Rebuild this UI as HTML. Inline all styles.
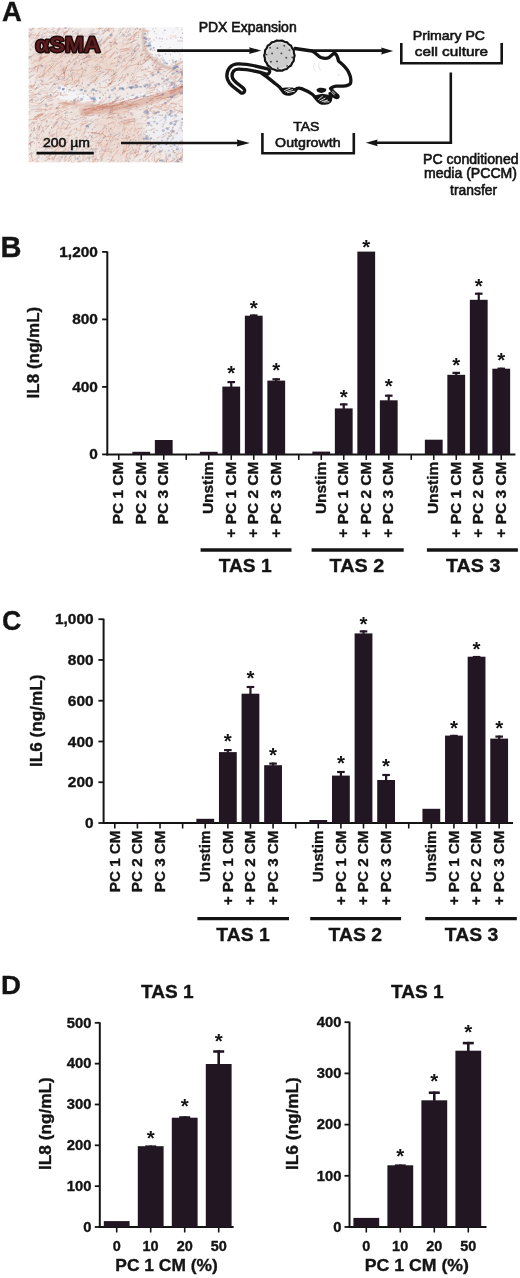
<!DOCTYPE html>
<html><head><meta charset="utf-8"><style>
html,body{margin:0;padding:0;background:#fff;}
svg{display:block;will-change:transform;}
text{-webkit-font-smoothing:antialiased;}
text{font-family:"Liberation Sans",sans-serif;}
</style></head><body>
<svg width="520" height="1278" viewBox="0 0 520 1278">
<rect width="520" height="1278" fill="#ffffff"/>
<defs><clipPath id="hc"><rect x="28.5" y="27.5" width="154.5" height="135.0"/></clipPath>
<filter id="b1" x="-10%" y="-10%" width="120%" height="120%"><feGaussianBlur stdDeviation="0.4"/></filter>
<filter id="b2" x="-30%" y="-30%" width="160%" height="160%"><feGaussianBlur stdDeviation="3"/></filter>
<filter id="b3" x="-30%" y="-30%" width="160%" height="160%"><feGaussianBlur stdDeviation="1.0"/></filter>
</defs>
<g clip-path="url(#hc)">
<rect x="28.5" y="27.5" width="154.5" height="135.0" fill="#efe8e5"/>
<g filter="url(#b2)">
<ellipse cx="70" cy="62" rx="40" ry="22" fill="#ebd2c6" opacity="0.6"/>
<ellipse cx="120" cy="60" rx="22" ry="20" fill="#ecd5ca" opacity="0.5"/>
<ellipse cx="60" cy="125" rx="30" ry="25" fill="#eedcd3" opacity="0.4"/>
<ellipse cx="118" cy="135" rx="25" ry="25" fill="#ebd0c4" opacity="0.55"/>
<ellipse cx="170" cy="40" rx="18" ry="16" fill="#f2f2f4" opacity="0.95"/>
<ellipse cx="172" cy="132" rx="13" ry="18" fill="#eceef3" opacity="0.85"/>
<ellipse cx="172" cy="88" rx="10" ry="9" fill="#eeeef2" opacity="0.8"/>
</g>
<g filter="url(#b3)">
<path d="M146,26 C144,36 145,46 151,54 C158,61 168,67 186,71 L186,26 Z" fill="#f6f6f8"/>
<path d="M54,92 C55,86 64,84 72,88 C82,94 95,99 110,99 C126,98 145,93 160,88 C170,85 178,82 186,79 L186,84 C176,88 165,93 152,97 C135,102 118,104 100,104 C85,103 70,101 60,99 C56,98 54,95 54,92 Z" fill="#f4f4f7"/>
<path d="M146,118 C152,113 170,112 186,114 L186,150 C175,152 160,150 152,146 C147,138 144,126 146,118 Z" fill="#eff0f4" opacity="0.8"/>
</g>
<g filter="url(#b1)">
<line x1="75.1" y1="48.2" x2="79.9" y2="43.4" stroke="#bd6a50" stroke-width="1.05" opacity="0.37"/>
<line x1="57.9" y1="38.8" x2="62.0" y2="34.5" stroke="#e0a892" stroke-width="0.78" opacity="0.18"/>
<line x1="125.5" y1="163.0" x2="126.9" y2="153.3" stroke="#d08068" stroke-width="0.62" opacity="0.36"/>
<line x1="89.6" y1="102.1" x2="96.0" y2="99.3" stroke="#b8a0a8" stroke-width="0.65" opacity="0.45"/>
<line x1="117.4" y1="115.5" x2="120.3" y2="113.7" stroke="#d08068" stroke-width="0.82" opacity="0.38"/>
<line x1="108.1" y1="135.6" x2="113.6" y2="132.6" stroke="#a8909a" stroke-width="0.69" opacity="0.28"/>
<line x1="51.6" y1="136.2" x2="57.1" y2="132.7" stroke="#bd6a50" stroke-width="0.71" opacity="0.42"/>
<line x1="143.9" y1="46.7" x2="150.1" y2="45.2" stroke="#d08068" stroke-width="0.59" opacity="0.51"/>
<line x1="113.1" y1="137.6" x2="117.0" y2="133.9" stroke="#a8909a" stroke-width="0.80" opacity="0.36"/>
<line x1="159.8" y1="160.8" x2="160.9" y2="154.6" stroke="#d8957e" stroke-width="0.94" opacity="0.17"/>
<line x1="127.3" y1="166.5" x2="131.4" y2="162.5" stroke="#bd6a50" stroke-width="0.80" opacity="0.16"/>
<line x1="51.5" y1="42.4" x2="53.4" y2="39.6" stroke="#cc8a70" stroke-width="0.69" opacity="0.20"/>
<line x1="85.2" y1="148.9" x2="91.3" y2="145.9" stroke="#c7745a" stroke-width="1.03" opacity="0.45"/>
<line x1="67.8" y1="84.4" x2="72.6" y2="81.7" stroke="#dba08a" stroke-width="0.63" opacity="0.50"/>
<line x1="51.0" y1="59.4" x2="56.6" y2="55.0" stroke="#cc8a70" stroke-width="0.63" opacity="0.25"/>
<line x1="108.7" y1="110.2" x2="113.9" y2="110.7" stroke="#c7745a" stroke-width="0.83" opacity="0.41"/>
<line x1="120.7" y1="118.3" x2="128.6" y2="121.4" stroke="#b8a0a8" stroke-width="0.77" opacity="0.30"/>
<line x1="40.4" y1="114.0" x2="43.8" y2="113.9" stroke="#d8957e" stroke-width="0.79" opacity="0.51"/>
<line x1="39.8" y1="109.0" x2="46.5" y2="109.4" stroke="#bd6a50" stroke-width="0.59" opacity="0.38"/>
<line x1="55.4" y1="79.0" x2="62.3" y2="76.1" stroke="#bd6a50" stroke-width="0.81" opacity="0.37"/>
<line x1="41.4" y1="93.0" x2="46.6" y2="93.6" stroke="#c7745a" stroke-width="0.74" opacity="0.19"/>
<line x1="67.0" y1="143.2" x2="69.0" y2="139.6" stroke="#d08068" stroke-width="1.07" opacity="0.23"/>
<line x1="81.1" y1="121.3" x2="86.1" y2="122.3" stroke="#d8957e" stroke-width="0.69" opacity="0.41"/>
<line x1="82.2" y1="51.7" x2="86.5" y2="44.4" stroke="#b8a0a8" stroke-width="0.83" opacity="0.35"/>
<line x1="125.5" y1="111.3" x2="129.8" y2="110.7" stroke="#e0a892" stroke-width="0.96" opacity="0.45"/>
<line x1="29.6" y1="30.8" x2="30.8" y2="26.0" stroke="#cc8a70" stroke-width="0.88" opacity="0.22"/>
<line x1="78.3" y1="142.7" x2="83.2" y2="134.3" stroke="#d8957e" stroke-width="0.67" opacity="0.23"/>
<line x1="55.2" y1="56.5" x2="58.9" y2="50.1" stroke="#9a8896" stroke-width="0.81" opacity="0.46"/>
<line x1="125.8" y1="138.6" x2="134.8" y2="135.9" stroke="#e0a892" stroke-width="0.65" opacity="0.33"/>
<line x1="147.9" y1="71.7" x2="156.4" y2="71.1" stroke="#dba08a" stroke-width="0.96" opacity="0.32"/>
<line x1="36.2" y1="48.9" x2="42.1" y2="44.9" stroke="#a8909a" stroke-width="0.63" opacity="0.45"/>
<line x1="156.0" y1="165.8" x2="160.3" y2="159.6" stroke="#bd6a50" stroke-width="0.85" opacity="0.21"/>
<line x1="26.7" y1="140.7" x2="31.2" y2="133.7" stroke="#c7745a" stroke-width="1.03" opacity="0.31"/>
<line x1="156.2" y1="55.7" x2="160.0" y2="52.8" stroke="#cc8a70" stroke-width="0.97" opacity="0.34"/>
<line x1="73.8" y1="102.1" x2="81.8" y2="100.4" stroke="#a8909a" stroke-width="1.00" opacity="0.40"/>
<line x1="106.4" y1="145.2" x2="110.4" y2="137.0" stroke="#c7745a" stroke-width="0.84" opacity="0.35"/>
<line x1="24.6" y1="88.3" x2="32.4" y2="84.8" stroke="#c7745a" stroke-width="0.89" opacity="0.20"/>
<line x1="41.8" y1="35.6" x2="47.9" y2="30.8" stroke="#b8a0a8" stroke-width="0.98" opacity="0.36"/>
<line x1="38.5" y1="104.6" x2="46.6" y2="102.4" stroke="#b8a0a8" stroke-width="0.57" opacity="0.32"/>
<line x1="179.5" y1="110.0" x2="183.9" y2="109.9" stroke="#cc8a70" stroke-width="0.84" opacity="0.32"/>
<line x1="100.9" y1="161.9" x2="103.5" y2="152.6" stroke="#cc8a70" stroke-width="1.04" opacity="0.49"/>
<line x1="57.5" y1="90.5" x2="58.6" y2="84.7" stroke="#dba08a" stroke-width="0.59" opacity="0.31"/>
<line x1="61.7" y1="38.8" x2="66.5" y2="30.8" stroke="#c7745a" stroke-width="0.90" opacity="0.50"/>
<line x1="83.7" y1="62.1" x2="84.8" y2="58.3" stroke="#a8909a" stroke-width="1.07" opacity="0.23"/>
<line x1="86.5" y1="94.1" x2="92.3" y2="92.3" stroke="#b8a0a8" stroke-width="0.78" opacity="0.30"/>
<line x1="81.0" y1="39.7" x2="84.5" y2="35.3" stroke="#bd6a50" stroke-width="0.79" opacity="0.35"/>
<line x1="27.5" y1="72.7" x2="29.3" y2="69.8" stroke="#e0a892" stroke-width="0.61" opacity="0.51"/>
<line x1="65.9" y1="33.7" x2="70.3" y2="26.5" stroke="#cc8a70" stroke-width="1.00" opacity="0.43"/>
<line x1="159.1" y1="121.6" x2="164.6" y2="118.0" stroke="#a8909a" stroke-width="0.60" opacity="0.41"/>
<line x1="31.7" y1="121.7" x2="37.7" y2="121.4" stroke="#d8957e" stroke-width="0.56" opacity="0.25"/>
<line x1="38.2" y1="63.2" x2="41.2" y2="59.3" stroke="#d8957e" stroke-width="0.74" opacity="0.32"/>
<line x1="113.4" y1="157.4" x2="115.2" y2="152.9" stroke="#c7745a" stroke-width="0.94" opacity="0.17"/>
<line x1="173.4" y1="165.1" x2="178.7" y2="157.2" stroke="#cc8a70" stroke-width="0.66" opacity="0.35"/>
<line x1="94.6" y1="119.4" x2="99.5" y2="119.1" stroke="#d08068" stroke-width="0.57" opacity="0.52"/>
<line x1="26.1" y1="95.5" x2="30.8" y2="96.1" stroke="#a8909a" stroke-width="1.00" opacity="0.19"/>
<line x1="92.4" y1="95.7" x2="97.4" y2="92.9" stroke="#b8a0a8" stroke-width="0.67" opacity="0.26"/>
<line x1="60.4" y1="53.0" x2="64.3" y2="52.0" stroke="#bd6a50" stroke-width="1.01" opacity="0.51"/>
<line x1="24.0" y1="115.3" x2="31.6" y2="110.1" stroke="#dba08a" stroke-width="0.60" opacity="0.21"/>
<line x1="159.2" y1="149.4" x2="161.8" y2="145.1" stroke="#a8909a" stroke-width="0.70" opacity="0.22"/>
<line x1="23.7" y1="76.9" x2="28.5" y2="74.8" stroke="#b8a0a8" stroke-width="0.57" opacity="0.27"/>
<line x1="77.7" y1="38.0" x2="81.0" y2="34.6" stroke="#d08068" stroke-width="1.00" opacity="0.18"/>
<line x1="45.8" y1="106.7" x2="51.4" y2="107.8" stroke="#cc8a70" stroke-width="0.68" opacity="0.26"/>
<line x1="115.9" y1="100.8" x2="123.1" y2="97.4" stroke="#9a8896" stroke-width="0.73" opacity="0.29"/>
<line x1="127.4" y1="34.9" x2="130.1" y2="26.5" stroke="#b8a0a8" stroke-width="0.95" opacity="0.38"/>
<line x1="103.6" y1="144.3" x2="109.3" y2="140.1" stroke="#e0a892" stroke-width="0.57" opacity="0.18"/>
<line x1="128.6" y1="162.5" x2="126.9" y2="157.1" stroke="#a8909a" stroke-width="0.90" opacity="0.36"/>
<line x1="121.9" y1="121.7" x2="130.1" y2="119.3" stroke="#b8a0a8" stroke-width="0.60" opacity="0.48"/>
<line x1="108.1" y1="132.2" x2="111.7" y2="127.1" stroke="#d8957e" stroke-width="0.68" opacity="0.46"/>
<line x1="143.7" y1="60.1" x2="150.2" y2="54.0" stroke="#d8957e" stroke-width="0.93" opacity="0.33"/>
<line x1="145.4" y1="113.4" x2="151.8" y2="109.6" stroke="#d8957e" stroke-width="0.73" opacity="0.37"/>
<line x1="127.1" y1="123.4" x2="133.0" y2="121.0" stroke="#a8909a" stroke-width="0.92" opacity="0.25"/>
<line x1="134.3" y1="120.7" x2="138.9" y2="118.8" stroke="#b8a0a8" stroke-width="0.81" opacity="0.26"/>
<line x1="148.3" y1="166.3" x2="149.0" y2="162.8" stroke="#a8909a" stroke-width="0.80" opacity="0.16"/>
<line x1="155.7" y1="163.7" x2="158.5" y2="158.3" stroke="#cc8a70" stroke-width="1.05" opacity="0.29"/>
<line x1="143.0" y1="64.2" x2="147.9" y2="58.6" stroke="#cc8a70" stroke-width="0.94" opacity="0.48"/>
<line x1="59.7" y1="152.4" x2="65.6" y2="149.8" stroke="#d08068" stroke-width="1.07" opacity="0.21"/>
<line x1="132.8" y1="83.6" x2="136.9" y2="79.7" stroke="#d8957e" stroke-width="0.55" opacity="0.46"/>
<line x1="145.9" y1="144.7" x2="146.1" y2="140.9" stroke="#e0a892" stroke-width="1.05" opacity="0.41"/>
<line x1="72.8" y1="80.5" x2="71.2" y2="73.5" stroke="#bd6a50" stroke-width="0.97" opacity="0.49"/>
<line x1="161.3" y1="63.0" x2="163.9" y2="65.1" stroke="#cc8a70" stroke-width="0.63" opacity="0.38"/>
<line x1="178.3" y1="89.0" x2="184.4" y2="83.0" stroke="#dba08a" stroke-width="1.00" opacity="0.48"/>
<line x1="122.0" y1="153.9" x2="131.5" y2="152.7" stroke="#b8a0a8" stroke-width="0.59" opacity="0.23"/>
<line x1="171.7" y1="85.1" x2="179.0" y2="79.7" stroke="#a8909a" stroke-width="1.06" opacity="0.17"/>
<line x1="43.7" y1="92.6" x2="48.1" y2="89.5" stroke="#cc8a70" stroke-width="0.96" opacity="0.24"/>
<line x1="127.3" y1="84.2" x2="133.3" y2="79.4" stroke="#d8957e" stroke-width="0.64" opacity="0.21"/>
<line x1="55.8" y1="153.4" x2="61.9" y2="151.1" stroke="#e0a892" stroke-width="0.73" opacity="0.32"/>
<line x1="145.9" y1="86.3" x2="148.9" y2="83.3" stroke="#b8a0a8" stroke-width="0.68" opacity="0.18"/>
<line x1="62.6" y1="106.3" x2="71.3" y2="103.3" stroke="#dba08a" stroke-width="0.96" opacity="0.29"/>
<line x1="56.5" y1="64.8" x2="61.9" y2="60.4" stroke="#bd6a50" stroke-width="0.83" opacity="0.20"/>
<line x1="126.6" y1="148.4" x2="126.5" y2="143.9" stroke="#cc8a70" stroke-width="0.76" opacity="0.48"/>
<line x1="125.7" y1="88.8" x2="132.6" y2="82.0" stroke="#c7745a" stroke-width="0.94" opacity="0.16"/>
<line x1="166.0" y1="89.9" x2="172.5" y2="92.6" stroke="#d08068" stroke-width="1.06" opacity="0.18"/>
<line x1="172.0" y1="102.4" x2="176.9" y2="95.5" stroke="#e0a892" stroke-width="0.84" opacity="0.21"/>
<line x1="132.3" y1="160.3" x2="137.6" y2="154.2" stroke="#a8909a" stroke-width="0.98" opacity="0.18"/>
<line x1="22.9" y1="45.1" x2="28.5" y2="39.4" stroke="#c7745a" stroke-width="0.84" opacity="0.38"/>
<line x1="94.7" y1="133.8" x2="96.7" y2="130.6" stroke="#cc8a70" stroke-width="0.87" opacity="0.34"/>
<line x1="85.9" y1="57.8" x2="89.7" y2="54.3" stroke="#a8909a" stroke-width="0.72" opacity="0.25"/>
<line x1="157.3" y1="60.2" x2="163.2" y2="57.1" stroke="#b8a0a8" stroke-width="1.08" opacity="0.24"/>
<line x1="134.9" y1="68.8" x2="142.3" y2="66.9" stroke="#dba08a" stroke-width="0.68" opacity="0.18"/>
<line x1="91.0" y1="78.6" x2="96.2" y2="74.8" stroke="#bd6a50" stroke-width="0.75" opacity="0.42"/>
<line x1="88.0" y1="26.8" x2="90.2" y2="24.1" stroke="#a8909a" stroke-width="0.72" opacity="0.51"/>
<line x1="155.1" y1="56.0" x2="159.1" y2="58.1" stroke="#cc8a70" stroke-width="0.89" opacity="0.19"/>
<line x1="124.3" y1="152.4" x2="122.6" y2="149.4" stroke="#9a8896" stroke-width="0.77" opacity="0.20"/>
<line x1="58.4" y1="163.4" x2="61.0" y2="160.3" stroke="#d08068" stroke-width="0.65" opacity="0.41"/>
<line x1="96.0" y1="125.5" x2="99.4" y2="124.3" stroke="#c7745a" stroke-width="0.65" opacity="0.27"/>
<line x1="129.7" y1="79.3" x2="134.6" y2="76.5" stroke="#bd6a50" stroke-width="0.61" opacity="0.31"/>
<line x1="37.5" y1="39.3" x2="38.7" y2="32.5" stroke="#e0a892" stroke-width="0.97" opacity="0.29"/>
<line x1="73.4" y1="138.6" x2="76.7" y2="137.1" stroke="#a8909a" stroke-width="0.85" opacity="0.22"/>
<line x1="94.4" y1="72.6" x2="99.9" y2="67.6" stroke="#e0a892" stroke-width="0.97" opacity="0.45"/>
<line x1="31.3" y1="31.0" x2="32.8" y2="27.9" stroke="#d08068" stroke-width="0.96" opacity="0.25"/>
<line x1="166.7" y1="74.4" x2="172.7" y2="70.2" stroke="#cc8a70" stroke-width="0.93" opacity="0.43"/>
<line x1="171.0" y1="63.6" x2="176.7" y2="69.3" stroke="#9a8896" stroke-width="0.90" opacity="0.49"/>
<line x1="99.6" y1="160.5" x2="103.9" y2="158.3" stroke="#dba08a" stroke-width="0.62" opacity="0.45"/>
<line x1="101.9" y1="29.2" x2="108.5" y2="22.3" stroke="#cc8a70" stroke-width="0.98" opacity="0.45"/>
<line x1="120.2" y1="73.9" x2="125.8" y2="67.5" stroke="#d8957e" stroke-width="0.77" opacity="0.34"/>
<line x1="47.6" y1="83.4" x2="54.7" y2="80.6" stroke="#a8909a" stroke-width="0.73" opacity="0.35"/>
<line x1="181.8" y1="150.6" x2="183.9" y2="147.5" stroke="#a8909a" stroke-width="1.08" opacity="0.52"/>
<line x1="50.6" y1="44.8" x2="56.0" y2="41.6" stroke="#e0a892" stroke-width="1.02" opacity="0.43"/>
<line x1="129.1" y1="43.3" x2="135.2" y2="39.8" stroke="#bd6a50" stroke-width="0.69" opacity="0.24"/>
<line x1="94.7" y1="52.6" x2="97.3" y2="48.8" stroke="#cc8a70" stroke-width="0.87" opacity="0.48"/>
<line x1="75.6" y1="80.9" x2="80.1" y2="79.8" stroke="#d8957e" stroke-width="1.10" opacity="0.39"/>
<line x1="38.0" y1="93.4" x2="45.8" y2="89.5" stroke="#a8909a" stroke-width="0.57" opacity="0.49"/>
<line x1="69.3" y1="42.4" x2="76.0" y2="40.2" stroke="#d8957e" stroke-width="1.03" opacity="0.29"/>
<line x1="93.5" y1="60.1" x2="101.7" y2="62.2" stroke="#d08068" stroke-width="0.88" opacity="0.19"/>
<line x1="123.5" y1="56.8" x2="126.5" y2="53.5" stroke="#cc8a70" stroke-width="0.95" opacity="0.16"/>
<line x1="170.0" y1="141.4" x2="174.3" y2="137.4" stroke="#bd6a50" stroke-width="0.72" opacity="0.22"/>
<line x1="57.4" y1="138.3" x2="58.9" y2="134.9" stroke="#dba08a" stroke-width="0.64" opacity="0.40"/>
<line x1="108.4" y1="117.4" x2="114.0" y2="115.7" stroke="#cc8a70" stroke-width="0.71" opacity="0.30"/>
<line x1="73.9" y1="161.5" x2="75.8" y2="156.3" stroke="#dba08a" stroke-width="0.97" opacity="0.16"/>
<line x1="87.6" y1="158.3" x2="93.4" y2="156.3" stroke="#c7745a" stroke-width="1.00" opacity="0.31"/>
<line x1="90.2" y1="150.5" x2="91.2" y2="147.5" stroke="#b8a0a8" stroke-width="0.99" opacity="0.20"/>
<line x1="84.5" y1="106.3" x2="93.8" y2="104.3" stroke="#b8a0a8" stroke-width="0.74" opacity="0.21"/>
<line x1="47.6" y1="50.2" x2="55.4" y2="47.3" stroke="#e0a892" stroke-width="1.01" opacity="0.26"/>
<line x1="30.6" y1="155.0" x2="34.4" y2="151.4" stroke="#9a8896" stroke-width="0.76" opacity="0.49"/>
<line x1="166.4" y1="112.7" x2="174.8" y2="111.2" stroke="#e0a892" stroke-width="0.89" opacity="0.38"/>
<line x1="54.3" y1="93.4" x2="59.7" y2="89.0" stroke="#d08068" stroke-width="0.83" opacity="0.30"/>
<line x1="83.5" y1="44.8" x2="90.7" y2="38.9" stroke="#d08068" stroke-width="1.01" opacity="0.48"/>
<line x1="130.8" y1="118.0" x2="136.0" y2="119.3" stroke="#dba08a" stroke-width="0.85" opacity="0.37"/>
<line x1="124.9" y1="70.4" x2="127.4" y2="65.0" stroke="#bd6a50" stroke-width="0.79" opacity="0.32"/>
<line x1="26.0" y1="112.0" x2="32.5" y2="111.6" stroke="#e0a892" stroke-width="0.89" opacity="0.32"/>
<line x1="155.7" y1="144.9" x2="158.1" y2="140.0" stroke="#bd6a50" stroke-width="0.79" opacity="0.18"/>
<line x1="104.3" y1="32.4" x2="110.4" y2="28.1" stroke="#d8957e" stroke-width="0.72" opacity="0.49"/>
<line x1="138.2" y1="38.2" x2="144.0" y2="33.4" stroke="#c7745a" stroke-width="0.59" opacity="0.16"/>
<line x1="122.9" y1="123.7" x2="125.2" y2="120.6" stroke="#c7745a" stroke-width="0.82" opacity="0.51"/>
<line x1="174.8" y1="155.9" x2="183.2" y2="151.4" stroke="#d8957e" stroke-width="0.89" opacity="0.46"/>
<line x1="62.4" y1="70.6" x2="69.6" y2="69.7" stroke="#a8909a" stroke-width="0.83" opacity="0.20"/>
<line x1="104.9" y1="70.4" x2="108.6" y2="68.6" stroke="#cc8a70" stroke-width="1.04" opacity="0.40"/>
<line x1="51.4" y1="136.6" x2="53.8" y2="133.7" stroke="#b8a0a8" stroke-width="1.02" opacity="0.17"/>
<line x1="178.8" y1="92.7" x2="182.4" y2="84.1" stroke="#cc8a70" stroke-width="0.90" opacity="0.52"/>
<line x1="87.6" y1="139.1" x2="89.9" y2="134.8" stroke="#bd6a50" stroke-width="0.75" opacity="0.36"/>
<line x1="146.6" y1="87.0" x2="149.9" y2="86.7" stroke="#b8a0a8" stroke-width="0.90" opacity="0.24"/>
<line x1="179.7" y1="106.3" x2="187.2" y2="107.9" stroke="#bd6a50" stroke-width="0.96" opacity="0.42"/>
<line x1="59.5" y1="67.8" x2="62.6" y2="63.2" stroke="#d08068" stroke-width="0.67" opacity="0.20"/>
<line x1="129.5" y1="28.9" x2="131.2" y2="26.4" stroke="#bd6a50" stroke-width="0.84" opacity="0.26"/>
<line x1="109.2" y1="84.7" x2="113.2" y2="80.8" stroke="#a8909a" stroke-width="0.56" opacity="0.21"/>
<line x1="32.4" y1="46.7" x2="39.1" y2="43.1" stroke="#cc8a70" stroke-width="0.70" opacity="0.30"/>
<line x1="24.1" y1="117.3" x2="30.6" y2="113.5" stroke="#a8909a" stroke-width="0.83" opacity="0.37"/>
<line x1="103.6" y1="48.9" x2="105.6" y2="46.7" stroke="#d08068" stroke-width="0.77" opacity="0.35"/>
<line x1="61.0" y1="34.9" x2="66.3" y2="30.6" stroke="#e0a892" stroke-width="0.66" opacity="0.20"/>
<line x1="70.3" y1="34.5" x2="77.0" y2="28.2" stroke="#a8909a" stroke-width="0.55" opacity="0.41"/>
<line x1="38.5" y1="58.7" x2="46.3" y2="55.8" stroke="#cc8a70" stroke-width="0.70" opacity="0.41"/>
<line x1="110.4" y1="87.4" x2="118.4" y2="84.6" stroke="#b8a0a8" stroke-width="0.71" opacity="0.51"/>
<line x1="172.6" y1="151.4" x2="176.4" y2="149.7" stroke="#e0a892" stroke-width="0.66" opacity="0.46"/>
<line x1="49.3" y1="154.8" x2="52.8" y2="152.2" stroke="#dba08a" stroke-width="0.68" opacity="0.27"/>
<line x1="166.7" y1="115.5" x2="175.7" y2="111.4" stroke="#a8909a" stroke-width="0.84" opacity="0.32"/>
<line x1="24.9" y1="32.8" x2="28.1" y2="23.7" stroke="#e0a892" stroke-width="0.72" opacity="0.36"/>
<line x1="57.6" y1="111.6" x2="61.4" y2="113.0" stroke="#d08068" stroke-width="0.89" opacity="0.19"/>
<line x1="47.9" y1="163.9" x2="55.1" y2="160.7" stroke="#d08068" stroke-width="0.93" opacity="0.17"/>
<line x1="123.8" y1="123.7" x2="130.7" y2="121.8" stroke="#bd6a50" stroke-width="1.08" opacity="0.22"/>
<line x1="106.9" y1="119.8" x2="115.4" y2="116.5" stroke="#dba08a" stroke-width="0.66" opacity="0.19"/>
<line x1="39.9" y1="30.4" x2="47.0" y2="28.3" stroke="#cc8a70" stroke-width="0.62" opacity="0.33"/>
<line x1="78.7" y1="63.9" x2="80.3" y2="58.7" stroke="#cc8a70" stroke-width="0.97" opacity="0.17"/>
<line x1="170.9" y1="137.0" x2="172.4" y2="128.9" stroke="#dba08a" stroke-width="0.84" opacity="0.16"/>
<line x1="39.7" y1="91.2" x2="42.8" y2="90.0" stroke="#9a8896" stroke-width="1.02" opacity="0.23"/>
<line x1="38.8" y1="141.9" x2="41.4" y2="138.3" stroke="#d08068" stroke-width="0.82" opacity="0.15"/>
<line x1="103.1" y1="138.6" x2="105.7" y2="135.1" stroke="#a8909a" stroke-width="1.08" opacity="0.37"/>
<line x1="103.4" y1="105.8" x2="113.0" y2="106.2" stroke="#e0a892" stroke-width="0.61" opacity="0.33"/>
<line x1="123.4" y1="36.4" x2="131.9" y2="35.5" stroke="#b8a0a8" stroke-width="0.90" opacity="0.44"/>
<line x1="82.2" y1="82.8" x2="83.0" y2="79.3" stroke="#d08068" stroke-width="0.72" opacity="0.29"/>
<line x1="92.1" y1="101.0" x2="96.3" y2="101.6" stroke="#e0a892" stroke-width="0.62" opacity="0.50"/>
<line x1="117.5" y1="122.8" x2="124.2" y2="120.5" stroke="#b8a0a8" stroke-width="1.01" opacity="0.21"/>
<line x1="130.7" y1="130.9" x2="132.8" y2="127.3" stroke="#a8909a" stroke-width="0.69" opacity="0.40"/>
<line x1="61.0" y1="74.5" x2="64.2" y2="68.7" stroke="#cc8a70" stroke-width="0.94" opacity="0.26"/>
<line x1="63.9" y1="73.6" x2="66.6" y2="67.5" stroke="#c7745a" stroke-width="1.08" opacity="0.24"/>
<line x1="64.0" y1="161.4" x2="70.1" y2="156.9" stroke="#e0a892" stroke-width="1.09" opacity="0.29"/>
<line x1="55.2" y1="115.0" x2="58.8" y2="114.0" stroke="#e0a892" stroke-width="0.81" opacity="0.48"/>
<line x1="26.2" y1="149.7" x2="28.8" y2="140.2" stroke="#cc8a70" stroke-width="0.63" opacity="0.32"/>
<line x1="119.0" y1="83.8" x2="125.8" y2="79.3" stroke="#dba08a" stroke-width="0.87" opacity="0.41"/>
<line x1="128.3" y1="148.2" x2="130.4" y2="139.3" stroke="#9a8896" stroke-width="0.92" opacity="0.47"/>
<line x1="125.2" y1="41.0" x2="127.5" y2="35.6" stroke="#dba08a" stroke-width="0.90" opacity="0.41"/>
<line x1="64.6" y1="87.0" x2="66.7" y2="81.5" stroke="#c7745a" stroke-width="0.73" opacity="0.48"/>
<line x1="23.8" y1="145.0" x2="30.6" y2="138.6" stroke="#d8957e" stroke-width="0.85" opacity="0.16"/>
<line x1="49.6" y1="135.4" x2="53.0" y2="134.1" stroke="#9a8896" stroke-width="0.66" opacity="0.32"/>
<line x1="99.1" y1="30.0" x2="104.6" y2="23.5" stroke="#bd6a50" stroke-width="0.78" opacity="0.34"/>
<line x1="85.8" y1="131.7" x2="91.2" y2="132.4" stroke="#d08068" stroke-width="0.76" opacity="0.24"/>
<line x1="30.7" y1="34.8" x2="40.1" y2="35.4" stroke="#bd6a50" stroke-width="0.61" opacity="0.36"/>
<line x1="69.4" y1="79.6" x2="79.0" y2="82.4" stroke="#dba08a" stroke-width="0.64" opacity="0.32"/>
<line x1="53.0" y1="117.0" x2="60.0" y2="113.1" stroke="#c7745a" stroke-width="0.90" opacity="0.28"/>
<line x1="70.0" y1="101.4" x2="75.4" y2="102.2" stroke="#e0a892" stroke-width="0.76" opacity="0.25"/>
<line x1="64.1" y1="85.0" x2="68.3" y2="84.2" stroke="#d08068" stroke-width="0.99" opacity="0.45"/>
<line x1="79.6" y1="118.3" x2="86.3" y2="115.3" stroke="#d8957e" stroke-width="0.75" opacity="0.39"/>
<line x1="154.5" y1="153.9" x2="162.3" y2="150.5" stroke="#c7745a" stroke-width="0.74" opacity="0.35"/>
<line x1="116.5" y1="117.8" x2="121.4" y2="116.6" stroke="#9a8896" stroke-width="0.63" opacity="0.19"/>
<line x1="61.0" y1="135.8" x2="65.0" y2="132.1" stroke="#c7745a" stroke-width="0.77" opacity="0.23"/>
<line x1="109.8" y1="111.5" x2="112.8" y2="109.4" stroke="#b8a0a8" stroke-width="1.01" opacity="0.44"/>
<line x1="55.5" y1="125.1" x2="58.8" y2="119.3" stroke="#a8909a" stroke-width="0.61" opacity="0.40"/>
<line x1="41.5" y1="85.2" x2="47.5" y2="81.9" stroke="#a8909a" stroke-width="0.63" opacity="0.32"/>
<line x1="97.4" y1="105.9" x2="103.8" y2="101.7" stroke="#a8909a" stroke-width="0.78" opacity="0.29"/>
<line x1="125.6" y1="32.9" x2="129.6" y2="24.2" stroke="#bd6a50" stroke-width="0.60" opacity="0.45"/>
<line x1="103.0" y1="133.3" x2="103.4" y2="129.3" stroke="#e0a892" stroke-width="0.89" opacity="0.42"/>
<line x1="79.1" y1="149.3" x2="80.6" y2="142.7" stroke="#e0a892" stroke-width="0.74" opacity="0.26"/>
<line x1="63.5" y1="32.9" x2="68.2" y2="31.0" stroke="#bd6a50" stroke-width="0.77" opacity="0.46"/>
<line x1="107.0" y1="66.5" x2="105.7" y2="59.1" stroke="#d8957e" stroke-width="0.72" opacity="0.27"/>
<line x1="70.0" y1="108.3" x2="77.1" y2="106.1" stroke="#d08068" stroke-width="0.85" opacity="0.30"/>
<line x1="89.1" y1="106.1" x2="92.2" y2="104.8" stroke="#a8909a" stroke-width="0.91" opacity="0.38"/>
<line x1="149.6" y1="155.4" x2="154.6" y2="150.1" stroke="#9a8896" stroke-width="0.92" opacity="0.20"/>
<line x1="133.6" y1="150.8" x2="138.6" y2="145.3" stroke="#c7745a" stroke-width="0.65" opacity="0.19"/>
<line x1="28.5" y1="137.3" x2="34.4" y2="130.1" stroke="#d08068" stroke-width="1.00" opacity="0.29"/>
<line x1="148.9" y1="104.6" x2="154.6" y2="102.9" stroke="#bd6a50" stroke-width="0.86" opacity="0.16"/>
<line x1="115.5" y1="155.0" x2="121.1" y2="151.7" stroke="#b8a0a8" stroke-width="0.62" opacity="0.16"/>
<line x1="154.0" y1="105.6" x2="157.1" y2="105.7" stroke="#dba08a" stroke-width="1.10" opacity="0.37"/>
<line x1="128.7" y1="49.7" x2="133.9" y2="43.1" stroke="#b8a0a8" stroke-width="0.90" opacity="0.19"/>
<line x1="56.5" y1="48.3" x2="62.6" y2="43.5" stroke="#d8957e" stroke-width="1.02" opacity="0.52"/>
<line x1="58.1" y1="43.6" x2="63.0" y2="39.6" stroke="#cc8a70" stroke-width="0.68" opacity="0.42"/>
<line x1="139.2" y1="51.2" x2="147.2" y2="50.7" stroke="#c7745a" stroke-width="0.60" opacity="0.42"/>
<line x1="123.3" y1="124.8" x2="129.5" y2="124.2" stroke="#cc8a70" stroke-width="0.58" opacity="0.49"/>
<line x1="27.1" y1="34.0" x2="34.2" y2="32.1" stroke="#dba08a" stroke-width="0.95" opacity="0.27"/>
<line x1="51.9" y1="149.1" x2="52.4" y2="142.7" stroke="#d08068" stroke-width="1.07" opacity="0.27"/>
<line x1="177.4" y1="40.9" x2="183.8" y2="41.0" stroke="#a8909a" stroke-width="0.98" opacity="0.50"/>
<line x1="114.8" y1="65.9" x2="118.2" y2="65.5" stroke="#9a8896" stroke-width="0.88" opacity="0.27"/>
<line x1="180.5" y1="145.9" x2="184.2" y2="137.5" stroke="#dba08a" stroke-width="0.76" opacity="0.29"/>
<line x1="146.2" y1="57.4" x2="152.4" y2="57.7" stroke="#d08068" stroke-width="0.70" opacity="0.27"/>
<line x1="49.2" y1="156.2" x2="52.3" y2="152.4" stroke="#c7745a" stroke-width="1.03" opacity="0.45"/>
<line x1="116.4" y1="67.5" x2="118.2" y2="58.7" stroke="#b8a0a8" stroke-width="1.05" opacity="0.40"/>
<line x1="80.7" y1="38.6" x2="81.7" y2="34.3" stroke="#e0a892" stroke-width="0.58" opacity="0.26"/>
<line x1="84.7" y1="126.4" x2="93.3" y2="122.3" stroke="#9a8896" stroke-width="0.99" opacity="0.43"/>
<line x1="97.2" y1="37.9" x2="101.4" y2="35.8" stroke="#9a8896" stroke-width="0.69" opacity="0.34"/>
<line x1="158.1" y1="72.8" x2="160.4" y2="66.7" stroke="#e0a892" stroke-width="0.66" opacity="0.22"/>
<line x1="52.0" y1="124.8" x2="57.0" y2="121.9" stroke="#b8a0a8" stroke-width="0.69" opacity="0.47"/>
<line x1="169.1" y1="93.9" x2="178.1" y2="94.2" stroke="#bd6a50" stroke-width="0.98" opacity="0.38"/>
<line x1="49.2" y1="109.4" x2="52.0" y2="108.0" stroke="#d08068" stroke-width="1.03" opacity="0.23"/>
<line x1="114.0" y1="107.1" x2="118.5" y2="107.3" stroke="#cc8a70" stroke-width="1.07" opacity="0.31"/>
<line x1="147.4" y1="141.8" x2="149.9" y2="138.1" stroke="#c7745a" stroke-width="0.57" opacity="0.29"/>
<line x1="27.8" y1="78.8" x2="34.4" y2="74.4" stroke="#a8909a" stroke-width="1.05" opacity="0.50"/>
<line x1="31.3" y1="110.7" x2="40.3" y2="107.0" stroke="#cc8a70" stroke-width="0.68" opacity="0.27"/>
<line x1="37.6" y1="156.7" x2="42.2" y2="152.0" stroke="#c7745a" stroke-width="0.64" opacity="0.32"/>
<line x1="179.1" y1="166.3" x2="181.9" y2="162.4" stroke="#bd6a50" stroke-width="0.85" opacity="0.17"/>
<line x1="28.3" y1="155.8" x2="31.6" y2="152.3" stroke="#b8a0a8" stroke-width="0.91" opacity="0.41"/>
<line x1="145.2" y1="160.2" x2="148.1" y2="153.7" stroke="#d8957e" stroke-width="0.75" opacity="0.32"/>
<line x1="86.5" y1="79.7" x2="89.7" y2="75.0" stroke="#a8909a" stroke-width="0.63" opacity="0.24"/>
<line x1="133.1" y1="27.4" x2="135.5" y2="25.2" stroke="#e0a892" stroke-width="0.89" opacity="0.18"/>
<line x1="84.2" y1="134.2" x2="86.5" y2="126.1" stroke="#d8957e" stroke-width="0.76" opacity="0.49"/>
<line x1="26.8" y1="35.9" x2="31.2" y2="34.3" stroke="#d8957e" stroke-width="0.63" opacity="0.38"/>
<line x1="58.2" y1="35.2" x2="64.0" y2="29.8" stroke="#b8a0a8" stroke-width="0.79" opacity="0.48"/>
<line x1="46.8" y1="85.7" x2="52.2" y2="81.2" stroke="#cc8a70" stroke-width="0.64" opacity="0.27"/>
<line x1="100.5" y1="72.0" x2="108.1" y2="66.7" stroke="#d8957e" stroke-width="0.83" opacity="0.21"/>
<line x1="122.6" y1="137.1" x2="130.9" y2="134.0" stroke="#d8957e" stroke-width="0.66" opacity="0.25"/>
<line x1="82.5" y1="169.0" x2="85.5" y2="159.5" stroke="#e0a892" stroke-width="0.71" opacity="0.19"/>
<line x1="69.9" y1="162.5" x2="75.3" y2="162.4" stroke="#c7745a" stroke-width="0.98" opacity="0.31"/>
<line x1="174.4" y1="65.8" x2="179.6" y2="63.9" stroke="#d08068" stroke-width="0.67" opacity="0.49"/>
<line x1="113.6" y1="45.6" x2="120.8" y2="42.3" stroke="#e0a892" stroke-width="1.01" opacity="0.37"/>
<line x1="166.1" y1="127.9" x2="170.3" y2="127.2" stroke="#c7745a" stroke-width="0.94" opacity="0.38"/>
<line x1="151.8" y1="107.6" x2="159.7" y2="105.8" stroke="#dba08a" stroke-width="1.05" opacity="0.46"/>
<line x1="106.6" y1="74.8" x2="110.8" y2="72.2" stroke="#a8909a" stroke-width="0.78" opacity="0.18"/>
<line x1="145.1" y1="45.3" x2="150.8" y2="41.3" stroke="#bd6a50" stroke-width="0.94" opacity="0.16"/>
<line x1="117.0" y1="148.1" x2="118.5" y2="142.8" stroke="#a8909a" stroke-width="0.59" opacity="0.51"/>
<line x1="78.7" y1="60.2" x2="86.8" y2="57.8" stroke="#dba08a" stroke-width="1.04" opacity="0.36"/>
<line x1="71.8" y1="43.7" x2="72.8" y2="35.7" stroke="#a8909a" stroke-width="0.84" opacity="0.34"/>
<line x1="109.8" y1="28.3" x2="113.7" y2="26.5" stroke="#d8957e" stroke-width="0.86" opacity="0.27"/>
<line x1="175.3" y1="29.2" x2="182.4" y2="25.3" stroke="#cc8a70" stroke-width="0.88" opacity="0.16"/>
<line x1="41.0" y1="148.7" x2="43.1" y2="145.5" stroke="#a8909a" stroke-width="0.97" opacity="0.37"/>
<line x1="40.0" y1="45.0" x2="46.3" y2="38.3" stroke="#b8a0a8" stroke-width="1.02" opacity="0.37"/>
<line x1="44.9" y1="106.4" x2="53.4" y2="104.1" stroke="#dba08a" stroke-width="0.88" opacity="0.41"/>
<line x1="119.3" y1="33.5" x2="125.2" y2="25.7" stroke="#d08068" stroke-width="0.74" opacity="0.44"/>
<line x1="64.6" y1="76.0" x2="63.6" y2="67.5" stroke="#bd6a50" stroke-width="1.02" opacity="0.45"/>
<line x1="29.3" y1="96.9" x2="38.9" y2="98.0" stroke="#bd6a50" stroke-width="0.78" opacity="0.24"/>
<line x1="125.0" y1="78.1" x2="129.1" y2="73.6" stroke="#b8a0a8" stroke-width="0.67" opacity="0.40"/>
<line x1="89.3" y1="83.8" x2="96.8" y2="77.2" stroke="#a8909a" stroke-width="1.00" opacity="0.38"/>
<line x1="126.2" y1="64.5" x2="130.8" y2="59.5" stroke="#d08068" stroke-width="0.69" opacity="0.38"/>
<line x1="105.6" y1="89.1" x2="112.4" y2="82.2" stroke="#cc8a70" stroke-width="0.74" opacity="0.19"/>
<line x1="47.7" y1="32.4" x2="56.9" y2="33.7" stroke="#d8957e" stroke-width="0.84" opacity="0.32"/>
<line x1="48.1" y1="43.5" x2="50.5" y2="40.4" stroke="#cc8a70" stroke-width="0.87" opacity="0.49"/>
<line x1="67.8" y1="130.8" x2="71.2" y2="125.7" stroke="#9a8896" stroke-width="0.76" opacity="0.23"/>
<line x1="111.1" y1="80.1" x2="116.0" y2="72.3" stroke="#cc8a70" stroke-width="0.81" opacity="0.38"/>
<line x1="73.0" y1="60.3" x2="77.7" y2="57.0" stroke="#9a8896" stroke-width="1.06" opacity="0.30"/>
<line x1="49.1" y1="159.6" x2="54.0" y2="157.9" stroke="#bd6a50" stroke-width="0.71" opacity="0.33"/>
<line x1="182.4" y1="66.8" x2="185.6" y2="65.5" stroke="#bd6a50" stroke-width="0.58" opacity="0.31"/>
<line x1="84.7" y1="89.2" x2="90.8" y2="83.8" stroke="#d8957e" stroke-width="1.09" opacity="0.34"/>
<line x1="134.4" y1="158.2" x2="134.1" y2="154.2" stroke="#e0a892" stroke-width="1.02" opacity="0.38"/>
<line x1="142.1" y1="133.3" x2="147.5" y2="129.9" stroke="#c7745a" stroke-width="0.61" opacity="0.30"/>
<line x1="86.4" y1="102.2" x2="96.3" y2="101.9" stroke="#c7745a" stroke-width="0.98" opacity="0.30"/>
<line x1="162.8" y1="110.3" x2="168.4" y2="110.0" stroke="#a8909a" stroke-width="0.71" opacity="0.41"/>
<line x1="80.8" y1="77.8" x2="83.4" y2="70.7" stroke="#d08068" stroke-width="1.02" opacity="0.44"/>
<line x1="103.8" y1="88.2" x2="107.5" y2="86.0" stroke="#cc8a70" stroke-width="0.79" opacity="0.45"/>
<line x1="81.8" y1="59.8" x2="90.2" y2="54.7" stroke="#9a8896" stroke-width="1.08" opacity="0.46"/>
<line x1="55.8" y1="88.6" x2="60.8" y2="80.7" stroke="#d08068" stroke-width="0.69" opacity="0.16"/>
<line x1="166.9" y1="69.5" x2="171.7" y2="64.0" stroke="#dba08a" stroke-width="0.83" opacity="0.34"/>
<line x1="133.5" y1="81.3" x2="137.4" y2="77.5" stroke="#9a8896" stroke-width="0.80" opacity="0.40"/>
<line x1="24.6" y1="36.1" x2="29.8" y2="32.2" stroke="#b8a0a8" stroke-width="0.63" opacity="0.49"/>
<line x1="52.9" y1="84.8" x2="58.5" y2="83.0" stroke="#9a8896" stroke-width="0.87" opacity="0.48"/>
<line x1="134.1" y1="131.2" x2="138.9" y2="128.3" stroke="#d8957e" stroke-width="0.83" opacity="0.46"/>
<line x1="40.2" y1="153.1" x2="46.3" y2="148.1" stroke="#b8a0a8" stroke-width="0.78" opacity="0.48"/>
<line x1="49.7" y1="67.4" x2="51.5" y2="63.4" stroke="#c7745a" stroke-width="0.86" opacity="0.17"/>
<line x1="39.1" y1="105.9" x2="46.2" y2="103.8" stroke="#d08068" stroke-width="0.56" opacity="0.41"/>
<line x1="24.2" y1="127.0" x2="27.7" y2="122.4" stroke="#d8957e" stroke-width="0.92" opacity="0.37"/>
<line x1="54.6" y1="97.1" x2="59.5" y2="92.3" stroke="#cc8a70" stroke-width="1.04" opacity="0.47"/>
<line x1="106.3" y1="45.8" x2="109.8" y2="43.7" stroke="#b8a0a8" stroke-width="0.61" opacity="0.43"/>
<line x1="38.3" y1="49.2" x2="44.8" y2="47.9" stroke="#a8909a" stroke-width="0.99" opacity="0.38"/>
<line x1="32.3" y1="28.7" x2="38.6" y2="23.8" stroke="#bd6a50" stroke-width="0.57" opacity="0.25"/>
<line x1="125.7" y1="150.4" x2="127.1" y2="140.9" stroke="#d8957e" stroke-width="0.80" opacity="0.28"/>
<line x1="82.8" y1="33.7" x2="92.0" y2="30.7" stroke="#a8909a" stroke-width="0.68" opacity="0.17"/>
<line x1="59.4" y1="50.0" x2="63.1" y2="43.9" stroke="#c7745a" stroke-width="1.04" opacity="0.27"/>
<line x1="156.0" y1="70.5" x2="156.9" y2="64.1" stroke="#d8957e" stroke-width="0.76" opacity="0.24"/>
<line x1="140.1" y1="58.2" x2="141.5" y2="53.2" stroke="#a8909a" stroke-width="1.03" opacity="0.16"/>
<line x1="36.1" y1="51.5" x2="42.9" y2="45.4" stroke="#dba08a" stroke-width="0.61" opacity="0.36"/>
<line x1="108.9" y1="80.7" x2="113.5" y2="77.1" stroke="#d8957e" stroke-width="0.78" opacity="0.51"/>
<line x1="169.7" y1="104.0" x2="174.4" y2="101.2" stroke="#dba08a" stroke-width="0.92" opacity="0.16"/>
<line x1="76.7" y1="48.1" x2="83.9" y2="44.9" stroke="#d8957e" stroke-width="0.85" opacity="0.22"/>
<line x1="150.3" y1="104.4" x2="153.5" y2="101.1" stroke="#bd6a50" stroke-width="0.95" opacity="0.28"/>
<line x1="84.4" y1="161.2" x2="87.6" y2="158.1" stroke="#a8909a" stroke-width="0.68" opacity="0.34"/>
<line x1="94.8" y1="46.2" x2="101.5" y2="39.7" stroke="#9a8896" stroke-width="0.84" opacity="0.52"/>
<line x1="144.4" y1="120.9" x2="147.6" y2="119.2" stroke="#cc8a70" stroke-width="0.97" opacity="0.42"/>
<line x1="27.6" y1="128.9" x2="32.6" y2="122.6" stroke="#c7745a" stroke-width="0.68" opacity="0.44"/>
<line x1="54.6" y1="151.5" x2="56.8" y2="148.8" stroke="#bd6a50" stroke-width="0.97" opacity="0.45"/>
<line x1="52.8" y1="128.3" x2="60.1" y2="123.4" stroke="#dba08a" stroke-width="0.77" opacity="0.25"/>
<line x1="168.0" y1="136.8" x2="174.7" y2="130.8" stroke="#c7745a" stroke-width="0.65" opacity="0.50"/>
<line x1="84.0" y1="138.8" x2="84.7" y2="135.7" stroke="#a8909a" stroke-width="1.02" opacity="0.24"/>
<line x1="80.7" y1="114.8" x2="83.4" y2="111.5" stroke="#d8957e" stroke-width="0.88" opacity="0.25"/>
<line x1="58.2" y1="121.8" x2="63.1" y2="118.3" stroke="#cc8a70" stroke-width="0.96" opacity="0.21"/>
<line x1="109.4" y1="113.3" x2="118.9" y2="113.2" stroke="#9a8896" stroke-width="0.86" opacity="0.46"/>
<line x1="139.6" y1="63.0" x2="141.4" y2="57.8" stroke="#d08068" stroke-width="0.97" opacity="0.19"/>
<line x1="127.0" y1="154.3" x2="134.3" y2="148.8" stroke="#9a8896" stroke-width="0.58" opacity="0.37"/>
<line x1="60.9" y1="42.9" x2="68.5" y2="37.4" stroke="#d8957e" stroke-width="0.96" opacity="0.30"/>
<line x1="183.7" y1="112.3" x2="187.7" y2="110.2" stroke="#b8a0a8" stroke-width="1.07" opacity="0.18"/>
<line x1="92.2" y1="159.9" x2="94.9" y2="151.5" stroke="#a8909a" stroke-width="0.92" opacity="0.34"/>
<line x1="55.3" y1="122.4" x2="61.8" y2="116.4" stroke="#c7745a" stroke-width="0.65" opacity="0.33"/>
<line x1="51.6" y1="49.0" x2="55.4" y2="46.1" stroke="#d08068" stroke-width="0.74" opacity="0.21"/>
<line x1="38.6" y1="115.2" x2="42.1" y2="113.3" stroke="#a8909a" stroke-width="0.68" opacity="0.40"/>
<line x1="174.2" y1="75.4" x2="177.2" y2="72.7" stroke="#9a8896" stroke-width="0.90" opacity="0.24"/>
<line x1="39.6" y1="84.1" x2="49.2" y2="84.7" stroke="#c7745a" stroke-width="0.80" opacity="0.37"/>
<line x1="70.0" y1="76.9" x2="73.9" y2="73.8" stroke="#e0a892" stroke-width="0.72" opacity="0.19"/>
<line x1="113.9" y1="67.2" x2="119.8" y2="63.5" stroke="#d08068" stroke-width="1.10" opacity="0.15"/>
<line x1="143.3" y1="38.6" x2="148.6" y2="34.1" stroke="#d8957e" stroke-width="1.08" opacity="0.39"/>
<line x1="105.8" y1="136.8" x2="102.0" y2="133.2" stroke="#bd6a50" stroke-width="0.90" opacity="0.49"/>
<line x1="125.4" y1="158.6" x2="127.1" y2="154.2" stroke="#c7745a" stroke-width="0.56" opacity="0.43"/>
<line x1="87.3" y1="47.2" x2="90.6" y2="42.7" stroke="#b8a0a8" stroke-width="1.06" opacity="0.46"/>
<line x1="50.3" y1="136.5" x2="54.8" y2="133.8" stroke="#c7745a" stroke-width="0.75" opacity="0.39"/>
<line x1="61.0" y1="48.2" x2="63.9" y2="39.2" stroke="#cc8a70" stroke-width="0.57" opacity="0.24"/>
<line x1="111.8" y1="113.3" x2="121.1" y2="112.8" stroke="#e0a892" stroke-width="0.82" opacity="0.33"/>
<line x1="49.6" y1="70.1" x2="51.9" y2="63.4" stroke="#d8957e" stroke-width="0.68" opacity="0.20"/>
<line x1="45.2" y1="118.0" x2="50.2" y2="110.6" stroke="#a8909a" stroke-width="0.95" opacity="0.22"/>
<line x1="21.5" y1="143.6" x2="30.4" y2="142.5" stroke="#b8a0a8" stroke-width="0.71" opacity="0.31"/>
<line x1="76.9" y1="90.0" x2="82.8" y2="82.7" stroke="#c7745a" stroke-width="0.55" opacity="0.29"/>
<line x1="98.4" y1="103.3" x2="103.1" y2="98.7" stroke="#dba08a" stroke-width="1.05" opacity="0.51"/>
<line x1="160.2" y1="163.0" x2="168.6" y2="160.8" stroke="#d08068" stroke-width="0.73" opacity="0.42"/>
<line x1="128.4" y1="105.2" x2="134.0" y2="103.1" stroke="#bd6a50" stroke-width="0.91" opacity="0.33"/>
<line x1="71.8" y1="74.2" x2="75.3" y2="71.6" stroke="#a8909a" stroke-width="0.63" opacity="0.41"/>
<line x1="113.9" y1="104.2" x2="123.0" y2="101.3" stroke="#bd6a50" stroke-width="0.86" opacity="0.35"/>
<line x1="85.9" y1="41.8" x2="92.3" y2="39.4" stroke="#d8957e" stroke-width="1.01" opacity="0.23"/>
<line x1="125.9" y1="50.8" x2="133.6" y2="51.1" stroke="#a8909a" stroke-width="0.80" opacity="0.23"/>
<line x1="109.1" y1="123.8" x2="115.7" y2="121.6" stroke="#dba08a" stroke-width="0.99" opacity="0.40"/>
<line x1="46.8" y1="98.7" x2="47.3" y2="92.2" stroke="#d8957e" stroke-width="1.08" opacity="0.38"/>
<line x1="111.5" y1="162.2" x2="114.2" y2="159.7" stroke="#bd6a50" stroke-width="0.58" opacity="0.44"/>
<line x1="62.0" y1="77.4" x2="65.0" y2="76.6" stroke="#9a8896" stroke-width="0.80" opacity="0.50"/>
<line x1="40.6" y1="46.3" x2="49.0" y2="41.0" stroke="#e0a892" stroke-width="1.05" opacity="0.36"/>
<line x1="78.5" y1="135.6" x2="82.1" y2="128.7" stroke="#cc8a70" stroke-width="0.76" opacity="0.20"/>
<line x1="141.8" y1="161.2" x2="145.8" y2="155.2" stroke="#d8957e" stroke-width="0.73" opacity="0.28"/>
<line x1="119.1" y1="32.7" x2="125.5" y2="25.9" stroke="#e0a892" stroke-width="0.66" opacity="0.24"/>
<line x1="96.6" y1="144.1" x2="97.8" y2="141.2" stroke="#d8957e" stroke-width="0.69" opacity="0.18"/>
<line x1="47.5" y1="159.8" x2="51.7" y2="151.8" stroke="#dba08a" stroke-width="0.87" opacity="0.46"/>
<line x1="63.8" y1="167.6" x2="67.5" y2="162.7" stroke="#d08068" stroke-width="0.63" opacity="0.28"/>
<line x1="105.2" y1="151.8" x2="106.9" y2="143.4" stroke="#d08068" stroke-width="0.89" opacity="0.18"/>
<line x1="125.1" y1="108.3" x2="132.8" y2="109.8" stroke="#a8909a" stroke-width="1.03" opacity="0.30"/>
<line x1="123.5" y1="37.9" x2="123.6" y2="32.5" stroke="#e0a892" stroke-width="0.62" opacity="0.27"/>
<line x1="123.3" y1="55.4" x2="128.2" y2="53.2" stroke="#a8909a" stroke-width="0.74" opacity="0.29"/>
<line x1="24.5" y1="107.9" x2="28.5" y2="104.4" stroke="#d08068" stroke-width="1.03" opacity="0.24"/>
<line x1="120.5" y1="114.3" x2="125.9" y2="112.6" stroke="#d8957e" stroke-width="0.69" opacity="0.34"/>
<line x1="113.0" y1="102.2" x2="120.6" y2="95.7" stroke="#d08068" stroke-width="1.05" opacity="0.49"/>
<line x1="40.0" y1="54.3" x2="41.5" y2="50.9" stroke="#cc8a70" stroke-width="0.68" opacity="0.44"/>
<line x1="177.3" y1="73.1" x2="182.8" y2="72.2" stroke="#e0a892" stroke-width="0.85" opacity="0.28"/>
<line x1="87.5" y1="36.8" x2="93.8" y2="29.2" stroke="#a8909a" stroke-width="1.04" opacity="0.34"/>
<line x1="153.7" y1="166.1" x2="157.1" y2="163.9" stroke="#e0a892" stroke-width="1.03" opacity="0.15"/>
<line x1="96.8" y1="88.8" x2="99.7" y2="85.8" stroke="#d8957e" stroke-width="0.95" opacity="0.20"/>
<line x1="62.4" y1="106.5" x2="69.5" y2="103.7" stroke="#bd6a50" stroke-width="0.65" opacity="0.18"/>
<line x1="171.0" y1="108.1" x2="176.9" y2="105.9" stroke="#dba08a" stroke-width="1.06" opacity="0.42"/>
<line x1="158.0" y1="69.5" x2="162.2" y2="69.5" stroke="#cc8a70" stroke-width="0.97" opacity="0.35"/>
<line x1="123.5" y1="59.6" x2="128.6" y2="56.2" stroke="#9a8896" stroke-width="0.83" opacity="0.25"/>
<line x1="40.2" y1="59.7" x2="42.8" y2="57.5" stroke="#c7745a" stroke-width="0.59" opacity="0.37"/>
<line x1="47.0" y1="54.7" x2="47.8" y2="47.3" stroke="#d08068" stroke-width="0.73" opacity="0.23"/>
<line x1="143.1" y1="117.2" x2="148.4" y2="114.8" stroke="#bd6a50" stroke-width="1.02" opacity="0.21"/>
<line x1="151.8" y1="168.0" x2="148.3" y2="159.6" stroke="#d08068" stroke-width="0.86" opacity="0.49"/>
<line x1="139.9" y1="71.2" x2="143.5" y2="70.6" stroke="#c7745a" stroke-width="0.84" opacity="0.23"/>
<line x1="157.5" y1="77.5" x2="163.3" y2="72.4" stroke="#b8a0a8" stroke-width="1.09" opacity="0.21"/>
<line x1="114.4" y1="58.5" x2="121.1" y2="55.4" stroke="#a8909a" stroke-width="0.98" opacity="0.43"/>
<line x1="72.8" y1="134.4" x2="77.4" y2="132.5" stroke="#b8a0a8" stroke-width="0.70" opacity="0.35"/>
<line x1="64.3" y1="103.8" x2="67.9" y2="102.6" stroke="#bd6a50" stroke-width="0.90" opacity="0.21"/>
<line x1="88.0" y1="163.1" x2="91.7" y2="162.0" stroke="#b8a0a8" stroke-width="0.86" opacity="0.34"/>
<line x1="53.8" y1="159.6" x2="55.6" y2="154.4" stroke="#c7745a" stroke-width="1.03" opacity="0.48"/>
<line x1="80.3" y1="126.2" x2="83.3" y2="122.9" stroke="#bd6a50" stroke-width="0.76" opacity="0.48"/>
<line x1="58.2" y1="136.7" x2="60.9" y2="135.0" stroke="#d08068" stroke-width="0.91" opacity="0.17"/>
<line x1="87.2" y1="147.3" x2="92.8" y2="145.4" stroke="#dba08a" stroke-width="0.89" opacity="0.50"/>
<line x1="59.4" y1="61.2" x2="63.6" y2="58.8" stroke="#dba08a" stroke-width="0.74" opacity="0.24"/>
<line x1="75.7" y1="86.9" x2="80.0" y2="82.1" stroke="#9a8896" stroke-width="0.81" opacity="0.44"/>
<line x1="173.4" y1="132.8" x2="177.4" y2="133.2" stroke="#cc8a70" stroke-width="0.73" opacity="0.25"/>
<line x1="100.4" y1="152.0" x2="106.5" y2="148.3" stroke="#a8909a" stroke-width="0.58" opacity="0.23"/>
<line x1="149.4" y1="145.0" x2="152.6" y2="144.1" stroke="#a8909a" stroke-width="1.03" opacity="0.22"/>
<line x1="180.4" y1="67.4" x2="190.0" y2="65.5" stroke="#d08068" stroke-width="0.72" opacity="0.20"/>
<line x1="102.9" y1="76.6" x2="109.4" y2="71.5" stroke="#a8909a" stroke-width="0.60" opacity="0.40"/>
<line x1="78.2" y1="158.6" x2="81.8" y2="149.4" stroke="#d08068" stroke-width="0.66" opacity="0.37"/>
<line x1="126.0" y1="28.6" x2="126.4" y2="24.7" stroke="#9a8896" stroke-width="0.79" opacity="0.24"/>
<line x1="38.1" y1="28.9" x2="46.6" y2="25.7" stroke="#d8957e" stroke-width="1.08" opacity="0.50"/>
<line x1="108.1" y1="26.4" x2="111.5" y2="23.4" stroke="#b8a0a8" stroke-width="0.96" opacity="0.20"/>
<line x1="103.2" y1="44.2" x2="108.5" y2="36.5" stroke="#bd6a50" stroke-width="1.02" opacity="0.51"/>
<line x1="136.1" y1="27.5" x2="140.7" y2="25.8" stroke="#d08068" stroke-width="0.58" opacity="0.22"/>
<line x1="151.3" y1="160.1" x2="153.1" y2="157.3" stroke="#a8909a" stroke-width="0.85" opacity="0.35"/>
<line x1="132.3" y1="165.2" x2="140.3" y2="160.8" stroke="#cc8a70" stroke-width="0.73" opacity="0.30"/>
<line x1="92.1" y1="164.5" x2="93.4" y2="158.8" stroke="#c7745a" stroke-width="0.90" opacity="0.48"/>
<line x1="60.0" y1="95.6" x2="67.8" y2="94.7" stroke="#dba08a" stroke-width="1.00" opacity="0.52"/>
<line x1="129.1" y1="39.5" x2="134.9" y2="33.9" stroke="#dba08a" stroke-width="0.73" opacity="0.41"/>
<line x1="126.7" y1="102.7" x2="131.7" y2="101.1" stroke="#9a8896" stroke-width="0.96" opacity="0.15"/>
<line x1="142.4" y1="80.3" x2="147.2" y2="75.5" stroke="#9a8896" stroke-width="1.00" opacity="0.39"/>
<line x1="36.7" y1="140.7" x2="37.4" y2="133.1" stroke="#9a8896" stroke-width="0.69" opacity="0.43"/>
<line x1="116.0" y1="105.6" x2="124.2" y2="104.4" stroke="#bd6a50" stroke-width="0.84" opacity="0.34"/>
<line x1="154.1" y1="59.0" x2="157.9" y2="57.3" stroke="#a8909a" stroke-width="1.07" opacity="0.22"/>
<line x1="158.7" y1="118.2" x2="167.0" y2="114.7" stroke="#dba08a" stroke-width="0.63" opacity="0.20"/>
<line x1="63.3" y1="40.0" x2="68.4" y2="38.0" stroke="#b8a0a8" stroke-width="0.80" opacity="0.34"/>
<line x1="36.6" y1="80.6" x2="42.7" y2="79.9" stroke="#a8909a" stroke-width="0.65" opacity="0.42"/>
<line x1="107.0" y1="26.6" x2="110.0" y2="24.1" stroke="#a8909a" stroke-width="0.68" opacity="0.34"/>
<line x1="83.4" y1="74.0" x2="86.6" y2="70.9" stroke="#9a8896" stroke-width="0.87" opacity="0.25"/>
<line x1="70.1" y1="102.3" x2="79.3" y2="100.3" stroke="#cc8a70" stroke-width="1.01" opacity="0.24"/>
<line x1="37.2" y1="114.6" x2="43.1" y2="113.8" stroke="#cc8a70" stroke-width="0.75" opacity="0.38"/>
<line x1="30.4" y1="88.7" x2="34.7" y2="85.1" stroke="#cc8a70" stroke-width="0.79" opacity="0.51"/>
<line x1="121.4" y1="61.9" x2="124.6" y2="59.5" stroke="#9a8896" stroke-width="1.08" opacity="0.22"/>
<line x1="135.9" y1="76.8" x2="143.6" y2="77.2" stroke="#bd6a50" stroke-width="0.59" opacity="0.47"/>
<line x1="96.6" y1="83.7" x2="97.4" y2="76.2" stroke="#d08068" stroke-width="0.86" opacity="0.19"/>
<line x1="85.3" y1="44.6" x2="93.3" y2="42.6" stroke="#d08068" stroke-width="0.96" opacity="0.40"/>
<line x1="87.4" y1="33.5" x2="92.6" y2="26.9" stroke="#a8909a" stroke-width="0.67" opacity="0.19"/>
<line x1="37.9" y1="141.6" x2="37.9" y2="137.9" stroke="#d8957e" stroke-width="0.67" opacity="0.46"/>
<line x1="95.3" y1="144.0" x2="101.5" y2="137.4" stroke="#b8a0a8" stroke-width="0.78" opacity="0.41"/>
<line x1="115.4" y1="167.4" x2="123.0" y2="163.1" stroke="#c7745a" stroke-width="0.65" opacity="0.27"/>
<line x1="107.9" y1="39.0" x2="110.1" y2="34.4" stroke="#dba08a" stroke-width="0.78" opacity="0.34"/>
<line x1="29.4" y1="68.9" x2="38.0" y2="66.0" stroke="#dba08a" stroke-width="0.69" opacity="0.47"/>
<line x1="56.4" y1="34.6" x2="59.5" y2="29.1" stroke="#a8909a" stroke-width="0.63" opacity="0.41"/>
<line x1="172.2" y1="74.3" x2="177.5" y2="71.1" stroke="#b8a0a8" stroke-width="0.95" opacity="0.40"/>
<line x1="25.2" y1="34.1" x2="28.5" y2="34.0" stroke="#e0a892" stroke-width="0.71" opacity="0.44"/>
<line x1="138.4" y1="141.0" x2="140.7" y2="134.3" stroke="#a8909a" stroke-width="0.95" opacity="0.30"/>
<line x1="56.4" y1="53.9" x2="60.0" y2="52.4" stroke="#c7745a" stroke-width="0.59" opacity="0.47"/>
<line x1="116.5" y1="50.0" x2="125.9" y2="49.9" stroke="#b8a0a8" stroke-width="0.64" opacity="0.42"/>
<line x1="59.0" y1="128.9" x2="62.9" y2="123.3" stroke="#c7745a" stroke-width="1.05" opacity="0.20"/>
<line x1="58.4" y1="40.5" x2="59.0" y2="36.9" stroke="#d8957e" stroke-width="0.78" opacity="0.50"/>
<line x1="129.3" y1="61.3" x2="133.2" y2="60.4" stroke="#d08068" stroke-width="0.62" opacity="0.49"/>
<line x1="48.5" y1="90.6" x2="53.9" y2="84.3" stroke="#9a8896" stroke-width="0.94" opacity="0.44"/>
<line x1="139.3" y1="69.6" x2="142.6" y2="66.7" stroke="#e0a892" stroke-width="0.57" opacity="0.29"/>
<line x1="84.2" y1="114.5" x2="88.7" y2="115.2" stroke="#b8a0a8" stroke-width="0.66" opacity="0.41"/>
<line x1="48.4" y1="51.7" x2="50.4" y2="49.2" stroke="#bd6a50" stroke-width="1.06" opacity="0.20"/>
<line x1="182.4" y1="158.6" x2="188.3" y2="155.4" stroke="#cc8a70" stroke-width="0.56" opacity="0.33"/>
<line x1="149.2" y1="151.8" x2="152.7" y2="148.0" stroke="#9a8896" stroke-width="0.60" opacity="0.35"/>
<line x1="43.7" y1="64.5" x2="52.2" y2="60.9" stroke="#e0a892" stroke-width="0.71" opacity="0.36"/>
<line x1="116.8" y1="39.6" x2="120.4" y2="37.8" stroke="#cc8a70" stroke-width="0.73" opacity="0.17"/>
<line x1="94.5" y1="62.0" x2="100.8" y2="56.8" stroke="#c7745a" stroke-width="1.01" opacity="0.19"/>
<line x1="143.8" y1="40.7" x2="147.0" y2="40.1" stroke="#d08068" stroke-width="0.60" opacity="0.34"/>
<line x1="126.0" y1="44.4" x2="132.6" y2="41.8" stroke="#bd6a50" stroke-width="0.95" opacity="0.18"/>
<line x1="142.3" y1="76.3" x2="144.4" y2="74.1" stroke="#a8909a" stroke-width="0.69" opacity="0.26"/>
<line x1="41.2" y1="59.7" x2="44.0" y2="56.6" stroke="#cc8a70" stroke-width="0.61" opacity="0.35"/>
<line x1="99.4" y1="50.2" x2="101.7" y2="45.1" stroke="#e0a892" stroke-width="0.86" opacity="0.25"/>
<line x1="182.2" y1="156.2" x2="185.9" y2="149.0" stroke="#b8a0a8" stroke-width="1.04" opacity="0.34"/>
<line x1="29.0" y1="160.8" x2="26.8" y2="154.2" stroke="#e0a892" stroke-width="0.64" opacity="0.18"/>
<line x1="158.6" y1="167.6" x2="162.4" y2="162.9" stroke="#9a8896" stroke-width="0.71" opacity="0.34"/>
<line x1="61.3" y1="108.7" x2="64.7" y2="108.2" stroke="#e0a892" stroke-width="0.74" opacity="0.18"/>
<line x1="40.1" y1="58.8" x2="42.4" y2="50.8" stroke="#c7745a" stroke-width="0.74" opacity="0.45"/>
<line x1="153.4" y1="87.7" x2="157.8" y2="91.6" stroke="#dba08a" stroke-width="0.98" opacity="0.16"/>
<line x1="47.3" y1="97.3" x2="51.2" y2="95.9" stroke="#bd6a50" stroke-width="0.66" opacity="0.43"/>
<line x1="169.5" y1="122.3" x2="178.4" y2="120.1" stroke="#d08068" stroke-width="0.98" opacity="0.33"/>
<line x1="170.0" y1="132.2" x2="172.5" y2="128.7" stroke="#d08068" stroke-width="0.98" opacity="0.46"/>
<line x1="38.3" y1="130.1" x2="42.4" y2="121.2" stroke="#a8909a" stroke-width="1.01" opacity="0.20"/>
<line x1="172.8" y1="154.7" x2="179.0" y2="149.4" stroke="#9a8896" stroke-width="0.76" opacity="0.21"/>
<line x1="129.1" y1="160.2" x2="127.3" y2="153.2" stroke="#d8957e" stroke-width="0.98" opacity="0.18"/>
<line x1="153.1" y1="132.4" x2="155.5" y2="128.3" stroke="#9a8896" stroke-width="0.68" opacity="0.32"/>
<line x1="103.8" y1="155.3" x2="105.4" y2="149.8" stroke="#dba08a" stroke-width="0.93" opacity="0.44"/>
<line x1="36.1" y1="119.4" x2="42.8" y2="113.6" stroke="#bd6a50" stroke-width="1.05" opacity="0.40"/>
<line x1="90.8" y1="71.1" x2="97.1" y2="63.8" stroke="#a8909a" stroke-width="0.88" opacity="0.30"/>
<line x1="96.7" y1="72.2" x2="101.1" y2="71.3" stroke="#bd6a50" stroke-width="0.81" opacity="0.30"/>
<line x1="26.6" y1="73.9" x2="34.9" y2="69.8" stroke="#dba08a" stroke-width="0.99" opacity="0.39"/>
<line x1="43.3" y1="121.2" x2="46.5" y2="120.4" stroke="#c7745a" stroke-width="0.73" opacity="0.29"/>
<line x1="47.7" y1="52.2" x2="51.7" y2="44.0" stroke="#dba08a" stroke-width="0.73" opacity="0.26"/>
<line x1="161.7" y1="136.8" x2="170.6" y2="135.2" stroke="#c7745a" stroke-width="0.55" opacity="0.29"/>
<line x1="111.5" y1="118.6" x2="120.9" y2="115.7" stroke="#b8a0a8" stroke-width="0.62" opacity="0.40"/>
<line x1="145.2" y1="62.9" x2="147.6" y2="57.5" stroke="#b8a0a8" stroke-width="0.79" opacity="0.38"/>
<line x1="177.3" y1="77.5" x2="181.2" y2="73.5" stroke="#b8a0a8" stroke-width="0.58" opacity="0.45"/>
<line x1="28.5" y1="152.5" x2="28.3" y2="143.3" stroke="#d8957e" stroke-width="0.80" opacity="0.36"/>
<line x1="145.3" y1="151.6" x2="146.8" y2="148.7" stroke="#bd6a50" stroke-width="0.55" opacity="0.33"/>
<line x1="175.1" y1="64.8" x2="176.5" y2="60.7" stroke="#9a8896" stroke-width="1.10" opacity="0.34"/>
<line x1="51.1" y1="107.2" x2="55.7" y2="108.0" stroke="#b8a0a8" stroke-width="0.85" opacity="0.16"/>
<line x1="87.4" y1="39.7" x2="94.4" y2="33.1" stroke="#dba08a" stroke-width="1.09" opacity="0.33"/>
<line x1="82.8" y1="155.0" x2="83.9" y2="148.6" stroke="#d08068" stroke-width="0.74" opacity="0.44"/>
<line x1="43.7" y1="95.5" x2="52.2" y2="99.0" stroke="#c7745a" stroke-width="0.84" opacity="0.26"/>
<line x1="137.2" y1="156.0" x2="132.6" y2="148.9" stroke="#bd6a50" stroke-width="0.65" opacity="0.51"/>
<line x1="75.4" y1="159.7" x2="74.9" y2="155.4" stroke="#bd6a50" stroke-width="0.77" opacity="0.49"/>
<line x1="133.2" y1="78.1" x2="136.6" y2="72.9" stroke="#d8957e" stroke-width="1.05" opacity="0.23"/>
<line x1="94.1" y1="143.0" x2="101.5" y2="142.1" stroke="#bd6a50" stroke-width="0.70" opacity="0.17"/>
<line x1="109.7" y1="117.9" x2="113.2" y2="117.6" stroke="#dba08a" stroke-width="1.05" opacity="0.28"/>
<line x1="108.5" y1="68.3" x2="112.4" y2="62.0" stroke="#cc8a70" stroke-width="0.56" opacity="0.32"/>
<line x1="108.4" y1="124.0" x2="113.5" y2="121.8" stroke="#e0a892" stroke-width="1.03" opacity="0.48"/>
<line x1="36.6" y1="108.9" x2="45.3" y2="110.1" stroke="#d8957e" stroke-width="0.64" opacity="0.49"/>
<line x1="52.2" y1="128.8" x2="55.5" y2="124.0" stroke="#bd6a50" stroke-width="0.82" opacity="0.30"/>
<line x1="78.2" y1="150.2" x2="80.9" y2="142.7" stroke="#c7745a" stroke-width="0.84" opacity="0.35"/>
<line x1="131.6" y1="152.6" x2="134.3" y2="150.6" stroke="#dba08a" stroke-width="0.55" opacity="0.17"/>
<line x1="114.9" y1="59.0" x2="120.3" y2="56.4" stroke="#e0a892" stroke-width="0.70" opacity="0.36"/>
<line x1="157.5" y1="137.7" x2="164.7" y2="133.7" stroke="#b8a0a8" stroke-width="0.71" opacity="0.20"/>
<line x1="26.4" y1="162.8" x2="35.4" y2="159.7" stroke="#dba08a" stroke-width="0.62" opacity="0.48"/>
<line x1="136.9" y1="124.5" x2="140.1" y2="123.0" stroke="#9a8896" stroke-width="0.83" opacity="0.37"/>
<line x1="122.2" y1="154.4" x2="123.9" y2="149.5" stroke="#bd6a50" stroke-width="1.09" opacity="0.40"/>
<line x1="150.3" y1="77.3" x2="158.1" y2="73.1" stroke="#bd6a50" stroke-width="0.80" opacity="0.23"/>
<line x1="145.5" y1="89.4" x2="150.8" y2="85.6" stroke="#a8909a" stroke-width="0.88" opacity="0.37"/>
<line x1="28.6" y1="101.8" x2="32.7" y2="98.9" stroke="#bd6a50" stroke-width="0.84" opacity="0.51"/>
<line x1="58.2" y1="103.8" x2="66.8" y2="102.2" stroke="#cc8a70" stroke-width="0.99" opacity="0.46"/>
<line x1="109.2" y1="30.9" x2="114.2" y2="26.7" stroke="#dba08a" stroke-width="1.07" opacity="0.29"/>
<line x1="68.1" y1="38.5" x2="70.8" y2="35.8" stroke="#dba08a" stroke-width="0.87" opacity="0.34"/>
<line x1="57.0" y1="146.9" x2="66.7" y2="146.8" stroke="#bd6a50" stroke-width="0.69" opacity="0.39"/>
<line x1="125.6" y1="106.5" x2="131.4" y2="104.8" stroke="#9a8896" stroke-width="0.74" opacity="0.32"/>
<line x1="53.0" y1="84.1" x2="59.0" y2="78.5" stroke="#b8a0a8" stroke-width="0.98" opacity="0.16"/>
<line x1="150.5" y1="130.6" x2="154.1" y2="128.0" stroke="#cc8a70" stroke-width="1.07" opacity="0.43"/>
<line x1="171.9" y1="127.3" x2="174.4" y2="125.5" stroke="#b8a0a8" stroke-width="0.75" opacity="0.25"/>
<line x1="46.9" y1="114.5" x2="56.7" y2="112.8" stroke="#cc8a70" stroke-width="0.96" opacity="0.19"/>
<line x1="132.3" y1="84.3" x2="140.6" y2="83.4" stroke="#bd6a50" stroke-width="0.63" opacity="0.19"/>
<line x1="145.8" y1="92.3" x2="154.8" y2="89.6" stroke="#bd6a50" stroke-width="1.00" opacity="0.33"/>
<line x1="45.1" y1="41.9" x2="47.1" y2="37.8" stroke="#cc8a70" stroke-width="1.07" opacity="0.39"/>
<line x1="53.7" y1="67.1" x2="59.3" y2="60.4" stroke="#b8a0a8" stroke-width="0.95" opacity="0.31"/>
<line x1="86.1" y1="140.1" x2="88.2" y2="137.9" stroke="#e0a892" stroke-width="0.84" opacity="0.42"/>
<line x1="28.1" y1="143.7" x2="31.7" y2="134.6" stroke="#d8957e" stroke-width="0.57" opacity="0.32"/>
<line x1="164.5" y1="100.0" x2="171.9" y2="99.6" stroke="#a8909a" stroke-width="0.90" opacity="0.33"/>
<line x1="54.5" y1="61.3" x2="62.5" y2="56.4" stroke="#dba08a" stroke-width="0.60" opacity="0.48"/>
<line x1="166.5" y1="162.4" x2="166.2" y2="153.0" stroke="#a8909a" stroke-width="0.86" opacity="0.43"/>
<line x1="139.3" y1="147.4" x2="142.5" y2="144.6" stroke="#e0a892" stroke-width="0.81" opacity="0.42"/>
<line x1="164.0" y1="109.9" x2="169.7" y2="110.0" stroke="#e0a892" stroke-width="1.04" opacity="0.45"/>
<line x1="22.2" y1="104.4" x2="30.4" y2="104.3" stroke="#e0a892" stroke-width="0.96" opacity="0.38"/>
<line x1="30.0" y1="37.7" x2="33.3" y2="37.7" stroke="#d08068" stroke-width="1.07" opacity="0.30"/>
<line x1="112.0" y1="107.0" x2="117.5" y2="105.0" stroke="#d08068" stroke-width="0.56" opacity="0.21"/>
<line x1="145.0" y1="38.5" x2="149.1" y2="39.8" stroke="#b8a0a8" stroke-width="0.83" opacity="0.21"/>
<line x1="40.4" y1="139.6" x2="44.6" y2="131.4" stroke="#d08068" stroke-width="0.57" opacity="0.18"/>
<line x1="127.9" y1="40.5" x2="131.1" y2="32.6" stroke="#b8a0a8" stroke-width="0.58" opacity="0.18"/>
<line x1="111.2" y1="67.8" x2="114.8" y2="63.3" stroke="#d08068" stroke-width="0.66" opacity="0.36"/>
<line x1="51.7" y1="97.0" x2="59.4" y2="95.0" stroke="#e0a892" stroke-width="1.09" opacity="0.40"/>
<line x1="121.8" y1="39.3" x2="125.8" y2="34.0" stroke="#d8957e" stroke-width="0.68" opacity="0.18"/>
<line x1="164.8" y1="164.7" x2="169.1" y2="161.7" stroke="#cc8a70" stroke-width="0.88" opacity="0.20"/>
<line x1="34.2" y1="42.5" x2="40.9" y2="38.5" stroke="#9a8896" stroke-width="0.76" opacity="0.23"/>
<line x1="182.2" y1="158.7" x2="184.6" y2="150.8" stroke="#d8957e" stroke-width="1.01" opacity="0.49"/>
<line x1="137.9" y1="31.6" x2="143.2" y2="26.0" stroke="#dba08a" stroke-width="0.58" opacity="0.45"/>
<line x1="121.6" y1="68.6" x2="128.0" y2="63.1" stroke="#bd6a50" stroke-width="0.76" opacity="0.16"/>
<line x1="47.3" y1="49.7" x2="55.8" y2="45.2" stroke="#a8909a" stroke-width="1.01" opacity="0.43"/>
<line x1="61.4" y1="84.5" x2="69.8" y2="80.8" stroke="#bd6a50" stroke-width="0.97" opacity="0.15"/>
<line x1="62.4" y1="73.9" x2="65.2" y2="71.7" stroke="#c7745a" stroke-width="1.00" opacity="0.19"/>
<line x1="71.6" y1="115.3" x2="80.1" y2="110.5" stroke="#c7745a" stroke-width="0.58" opacity="0.23"/>
<line x1="127.6" y1="60.6" x2="136.4" y2="57.4" stroke="#b8a0a8" stroke-width="1.08" opacity="0.41"/>
<line x1="38.9" y1="55.6" x2="40.9" y2="53.2" stroke="#cc8a70" stroke-width="0.62" opacity="0.31"/>
<line x1="174.2" y1="109.2" x2="181.0" y2="112.0" stroke="#c7745a" stroke-width="0.96" opacity="0.41"/>
<line x1="142.8" y1="61.2" x2="149.9" y2="57.9" stroke="#e0a892" stroke-width="0.89" opacity="0.39"/>
<line x1="129.4" y1="130.4" x2="132.1" y2="127.4" stroke="#d8957e" stroke-width="0.93" opacity="0.37"/>
<line x1="72.1" y1="35.2" x2="76.5" y2="31.9" stroke="#c7745a" stroke-width="0.95" opacity="0.36"/>
<line x1="125.2" y1="98.3" x2="133.9" y2="94.6" stroke="#a8909a" stroke-width="0.61" opacity="0.22"/>
<line x1="71.5" y1="85.2" x2="76.8" y2="79.1" stroke="#d8957e" stroke-width="0.80" opacity="0.47"/>
<line x1="76.0" y1="56.1" x2="78.6" y2="51.0" stroke="#e0a892" stroke-width="0.66" opacity="0.19"/>
<line x1="81.2" y1="73.5" x2="82.4" y2="70.2" stroke="#d8957e" stroke-width="0.91" opacity="0.21"/>
<line x1="118.1" y1="119.1" x2="121.4" y2="116.4" stroke="#c7745a" stroke-width="1.01" opacity="0.33"/>
<line x1="33.0" y1="60.8" x2="36.3" y2="59.9" stroke="#cc8a70" stroke-width="1.02" opacity="0.16"/>
<line x1="44.1" y1="161.8" x2="48.7" y2="158.7" stroke="#c7745a" stroke-width="0.98" opacity="0.20"/>
<line x1="64.4" y1="78.0" x2="67.4" y2="74.3" stroke="#c7745a" stroke-width="0.76" opacity="0.26"/>
<line x1="146.3" y1="57.1" x2="150.2" y2="55.1" stroke="#e0a892" stroke-width="1.02" opacity="0.43"/>
<line x1="63.1" y1="151.9" x2="65.2" y2="148.9" stroke="#dba08a" stroke-width="0.68" opacity="0.46"/>
<line x1="28.4" y1="87.0" x2="32.0" y2="85.6" stroke="#a8909a" stroke-width="0.82" opacity="0.36"/>
<line x1="88.7" y1="92.9" x2="92.2" y2="92.9" stroke="#e0a892" stroke-width="0.75" opacity="0.18"/>
<line x1="99.7" y1="159.8" x2="101.9" y2="153.3" stroke="#d8957e" stroke-width="0.82" opacity="0.34"/>
<line x1="57.6" y1="109.4" x2="62.7" y2="111.9" stroke="#d08068" stroke-width="0.84" opacity="0.50"/>
<line x1="60.5" y1="51.5" x2="67.4" y2="45.7" stroke="#e0a892" stroke-width="0.81" opacity="0.19"/>
<line x1="98.0" y1="161.3" x2="103.4" y2="154.5" stroke="#bd6a50" stroke-width="0.70" opacity="0.19"/>
<line x1="99.7" y1="63.3" x2="103.8" y2="58.2" stroke="#b8a0a8" stroke-width="0.90" opacity="0.48"/>
<line x1="134.0" y1="32.4" x2="137.5" y2="25.6" stroke="#c7745a" stroke-width="0.63" opacity="0.39"/>
<line x1="154.9" y1="161.9" x2="154.0" y2="153.8" stroke="#bd6a50" stroke-width="0.91" opacity="0.39"/>
<line x1="137.0" y1="29.7" x2="138.7" y2="23.8" stroke="#d08068" stroke-width="1.09" opacity="0.26"/>
<line x1="157.7" y1="68.0" x2="162.7" y2="66.8" stroke="#e0a892" stroke-width="0.77" opacity="0.50"/>
<line x1="131.6" y1="27.6" x2="137.4" y2="24.9" stroke="#b8a0a8" stroke-width="0.96" opacity="0.47"/>
<line x1="130.2" y1="57.7" x2="136.7" y2="51.1" stroke="#e0a892" stroke-width="0.66" opacity="0.46"/>
<line x1="183.4" y1="89.5" x2="188.5" y2="88.2" stroke="#dba08a" stroke-width="0.78" opacity="0.22"/>
<line x1="135.7" y1="102.5" x2="142.9" y2="106.8" stroke="#e0a892" stroke-width="0.55" opacity="0.46"/>
<line x1="121.5" y1="64.5" x2="124.6" y2="57.2" stroke="#c7745a" stroke-width="0.86" opacity="0.25"/>
<line x1="65.5" y1="85.6" x2="73.4" y2="80.7" stroke="#b8a0a8" stroke-width="0.73" opacity="0.20"/>
<line x1="142.8" y1="50.7" x2="150.0" y2="45.6" stroke="#dba08a" stroke-width="0.86" opacity="0.24"/>
<line x1="58.0" y1="48.2" x2="64.6" y2="43.4" stroke="#dba08a" stroke-width="0.79" opacity="0.19"/>
<line x1="154.1" y1="163.9" x2="159.9" y2="158.0" stroke="#c7745a" stroke-width="0.78" opacity="0.47"/>
<line x1="108.4" y1="148.0" x2="112.5" y2="140.4" stroke="#b8a0a8" stroke-width="0.80" opacity="0.37"/>
<line x1="103.0" y1="101.3" x2="108.4" y2="97.3" stroke="#b8a0a8" stroke-width="0.59" opacity="0.22"/>
<line x1="167.7" y1="106.0" x2="171.4" y2="103.8" stroke="#cc8a70" stroke-width="0.78" opacity="0.39"/>
<line x1="177.3" y1="61.0" x2="180.7" y2="60.6" stroke="#a8909a" stroke-width="0.73" opacity="0.23"/>
<line x1="172.0" y1="89.7" x2="174.4" y2="84.8" stroke="#c7745a" stroke-width="0.73" opacity="0.32"/>
<line x1="178.1" y1="161.7" x2="184.7" y2="163.2" stroke="#dba08a" stroke-width="1.05" opacity="0.51"/>
<line x1="60.1" y1="128.8" x2="65.5" y2="127.6" stroke="#a8909a" stroke-width="0.62" opacity="0.43"/>
<line x1="59.7" y1="56.1" x2="62.7" y2="53.5" stroke="#dba08a" stroke-width="0.91" opacity="0.38"/>
<line x1="109.2" y1="75.5" x2="116.1" y2="70.8" stroke="#bd6a50" stroke-width="0.81" opacity="0.21"/>
<line x1="23.5" y1="120.3" x2="33.2" y2="119.3" stroke="#cc8a70" stroke-width="0.90" opacity="0.46"/>
<line x1="122.5" y1="123.9" x2="132.2" y2="123.9" stroke="#e0a892" stroke-width="1.02" opacity="0.29"/>
<line x1="126.0" y1="48.7" x2="133.3" y2="46.4" stroke="#9a8896" stroke-width="1.04" opacity="0.17"/>
<line x1="118.1" y1="84.4" x2="124.1" y2="80.9" stroke="#d08068" stroke-width="0.55" opacity="0.18"/>
<line x1="50.9" y1="122.7" x2="55.7" y2="122.5" stroke="#e0a892" stroke-width="0.61" opacity="0.16"/>
<line x1="174.3" y1="162.9" x2="176.7" y2="159.6" stroke="#bd6a50" stroke-width="0.74" opacity="0.18"/>
<line x1="68.5" y1="132.7" x2="76.2" y2="127.1" stroke="#cc8a70" stroke-width="0.60" opacity="0.21"/>
<line x1="123.5" y1="123.8" x2="127.8" y2="121.6" stroke="#bd6a50" stroke-width="0.82" opacity="0.28"/>
<line x1="54.8" y1="157.3" x2="56.6" y2="153.7" stroke="#dba08a" stroke-width="0.94" opacity="0.29"/>
<line x1="60.1" y1="140.6" x2="64.6" y2="133.2" stroke="#d8957e" stroke-width="0.63" opacity="0.17"/>
<line x1="153.2" y1="112.6" x2="159.3" y2="112.0" stroke="#d08068" stroke-width="0.87" opacity="0.22"/>
<line x1="40.9" y1="115.2" x2="44.8" y2="112.6" stroke="#cc8a70" stroke-width="0.84" opacity="0.34"/>
<line x1="76.2" y1="34.6" x2="81.3" y2="30.5" stroke="#e0a892" stroke-width="0.93" opacity="0.39"/>
<line x1="122.7" y1="153.3" x2="125.6" y2="150.0" stroke="#cc8a70" stroke-width="1.04" opacity="0.52"/>
<line x1="44.5" y1="36.7" x2="48.6" y2="29.8" stroke="#cc8a70" stroke-width="0.84" opacity="0.30"/>
<line x1="73.0" y1="135.7" x2="76.4" y2="131.8" stroke="#cc8a70" stroke-width="0.83" opacity="0.17"/>
<line x1="47.9" y1="157.0" x2="51.7" y2="154.7" stroke="#d8957e" stroke-width="0.95" opacity="0.44"/>
<line x1="73.3" y1="38.3" x2="77.4" y2="31.9" stroke="#9a8896" stroke-width="0.82" opacity="0.29"/>
<line x1="62.9" y1="119.4" x2="69.1" y2="118.1" stroke="#dba08a" stroke-width="0.75" opacity="0.44"/>
<line x1="93.1" y1="157.6" x2="101.4" y2="153.0" stroke="#9a8896" stroke-width="0.97" opacity="0.17"/>
<line x1="35.0" y1="155.8" x2="44.2" y2="153.3" stroke="#b8a0a8" stroke-width="0.81" opacity="0.20"/>
<line x1="123.2" y1="67.0" x2="126.6" y2="66.6" stroke="#bd6a50" stroke-width="0.60" opacity="0.31"/>
<line x1="86.6" y1="39.1" x2="90.8" y2="36.4" stroke="#c7745a" stroke-width="0.94" opacity="0.35"/>
<line x1="74.3" y1="143.0" x2="78.2" y2="136.9" stroke="#dba08a" stroke-width="0.65" opacity="0.21"/>
<line x1="146.3" y1="85.8" x2="150.3" y2="83.3" stroke="#b8a0a8" stroke-width="0.69" opacity="0.19"/>
<line x1="140.9" y1="153.4" x2="147.8" y2="147.1" stroke="#a8909a" stroke-width="0.65" opacity="0.23"/>
<line x1="56.1" y1="138.2" x2="59.7" y2="132.9" stroke="#b8a0a8" stroke-width="0.69" opacity="0.28"/>
<line x1="66.4" y1="92.7" x2="66.5" y2="88.6" stroke="#9a8896" stroke-width="0.65" opacity="0.27"/>
<line x1="140.8" y1="73.7" x2="149.3" y2="71.6" stroke="#e0a892" stroke-width="0.56" opacity="0.36"/>
<line x1="143.4" y1="109.8" x2="152.7" y2="110.2" stroke="#bd6a50" stroke-width="0.72" opacity="0.23"/>
<line x1="165.9" y1="161.1" x2="168.0" y2="155.7" stroke="#cc8a70" stroke-width="0.67" opacity="0.19"/>
<line x1="167.8" y1="81.6" x2="175.1" y2="83.2" stroke="#9a8896" stroke-width="0.68" opacity="0.43"/>
<line x1="171.0" y1="141.7" x2="175.1" y2="134.1" stroke="#cc8a70" stroke-width="0.73" opacity="0.34"/>
<line x1="95.1" y1="70.1" x2="96.2" y2="65.5" stroke="#bd6a50" stroke-width="0.58" opacity="0.40"/>
<line x1="145.7" y1="147.6" x2="153.9" y2="143.1" stroke="#b8a0a8" stroke-width="1.07" opacity="0.51"/>
<line x1="33.5" y1="45.2" x2="38.1" y2="37.2" stroke="#d08068" stroke-width="0.59" opacity="0.23"/>
<line x1="34.3" y1="131.0" x2="38.4" y2="127.0" stroke="#a8909a" stroke-width="0.72" opacity="0.50"/>
<line x1="124.1" y1="151.9" x2="129.9" y2="149.4" stroke="#bd6a50" stroke-width="0.72" opacity="0.42"/>
<line x1="161.4" y1="105.0" x2="170.2" y2="105.6" stroke="#b8a0a8" stroke-width="0.80" opacity="0.18"/>
<line x1="25.4" y1="160.4" x2="29.4" y2="158.1" stroke="#e0a892" stroke-width="0.75" opacity="0.28"/>
<line x1="93.6" y1="128.7" x2="96.2" y2="122.6" stroke="#b8a0a8" stroke-width="0.75" opacity="0.44"/>
<line x1="58.4" y1="132.8" x2="64.0" y2="126.3" stroke="#e0a892" stroke-width="1.07" opacity="0.29"/>
<line x1="141.8" y1="48.9" x2="145.9" y2="44.6" stroke="#bd6a50" stroke-width="0.73" opacity="0.26"/>
<line x1="140.7" y1="53.3" x2="145.4" y2="48.4" stroke="#b8a0a8" stroke-width="1.03" opacity="0.15"/>
<line x1="120.6" y1="78.4" x2="124.6" y2="77.2" stroke="#d08068" stroke-width="0.85" opacity="0.49"/>
<line x1="148.4" y1="149.5" x2="146.4" y2="144.4" stroke="#d08068" stroke-width="0.56" opacity="0.23"/>
<line x1="102.9" y1="150.9" x2="109.4" y2="151.5" stroke="#c7745a" stroke-width="0.63" opacity="0.36"/>
<line x1="127.2" y1="140.7" x2="126.3" y2="134.8" stroke="#9a8896" stroke-width="0.88" opacity="0.40"/>
<line x1="60.1" y1="58.0" x2="66.0" y2="52.0" stroke="#bd6a50" stroke-width="0.64" opacity="0.48"/>
<line x1="149.0" y1="101.2" x2="153.3" y2="99.7" stroke="#c7745a" stroke-width="0.65" opacity="0.24"/>
<line x1="163.8" y1="164.8" x2="167.2" y2="159.5" stroke="#9a8896" stroke-width="0.70" opacity="0.41"/>
<line x1="159.5" y1="156.5" x2="160.7" y2="153.4" stroke="#d08068" stroke-width="0.60" opacity="0.31"/>
<line x1="35.2" y1="139.6" x2="38.1" y2="134.1" stroke="#e0a892" stroke-width="0.73" opacity="0.52"/>
<line x1="146.8" y1="60.4" x2="150.2" y2="57.7" stroke="#c7745a" stroke-width="0.75" opacity="0.47"/>
<line x1="94.4" y1="69.9" x2="96.6" y2="66.6" stroke="#9a8896" stroke-width="0.83" opacity="0.27"/>
<line x1="52.9" y1="94.4" x2="57.0" y2="89.9" stroke="#9a8896" stroke-width="1.07" opacity="0.33"/>
<line x1="99.8" y1="54.0" x2="102.5" y2="50.8" stroke="#d8957e" stroke-width="0.76" opacity="0.28"/>
<line x1="33.9" y1="41.6" x2="39.5" y2="35.7" stroke="#bd6a50" stroke-width="0.93" opacity="0.28"/>
<line x1="87.0" y1="46.5" x2="89.8" y2="45.4" stroke="#a8909a" stroke-width="0.90" opacity="0.28"/>
<line x1="171.4" y1="83.5" x2="175.0" y2="78.7" stroke="#cc8a70" stroke-width="0.91" opacity="0.21"/>
<line x1="142.4" y1="27.6" x2="148.3" y2="22.5" stroke="#dba08a" stroke-width="0.87" opacity="0.44"/>
<line x1="132.4" y1="76.9" x2="136.0" y2="68.0" stroke="#b8a0a8" stroke-width="0.91" opacity="0.35"/>
<line x1="67.7" y1="43.1" x2="75.0" y2="44.3" stroke="#a8909a" stroke-width="0.70" opacity="0.31"/>
<line x1="108.2" y1="30.6" x2="110.1" y2="24.0" stroke="#bd6a50" stroke-width="0.81" opacity="0.39"/>
<line x1="78.1" y1="81.3" x2="79.7" y2="76.8" stroke="#bd6a50" stroke-width="0.59" opacity="0.45"/>
<line x1="154.3" y1="114.0" x2="156.8" y2="112.2" stroke="#bd6a50" stroke-width="0.82" opacity="0.26"/>
<line x1="172.2" y1="78.3" x2="180.3" y2="77.1" stroke="#c7745a" stroke-width="0.68" opacity="0.20"/>
<line x1="31.3" y1="63.9" x2="38.2" y2="59.5" stroke="#d8957e" stroke-width="0.85" opacity="0.50"/>
<line x1="170.4" y1="39.9" x2="176.5" y2="34.4" stroke="#dba08a" stroke-width="0.90" opacity="0.31"/>
<line x1="137.7" y1="50.9" x2="140.9" y2="48.7" stroke="#cc8a70" stroke-width="0.58" opacity="0.16"/>
<line x1="44.2" y1="29.0" x2="46.7" y2="26.2" stroke="#c7745a" stroke-width="0.66" opacity="0.19"/>
<line x1="83.2" y1="159.4" x2="82.7" y2="155.0" stroke="#d8957e" stroke-width="0.79" opacity="0.51"/>
<line x1="84.1" y1="63.0" x2="92.4" y2="57.5" stroke="#c7745a" stroke-width="1.04" opacity="0.21"/>
<line x1="149.7" y1="110.7" x2="156.1" y2="114.9" stroke="#a8909a" stroke-width="0.92" opacity="0.35"/>
<line x1="27.9" y1="87.3" x2="33.9" y2="85.6" stroke="#d08068" stroke-width="0.74" opacity="0.37"/>
<line x1="89.3" y1="162.0" x2="88.8" y2="153.0" stroke="#b8a0a8" stroke-width="0.82" opacity="0.34"/>
<line x1="133.3" y1="50.5" x2="138.6" y2="42.7" stroke="#b8a0a8" stroke-width="1.01" opacity="0.50"/>
<line x1="81.8" y1="125.1" x2="85.4" y2="122.8" stroke="#dba08a" stroke-width="0.77" opacity="0.42"/>
<line x1="177.1" y1="160.0" x2="182.1" y2="158.4" stroke="#dba08a" stroke-width="1.10" opacity="0.22"/>
<line x1="56.1" y1="119.7" x2="62.6" y2="116.6" stroke="#d08068" stroke-width="0.93" opacity="0.52"/>
<line x1="75.5" y1="133.1" x2="77.7" y2="129.6" stroke="#b8a0a8" stroke-width="0.70" opacity="0.33"/>
<line x1="169.6" y1="35.2" x2="177.7" y2="37.2" stroke="#c7745a" stroke-width="0.60" opacity="0.31"/>
<line x1="91.6" y1="67.4" x2="92.4" y2="64.5" stroke="#9a8896" stroke-width="0.61" opacity="0.44"/>
<line x1="66.5" y1="43.6" x2="73.3" y2="37.5" stroke="#a8909a" stroke-width="1.00" opacity="0.48"/>
<line x1="34.7" y1="90.0" x2="42.4" y2="85.6" stroke="#cc8a70" stroke-width="0.91" opacity="0.23"/>
<line x1="66.3" y1="79.5" x2="73.9" y2="74.0" stroke="#b8a0a8" stroke-width="0.78" opacity="0.52"/>
<line x1="114.6" y1="142.1" x2="120.0" y2="134.9" stroke="#dba08a" stroke-width="0.93" opacity="0.40"/>
<line x1="153.7" y1="69.1" x2="157.7" y2="63.1" stroke="#b8a0a8" stroke-width="1.07" opacity="0.42"/>
<line x1="79.4" y1="146.7" x2="84.4" y2="142.4" stroke="#a8909a" stroke-width="0.60" opacity="0.33"/>
<line x1="161.7" y1="152.0" x2="162.6" y2="148.9" stroke="#a8909a" stroke-width="1.03" opacity="0.37"/>
<line x1="34.0" y1="67.5" x2="42.9" y2="63.6" stroke="#d8957e" stroke-width="1.01" opacity="0.39"/>
<line x1="65.3" y1="51.9" x2="69.2" y2="43.4" stroke="#e0a892" stroke-width="0.98" opacity="0.33"/>
<line x1="63.0" y1="155.7" x2="68.3" y2="150.7" stroke="#d8957e" stroke-width="0.84" opacity="0.38"/>
<line x1="161.2" y1="86.0" x2="164.2" y2="88.1" stroke="#a8909a" stroke-width="0.93" opacity="0.45"/>
<line x1="143.8" y1="61.9" x2="146.2" y2="52.5" stroke="#cc8a70" stroke-width="0.93" opacity="0.21"/>
<line x1="112.6" y1="82.7" x2="116.2" y2="80.6" stroke="#c7745a" stroke-width="0.81" opacity="0.48"/>
<line x1="170.4" y1="103.7" x2="180.2" y2="104.1" stroke="#bd6a50" stroke-width="1.04" opacity="0.21"/>
<line x1="80.4" y1="162.6" x2="88.6" y2="157.0" stroke="#c7745a" stroke-width="0.71" opacity="0.33"/>
<line x1="75.9" y1="106.0" x2="81.1" y2="105.9" stroke="#a8909a" stroke-width="0.71" opacity="0.20"/>
<line x1="121.8" y1="102.8" x2="131.2" y2="105.0" stroke="#bd6a50" stroke-width="1.06" opacity="0.33"/>
<line x1="56.3" y1="161.5" x2="58.2" y2="157.6" stroke="#e0a892" stroke-width="1.08" opacity="0.26"/>
<line x1="64.1" y1="163.3" x2="65.3" y2="160.0" stroke="#d08068" stroke-width="0.59" opacity="0.23"/>
<line x1="106.3" y1="118.4" x2="110.0" y2="117.4" stroke="#cc8a70" stroke-width="1.10" opacity="0.49"/>
<line x1="134.0" y1="126.5" x2="134.7" y2="123.6" stroke="#d08068" stroke-width="0.60" opacity="0.51"/>
<line x1="69.5" y1="153.2" x2="71.6" y2="148.2" stroke="#9a8896" stroke-width="0.65" opacity="0.35"/>
<line x1="117.4" y1="168.5" x2="117.6" y2="159.2" stroke="#e0a892" stroke-width="1.06" opacity="0.19"/>
<line x1="67.7" y1="153.5" x2="69.2" y2="143.8" stroke="#dba08a" stroke-width="0.56" opacity="0.52"/>
<line x1="118.4" y1="123.7" x2="124.1" y2="122.0" stroke="#cc8a70" stroke-width="0.79" opacity="0.34"/>
<line x1="32.9" y1="87.2" x2="35.6" y2="82.3" stroke="#bd6a50" stroke-width="0.75" opacity="0.35"/>
<line x1="168.2" y1="61.5" x2="171.7" y2="59.5" stroke="#c7745a" stroke-width="0.61" opacity="0.21"/>
<line x1="114.7" y1="41.8" x2="118.3" y2="34.3" stroke="#d08068" stroke-width="0.63" opacity="0.24"/>
<line x1="80.3" y1="137.2" x2="85.4" y2="130.0" stroke="#9a8896" stroke-width="0.73" opacity="0.29"/>
<line x1="146.3" y1="58.2" x2="150.3" y2="53.5" stroke="#b8a0a8" stroke-width="0.57" opacity="0.24"/>
<line x1="38.6" y1="132.6" x2="37.7" y2="129.2" stroke="#a8909a" stroke-width="0.64" opacity="0.24"/>
<line x1="71.6" y1="70.8" x2="77.5" y2="69.7" stroke="#c7745a" stroke-width="0.82" opacity="0.37"/>
<line x1="183.6" y1="132.4" x2="185.1" y2="123.8" stroke="#d08068" stroke-width="0.57" opacity="0.26"/>
<line x1="30.5" y1="99.2" x2="35.8" y2="96.7" stroke="#e0a892" stroke-width="0.79" opacity="0.40"/>
<line x1="128.9" y1="41.2" x2="134.3" y2="33.6" stroke="#d08068" stroke-width="0.91" opacity="0.41"/>
<line x1="40.2" y1="84.4" x2="43.2" y2="79.7" stroke="#e0a892" stroke-width="0.92" opacity="0.25"/>
<line x1="58.4" y1="83.7" x2="64.0" y2="78.3" stroke="#dba08a" stroke-width="0.60" opacity="0.18"/>
<line x1="32.5" y1="53.5" x2="36.7" y2="49.6" stroke="#a8909a" stroke-width="0.60" opacity="0.24"/>
<line x1="170.9" y1="103.3" x2="177.0" y2="104.4" stroke="#d8957e" stroke-width="1.00" opacity="0.50"/>
<line x1="99.1" y1="47.5" x2="103.9" y2="41.4" stroke="#c7745a" stroke-width="1.09" opacity="0.36"/>
<line x1="30.2" y1="128.8" x2="35.3" y2="121.9" stroke="#d8957e" stroke-width="0.68" opacity="0.45"/>
<line x1="58.6" y1="161.9" x2="63.4" y2="154.5" stroke="#dba08a" stroke-width="0.70" opacity="0.41"/>
<line x1="181.0" y1="86.5" x2="184.0" y2="86.0" stroke="#d8957e" stroke-width="0.79" opacity="0.35"/>
<line x1="62.5" y1="154.2" x2="64.0" y2="150.7" stroke="#dba08a" stroke-width="0.67" opacity="0.18"/>
<line x1="49.6" y1="149.5" x2="50.5" y2="146.0" stroke="#cc8a70" stroke-width="0.73" opacity="0.52"/>
<line x1="173.4" y1="138.5" x2="169.4" y2="132.2" stroke="#9a8896" stroke-width="0.72" opacity="0.35"/>
<line x1="58.5" y1="129.0" x2="58.0" y2="125.1" stroke="#bd6a50" stroke-width="0.87" opacity="0.34"/>
<line x1="60.0" y1="66.3" x2="62.4" y2="60.9" stroke="#9a8896" stroke-width="0.84" opacity="0.22"/>
<line x1="67.5" y1="136.3" x2="72.0" y2="129.8" stroke="#bd6a50" stroke-width="0.69" opacity="0.34"/>
<line x1="171.9" y1="98.5" x2="176.2" y2="94.6" stroke="#d08068" stroke-width="0.82" opacity="0.45"/>
<line x1="140.1" y1="55.9" x2="145.6" y2="53.1" stroke="#bd6a50" stroke-width="0.80" opacity="0.41"/>
<line x1="37.1" y1="79.7" x2="41.6" y2="70.9" stroke="#dba08a" stroke-width="0.92" opacity="0.39"/>
<line x1="125.7" y1="123.9" x2="129.3" y2="120.6" stroke="#d08068" stroke-width="0.78" opacity="0.28"/>
<line x1="93.2" y1="109.7" x2="98.2" y2="110.9" stroke="#e0a892" stroke-width="0.81" opacity="0.28"/>
<line x1="141.1" y1="130.6" x2="140.9" y2="126.3" stroke="#d8957e" stroke-width="0.70" opacity="0.29"/>
<line x1="99.3" y1="123.9" x2="108.1" y2="125.9" stroke="#a8909a" stroke-width="0.64" opacity="0.26"/>
<line x1="47.0" y1="117.3" x2="53.4" y2="112.6" stroke="#bd6a50" stroke-width="1.06" opacity="0.25"/>
<line x1="159.4" y1="70.7" x2="165.3" y2="71.8" stroke="#e0a892" stroke-width="0.98" opacity="0.21"/>
<line x1="106.7" y1="42.6" x2="107.8" y2="37.8" stroke="#b8a0a8" stroke-width="0.88" opacity="0.30"/>
<line x1="65.6" y1="28.6" x2="67.3" y2="26.1" stroke="#bd6a50" stroke-width="0.73" opacity="0.19"/>
<line x1="42.2" y1="31.2" x2="49.4" y2="27.7" stroke="#e0a892" stroke-width="0.92" opacity="0.16"/>
<line x1="119.4" y1="68.0" x2="127.7" y2="63.8" stroke="#e0a892" stroke-width="0.97" opacity="0.32"/>
<line x1="106.5" y1="144.4" x2="110.1" y2="144.4" stroke="#a8909a" stroke-width="0.67" opacity="0.20"/>
<line x1="74.8" y1="85.0" x2="76.1" y2="81.4" stroke="#dba08a" stroke-width="1.02" opacity="0.24"/>
<line x1="61.9" y1="106.6" x2="67.3" y2="108.0" stroke="#d08068" stroke-width="0.85" opacity="0.34"/>
<line x1="98.4" y1="29.3" x2="102.8" y2="23.6" stroke="#c7745a" stroke-width="1.01" opacity="0.44"/>
<line x1="111.4" y1="82.9" x2="115.6" y2="75.3" stroke="#d8957e" stroke-width="0.97" opacity="0.51"/>
<line x1="141.9" y1="159.6" x2="149.2" y2="154.2" stroke="#d08068" stroke-width="1.05" opacity="0.17"/>
<line x1="53.2" y1="27.5" x2="56.8" y2="22.8" stroke="#a8909a" stroke-width="0.94" opacity="0.26"/>
<line x1="105.8" y1="164.9" x2="110.9" y2="161.0" stroke="#bd6a50" stroke-width="0.85" opacity="0.26"/>
<line x1="56.6" y1="80.4" x2="65.2" y2="77.8" stroke="#9a8896" stroke-width="0.86" opacity="0.38"/>
<line x1="69.3" y1="37.0" x2="72.9" y2="35.8" stroke="#b8a0a8" stroke-width="0.63" opacity="0.39"/>
<line x1="132.2" y1="42.0" x2="135.1" y2="39.1" stroke="#d08068" stroke-width="0.75" opacity="0.50"/>
<line x1="88.4" y1="49.9" x2="91.7" y2="44.8" stroke="#dba08a" stroke-width="0.64" opacity="0.25"/>
<line x1="136.8" y1="52.1" x2="140.4" y2="43.4" stroke="#d08068" stroke-width="0.67" opacity="0.16"/>
<line x1="177.9" y1="122.0" x2="181.5" y2="119.4" stroke="#c7745a" stroke-width="0.65" opacity="0.17"/>
<line x1="53.5" y1="141.5" x2="57.3" y2="136.2" stroke="#9a8896" stroke-width="0.91" opacity="0.44"/>
<line x1="163.6" y1="69.2" x2="166.6" y2="61.7" stroke="#d8957e" stroke-width="0.72" opacity="0.20"/>
<line x1="131.0" y1="102.8" x2="137.8" y2="100.2" stroke="#9a8896" stroke-width="0.92" opacity="0.46"/>
<line x1="141.6" y1="70.1" x2="147.9" y2="69.0" stroke="#b8a0a8" stroke-width="1.00" opacity="0.51"/>
<line x1="126.7" y1="40.1" x2="133.9" y2="38.9" stroke="#d08068" stroke-width="0.93" opacity="0.37"/>
<line x1="104.0" y1="48.1" x2="111.4" y2="42.5" stroke="#b8a0a8" stroke-width="0.89" opacity="0.16"/>
<line x1="59.4" y1="40.0" x2="65.3" y2="33.5" stroke="#a8909a" stroke-width="1.02" opacity="0.35"/>
<line x1="56.7" y1="153.5" x2="59.5" y2="148.9" stroke="#d8957e" stroke-width="0.56" opacity="0.49"/>
<line x1="137.8" y1="33.9" x2="144.2" y2="29.3" stroke="#cc8a70" stroke-width="0.95" opacity="0.26"/>
<line x1="34.7" y1="54.3" x2="44.3" y2="52.5" stroke="#b8a0a8" stroke-width="1.00" opacity="0.49"/>
<line x1="141.8" y1="57.9" x2="144.3" y2="55.3" stroke="#b8a0a8" stroke-width="0.88" opacity="0.33"/>
<line x1="164.6" y1="81.7" x2="170.0" y2="75.0" stroke="#e0a892" stroke-width="0.67" opacity="0.50"/>
<line x1="67.5" y1="161.9" x2="70.5" y2="156.0" stroke="#c7745a" stroke-width="0.77" opacity="0.41"/>
<line x1="58.4" y1="56.2" x2="64.6" y2="54.0" stroke="#b8a0a8" stroke-width="0.89" opacity="0.33"/>
<line x1="147.1" y1="139.5" x2="149.8" y2="134.3" stroke="#c7745a" stroke-width="0.95" opacity="0.28"/>
<line x1="128.2" y1="85.5" x2="134.0" y2="78.0" stroke="#a8909a" stroke-width="0.67" opacity="0.51"/>
<line x1="115.9" y1="153.6" x2="118.5" y2="149.5" stroke="#bd6a50" stroke-width="0.82" opacity="0.39"/>
<line x1="84.5" y1="106.4" x2="87.5" y2="105.8" stroke="#cc8a70" stroke-width="1.01" opacity="0.24"/>
<line x1="110.4" y1="109.1" x2="117.8" y2="109.6" stroke="#c7745a" stroke-width="0.64" opacity="0.41"/>
<line x1="130.4" y1="38.9" x2="136.4" y2="37.1" stroke="#dba08a" stroke-width="0.61" opacity="0.22"/>
<line x1="59.6" y1="149.2" x2="62.4" y2="144.2" stroke="#c7745a" stroke-width="0.95" opacity="0.19"/>
<line x1="52.0" y1="117.5" x2="61.0" y2="113.6" stroke="#e0a892" stroke-width="1.04" opacity="0.31"/>
<line x1="126.8" y1="40.8" x2="131.5" y2="37.0" stroke="#cc8a70" stroke-width="0.88" opacity="0.38"/>
<line x1="40.2" y1="139.8" x2="44.3" y2="136.7" stroke="#cc8a70" stroke-width="0.95" opacity="0.35"/>
<line x1="39.3" y1="146.6" x2="44.2" y2="139.0" stroke="#d08068" stroke-width="0.66" opacity="0.22"/>
<line x1="65.7" y1="143.3" x2="67.4" y2="140.8" stroke="#a8909a" stroke-width="0.68" opacity="0.23"/>
<line x1="162.4" y1="83.3" x2="170.6" y2="82.3" stroke="#d08068" stroke-width="0.96" opacity="0.19"/>
<line x1="59.2" y1="76.8" x2="64.2" y2="71.1" stroke="#b8a0a8" stroke-width="0.72" opacity="0.30"/>
<line x1="34.2" y1="159.7" x2="40.1" y2="156.6" stroke="#a8909a" stroke-width="0.87" opacity="0.40"/>
<line x1="108.6" y1="135.5" x2="112.8" y2="127.1" stroke="#dba08a" stroke-width="0.58" opacity="0.23"/>
<line x1="55.5" y1="158.8" x2="64.8" y2="158.9" stroke="#b8a0a8" stroke-width="0.62" opacity="0.34"/>
<line x1="134.2" y1="153.3" x2="136.7" y2="149.2" stroke="#a8909a" stroke-width="1.01" opacity="0.38"/>
<line x1="98.9" y1="44.6" x2="102.9" y2="41.4" stroke="#e0a892" stroke-width="0.77" opacity="0.20"/>
<line x1="24.6" y1="69.3" x2="27.3" y2="63.2" stroke="#e0a892" stroke-width="0.62" opacity="0.27"/>
<line x1="129.0" y1="66.2" x2="137.2" y2="63.8" stroke="#cc8a70" stroke-width="0.93" opacity="0.44"/>
<line x1="51.4" y1="40.0" x2="51.8" y2="34.9" stroke="#bd6a50" stroke-width="0.89" opacity="0.41"/>
<line x1="130.8" y1="132.3" x2="124.6" y2="125.4" stroke="#d8957e" stroke-width="0.72" opacity="0.34"/>
<line x1="177.2" y1="81.9" x2="184.3" y2="75.1" stroke="#bd6a50" stroke-width="0.94" opacity="0.33"/>
<line x1="155.6" y1="107.8" x2="163.1" y2="106.5" stroke="#cc8a70" stroke-width="0.66" opacity="0.47"/>
<line x1="94.4" y1="134.9" x2="98.0" y2="129.2" stroke="#dba08a" stroke-width="0.70" opacity="0.21"/>
<line x1="34.8" y1="111.4" x2="42.4" y2="110.7" stroke="#cc8a70" stroke-width="0.79" opacity="0.49"/>
<line x1="144.8" y1="39.8" x2="151.1" y2="38.0" stroke="#d08068" stroke-width="0.75" opacity="0.45"/>
<line x1="102.7" y1="116.8" x2="110.0" y2="112.2" stroke="#b8a0a8" stroke-width="0.83" opacity="0.22"/>
<line x1="46.9" y1="142.5" x2="48.1" y2="138.0" stroke="#d08068" stroke-width="1.09" opacity="0.36"/>
<line x1="110.1" y1="117.4" x2="115.2" y2="116.7" stroke="#d08068" stroke-width="0.61" opacity="0.47"/>
<line x1="33.9" y1="123.9" x2="37.7" y2="120.7" stroke="#a8909a" stroke-width="0.87" opacity="0.26"/>
<line x1="27.2" y1="90.8" x2="30.7" y2="86.9" stroke="#b8a0a8" stroke-width="0.90" opacity="0.25"/>
<line x1="38.8" y1="139.3" x2="39.7" y2="135.6" stroke="#b8a0a8" stroke-width="0.71" opacity="0.46"/>
<line x1="71.3" y1="62.4" x2="78.6" y2="56.4" stroke="#b8a0a8" stroke-width="1.09" opacity="0.25"/>
<line x1="165.1" y1="166.5" x2="172.4" y2="161.7" stroke="#9a8896" stroke-width="0.62" opacity="0.45"/>
<line x1="110.4" y1="45.7" x2="116.4" y2="39.4" stroke="#d08068" stroke-width="1.02" opacity="0.18"/>
<line x1="51.7" y1="63.5" x2="55.6" y2="58.6" stroke="#d8957e" stroke-width="0.99" opacity="0.26"/>
<line x1="52.0" y1="116.3" x2="58.2" y2="113.7" stroke="#dba08a" stroke-width="0.66" opacity="0.17"/>
<line x1="177.0" y1="82.6" x2="182.2" y2="76.7" stroke="#cc8a70" stroke-width="0.86" opacity="0.30"/>
<line x1="104.1" y1="53.4" x2="112.4" y2="48.6" stroke="#b8a0a8" stroke-width="1.10" opacity="0.44"/>
<line x1="97.8" y1="146.0" x2="102.7" y2="139.7" stroke="#c7745a" stroke-width="1.03" opacity="0.46"/>
<line x1="65.3" y1="135.8" x2="71.6" y2="135.2" stroke="#cc8a70" stroke-width="1.09" opacity="0.37"/>
<line x1="50.9" y1="38.0" x2="56.9" y2="36.0" stroke="#d8957e" stroke-width="0.63" opacity="0.34"/>
<line x1="113.0" y1="166.8" x2="114.8" y2="158.3" stroke="#cc8a70" stroke-width="0.70" opacity="0.26"/>
<line x1="88.1" y1="27.5" x2="89.6" y2="24.9" stroke="#dba08a" stroke-width="0.60" opacity="0.44"/>
<line x1="175.0" y1="81.9" x2="179.5" y2="80.8" stroke="#9a8896" stroke-width="0.94" opacity="0.19"/>
<line x1="73.7" y1="165.4" x2="69.4" y2="157.2" stroke="#d8957e" stroke-width="0.87" opacity="0.43"/>
<line x1="122.2" y1="105.3" x2="130.6" y2="109.1" stroke="#a8909a" stroke-width="1.00" opacity="0.35"/>
<line x1="48.2" y1="101.2" x2="52.4" y2="100.0" stroke="#9a8896" stroke-width="0.92" opacity="0.44"/>
<line x1="77.2" y1="85.5" x2="81.6" y2="85.8" stroke="#cc8a70" stroke-width="0.73" opacity="0.36"/>
<line x1="170.5" y1="77.2" x2="178.4" y2="76.5" stroke="#cc8a70" stroke-width="1.07" opacity="0.40"/>
<line x1="147.3" y1="87.8" x2="153.4" y2="86.8" stroke="#9a8896" stroke-width="0.61" opacity="0.27"/>
<line x1="122.3" y1="142.3" x2="127.6" y2="134.8" stroke="#c7745a" stroke-width="0.66" opacity="0.23"/>
<line x1="130.0" y1="51.3" x2="135.3" y2="50.7" stroke="#a8909a" stroke-width="0.58" opacity="0.33"/>
<line x1="93.0" y1="33.6" x2="101.2" y2="34.3" stroke="#b8a0a8" stroke-width="0.78" opacity="0.50"/>
<line x1="60.9" y1="69.2" x2="66.4" y2="65.8" stroke="#dba08a" stroke-width="1.04" opacity="0.17"/>
<line x1="25.1" y1="31.0" x2="28.9" y2="28.5" stroke="#d08068" stroke-width="1.01" opacity="0.16"/>
<line x1="103.8" y1="78.8" x2="105.5" y2="75.5" stroke="#dba08a" stroke-width="0.56" opacity="0.36"/>
<line x1="84.7" y1="63.8" x2="89.4" y2="59.0" stroke="#dba08a" stroke-width="0.60" opacity="0.19"/>
<line x1="103.7" y1="30.9" x2="109.3" y2="25.1" stroke="#a8909a" stroke-width="1.09" opacity="0.47"/>
<line x1="144.8" y1="30.7" x2="149.7" y2="31.2" stroke="#d08068" stroke-width="1.04" opacity="0.46"/>
<line x1="62.9" y1="107.4" x2="67.6" y2="104.3" stroke="#cc8a70" stroke-width="0.88" opacity="0.38"/>
<line x1="31.6" y1="69.5" x2="36.3" y2="66.1" stroke="#9a8896" stroke-width="0.91" opacity="0.45"/>
<line x1="90.9" y1="148.9" x2="98.3" y2="149.0" stroke="#9a8896" stroke-width="0.89" opacity="0.51"/>
<line x1="98.7" y1="117.2" x2="105.8" y2="110.7" stroke="#d08068" stroke-width="0.94" opacity="0.20"/>
<line x1="137.0" y1="134.5" x2="139.0" y2="130.3" stroke="#c7745a" stroke-width="0.68" opacity="0.45"/>
<line x1="84.2" y1="59.1" x2="89.1" y2="53.8" stroke="#bd6a50" stroke-width="0.63" opacity="0.38"/>
<line x1="96.0" y1="154.3" x2="96.0" y2="144.6" stroke="#c7745a" stroke-width="0.65" opacity="0.45"/>
<line x1="113.6" y1="135.5" x2="116.7" y2="131.8" stroke="#a8909a" stroke-width="0.62" opacity="0.17"/>
<line x1="133.5" y1="132.1" x2="136.3" y2="127.6" stroke="#d8957e" stroke-width="0.62" opacity="0.21"/>
<line x1="70.3" y1="125.0" x2="78.2" y2="121.6" stroke="#b8a0a8" stroke-width="0.82" opacity="0.43"/>
<line x1="46.9" y1="71.1" x2="53.5" y2="64.5" stroke="#d08068" stroke-width="1.00" opacity="0.47"/>
<line x1="38.3" y1="135.9" x2="44.1" y2="129.2" stroke="#bd6a50" stroke-width="0.62" opacity="0.51"/>
<line x1="53.0" y1="125.9" x2="57.4" y2="122.2" stroke="#c7745a" stroke-width="0.86" opacity="0.46"/>
<line x1="66.9" y1="63.5" x2="72.5" y2="56.5" stroke="#c7745a" stroke-width="0.93" opacity="0.24"/>
<line x1="130.5" y1="44.6" x2="136.6" y2="38.8" stroke="#d08068" stroke-width="0.60" opacity="0.26"/>
<line x1="71.4" y1="135.2" x2="70.1" y2="131.4" stroke="#d8957e" stroke-width="0.77" opacity="0.18"/>
<line x1="50.3" y1="56.2" x2="58.4" y2="51.2" stroke="#d08068" stroke-width="0.92" opacity="0.18"/>
<line x1="37.6" y1="61.9" x2="40.2" y2="56.7" stroke="#a8909a" stroke-width="0.77" opacity="0.19"/>
<line x1="55.7" y1="109.6" x2="59.9" y2="105.2" stroke="#bd6a50" stroke-width="0.84" opacity="0.44"/>
<line x1="136.3" y1="44.4" x2="139.2" y2="40.4" stroke="#d8957e" stroke-width="0.73" opacity="0.23"/>
<line x1="67.9" y1="148.7" x2="73.8" y2="144.0" stroke="#a8909a" stroke-width="0.89" opacity="0.26"/>
<line x1="37.0" y1="42.2" x2="42.7" y2="40.3" stroke="#a8909a" stroke-width="0.61" opacity="0.25"/>
<line x1="104.6" y1="134.2" x2="107.6" y2="131.5" stroke="#dba08a" stroke-width="0.55" opacity="0.22"/>
<line x1="166.1" y1="145.7" x2="167.5" y2="139.0" stroke="#d8957e" stroke-width="0.91" opacity="0.49"/>
<line x1="92.5" y1="89.8" x2="101.7" y2="91.2" stroke="#9a8896" stroke-width="1.08" opacity="0.33"/>
<line x1="48.0" y1="157.3" x2="47.6" y2="151.4" stroke="#d08068" stroke-width="0.84" opacity="0.25"/>
<line x1="106.2" y1="152.5" x2="104.3" y2="143.6" stroke="#dba08a" stroke-width="0.81" opacity="0.43"/>
<line x1="89.9" y1="53.1" x2="93.1" y2="51.3" stroke="#e0a892" stroke-width="0.66" opacity="0.26"/>
<line x1="82.3" y1="120.5" x2="88.0" y2="115.2" stroke="#a8909a" stroke-width="0.75" opacity="0.38"/>
<line x1="41.6" y1="37.1" x2="43.8" y2="31.3" stroke="#dba08a" stroke-width="0.86" opacity="0.39"/>
<line x1="124.4" y1="60.9" x2="129.7" y2="55.8" stroke="#b8a0a8" stroke-width="0.78" opacity="0.35"/>
<line x1="63.5" y1="73.4" x2="67.8" y2="64.5" stroke="#9a8896" stroke-width="0.91" opacity="0.34"/>
<line x1="35.6" y1="56.9" x2="40.6" y2="52.8" stroke="#cc8a70" stroke-width="0.85" opacity="0.31"/>
<line x1="107.2" y1="31.2" x2="114.9" y2="29.8" stroke="#dba08a" stroke-width="0.84" opacity="0.21"/>
<line x1="143.5" y1="75.8" x2="147.4" y2="75.2" stroke="#bd6a50" stroke-width="0.67" opacity="0.39"/>
<line x1="29.1" y1="91.9" x2="36.0" y2="94.4" stroke="#cc8a70" stroke-width="1.09" opacity="0.29"/>
<line x1="144.6" y1="161.1" x2="151.2" y2="154.6" stroke="#c7745a" stroke-width="0.91" opacity="0.37"/>
<line x1="84.7" y1="103.5" x2="92.4" y2="103.9" stroke="#b8a0a8" stroke-width="0.99" opacity="0.24"/>
<line x1="111.0" y1="77.7" x2="118.1" y2="79.6" stroke="#bd6a50" stroke-width="0.79" opacity="0.15"/>
<line x1="163.0" y1="138.3" x2="166.8" y2="131.3" stroke="#cc8a70" stroke-width="0.90" opacity="0.23"/>
<line x1="135.8" y1="155.3" x2="138.8" y2="153.3" stroke="#d08068" stroke-width="0.96" opacity="0.36"/>
<line x1="117.3" y1="123.9" x2="122.8" y2="120.4" stroke="#dba08a" stroke-width="0.85" opacity="0.44"/>
<line x1="147.4" y1="57.8" x2="151.1" y2="52.7" stroke="#d08068" stroke-width="0.71" opacity="0.41"/>
<line x1="133.1" y1="46.1" x2="138.9" y2="41.5" stroke="#e0a892" stroke-width="0.82" opacity="0.26"/>
<line x1="56.6" y1="157.2" x2="53.4" y2="147.8" stroke="#dba08a" stroke-width="0.60" opacity="0.28"/>
<line x1="80.1" y1="131.2" x2="82.7" y2="123.5" stroke="#d8957e" stroke-width="0.87" opacity="0.29"/>
<line x1="176.6" y1="69.5" x2="183.6" y2="65.0" stroke="#dba08a" stroke-width="1.04" opacity="0.25"/>
<line x1="173.0" y1="65.9" x2="179.2" y2="63.0" stroke="#cc8a70" stroke-width="1.08" opacity="0.39"/>
<line x1="141.8" y1="58.1" x2="143.1" y2="53.6" stroke="#e0a892" stroke-width="0.69" opacity="0.45"/>
<line x1="79.3" y1="130.5" x2="81.6" y2="124.3" stroke="#cc8a70" stroke-width="0.75" opacity="0.20"/>
<line x1="126.0" y1="75.4" x2="129.8" y2="70.1" stroke="#dba08a" stroke-width="0.87" opacity="0.24"/>
<line x1="96.2" y1="71.4" x2="98.0" y2="63.6" stroke="#bd6a50" stroke-width="0.89" opacity="0.31"/>
<line x1="65.3" y1="52.4" x2="69.8" y2="47.8" stroke="#c7745a" stroke-width="0.69" opacity="0.24"/>
<line x1="134.5" y1="59.1" x2="137.9" y2="56.3" stroke="#b8a0a8" stroke-width="0.84" opacity="0.24"/>
<line x1="156.2" y1="74.1" x2="162.6" y2="73.7" stroke="#d08068" stroke-width="0.89" opacity="0.22"/>
<line x1="92.4" y1="164.0" x2="95.1" y2="162.0" stroke="#cc8a70" stroke-width="0.82" opacity="0.28"/>
<line x1="103.1" y1="150.6" x2="112.6" y2="148.8" stroke="#d8957e" stroke-width="0.63" opacity="0.34"/>
<line x1="84.9" y1="68.8" x2="86.8" y2="65.8" stroke="#a8909a" stroke-width="0.77" opacity="0.28"/>
<line x1="175.3" y1="76.0" x2="183.1" y2="70.0" stroke="#a8909a" stroke-width="0.85" opacity="0.22"/>
<line x1="147.9" y1="130.0" x2="151.6" y2="130.4" stroke="#b8a0a8" stroke-width="0.72" opacity="0.42"/>
<line x1="131.3" y1="82.9" x2="139.5" y2="81.9" stroke="#d08068" stroke-width="0.89" opacity="0.26"/>
<line x1="79.0" y1="140.9" x2="82.0" y2="137.9" stroke="#e0a892" stroke-width="0.92" opacity="0.47"/>
<line x1="92.2" y1="166.5" x2="95.2" y2="157.3" stroke="#d8957e" stroke-width="1.02" opacity="0.35"/>
<line x1="30.5" y1="46.7" x2="34.6" y2="38.0" stroke="#cc8a70" stroke-width="0.57" opacity="0.25"/>
<line x1="172.3" y1="63.5" x2="175.1" y2="61.8" stroke="#c7745a" stroke-width="0.66" opacity="0.32"/>
<line x1="124.9" y1="120.5" x2="130.2" y2="118.8" stroke="#d08068" stroke-width="0.93" opacity="0.31"/>
<line x1="103.7" y1="164.7" x2="109.8" y2="162.4" stroke="#9a8896" stroke-width="0.95" opacity="0.46"/>
<line x1="30.7" y1="123.7" x2="33.9" y2="121.4" stroke="#b8a0a8" stroke-width="1.03" opacity="0.30"/>
<line x1="104.9" y1="157.8" x2="107.8" y2="153.8" stroke="#d8957e" stroke-width="0.80" opacity="0.24"/>
<line x1="126.1" y1="104.8" x2="132.7" y2="104.9" stroke="#b8a0a8" stroke-width="0.56" opacity="0.23"/>
<line x1="77.2" y1="70.3" x2="79.3" y2="67.0" stroke="#dba08a" stroke-width="0.60" opacity="0.22"/>
<line x1="102.1" y1="149.3" x2="102.2" y2="144.9" stroke="#dba08a" stroke-width="0.95" opacity="0.26"/>
<line x1="56.1" y1="105.3" x2="61.1" y2="100.2" stroke="#a8909a" stroke-width="0.74" opacity="0.21"/>
<line x1="156.4" y1="139.1" x2="159.2" y2="136.7" stroke="#bd6a50" stroke-width="0.98" opacity="0.39"/>
<line x1="103.6" y1="104.3" x2="113.0" y2="103.2" stroke="#d08068" stroke-width="0.87" opacity="0.39"/>
<line x1="103.7" y1="134.0" x2="105.8" y2="128.4" stroke="#dba08a" stroke-width="0.68" opacity="0.17"/>
<line x1="64.9" y1="69.0" x2="70.0" y2="63.9" stroke="#a8909a" stroke-width="0.95" opacity="0.16"/>
<line x1="87.4" y1="89.5" x2="90.5" y2="86.1" stroke="#d08068" stroke-width="0.58" opacity="0.21"/>
<line x1="138.1" y1="150.8" x2="140.7" y2="143.6" stroke="#d08068" stroke-width="0.68" opacity="0.49"/>
<line x1="128.3" y1="87.6" x2="137.6" y2="87.8" stroke="#a8909a" stroke-width="0.68" opacity="0.29"/>
<line x1="154.3" y1="148.1" x2="153.0" y2="144.5" stroke="#9a8896" stroke-width="0.94" opacity="0.45"/>
<line x1="149.5" y1="154.4" x2="153.6" y2="152.6" stroke="#a8909a" stroke-width="0.81" opacity="0.40"/>
<line x1="166.8" y1="159.2" x2="170.4" y2="152.8" stroke="#d8957e" stroke-width="0.55" opacity="0.41"/>
<line x1="181.8" y1="109.4" x2="190.1" y2="105.3" stroke="#d8957e" stroke-width="1.00" opacity="0.31"/>
<line x1="52.9" y1="128.0" x2="56.5" y2="124.1" stroke="#d8957e" stroke-width="0.88" opacity="0.27"/>
<line x1="42.0" y1="84.8" x2="44.5" y2="80.0" stroke="#d08068" stroke-width="0.73" opacity="0.32"/>
<line x1="58.1" y1="149.6" x2="58.7" y2="142.9" stroke="#c7745a" stroke-width="0.83" opacity="0.48"/>
<line x1="64.5" y1="107.8" x2="68.3" y2="106.4" stroke="#cc8a70" stroke-width="0.67" opacity="0.41"/>
<line x1="120.2" y1="106.5" x2="126.0" y2="108.2" stroke="#e0a892" stroke-width="0.65" opacity="0.42"/>
<line x1="155.0" y1="66.7" x2="158.8" y2="68.3" stroke="#bd6a50" stroke-width="0.78" opacity="0.48"/>
<line x1="173.2" y1="63.2" x2="173.5" y2="56.5" stroke="#e0a892" stroke-width="0.70" opacity="0.29"/>
<line x1="46.9" y1="152.4" x2="47.5" y2="146.2" stroke="#b8a0a8" stroke-width="0.63" opacity="0.37"/>
<line x1="124.9" y1="164.7" x2="132.8" y2="162.0" stroke="#cc8a70" stroke-width="0.94" opacity="0.15"/>
<line x1="91.7" y1="37.1" x2="98.3" y2="31.4" stroke="#b8a0a8" stroke-width="0.88" opacity="0.33"/>
<line x1="180.5" y1="143.0" x2="186.9" y2="138.6" stroke="#d08068" stroke-width="1.04" opacity="0.41"/>
<line x1="128.3" y1="41.6" x2="132.6" y2="39.4" stroke="#b8a0a8" stroke-width="0.90" opacity="0.18"/>
<line x1="110.9" y1="140.6" x2="114.8" y2="135.9" stroke="#cc8a70" stroke-width="1.02" opacity="0.24"/>
<line x1="42.3" y1="118.2" x2="46.3" y2="115.0" stroke="#d8957e" stroke-width="1.07" opacity="0.43"/>
<line x1="158.4" y1="108.8" x2="166.1" y2="110.9" stroke="#bd6a50" stroke-width="0.70" opacity="0.25"/>
<line x1="36.8" y1="164.1" x2="42.1" y2="162.6" stroke="#c7745a" stroke-width="0.74" opacity="0.39"/>
<line x1="64.2" y1="113.3" x2="73.2" y2="112.0" stroke="#b8a0a8" stroke-width="0.65" opacity="0.34"/>
<line x1="112.9" y1="127.8" x2="115.8" y2="126.2" stroke="#d8957e" stroke-width="0.72" opacity="0.16"/>
<line x1="44.7" y1="111.4" x2="52.2" y2="107.5" stroke="#c7745a" stroke-width="1.00" opacity="0.26"/>
<line x1="163.3" y1="165.0" x2="166.1" y2="156.2" stroke="#c7745a" stroke-width="0.71" opacity="0.35"/>
<line x1="50.9" y1="89.1" x2="56.5" y2="86.5" stroke="#c7745a" stroke-width="0.76" opacity="0.20"/>
<line x1="112.7" y1="103.5" x2="115.4" y2="101.1" stroke="#bd6a50" stroke-width="0.80" opacity="0.37"/>
<line x1="141.2" y1="37.6" x2="149.5" y2="38.1" stroke="#b8a0a8" stroke-width="0.86" opacity="0.44"/>
<line x1="41.7" y1="60.7" x2="47.0" y2="60.4" stroke="#dba08a" stroke-width="0.60" opacity="0.16"/>
<line x1="51.6" y1="157.6" x2="57.2" y2="155.6" stroke="#cc8a70" stroke-width="0.63" opacity="0.27"/>
<line x1="145.9" y1="123.1" x2="149.6" y2="121.3" stroke="#a8909a" stroke-width="1.00" opacity="0.32"/>
<line x1="77.0" y1="71.2" x2="83.0" y2="68.4" stroke="#bd6a50" stroke-width="0.74" opacity="0.48"/>
<line x1="133.5" y1="82.4" x2="140.1" y2="80.5" stroke="#bd6a50" stroke-width="0.63" opacity="0.32"/>
<line x1="37.0" y1="150.6" x2="36.5" y2="143.2" stroke="#e0a892" stroke-width="0.79" opacity="0.39"/>
<line x1="31.2" y1="157.2" x2="32.7" y2="153.2" stroke="#b8a0a8" stroke-width="0.62" opacity="0.35"/>
<line x1="61.1" y1="118.4" x2="69.9" y2="122.4" stroke="#a8909a" stroke-width="0.99" opacity="0.39"/>
<line x1="135.2" y1="157.5" x2="138.1" y2="153.9" stroke="#c7745a" stroke-width="1.03" opacity="0.29"/>
<line x1="46.8" y1="148.2" x2="52.1" y2="141.0" stroke="#9a8896" stroke-width="0.81" opacity="0.30"/>
<line x1="68.3" y1="161.8" x2="71.9" y2="158.1" stroke="#a8909a" stroke-width="0.57" opacity="0.49"/>
<line x1="94.4" y1="45.8" x2="96.6" y2="38.8" stroke="#c7745a" stroke-width="0.99" opacity="0.36"/>
<line x1="106.5" y1="159.3" x2="114.4" y2="160.5" stroke="#a8909a" stroke-width="0.85" opacity="0.35"/>
<line x1="22.9" y1="93.6" x2="31.0" y2="90.2" stroke="#dba08a" stroke-width="1.10" opacity="0.29"/>
<line x1="126.7" y1="32.8" x2="132.5" y2="28.9" stroke="#bd6a50" stroke-width="0.91" opacity="0.24"/>
<line x1="126.2" y1="88.2" x2="132.7" y2="86.2" stroke="#b8a0a8" stroke-width="0.87" opacity="0.49"/>
<line x1="107.4" y1="104.3" x2="113.8" y2="96.8" stroke="#e0a892" stroke-width="0.59" opacity="0.46"/>
<line x1="43.8" y1="74.4" x2="46.9" y2="72.1" stroke="#dba08a" stroke-width="0.92" opacity="0.49"/>
<line x1="56.7" y1="60.0" x2="61.2" y2="56.3" stroke="#cc8a70" stroke-width="0.84" opacity="0.17"/>
<line x1="70.3" y1="119.4" x2="77.2" y2="119.6" stroke="#9a8896" stroke-width="0.97" opacity="0.42"/>
<line x1="113.1" y1="113.9" x2="122.1" y2="113.1" stroke="#dba08a" stroke-width="0.81" opacity="0.16"/>
<line x1="120.1" y1="52.2" x2="128.7" y2="49.3" stroke="#d08068" stroke-width="1.00" opacity="0.47"/>
<line x1="100.4" y1="52.8" x2="107.4" y2="45.8" stroke="#d8957e" stroke-width="0.87" opacity="0.27"/>
<line x1="168.5" y1="77.7" x2="176.2" y2="80.6" stroke="#bd6a50" stroke-width="0.94" opacity="0.27"/>
<line x1="25.1" y1="146.8" x2="33.3" y2="141.3" stroke="#bd6a50" stroke-width="1.07" opacity="0.51"/>
<line x1="39.6" y1="81.4" x2="44.8" y2="72.8" stroke="#b8a0a8" stroke-width="0.73" opacity="0.25"/>
<line x1="110.3" y1="38.7" x2="112.4" y2="31.5" stroke="#d8957e" stroke-width="1.06" opacity="0.36"/>
<line x1="174.7" y1="62.0" x2="179.3" y2="58.8" stroke="#9a8896" stroke-width="0.85" opacity="0.17"/>
<line x1="75.4" y1="101.6" x2="84.2" y2="97.5" stroke="#a8909a" stroke-width="0.68" opacity="0.32"/>
<line x1="50.9" y1="128.2" x2="57.4" y2="122.5" stroke="#b8a0a8" stroke-width="1.00" opacity="0.28"/>
<line x1="99.6" y1="137.4" x2="103.6" y2="131.6" stroke="#e0a892" stroke-width="1.09" opacity="0.18"/>
<line x1="110.9" y1="145.7" x2="114.2" y2="145.0" stroke="#a8909a" stroke-width="0.77" opacity="0.28"/>
<line x1="157.1" y1="67.0" x2="165.7" y2="65.5" stroke="#b8a0a8" stroke-width="0.69" opacity="0.20"/>
<line x1="153.0" y1="146.4" x2="157.2" y2="145.5" stroke="#d08068" stroke-width="0.57" opacity="0.51"/>
<line x1="159.0" y1="69.8" x2="163.7" y2="69.4" stroke="#d8957e" stroke-width="0.67" opacity="0.51"/>
<line x1="35.7" y1="122.7" x2="39.4" y2="122.1" stroke="#e0a892" stroke-width="0.87" opacity="0.19"/>
<line x1="40.4" y1="83.0" x2="46.9" y2="88.6" stroke="#a8909a" stroke-width="0.73" opacity="0.41"/>
<line x1="151.7" y1="51.3" x2="155.0" y2="49.7" stroke="#d8957e" stroke-width="1.05" opacity="0.32"/>
<line x1="41.7" y1="131.5" x2="43.1" y2="127.9" stroke="#9a8896" stroke-width="0.78" opacity="0.40"/>
<line x1="180.9" y1="79.2" x2="183.6" y2="76.2" stroke="#dba08a" stroke-width="1.06" opacity="0.33"/>
<line x1="71.3" y1="39.9" x2="72.1" y2="35.9" stroke="#bd6a50" stroke-width="0.90" opacity="0.23"/>
<line x1="142.5" y1="63.1" x2="145.5" y2="55.8" stroke="#dba08a" stroke-width="0.82" opacity="0.34"/>
<line x1="108.7" y1="138.5" x2="115.3" y2="132.7" stroke="#bd6a50" stroke-width="0.72" opacity="0.17"/>
<line x1="99.1" y1="131.8" x2="104.9" y2="127.2" stroke="#a8909a" stroke-width="0.59" opacity="0.15"/>
<line x1="27.7" y1="84.8" x2="35.0" y2="85.9" stroke="#e0a892" stroke-width="0.74" opacity="0.43"/>
<line x1="74.6" y1="56.2" x2="80.8" y2="51.8" stroke="#e0a892" stroke-width="0.69" opacity="0.35"/>
<line x1="75.8" y1="151.2" x2="78.1" y2="146.6" stroke="#9a8896" stroke-width="1.07" opacity="0.41"/>
<line x1="26.6" y1="164.1" x2="32.3" y2="156.0" stroke="#dba08a" stroke-width="0.75" opacity="0.43"/>
<line x1="49.2" y1="145.2" x2="52.4" y2="139.0" stroke="#b8a0a8" stroke-width="0.71" opacity="0.32"/>
<line x1="34.7" y1="90.3" x2="39.6" y2="83.3" stroke="#b8a0a8" stroke-width="0.61" opacity="0.30"/>
<line x1="140.6" y1="139.9" x2="143.4" y2="137.3" stroke="#d08068" stroke-width="1.03" opacity="0.29"/>
<line x1="107.4" y1="116.7" x2="114.2" y2="109.7" stroke="#dba08a" stroke-width="0.62" opacity="0.47"/>
<line x1="73.6" y1="26.0" x2="81.7" y2="23.5" stroke="#9a8896" stroke-width="1.09" opacity="0.36"/>
<line x1="147.3" y1="159.4" x2="152.4" y2="151.1" stroke="#d8957e" stroke-width="0.68" opacity="0.22"/>
<line x1="54.0" y1="167.9" x2="52.9" y2="162.5" stroke="#c7745a" stroke-width="1.00" opacity="0.34"/>
<line x1="56.0" y1="67.7" x2="59.0" y2="67.0" stroke="#e0a892" stroke-width="0.78" opacity="0.27"/>
<line x1="140.5" y1="123.8" x2="149.4" y2="123.3" stroke="#dba08a" stroke-width="0.77" opacity="0.36"/>
<line x1="115.4" y1="36.8" x2="117.6" y2="33.9" stroke="#cc8a70" stroke-width="0.82" opacity="0.35"/>
<line x1="27.3" y1="30.1" x2="34.0" y2="29.2" stroke="#9a8896" stroke-width="0.77" opacity="0.36"/>
<line x1="64.2" y1="46.0" x2="73.2" y2="44.9" stroke="#a8909a" stroke-width="0.64" opacity="0.50"/>
<line x1="72.0" y1="103.5" x2="76.1" y2="97.8" stroke="#9a8896" stroke-width="0.98" opacity="0.37"/>
<line x1="80.2" y1="27.4" x2="88.4" y2="21.8" stroke="#c7745a" stroke-width="1.10" opacity="0.18"/>
<line x1="141.4" y1="115.1" x2="145.4" y2="114.4" stroke="#b8a0a8" stroke-width="0.76" opacity="0.25"/>
<line x1="56.9" y1="26.7" x2="60.0" y2="23.0" stroke="#e0a892" stroke-width="0.62" opacity="0.47"/>
<line x1="65.4" y1="71.6" x2="70.1" y2="69.5" stroke="#9a8896" stroke-width="0.55" opacity="0.33"/>
<line x1="60.2" y1="152.9" x2="65.7" y2="150.1" stroke="#e0a892" stroke-width="0.82" opacity="0.46"/>
<line x1="48.5" y1="158.4" x2="46.1" y2="156.5" stroke="#c7745a" stroke-width="0.92" opacity="0.38"/>
<line x1="123.5" y1="111.9" x2="129.2" y2="112.0" stroke="#d8957e" stroke-width="0.66" opacity="0.39"/>
<line x1="117.1" y1="145.5" x2="118.2" y2="141.9" stroke="#a8909a" stroke-width="0.66" opacity="0.28"/>
<line x1="160.7" y1="139.7" x2="166.4" y2="140.2" stroke="#e0a892" stroke-width="0.87" opacity="0.25"/>
<line x1="130.7" y1="60.6" x2="136.5" y2="54.3" stroke="#c7745a" stroke-width="1.03" opacity="0.21"/>
<line x1="47.6" y1="118.2" x2="51.6" y2="117.5" stroke="#e0a892" stroke-width="1.07" opacity="0.33"/>
<line x1="56.7" y1="53.9" x2="60.7" y2="47.2" stroke="#bd6a50" stroke-width="0.60" opacity="0.39"/>
<line x1="57.3" y1="108.0" x2="64.0" y2="107.8" stroke="#d08068" stroke-width="0.87" opacity="0.40"/>
<line x1="86.4" y1="158.7" x2="83.3" y2="154.0" stroke="#dba08a" stroke-width="0.86" opacity="0.36"/>
<line x1="130.8" y1="154.1" x2="139.0" y2="151.4" stroke="#d08068" stroke-width="0.97" opacity="0.51"/>
<line x1="56.5" y1="106.6" x2="64.0" y2="102.7" stroke="#e0a892" stroke-width="0.59" opacity="0.42"/>
<line x1="149.4" y1="83.5" x2="154.0" y2="82.0" stroke="#cc8a70" stroke-width="1.10" opacity="0.52"/>
<line x1="150.3" y1="64.8" x2="157.5" y2="58.6" stroke="#a8909a" stroke-width="0.83" opacity="0.33"/>
<line x1="128.3" y1="51.5" x2="132.4" y2="43.7" stroke="#cc8a70" stroke-width="0.82" opacity="0.19"/>
<line x1="35.2" y1="51.5" x2="38.5" y2="45.9" stroke="#b8a0a8" stroke-width="0.89" opacity="0.28"/>
<line x1="97.3" y1="113.1" x2="100.9" y2="112.5" stroke="#bd6a50" stroke-width="0.74" opacity="0.25"/>
<line x1="77.2" y1="130.6" x2="76.3" y2="127.8" stroke="#c7745a" stroke-width="1.05" opacity="0.51"/>
<line x1="60.1" y1="72.4" x2="63.1" y2="69.9" stroke="#9a8896" stroke-width="0.87" opacity="0.31"/>
<line x1="156.0" y1="69.3" x2="160.9" y2="74.0" stroke="#9a8896" stroke-width="1.05" opacity="0.36"/>
<line x1="72.1" y1="84.7" x2="77.8" y2="81.7" stroke="#dba08a" stroke-width="0.75" opacity="0.49"/>
<line x1="67.7" y1="153.0" x2="71.8" y2="148.1" stroke="#b8a0a8" stroke-width="0.67" opacity="0.19"/>
<line x1="149.3" y1="125.0" x2="153.1" y2="125.0" stroke="#d8957e" stroke-width="1.00" opacity="0.28"/>
<line x1="100.8" y1="152.2" x2="101.6" y2="148.2" stroke="#a8909a" stroke-width="1.01" opacity="0.20"/>
<line x1="135.0" y1="54.9" x2="140.1" y2="50.9" stroke="#9a8896" stroke-width="0.81" opacity="0.21"/>
<line x1="97.8" y1="42.5" x2="103.6" y2="36.9" stroke="#b8a0a8" stroke-width="0.71" opacity="0.46"/>
<line x1="38.1" y1="64.8" x2="47.0" y2="66.3" stroke="#cc8a70" stroke-width="0.64" opacity="0.47"/>
<line x1="62.9" y1="46.7" x2="65.2" y2="40.9" stroke="#a8909a" stroke-width="0.67" opacity="0.15"/>
<line x1="149.6" y1="74.3" x2="154.0" y2="71.9" stroke="#d08068" stroke-width="1.09" opacity="0.49"/>
<line x1="34.3" y1="82.7" x2="38.9" y2="75.9" stroke="#d8957e" stroke-width="0.83" opacity="0.20"/>
<line x1="39.2" y1="89.9" x2="45.4" y2="87.8" stroke="#c7745a" stroke-width="0.70" opacity="0.22"/>
<line x1="41.7" y1="132.4" x2="39.8" y2="128.3" stroke="#d8957e" stroke-width="0.58" opacity="0.23"/>
<line x1="36.6" y1="36.1" x2="42.1" y2="34.4" stroke="#b8a0a8" stroke-width="0.94" opacity="0.28"/>
<line x1="28.2" y1="99.4" x2="33.8" y2="95.1" stroke="#a8909a" stroke-width="0.60" opacity="0.46"/>
<line x1="75.9" y1="38.6" x2="80.2" y2="34.7" stroke="#bd6a50" stroke-width="0.69" opacity="0.17"/>
<line x1="125.7" y1="160.9" x2="129.6" y2="161.2" stroke="#a8909a" stroke-width="0.68" opacity="0.50"/>
<line x1="101.4" y1="57.7" x2="106.6" y2="51.8" stroke="#d08068" stroke-width="0.89" opacity="0.38"/>
<line x1="180.0" y1="62.4" x2="183.3" y2="60.5" stroke="#bd6a50" stroke-width="0.86" opacity="0.48"/>
<line x1="119.5" y1="25.1" x2="126.8" y2="25.6" stroke="#9a8896" stroke-width="0.83" opacity="0.31"/>
<line x1="28.1" y1="41.2" x2="34.7" y2="36.3" stroke="#cc8a70" stroke-width="0.99" opacity="0.24"/>
<line x1="109.2" y1="77.5" x2="117.3" y2="72.1" stroke="#9a8896" stroke-width="0.59" opacity="0.49"/>
<line x1="96.1" y1="34.8" x2="99.7" y2="30.5" stroke="#9a8896" stroke-width="0.65" opacity="0.39"/>
<line x1="117.4" y1="72.6" x2="120.4" y2="67.0" stroke="#c7745a" stroke-width="0.83" opacity="0.16"/>
<line x1="72.2" y1="109.4" x2="79.6" y2="108.6" stroke="#cc8a70" stroke-width="0.62" opacity="0.19"/>
<line x1="29.9" y1="149.6" x2="30.4" y2="143.9" stroke="#a8909a" stroke-width="0.73" opacity="0.24"/>
<line x1="45.7" y1="68.9" x2="49.1" y2="65.0" stroke="#9a8896" stroke-width="0.56" opacity="0.38"/>
<line x1="94.6" y1="121.8" x2="98.1" y2="119.7" stroke="#bd6a50" stroke-width="0.60" opacity="0.23"/>
<line x1="95.4" y1="137.5" x2="103.3" y2="133.2" stroke="#cc8a70" stroke-width="0.87" opacity="0.39"/>
<line x1="169.1" y1="102.7" x2="178.6" y2="102.6" stroke="#a8909a" stroke-width="0.74" opacity="0.16"/>
<line x1="28.1" y1="32.9" x2="33.1" y2="31.2" stroke="#e0a892" stroke-width="0.56" opacity="0.18"/>
<line x1="111.7" y1="76.7" x2="115.0" y2="73.2" stroke="#c7745a" stroke-width="0.57" opacity="0.18"/>
<line x1="136.5" y1="109.4" x2="139.4" y2="107.9" stroke="#a8909a" stroke-width="0.56" opacity="0.34"/>
<line x1="47.2" y1="76.5" x2="50.9" y2="69.7" stroke="#d8957e" stroke-width="0.64" opacity="0.35"/>
<line x1="135.0" y1="156.8" x2="142.8" y2="153.0" stroke="#d8957e" stroke-width="1.08" opacity="0.25"/>
<line x1="89.9" y1="120.8" x2="93.4" y2="118.4" stroke="#9a8896" stroke-width="0.55" opacity="0.41"/>
<line x1="31.2" y1="102.4" x2="40.2" y2="103.8" stroke="#d8957e" stroke-width="0.73" opacity="0.38"/>
<line x1="144.6" y1="157.6" x2="148.2" y2="149.0" stroke="#d08068" stroke-width="1.02" opacity="0.48"/>
<line x1="56.7" y1="45.2" x2="63.7" y2="44.0" stroke="#dba08a" stroke-width="0.82" opacity="0.50"/>
<line x1="36.4" y1="123.6" x2="40.6" y2="123.9" stroke="#b8a0a8" stroke-width="0.63" opacity="0.42"/>
<line x1="109.8" y1="63.0" x2="114.7" y2="58.1" stroke="#dba08a" stroke-width="0.85" opacity="0.26"/>
<line x1="48.7" y1="67.5" x2="53.7" y2="65.1" stroke="#dba08a" stroke-width="0.70" opacity="0.17"/>
<line x1="179.8" y1="62.8" x2="183.1" y2="61.5" stroke="#a8909a" stroke-width="1.10" opacity="0.21"/>
<line x1="76.2" y1="170.2" x2="77.8" y2="160.7" stroke="#dba08a" stroke-width="0.92" opacity="0.33"/>
<line x1="107.4" y1="52.1" x2="111.1" y2="48.5" stroke="#d8957e" stroke-width="0.83" opacity="0.36"/>
<line x1="112.4" y1="29.8" x2="115.9" y2="25.5" stroke="#d08068" stroke-width="0.83" opacity="0.24"/>
<line x1="35.4" y1="79.1" x2="38.7" y2="74.1" stroke="#d8957e" stroke-width="0.88" opacity="0.39"/>
<line x1="141.1" y1="65.0" x2="147.9" y2="59.4" stroke="#b8a0a8" stroke-width="1.01" opacity="0.46"/>
<line x1="59.2" y1="29.7" x2="63.4" y2="22.5" stroke="#9a8896" stroke-width="0.82" opacity="0.40"/>
<line x1="111.5" y1="149.3" x2="114.6" y2="147.8" stroke="#bd6a50" stroke-width="0.63" opacity="0.18"/>
<line x1="33.7" y1="119.0" x2="37.1" y2="119.2" stroke="#d08068" stroke-width="1.05" opacity="0.50"/>
<line x1="180.0" y1="66.5" x2="182.5" y2="60.4" stroke="#d8957e" stroke-width="0.71" opacity="0.19"/>
<line x1="109.5" y1="45.7" x2="114.9" y2="37.7" stroke="#d08068" stroke-width="0.88" opacity="0.42"/>
<line x1="60.9" y1="121.4" x2="68.6" y2="119.8" stroke="#e0a892" stroke-width="0.78" opacity="0.29"/>
<line x1="121.6" y1="98.9" x2="124.7" y2="98.7" stroke="#b8a0a8" stroke-width="0.91" opacity="0.39"/>
<line x1="34.6" y1="38.9" x2="40.3" y2="31.5" stroke="#bd6a50" stroke-width="1.10" opacity="0.34"/>
<line x1="24.5" y1="106.4" x2="31.0" y2="105.2" stroke="#b8a0a8" stroke-width="0.97" opacity="0.21"/>
<line x1="176.8" y1="143.4" x2="185.1" y2="138.6" stroke="#e0a892" stroke-width="1.00" opacity="0.35"/>
<line x1="152.4" y1="114.1" x2="157.4" y2="112.3" stroke="#bd6a50" stroke-width="0.96" opacity="0.33"/>
<line x1="55.0" y1="94.6" x2="60.2" y2="90.2" stroke="#d08068" stroke-width="0.73" opacity="0.17"/>
<line x1="36.6" y1="162.8" x2="39.2" y2="154.1" stroke="#b8a0a8" stroke-width="1.04" opacity="0.23"/>
<line x1="110.4" y1="141.8" x2="116.2" y2="138.2" stroke="#b8a0a8" stroke-width="1.10" opacity="0.41"/>
<line x1="56.9" y1="99.2" x2="60.2" y2="99.2" stroke="#dba08a" stroke-width="0.63" opacity="0.50"/>
<line x1="46.3" y1="62.6" x2="51.6" y2="59.8" stroke="#a8909a" stroke-width="0.78" opacity="0.31"/>
<line x1="110.6" y1="76.6" x2="116.5" y2="71.5" stroke="#bd6a50" stroke-width="1.07" opacity="0.22"/>
<line x1="43.4" y1="153.7" x2="46.3" y2="147.9" stroke="#bd6a50" stroke-width="0.80" opacity="0.26"/>
<line x1="114.4" y1="127.5" x2="115.4" y2="124.1" stroke="#d8957e" stroke-width="0.74" opacity="0.33"/>
<line x1="123.2" y1="153.6" x2="124.5" y2="145.4" stroke="#e0a892" stroke-width="0.68" opacity="0.49"/>
<line x1="61.6" y1="51.5" x2="68.3" y2="49.1" stroke="#cc8a70" stroke-width="0.59" opacity="0.18"/>
<line x1="100.7" y1="148.1" x2="108.6" y2="145.3" stroke="#b8a0a8" stroke-width="0.60" opacity="0.31"/>
<line x1="83.8" y1="159.7" x2="84.2" y2="156.1" stroke="#d8957e" stroke-width="0.76" opacity="0.47"/>
<line x1="55.5" y1="43.8" x2="62.9" y2="41.5" stroke="#b8a0a8" stroke-width="0.76" opacity="0.24"/>
<line x1="176.4" y1="89.6" x2="185.3" y2="88.0" stroke="#e0a892" stroke-width="1.03" opacity="0.51"/>
<line x1="121.3" y1="111.8" x2="127.4" y2="111.9" stroke="#dba08a" stroke-width="0.92" opacity="0.37"/>
<line x1="102.1" y1="55.5" x2="107.2" y2="50.6" stroke="#cc8a70" stroke-width="0.91" opacity="0.46"/>
<line x1="28.0" y1="36.3" x2="36.4" y2="33.7" stroke="#c7745a" stroke-width="0.73" opacity="0.36"/>
<line x1="37.8" y1="95.3" x2="38.9" y2="91.0" stroke="#c7745a" stroke-width="0.66" opacity="0.34"/>
<line x1="31.9" y1="56.5" x2="34.7" y2="53.7" stroke="#b8a0a8" stroke-width="0.94" opacity="0.18"/>
<line x1="105.3" y1="43.3" x2="105.2" y2="37.5" stroke="#b8a0a8" stroke-width="0.93" opacity="0.16"/>
<line x1="110.6" y1="81.0" x2="117.4" y2="76.9" stroke="#bd6a50" stroke-width="1.07" opacity="0.17"/>
<line x1="145.7" y1="117.9" x2="153.3" y2="116.6" stroke="#b8a0a8" stroke-width="0.95" opacity="0.16"/>
<line x1="50.1" y1="104.6" x2="53.1" y2="103.7" stroke="#d08068" stroke-width="0.67" opacity="0.46"/>
<line x1="94.1" y1="53.7" x2="96.8" y2="45.1" stroke="#d08068" stroke-width="1.07" opacity="0.23"/>
<line x1="34.8" y1="43.1" x2="42.8" y2="40.3" stroke="#9a8896" stroke-width="0.67" opacity="0.36"/>
<line x1="135.6" y1="52.1" x2="140.6" y2="45.9" stroke="#9a8896" stroke-width="0.93" opacity="0.26"/>
<line x1="89.5" y1="154.9" x2="89.0" y2="146.2" stroke="#b8a0a8" stroke-width="0.69" opacity="0.37"/>
<line x1="167.4" y1="163.2" x2="175.0" y2="159.0" stroke="#a8909a" stroke-width="0.99" opacity="0.46"/>
<line x1="95.5" y1="83.3" x2="101.4" y2="77.1" stroke="#b8a0a8" stroke-width="0.67" opacity="0.38"/>
<line x1="108.8" y1="42.8" x2="112.4" y2="42.1" stroke="#bd6a50" stroke-width="0.92" opacity="0.43"/>
<line x1="88.0" y1="109.1" x2="94.8" y2="108.0" stroke="#b8a0a8" stroke-width="0.78" opacity="0.19"/>
<line x1="53.5" y1="52.7" x2="57.5" y2="48.1" stroke="#d8957e" stroke-width="0.74" opacity="0.35"/>
<line x1="40.4" y1="40.8" x2="41.9" y2="34.2" stroke="#9a8896" stroke-width="0.96" opacity="0.22"/>
<line x1="151.9" y1="93.0" x2="158.2" y2="91.3" stroke="#e0a892" stroke-width="0.72" opacity="0.32"/>
<line x1="161.7" y1="79.8" x2="167.6" y2="79.7" stroke="#e0a892" stroke-width="0.79" opacity="0.47"/>
<line x1="99.7" y1="147.3" x2="102.3" y2="143.6" stroke="#bd6a50" stroke-width="0.85" opacity="0.26"/>
<line x1="57.5" y1="50.4" x2="59.4" y2="41.7" stroke="#b8a0a8" stroke-width="0.92" opacity="0.20"/>
<line x1="168.7" y1="73.0" x2="176.9" y2="67.4" stroke="#b8a0a8" stroke-width="0.88" opacity="0.24"/>
<line x1="40.7" y1="100.3" x2="46.5" y2="95.4" stroke="#d8957e" stroke-width="0.79" opacity="0.45"/>
<line x1="111.0" y1="152.0" x2="116.6" y2="148.4" stroke="#dba08a" stroke-width="0.94" opacity="0.22"/>
<line x1="67.6" y1="89.3" x2="74.2" y2="91.5" stroke="#d08068" stroke-width="0.70" opacity="0.43"/>
<line x1="123.3" y1="80.9" x2="126.3" y2="73.9" stroke="#c7745a" stroke-width="0.99" opacity="0.33"/>
<line x1="24.7" y1="130.4" x2="29.9" y2="124.3" stroke="#bd6a50" stroke-width="0.86" opacity="0.49"/>
<line x1="134.1" y1="34.7" x2="140.6" y2="30.3" stroke="#e0a892" stroke-width="0.60" opacity="0.28"/>
<line x1="97.4" y1="74.9" x2="104.9" y2="71.6" stroke="#a8909a" stroke-width="0.83" opacity="0.44"/>
<line x1="33.3" y1="94.6" x2="40.9" y2="93.8" stroke="#c7745a" stroke-width="0.73" opacity="0.21"/>
<line x1="57.8" y1="54.2" x2="63.9" y2="50.1" stroke="#bd6a50" stroke-width="0.75" opacity="0.18"/>
<line x1="173.7" y1="77.3" x2="177.9" y2="73.8" stroke="#e0a892" stroke-width="1.07" opacity="0.49"/>
<line x1="118.6" y1="160.7" x2="122.6" y2="157.8" stroke="#e0a892" stroke-width="0.96" opacity="0.26"/>
<line x1="26.1" y1="115.4" x2="30.0" y2="111.8" stroke="#a8909a" stroke-width="0.86" opacity="0.34"/>
<line x1="148.9" y1="166.7" x2="150.4" y2="162.9" stroke="#9a8896" stroke-width="0.82" opacity="0.41"/>
<line x1="50.6" y1="91.5" x2="52.2" y2="88.9" stroke="#cc8a70" stroke-width="0.96" opacity="0.25"/>
<line x1="181.2" y1="131.4" x2="181.4" y2="123.5" stroke="#a8909a" stroke-width="0.97" opacity="0.32"/>
<line x1="104.1" y1="104.3" x2="110.0" y2="101.5" stroke="#c7745a" stroke-width="0.94" opacity="0.26"/>
<line x1="155.8" y1="60.9" x2="163.9" y2="58.1" stroke="#e0a892" stroke-width="1.05" opacity="0.32"/>
<line x1="150.5" y1="165.9" x2="158.3" y2="163.5" stroke="#dba08a" stroke-width="0.83" opacity="0.38"/>
<line x1="110.6" y1="161.7" x2="113.3" y2="155.9" stroke="#c7745a" stroke-width="0.93" opacity="0.46"/>
<line x1="132.6" y1="27.7" x2="132.3" y2="23.3" stroke="#a8909a" stroke-width="0.71" opacity="0.17"/>
<line x1="96.1" y1="46.5" x2="100.9" y2="44.8" stroke="#9a8896" stroke-width="1.03" opacity="0.45"/>
<line x1="65.7" y1="160.6" x2="67.8" y2="151.1" stroke="#b8a0a8" stroke-width="0.56" opacity="0.28"/>
<line x1="37.0" y1="128.2" x2="42.0" y2="125.2" stroke="#d8957e" stroke-width="0.69" opacity="0.45"/>
<line x1="136.7" y1="72.7" x2="142.5" y2="66.0" stroke="#d8957e" stroke-width="0.93" opacity="0.36"/>
<line x1="78.1" y1="44.3" x2="82.0" y2="40.8" stroke="#a8909a" stroke-width="0.62" opacity="0.36"/>
<line x1="30.8" y1="87.5" x2="34.6" y2="88.4" stroke="#bd6a50" stroke-width="0.87" opacity="0.43"/>
<line x1="30.7" y1="99.3" x2="37.1" y2="100.8" stroke="#9a8896" stroke-width="1.08" opacity="0.25"/>
<line x1="72.5" y1="87.6" x2="78.0" y2="80.3" stroke="#d8957e" stroke-width="1.09" opacity="0.22"/>
<line x1="139.7" y1="95.5" x2="143.3" y2="96.3" stroke="#9a8896" stroke-width="0.95" opacity="0.29"/>
<line x1="79.2" y1="133.5" x2="86.2" y2="132.7" stroke="#dba08a" stroke-width="0.62" opacity="0.27"/>
<line x1="67.3" y1="152.4" x2="74.4" y2="150.2" stroke="#b8a0a8" stroke-width="1.06" opacity="0.46"/>
<line x1="40.8" y1="75.6" x2="50.6" y2="75.0" stroke="#cc8a70" stroke-width="0.59" opacity="0.26"/>
<line x1="49.2" y1="44.3" x2="51.4" y2="39.5" stroke="#d8957e" stroke-width="0.93" opacity="0.20"/>
<line x1="122.7" y1="41.7" x2="124.6" y2="38.4" stroke="#bd6a50" stroke-width="1.05" opacity="0.23"/>
<line x1="144.7" y1="31.3" x2="148.4" y2="30.9" stroke="#c7745a" stroke-width="0.71" opacity="0.43"/>
<line x1="98.6" y1="82.5" x2="108.0" y2="79.3" stroke="#9a8896" stroke-width="0.73" opacity="0.21"/>
<line x1="123.9" y1="163.7" x2="126.1" y2="159.8" stroke="#9a8896" stroke-width="0.97" opacity="0.33"/>
<line x1="110.2" y1="64.9" x2="111.9" y2="62.4" stroke="#b8a0a8" stroke-width="1.00" opacity="0.40"/>
<line x1="46.1" y1="100.8" x2="53.2" y2="97.2" stroke="#9a8896" stroke-width="1.05" opacity="0.17"/>
<line x1="177.5" y1="89.6" x2="180.6" y2="88.4" stroke="#dba08a" stroke-width="0.69" opacity="0.19"/>
<line x1="73.4" y1="76.5" x2="78.3" y2="72.4" stroke="#cc8a70" stroke-width="0.68" opacity="0.32"/>
<line x1="72.7" y1="103.1" x2="78.1" y2="96.8" stroke="#cc8a70" stroke-width="0.76" opacity="0.50"/>
<line x1="47.0" y1="140.6" x2="50.4" y2="135.8" stroke="#bd6a50" stroke-width="0.97" opacity="0.28"/>
<line x1="89.7" y1="83.7" x2="94.3" y2="75.6" stroke="#c7745a" stroke-width="0.66" opacity="0.15"/>
<line x1="77.7" y1="51.5" x2="82.5" y2="47.4" stroke="#c7745a" stroke-width="0.91" opacity="0.41"/>
<line x1="57.6" y1="71.0" x2="65.8" y2="67.7" stroke="#e0a892" stroke-width="1.03" opacity="0.43"/>
<line x1="69.6" y1="64.2" x2="75.7" y2="59.2" stroke="#c7745a" stroke-width="1.04" opacity="0.15"/>
<line x1="25.0" y1="57.0" x2="32.5" y2="56.8" stroke="#c7745a" stroke-width="0.90" opacity="0.38"/>
<line x1="144.9" y1="56.5" x2="153.4" y2="56.8" stroke="#c7745a" stroke-width="0.68" opacity="0.22"/>
<line x1="29.7" y1="102.4" x2="33.9" y2="102.1" stroke="#d8957e" stroke-width="1.08" opacity="0.26"/>
<line x1="48.7" y1="45.9" x2="53.5" y2="42.8" stroke="#cc8a70" stroke-width="0.98" opacity="0.19"/>
<line x1="111.9" y1="138.7" x2="113.8" y2="135.5" stroke="#c7745a" stroke-width="0.97" opacity="0.34"/>
<line x1="55.6" y1="65.1" x2="59.3" y2="62.6" stroke="#d8957e" stroke-width="0.95" opacity="0.21"/>
<line x1="28.1" y1="92.1" x2="35.3" y2="88.4" stroke="#d08068" stroke-width="0.57" opacity="0.22"/>
<line x1="126.8" y1="122.0" x2="129.7" y2="122.8" stroke="#9a8896" stroke-width="0.84" opacity="0.28"/>
<line x1="129.0" y1="159.1" x2="131.0" y2="151.0" stroke="#a8909a" stroke-width="0.65" opacity="0.51"/>
<line x1="103.1" y1="57.6" x2="107.2" y2="50.0" stroke="#d08068" stroke-width="0.72" opacity="0.23"/>
<line x1="146.1" y1="151.2" x2="144.7" y2="147.5" stroke="#b8a0a8" stroke-width="0.60" opacity="0.23"/>
<line x1="165.3" y1="89.1" x2="174.6" y2="87.5" stroke="#9a8896" stroke-width="0.60" opacity="0.33"/>
<line x1="157.7" y1="67.6" x2="164.8" y2="67.2" stroke="#9a8896" stroke-width="1.10" opacity="0.20"/>
<line x1="116.5" y1="108.6" x2="120.9" y2="108.9" stroke="#d8957e" stroke-width="0.98" opacity="0.25"/>
<line x1="147.4" y1="107.0" x2="150.8" y2="110.9" stroke="#dba08a" stroke-width="0.60" opacity="0.49"/>
<line x1="110.5" y1="37.8" x2="112.0" y2="32.1" stroke="#d8957e" stroke-width="0.59" opacity="0.47"/>
<line x1="102.6" y1="137.3" x2="112.0" y2="136.0" stroke="#bd6a50" stroke-width="0.99" opacity="0.34"/>
<line x1="52.0" y1="148.1" x2="55.9" y2="147.2" stroke="#bd6a50" stroke-width="0.86" opacity="0.50"/>
<line x1="175.8" y1="86.0" x2="181.2" y2="83.4" stroke="#d08068" stroke-width="1.06" opacity="0.19"/>
<line x1="53.5" y1="167.2" x2="57.5" y2="161.4" stroke="#bd6a50" stroke-width="0.57" opacity="0.34"/>
<line x1="40.3" y1="121.1" x2="46.2" y2="118.7" stroke="#bd6a50" stroke-width="0.99" opacity="0.44"/>
<line x1="119.3" y1="37.6" x2="125.2" y2="33.5" stroke="#b8a0a8" stroke-width="0.98" opacity="0.51"/>
<line x1="40.7" y1="103.4" x2="46.2" y2="97.7" stroke="#9a8896" stroke-width="0.94" opacity="0.32"/>
<line x1="72.0" y1="101.7" x2="75.1" y2="103.1" stroke="#dba08a" stroke-width="0.78" opacity="0.18"/>
<line x1="182.5" y1="84.9" x2="185.2" y2="76.7" stroke="#d08068" stroke-width="0.94" opacity="0.29"/>
<line x1="56.0" y1="111.9" x2="59.0" y2="111.1" stroke="#e0a892" stroke-width="0.72" opacity="0.51"/>
<line x1="174.2" y1="162.8" x2="182.6" y2="160.1" stroke="#d08068" stroke-width="0.98" opacity="0.16"/>
<line x1="127.9" y1="135.2" x2="131.1" y2="132.7" stroke="#d8957e" stroke-width="0.77" opacity="0.15"/>
<line x1="107.5" y1="84.2" x2="111.8" y2="82.7" stroke="#c7745a" stroke-width="1.08" opacity="0.45"/>
<line x1="130.9" y1="88.0" x2="136.1" y2="85.2" stroke="#a8909a" stroke-width="0.68" opacity="0.38"/>
<line x1="113.9" y1="136.1" x2="120.1" y2="133.3" stroke="#a8909a" stroke-width="1.04" opacity="0.36"/>
<line x1="62.3" y1="105.1" x2="67.0" y2="103.0" stroke="#d08068" stroke-width="1.07" opacity="0.30"/>
<line x1="64.4" y1="129.3" x2="70.7" y2="127.1" stroke="#dba08a" stroke-width="1.08" opacity="0.50"/>
<line x1="107.8" y1="103.4" x2="112.1" y2="104.5" stroke="#a8909a" stroke-width="0.97" opacity="0.27"/>
<line x1="88.6" y1="73.9" x2="95.1" y2="70.9" stroke="#d08068" stroke-width="1.06" opacity="0.18"/>
<line x1="173.0" y1="127.4" x2="176.5" y2="123.1" stroke="#9a8896" stroke-width="0.88" opacity="0.25"/>
<line x1="59.5" y1="72.6" x2="66.8" y2="68.0" stroke="#d8957e" stroke-width="0.78" opacity="0.33"/>
<line x1="26.0" y1="77.2" x2="28.6" y2="71.0" stroke="#bd6a50" stroke-width="1.03" opacity="0.22"/>
<line x1="134.3" y1="51.7" x2="138.7" y2="48.4" stroke="#d8957e" stroke-width="1.00" opacity="0.30"/>
<line x1="131.1" y1="42.2" x2="138.1" y2="39.6" stroke="#9a8896" stroke-width="0.77" opacity="0.49"/>
<line x1="103.5" y1="40.6" x2="106.7" y2="38.0" stroke="#d08068" stroke-width="0.70" opacity="0.31"/>
<line x1="82.7" y1="53.3" x2="86.1" y2="45.5" stroke="#bd6a50" stroke-width="1.06" opacity="0.27"/>
<line x1="27.5" y1="59.6" x2="29.6" y2="56.5" stroke="#9a8896" stroke-width="1.09" opacity="0.48"/>
<line x1="58.2" y1="41.7" x2="62.9" y2="41.7" stroke="#9a8896" stroke-width="0.60" opacity="0.37"/>
<line x1="45.4" y1="126.4" x2="48.6" y2="126.2" stroke="#c7745a" stroke-width="0.66" opacity="0.51"/>
<line x1="64.0" y1="54.4" x2="68.6" y2="48.6" stroke="#9a8896" stroke-width="1.02" opacity="0.50"/>
<line x1="55.8" y1="31.4" x2="58.8" y2="31.9" stroke="#a8909a" stroke-width="0.89" opacity="0.19"/>
<line x1="53.1" y1="29.4" x2="54.8" y2="26.4" stroke="#cc8a70" stroke-width="0.87" opacity="0.50"/>
<line x1="119.8" y1="163.2" x2="122.4" y2="160.5" stroke="#bd6a50" stroke-width="1.06" opacity="0.17"/>
<line x1="172.2" y1="119.6" x2="178.4" y2="115.9" stroke="#d08068" stroke-width="0.67" opacity="0.37"/>
<line x1="37.0" y1="132.5" x2="39.3" y2="126.0" stroke="#cc8a70" stroke-width="0.74" opacity="0.32"/>
<line x1="78.9" y1="120.3" x2="87.0" y2="118.5" stroke="#b8a0a8" stroke-width="0.80" opacity="0.31"/>
<line x1="92.7" y1="76.2" x2="97.0" y2="73.6" stroke="#e0a892" stroke-width="0.65" opacity="0.22"/>
<line x1="69.4" y1="49.4" x2="70.0" y2="43.2" stroke="#d8957e" stroke-width="0.73" opacity="0.42"/>
<line x1="144.6" y1="144.1" x2="150.5" y2="142.8" stroke="#cc8a70" stroke-width="0.91" opacity="0.39"/>
<line x1="48.0" y1="97.1" x2="51.5" y2="98.5" stroke="#b8a0a8" stroke-width="0.93" opacity="0.42"/>
<line x1="87.9" y1="146.4" x2="90.4" y2="144.4" stroke="#b8a0a8" stroke-width="0.64" opacity="0.25"/>
<line x1="178.0" y1="92.6" x2="183.9" y2="90.1" stroke="#a8909a" stroke-width="1.04" opacity="0.51"/>
<line x1="33.1" y1="119.7" x2="40.2" y2="114.3" stroke="#c7745a" stroke-width="1.05" opacity="0.40"/>
<line x1="42.8" y1="142.6" x2="45.6" y2="138.3" stroke="#dba08a" stroke-width="1.08" opacity="0.44"/>
<line x1="146.2" y1="81.2" x2="147.2" y2="78.0" stroke="#b8a0a8" stroke-width="0.57" opacity="0.42"/>
<line x1="159.8" y1="106.5" x2="167.3" y2="103.8" stroke="#bd6a50" stroke-width="0.92" opacity="0.29"/>
<line x1="168.1" y1="80.3" x2="172.9" y2="72.9" stroke="#cc8a70" stroke-width="0.77" opacity="0.43"/>
<line x1="61.0" y1="39.2" x2="63.9" y2="36.4" stroke="#d08068" stroke-width="0.90" opacity="0.25"/>
<line x1="154.2" y1="65.9" x2="159.3" y2="65.1" stroke="#d8957e" stroke-width="0.74" opacity="0.24"/>
<line x1="126.6" y1="48.9" x2="132.9" y2="49.2" stroke="#cc8a70" stroke-width="0.73" opacity="0.49"/>
<line x1="74.7" y1="46.5" x2="78.8" y2="42.3" stroke="#a8909a" stroke-width="0.72" opacity="0.35"/>
<line x1="85.8" y1="114.8" x2="88.9" y2="115.4" stroke="#a8909a" stroke-width="0.55" opacity="0.39"/>
<line x1="156.4" y1="89.7" x2="159.4" y2="85.1" stroke="#e0a892" stroke-width="0.67" opacity="0.32"/>
<line x1="76.3" y1="67.4" x2="81.1" y2="64.3" stroke="#9a8896" stroke-width="0.71" opacity="0.25"/>
<line x1="116.4" y1="76.4" x2="120.1" y2="77.7" stroke="#e0a892" stroke-width="0.83" opacity="0.29"/>
<line x1="157.5" y1="108.7" x2="163.2" y2="105.2" stroke="#d8957e" stroke-width="0.56" opacity="0.40"/>
<line x1="133.3" y1="37.1" x2="136.8" y2="31.9" stroke="#c7745a" stroke-width="1.04" opacity="0.48"/>
<line x1="47.9" y1="52.6" x2="48.1" y2="43.3" stroke="#d08068" stroke-width="0.59" opacity="0.43"/>
<line x1="122.9" y1="29.5" x2="126.7" y2="25.9" stroke="#d08068" stroke-width="0.60" opacity="0.26"/>
<line x1="137.3" y1="69.6" x2="138.7" y2="62.7" stroke="#e0a892" stroke-width="1.08" opacity="0.45"/>
<line x1="81.2" y1="56.5" x2="87.0" y2="54.8" stroke="#cc8a70" stroke-width="0.63" opacity="0.45"/>
<line x1="65.2" y1="129.7" x2="70.2" y2="122.3" stroke="#bd6a50" stroke-width="0.94" opacity="0.43"/>
<line x1="155.6" y1="155.1" x2="161.0" y2="153.1" stroke="#d08068" stroke-width="0.72" opacity="0.28"/>
<line x1="148.9" y1="47.4" x2="151.5" y2="45.5" stroke="#a8909a" stroke-width="0.56" opacity="0.49"/>
<line x1="82.5" y1="138.1" x2="84.0" y2="131.9" stroke="#d8957e" stroke-width="0.86" opacity="0.21"/>
<line x1="136.2" y1="132.9" x2="135.8" y2="128.8" stroke="#dba08a" stroke-width="0.81" opacity="0.33"/>
<line x1="101.0" y1="131.8" x2="105.5" y2="124.7" stroke="#dba08a" stroke-width="1.00" opacity="0.40"/>
<line x1="22.9" y1="124.7" x2="29.9" y2="120.4" stroke="#d8957e" stroke-width="0.74" opacity="0.29"/>
<line x1="90.3" y1="109.2" x2="99.8" y2="110.3" stroke="#d8957e" stroke-width="0.99" opacity="0.49"/>
<line x1="57.5" y1="77.1" x2="62.3" y2="73.8" stroke="#d08068" stroke-width="0.78" opacity="0.43"/>
<line x1="42.3" y1="145.8" x2="46.5" y2="144.2" stroke="#a8909a" stroke-width="1.09" opacity="0.32"/>
<line x1="101.9" y1="61.6" x2="105.3" y2="54.4" stroke="#c7745a" stroke-width="0.57" opacity="0.24"/>
<line x1="123.1" y1="135.6" x2="125.5" y2="128.8" stroke="#e0a892" stroke-width="0.98" opacity="0.29"/>
<line x1="100.3" y1="117.5" x2="109.1" y2="112.9" stroke="#cc8a70" stroke-width="0.72" opacity="0.24"/>
<line x1="25.7" y1="37.3" x2="32.1" y2="33.1" stroke="#a8909a" stroke-width="0.76" opacity="0.52"/>
<line x1="139.4" y1="142.0" x2="144.9" y2="141.6" stroke="#dba08a" stroke-width="1.06" opacity="0.26"/>
<line x1="49.0" y1="54.6" x2="51.4" y2="52.0" stroke="#b8a0a8" stroke-width="0.86" opacity="0.34"/>
<line x1="169.9" y1="137.4" x2="171.1" y2="133.7" stroke="#b8a0a8" stroke-width="0.80" opacity="0.39"/>
<line x1="124.9" y1="51.8" x2="131.6" y2="49.5" stroke="#c7745a" stroke-width="0.58" opacity="0.17"/>
<line x1="136.4" y1="110.6" x2="146.0" y2="108.1" stroke="#e0a892" stroke-width="0.76" opacity="0.43"/>
<line x1="30.8" y1="147.2" x2="30.4" y2="139.4" stroke="#b8a0a8" stroke-width="0.78" opacity="0.40"/>
<line x1="107.8" y1="86.3" x2="112.4" y2="81.0" stroke="#bd6a50" stroke-width="1.04" opacity="0.49"/>
<line x1="119.3" y1="28.8" x2="123.2" y2="22.9" stroke="#c7745a" stroke-width="0.67" opacity="0.33"/>
<line x1="54.4" y1="43.1" x2="59.2" y2="36.0" stroke="#cc8a70" stroke-width="0.84" opacity="0.25"/>
<line x1="83.6" y1="115.8" x2="87.1" y2="113.7" stroke="#d08068" stroke-width="0.82" opacity="0.31"/>
<line x1="39.9" y1="144.6" x2="44.8" y2="142.9" stroke="#bd6a50" stroke-width="1.06" opacity="0.17"/>
<line x1="135.1" y1="48.4" x2="137.6" y2="45.8" stroke="#bd6a50" stroke-width="0.57" opacity="0.47"/>
<line x1="173.7" y1="163.8" x2="177.8" y2="159.1" stroke="#bd6a50" stroke-width="0.91" opacity="0.34"/>
<line x1="102.7" y1="82.0" x2="107.7" y2="79.1" stroke="#b8a0a8" stroke-width="0.74" opacity="0.51"/>
<line x1="93.8" y1="83.0" x2="96.3" y2="79.3" stroke="#bd6a50" stroke-width="0.95" opacity="0.49"/>
<line x1="127.5" y1="56.3" x2="132.0" y2="54.9" stroke="#9a8896" stroke-width="0.65" opacity="0.33"/>
<line x1="127.0" y1="120.0" x2="131.5" y2="120.1" stroke="#e0a892" stroke-width="1.06" opacity="0.36"/>
<line x1="177.5" y1="147.6" x2="180.5" y2="140.1" stroke="#a8909a" stroke-width="0.82" opacity="0.38"/>
<line x1="147.7" y1="96.4" x2="153.9" y2="101.4" stroke="#b8a0a8" stroke-width="0.58" opacity="0.33"/>
<line x1="134.3" y1="98.3" x2="138.4" y2="95.6" stroke="#cc8a70" stroke-width="0.95" opacity="0.26"/>
<line x1="181.8" y1="160.8" x2="180.6" y2="156.2" stroke="#bd6a50" stroke-width="1.07" opacity="0.49"/>
<line x1="177.1" y1="163.2" x2="182.8" y2="155.2" stroke="#d8957e" stroke-width="0.73" opacity="0.47"/>
<line x1="109.1" y1="109.0" x2="114.1" y2="105.5" stroke="#d8957e" stroke-width="0.69" opacity="0.45"/>
<line x1="102.4" y1="102.5" x2="110.7" y2="99.8" stroke="#a8909a" stroke-width="0.60" opacity="0.45"/>
<line x1="43.7" y1="109.8" x2="47.3" y2="108.8" stroke="#e0a892" stroke-width="1.05" opacity="0.38"/>
<line x1="32.4" y1="72.4" x2="36.5" y2="70.6" stroke="#d08068" stroke-width="1.02" opacity="0.19"/>
<line x1="179.5" y1="68.6" x2="184.8" y2="69.4" stroke="#b8a0a8" stroke-width="0.84" opacity="0.15"/>
<line x1="63.6" y1="38.8" x2="68.7" y2="36.0" stroke="#c7745a" stroke-width="0.99" opacity="0.52"/>
<line x1="39.3" y1="98.7" x2="48.7" y2="95.4" stroke="#9a8896" stroke-width="1.08" opacity="0.18"/>
<line x1="34.5" y1="117.3" x2="43.5" y2="115.0" stroke="#c7745a" stroke-width="0.85" opacity="0.37"/>
<line x1="42.2" y1="75.2" x2="46.0" y2="67.0" stroke="#d08068" stroke-width="1.02" opacity="0.34"/>
<line x1="84.7" y1="61.3" x2="88.3" y2="59.6" stroke="#c7745a" stroke-width="0.74" opacity="0.26"/>
<line x1="40.4" y1="77.5" x2="44.4" y2="74.5" stroke="#c7745a" stroke-width="1.09" opacity="0.31"/>
<line x1="65.3" y1="33.5" x2="72.4" y2="28.9" stroke="#9a8896" stroke-width="0.75" opacity="0.17"/>
<line x1="67.4" y1="42.9" x2="74.2" y2="36.0" stroke="#b8a0a8" stroke-width="0.95" opacity="0.41"/>
<line x1="129.4" y1="29.5" x2="131.9" y2="26.0" stroke="#d8957e" stroke-width="0.72" opacity="0.30"/>
<line x1="159.3" y1="71.5" x2="161.4" y2="66.2" stroke="#e0a892" stroke-width="0.95" opacity="0.52"/>
<line x1="92.5" y1="54.4" x2="96.0" y2="46.1" stroke="#9a8896" stroke-width="0.56" opacity="0.27"/>
<line x1="128.4" y1="121.7" x2="135.9" y2="121.2" stroke="#c7745a" stroke-width="1.00" opacity="0.38"/>
<line x1="44.6" y1="159.7" x2="46.6" y2="156.1" stroke="#d8957e" stroke-width="1.07" opacity="0.26"/>
<line x1="172.6" y1="70.0" x2="180.1" y2="64.6" stroke="#a8909a" stroke-width="1.07" opacity="0.36"/>
<line x1="30.0" y1="58.3" x2="35.1" y2="52.9" stroke="#bd6a50" stroke-width="0.56" opacity="0.21"/>
<line x1="88.8" y1="143.3" x2="90.2" y2="140.1" stroke="#b8a0a8" stroke-width="1.09" opacity="0.35"/>
<line x1="172.5" y1="109.6" x2="175.7" y2="110.7" stroke="#d8957e" stroke-width="0.75" opacity="0.42"/>
<line x1="44.4" y1="161.2" x2="51.4" y2="158.0" stroke="#cc8a70" stroke-width="1.00" opacity="0.33"/>
<line x1="82.4" y1="124.9" x2="88.1" y2="122.6" stroke="#c7745a" stroke-width="0.85" opacity="0.35"/>
<line x1="76.4" y1="31.5" x2="81.7" y2="28.5" stroke="#d8957e" stroke-width="0.84" opacity="0.20"/>
<line x1="56.5" y1="136.2" x2="57.3" y2="127.9" stroke="#9a8896" stroke-width="1.01" opacity="0.33"/>
<line x1="122.7" y1="60.7" x2="126.7" y2="57.1" stroke="#d08068" stroke-width="0.84" opacity="0.37"/>
<line x1="166.3" y1="165.2" x2="174.3" y2="162.7" stroke="#cc8a70" stroke-width="0.82" opacity="0.30"/>
<line x1="92.5" y1="152.9" x2="94.2" y2="147.4" stroke="#bd6a50" stroke-width="0.72" opacity="0.22"/>
<line x1="37.0" y1="72.5" x2="38.6" y2="66.1" stroke="#bd6a50" stroke-width="0.86" opacity="0.52"/>
<line x1="29.7" y1="46.2" x2="35.2" y2="40.7" stroke="#c7745a" stroke-width="0.96" opacity="0.29"/>
<line x1="121.6" y1="134.3" x2="125.1" y2="128.7" stroke="#cc8a70" stroke-width="0.73" opacity="0.19"/>
<line x1="81.3" y1="131.0" x2="88.1" y2="126.0" stroke="#d8957e" stroke-width="0.80" opacity="0.22"/>
<line x1="121.3" y1="165.3" x2="127.4" y2="164.3" stroke="#b8a0a8" stroke-width="1.09" opacity="0.49"/>
<line x1="162.7" y1="85.5" x2="168.4" y2="83.6" stroke="#9a8896" stroke-width="0.78" opacity="0.41"/>
<line x1="48.3" y1="136.1" x2="51.5" y2="128.5" stroke="#d08068" stroke-width="0.93" opacity="0.24"/>
<line x1="152.6" y1="66.0" x2="157.4" y2="58.0" stroke="#bd6a50" stroke-width="1.02" opacity="0.40"/>
<line x1="39.0" y1="130.7" x2="39.6" y2="125.9" stroke="#bd6a50" stroke-width="0.99" opacity="0.37"/>
<line x1="92.3" y1="153.5" x2="92.3" y2="149.0" stroke="#b8a0a8" stroke-width="1.10" opacity="0.47"/>
<line x1="50.9" y1="27.8" x2="56.7" y2="25.0" stroke="#b8a0a8" stroke-width="1.03" opacity="0.40"/>
<line x1="102.9" y1="161.2" x2="100.1" y2="153.2" stroke="#b8a0a8" stroke-width="0.62" opacity="0.46"/>
<line x1="119.0" y1="81.6" x2="123.3" y2="73.9" stroke="#9a8896" stroke-width="0.77" opacity="0.51"/>
<line x1="77.7" y1="100.1" x2="78.7" y2="96.5" stroke="#9a8896" stroke-width="0.88" opacity="0.40"/>
<line x1="89.7" y1="81.1" x2="91.9" y2="75.5" stroke="#9a8896" stroke-width="0.56" opacity="0.18"/>
<line x1="89.0" y1="56.7" x2="91.9" y2="55.7" stroke="#dba08a" stroke-width="1.09" opacity="0.23"/>
<line x1="45.5" y1="106.0" x2="53.9" y2="105.1" stroke="#a8909a" stroke-width="0.78" opacity="0.30"/>
<line x1="136.5" y1="64.4" x2="142.0" y2="65.0" stroke="#b8a0a8" stroke-width="0.97" opacity="0.41"/>
<line x1="63.1" y1="125.2" x2="72.3" y2="123.5" stroke="#d08068" stroke-width="0.76" opacity="0.24"/>
<line x1="113.4" y1="76.9" x2="117.2" y2="74.9" stroke="#c7745a" stroke-width="1.05" opacity="0.17"/>
<line x1="37.6" y1="104.6" x2="43.9" y2="100.6" stroke="#bd6a50" stroke-width="0.72" opacity="0.45"/>
<line x1="35.7" y1="168.1" x2="39.1" y2="161.3" stroke="#bd6a50" stroke-width="0.73" opacity="0.29"/>
<line x1="133.6" y1="104.9" x2="138.9" y2="104.3" stroke="#a8909a" stroke-width="0.80" opacity="0.34"/>
<line x1="34.4" y1="95.5" x2="39.3" y2="92.3" stroke="#b8a0a8" stroke-width="0.94" opacity="0.42"/>
<line x1="169.8" y1="82.0" x2="174.2" y2="83.7" stroke="#a8909a" stroke-width="0.79" opacity="0.33"/>
<line x1="26.7" y1="58.2" x2="34.2" y2="54.8" stroke="#a8909a" stroke-width="1.10" opacity="0.26"/>
<line x1="72.8" y1="105.2" x2="76.6" y2="103.8" stroke="#d8957e" stroke-width="0.70" opacity="0.36"/>
<line x1="49.4" y1="119.4" x2="56.6" y2="117.7" stroke="#d8957e" stroke-width="0.78" opacity="0.15"/>
<line x1="143.8" y1="153.1" x2="145.5" y2="149.8" stroke="#cc8a70" stroke-width="0.59" opacity="0.35"/>
<line x1="84.5" y1="129.3" x2="87.2" y2="126.8" stroke="#cc8a70" stroke-width="0.75" opacity="0.18"/>
<line x1="155.7" y1="87.1" x2="157.5" y2="84.4" stroke="#c7745a" stroke-width="0.61" opacity="0.40"/>
<line x1="90.3" y1="146.3" x2="94.6" y2="144.1" stroke="#b8a0a8" stroke-width="0.92" opacity="0.28"/>
<line x1="87.7" y1="79.1" x2="94.9" y2="73.6" stroke="#a8909a" stroke-width="0.81" opacity="0.27"/>
<line x1="81.5" y1="147.4" x2="86.9" y2="146.1" stroke="#c7745a" stroke-width="0.79" opacity="0.31"/>
<line x1="48.5" y1="80.4" x2="55.5" y2="75.1" stroke="#e0a892" stroke-width="0.86" opacity="0.45"/>
<line x1="121.0" y1="46.5" x2="128.5" y2="42.0" stroke="#d08068" stroke-width="0.97" opacity="0.26"/>
<line x1="106.2" y1="69.8" x2="114.0" y2="69.5" stroke="#d08068" stroke-width="1.08" opacity="0.29"/>
<line x1="102.4" y1="34.0" x2="109.3" y2="27.9" stroke="#bd6a50" stroke-width="0.81" opacity="0.37"/>
<line x1="61.7" y1="112.5" x2="69.7" y2="107.9" stroke="#dba08a" stroke-width="0.62" opacity="0.15"/>
<line x1="68.7" y1="156.8" x2="76.1" y2="153.8" stroke="#a8909a" stroke-width="0.58" opacity="0.48"/>
<line x1="60.0" y1="116.9" x2="62.4" y2="114.2" stroke="#cc8a70" stroke-width="0.79" opacity="0.43"/>
<line x1="64.9" y1="145.2" x2="60.8" y2="138.6" stroke="#cc8a70" stroke-width="0.96" opacity="0.25"/>
<line x1="119.3" y1="147.5" x2="120.0" y2="141.6" stroke="#d8957e" stroke-width="0.74" opacity="0.35"/>
<line x1="133.1" y1="145.9" x2="133.8" y2="138.4" stroke="#d08068" stroke-width="0.78" opacity="0.22"/>
<line x1="100.7" y1="145.2" x2="98.8" y2="139.5" stroke="#c7745a" stroke-width="0.94" opacity="0.16"/>
<line x1="48.9" y1="109.7" x2="55.5" y2="108.9" stroke="#d8957e" stroke-width="0.57" opacity="0.34"/>
<line x1="77.0" y1="162.7" x2="80.6" y2="160.6" stroke="#d8957e" stroke-width="0.77" opacity="0.41"/>
<line x1="175.7" y1="88.8" x2="179.5" y2="83.8" stroke="#c7745a" stroke-width="0.75" opacity="0.42"/>
<line x1="138.5" y1="57.8" x2="142.9" y2="53.6" stroke="#e0a892" stroke-width="0.66" opacity="0.31"/>
<line x1="137.8" y1="128.7" x2="145.6" y2="128.3" stroke="#c7745a" stroke-width="0.62" opacity="0.23"/>
<line x1="125.5" y1="45.4" x2="128.1" y2="43.1" stroke="#dba08a" stroke-width="1.01" opacity="0.39"/>
<line x1="105.3" y1="66.0" x2="108.6" y2="65.0" stroke="#b8a0a8" stroke-width="0.74" opacity="0.19"/>
<line x1="50.8" y1="138.2" x2="56.0" y2="135.0" stroke="#e0a892" stroke-width="0.78" opacity="0.23"/>
<line x1="122.7" y1="71.5" x2="129.3" y2="64.6" stroke="#b8a0a8" stroke-width="0.81" opacity="0.30"/>
<line x1="63.0" y1="140.3" x2="67.1" y2="140.9" stroke="#d08068" stroke-width="0.84" opacity="0.40"/>
<line x1="64.3" y1="154.9" x2="65.5" y2="148.2" stroke="#e0a892" stroke-width="0.77" opacity="0.17"/>
<line x1="141.5" y1="70.0" x2="150.6" y2="68.2" stroke="#d8957e" stroke-width="0.70" opacity="0.37"/>
<line x1="47.1" y1="95.3" x2="53.7" y2="96.1" stroke="#c7745a" stroke-width="0.80" opacity="0.26"/>
<line x1="181.7" y1="70.1" x2="184.0" y2="65.3" stroke="#bd6a50" stroke-width="1.01" opacity="0.31"/>
<line x1="113.4" y1="130.2" x2="116.3" y2="123.8" stroke="#dba08a" stroke-width="0.72" opacity="0.22"/>
<line x1="93.2" y1="127.0" x2="101.2" y2="121.5" stroke="#e0a892" stroke-width="0.59" opacity="0.41"/>
<line x1="44.5" y1="126.8" x2="46.8" y2="124.4" stroke="#a8909a" stroke-width="1.08" opacity="0.34"/>
<line x1="160.3" y1="84.8" x2="166.5" y2="79.3" stroke="#a8909a" stroke-width="0.83" opacity="0.38"/>
<line x1="26.7" y1="76.6" x2="31.9" y2="74.7" stroke="#b8a0a8" stroke-width="0.87" opacity="0.33"/>
<line x1="89.6" y1="157.4" x2="96.3" y2="155.4" stroke="#d8957e" stroke-width="0.92" opacity="0.42"/>
<line x1="129.6" y1="149.8" x2="132.2" y2="145.6" stroke="#b8a0a8" stroke-width="0.57" opacity="0.44"/>
<line x1="73.1" y1="103.2" x2="76.5" y2="102.2" stroke="#e0a892" stroke-width="0.74" opacity="0.46"/>
<line x1="37.2" y1="69.4" x2="42.1" y2="62.8" stroke="#9a8896" stroke-width="0.78" opacity="0.22"/>
<line x1="61.2" y1="67.8" x2="63.7" y2="65.9" stroke="#b8a0a8" stroke-width="1.06" opacity="0.35"/>
<line x1="130.6" y1="58.1" x2="135.1" y2="51.4" stroke="#9a8896" stroke-width="0.61" opacity="0.47"/>
<line x1="161.5" y1="105.0" x2="168.9" y2="100.7" stroke="#bd6a50" stroke-width="1.06" opacity="0.31"/>
<line x1="184.0" y1="75.0" x2="186.0" y2="71.2" stroke="#e0a892" stroke-width="0.79" opacity="0.22"/>
<line x1="70.1" y1="30.2" x2="73.2" y2="26.9" stroke="#dba08a" stroke-width="0.81" opacity="0.25"/>
<line x1="57.6" y1="30.7" x2="61.8" y2="22.7" stroke="#bd6a50" stroke-width="1.08" opacity="0.43"/>
<line x1="90.8" y1="83.5" x2="97.5" y2="78.1" stroke="#cc8a70" stroke-width="1.05" opacity="0.45"/>
<line x1="60.9" y1="32.9" x2="64.2" y2="30.9" stroke="#b8a0a8" stroke-width="0.67" opacity="0.35"/>
<line x1="26.4" y1="101.5" x2="33.3" y2="98.8" stroke="#c7745a" stroke-width="0.99" opacity="0.22"/>
<line x1="144.8" y1="87.3" x2="150.5" y2="84.9" stroke="#e0a892" stroke-width="0.73" opacity="0.37"/>
<line x1="95.9" y1="28.6" x2="101.8" y2="28.7" stroke="#d8957e" stroke-width="0.79" opacity="0.43"/>
<line x1="48.4" y1="148.9" x2="51.6" y2="146.3" stroke="#e0a892" stroke-width="1.01" opacity="0.24"/>
<line x1="97.4" y1="43.7" x2="103.6" y2="40.7" stroke="#dba08a" stroke-width="0.79" opacity="0.31"/>
<line x1="36.1" y1="62.1" x2="45.1" y2="60.9" stroke="#cc8a70" stroke-width="0.58" opacity="0.25"/>
<line x1="123.3" y1="120.6" x2="131.5" y2="119.5" stroke="#cc8a70" stroke-width="0.56" opacity="0.24"/>
<line x1="109.1" y1="103.0" x2="113.2" y2="101.2" stroke="#cc8a70" stroke-width="0.69" opacity="0.45"/>
<line x1="32.4" y1="93.2" x2="36.5" y2="88.3" stroke="#cc8a70" stroke-width="0.60" opacity="0.41"/>
<line x1="129.4" y1="80.7" x2="135.6" y2="80.0" stroke="#dba08a" stroke-width="0.74" opacity="0.49"/>
<line x1="118.5" y1="58.0" x2="120.4" y2="53.2" stroke="#9a8896" stroke-width="0.94" opacity="0.18"/>
<line x1="179.5" y1="79.4" x2="188.0" y2="76.7" stroke="#b8a0a8" stroke-width="1.05" opacity="0.33"/>
<line x1="70.7" y1="71.0" x2="73.9" y2="68.9" stroke="#9a8896" stroke-width="0.88" opacity="0.49"/>
<line x1="155.8" y1="103.7" x2="160.9" y2="100.4" stroke="#c7745a" stroke-width="0.61" opacity="0.37"/>
<line x1="174.3" y1="86.4" x2="174.3" y2="80.9" stroke="#d08068" stroke-width="0.89" opacity="0.36"/>
<line x1="92.3" y1="141.9" x2="91.7" y2="135.4" stroke="#dba08a" stroke-width="0.66" opacity="0.42"/>
<line x1="158.0" y1="104.4" x2="166.4" y2="104.3" stroke="#e0a892" stroke-width="0.78" opacity="0.48"/>
<line x1="88.8" y1="60.7" x2="96.6" y2="57.8" stroke="#dba08a" stroke-width="1.06" opacity="0.37"/>
<line x1="56.4" y1="33.5" x2="59.3" y2="28.5" stroke="#dba08a" stroke-width="0.75" opacity="0.50"/>
<line x1="115.9" y1="108.4" x2="121.1" y2="106.6" stroke="#a8909a" stroke-width="0.72" opacity="0.24"/>
<line x1="54.6" y1="124.0" x2="58.2" y2="122.6" stroke="#9a8896" stroke-width="0.95" opacity="0.35"/>
<line x1="33.9" y1="130.8" x2="34.4" y2="127.0" stroke="#bd6a50" stroke-width="1.03" opacity="0.45"/>
<line x1="39.0" y1="58.5" x2="40.1" y2="53.4" stroke="#a8909a" stroke-width="1.05" opacity="0.18"/>
<line x1="29.7" y1="109.3" x2="39.5" y2="109.4" stroke="#b8a0a8" stroke-width="0.74" opacity="0.49"/>
<line x1="176.7" y1="156.1" x2="181.0" y2="147.7" stroke="#e0a892" stroke-width="0.80" opacity="0.52"/>
<line x1="147.8" y1="70.9" x2="157.0" y2="74.7" stroke="#bd6a50" stroke-width="0.64" opacity="0.32"/>
<line x1="67.4" y1="151.6" x2="71.7" y2="144.1" stroke="#9a8896" stroke-width="0.73" opacity="0.31"/>
<line x1="109.1" y1="107.7" x2="114.8" y2="110.1" stroke="#cc8a70" stroke-width="0.70" opacity="0.51"/>
<line x1="174.1" y1="90.6" x2="177.6" y2="82.6" stroke="#cc8a70" stroke-width="0.61" opacity="0.26"/>
<line x1="52.7" y1="61.8" x2="57.0" y2="61.5" stroke="#9a8896" stroke-width="1.06" opacity="0.30"/>
<line x1="151.7" y1="111.3" x2="157.6" y2="110.7" stroke="#e0a892" stroke-width="0.89" opacity="0.32"/>
<line x1="109.3" y1="58.3" x2="115.1" y2="51.6" stroke="#c7745a" stroke-width="1.06" opacity="0.45"/>
<line x1="178.9" y1="79.7" x2="184.0" y2="73.0" stroke="#c7745a" stroke-width="0.73" opacity="0.40"/>
<line x1="77.0" y1="165.1" x2="80.8" y2="157.5" stroke="#d8957e" stroke-width="0.67" opacity="0.44"/>
<line x1="173.9" y1="63.8" x2="176.4" y2="60.6" stroke="#9a8896" stroke-width="0.99" opacity="0.30"/>
<line x1="74.5" y1="77.3" x2="78.8" y2="73.1" stroke="#e0a892" stroke-width="0.94" opacity="0.29"/>
<line x1="79.9" y1="57.9" x2="83.9" y2="56.7" stroke="#cc8a70" stroke-width="0.59" opacity="0.25"/>
<line x1="108.2" y1="135.3" x2="113.7" y2="131.8" stroke="#b8a0a8" stroke-width="0.56" opacity="0.36"/>
<line x1="101.1" y1="118.5" x2="104.3" y2="116.7" stroke="#e0a892" stroke-width="0.59" opacity="0.20"/>
<line x1="29.3" y1="102.5" x2="32.3" y2="100.4" stroke="#d8957e" stroke-width="0.83" opacity="0.24"/>
<line x1="68.7" y1="29.0" x2="75.5" y2="26.3" stroke="#b8a0a8" stroke-width="0.63" opacity="0.44"/>
<line x1="86.4" y1="154.2" x2="89.0" y2="149.3" stroke="#a8909a" stroke-width="0.69" opacity="0.19"/>
<line x1="92.4" y1="120.7" x2="97.6" y2="120.2" stroke="#d8957e" stroke-width="0.73" opacity="0.23"/>
<line x1="109.4" y1="114.1" x2="111.2" y2="110.5" stroke="#c7745a" stroke-width="0.70" opacity="0.19"/>
<line x1="166.6" y1="107.9" x2="169.8" y2="106.7" stroke="#e0a892" stroke-width="0.87" opacity="0.45"/>
<line x1="151.6" y1="108.6" x2="158.7" y2="107.2" stroke="#cc8a70" stroke-width="0.78" opacity="0.26"/>
<line x1="122.4" y1="130.7" x2="124.3" y2="125.7" stroke="#cc8a70" stroke-width="1.06" opacity="0.32"/>
<line x1="107.2" y1="109.1" x2="113.7" y2="105.0" stroke="#a8909a" stroke-width="1.02" opacity="0.52"/>
<line x1="149.4" y1="57.9" x2="156.9" y2="57.2" stroke="#e0a892" stroke-width="0.72" opacity="0.36"/>
<line x1="52.4" y1="85.6" x2="55.9" y2="80.7" stroke="#dba08a" stroke-width="0.99" opacity="0.20"/>
<line x1="111.5" y1="37.0" x2="119.8" y2="36.8" stroke="#e0a892" stroke-width="0.64" opacity="0.17"/>
<line x1="30.2" y1="96.0" x2="33.0" y2="94.6" stroke="#d8957e" stroke-width="0.57" opacity="0.37"/>
<line x1="31.2" y1="95.3" x2="37.1" y2="96.7" stroke="#cc8a70" stroke-width="0.84" opacity="0.28"/>
<line x1="134.0" y1="109.9" x2="138.8" y2="107.4" stroke="#bd6a50" stroke-width="0.94" opacity="0.25"/>
<line x1="147.7" y1="81.0" x2="150.8" y2="80.8" stroke="#e0a892" stroke-width="0.84" opacity="0.29"/>
<line x1="59.7" y1="84.8" x2="64.8" y2="77.8" stroke="#a8909a" stroke-width="0.57" opacity="0.28"/>
<line x1="48.8" y1="79.5" x2="55.1" y2="75.3" stroke="#b8a0a8" stroke-width="0.92" opacity="0.47"/>
<line x1="31.5" y1="69.9" x2="37.9" y2="66.8" stroke="#dba08a" stroke-width="0.74" opacity="0.38"/>
<line x1="48.5" y1="74.7" x2="53.6" y2="68.6" stroke="#c7745a" stroke-width="0.62" opacity="0.15"/>
<line x1="140.6" y1="135.3" x2="141.7" y2="131.6" stroke="#cc8a70" stroke-width="0.83" opacity="0.29"/>
<line x1="72.3" y1="72.7" x2="81.9" y2="75.4" stroke="#b8a0a8" stroke-width="0.91" opacity="0.33"/>
<line x1="168.0" y1="88.7" x2="174.5" y2="81.8" stroke="#cc8a70" stroke-width="1.06" opacity="0.34"/>
<line x1="34.2" y1="117.0" x2="39.1" y2="115.1" stroke="#c7745a" stroke-width="0.93" opacity="0.43"/>
<line x1="61.7" y1="73.7" x2="67.0" y2="72.3" stroke="#cc8a70" stroke-width="0.68" opacity="0.24"/>
<line x1="163.9" y1="137.3" x2="167.9" y2="132.3" stroke="#d8957e" stroke-width="0.68" opacity="0.45"/>
<line x1="101.6" y1="108.3" x2="104.3" y2="106.9" stroke="#e0a892" stroke-width="0.90" opacity="0.30"/>
<line x1="111.0" y1="64.3" x2="115.3" y2="62.6" stroke="#d08068" stroke-width="0.97" opacity="0.42"/>
<line x1="90.9" y1="132.6" x2="99.7" y2="133.4" stroke="#bd6a50" stroke-width="1.08" opacity="0.45"/>
<line x1="32.9" y1="161.3" x2="30.9" y2="153.4" stroke="#d8957e" stroke-width="1.05" opacity="0.47"/>
<line x1="143.6" y1="71.4" x2="148.2" y2="70.5" stroke="#dba08a" stroke-width="1.00" opacity="0.25"/>
<line x1="125.1" y1="69.4" x2="131.6" y2="63.8" stroke="#9a8896" stroke-width="0.71" opacity="0.19"/>
<line x1="95.1" y1="168.0" x2="97.6" y2="159.3" stroke="#c7745a" stroke-width="0.99" opacity="0.26"/>
<line x1="155.7" y1="163.3" x2="157.8" y2="157.9" stroke="#e0a892" stroke-width="0.96" opacity="0.50"/>
<line x1="86.4" y1="65.3" x2="87.8" y2="62.3" stroke="#bd6a50" stroke-width="0.77" opacity="0.31"/>
<line x1="29.9" y1="94.8" x2="38.1" y2="93.8" stroke="#dba08a" stroke-width="0.69" opacity="0.37"/>
<line x1="129.3" y1="108.9" x2="138.2" y2="105.0" stroke="#b8a0a8" stroke-width="0.66" opacity="0.32"/>
<line x1="42.0" y1="37.8" x2="45.4" y2="36.3" stroke="#a8909a" stroke-width="1.10" opacity="0.39"/>
<line x1="123.8" y1="150.1" x2="130.7" y2="145.4" stroke="#dba08a" stroke-width="0.77" opacity="0.37"/>
<line x1="85.0" y1="55.6" x2="89.4" y2="52.9" stroke="#d8957e" stroke-width="0.93" opacity="0.37"/>
<line x1="62.4" y1="81.2" x2="69.6" y2="80.2" stroke="#dba08a" stroke-width="0.80" opacity="0.42"/>
<line x1="86.0" y1="57.9" x2="92.8" y2="54.6" stroke="#d8957e" stroke-width="0.61" opacity="0.52"/>
<line x1="36.8" y1="111.2" x2="42.1" y2="111.3" stroke="#9a8896" stroke-width="0.67" opacity="0.18"/>
<line x1="120.6" y1="138.4" x2="130.0" y2="138.1" stroke="#bd6a50" stroke-width="0.91" opacity="0.31"/>
<line x1="108.2" y1="117.0" x2="117.2" y2="120.7" stroke="#a8909a" stroke-width="0.79" opacity="0.33"/>
<line x1="114.7" y1="42.7" x2="116.9" y2="39.1" stroke="#b8a0a8" stroke-width="0.83" opacity="0.40"/>
<line x1="181.3" y1="93.1" x2="188.1" y2="90.5" stroke="#e0a892" stroke-width="0.95" opacity="0.23"/>
<line x1="178.1" y1="101.6" x2="182.2" y2="99.4" stroke="#d8957e" stroke-width="1.02" opacity="0.44"/>
<line x1="67.2" y1="104.1" x2="73.4" y2="104.1" stroke="#c7745a" stroke-width="0.89" opacity="0.35"/>
<line x1="70.1" y1="72.3" x2="71.4" y2="67.1" stroke="#bd6a50" stroke-width="0.61" opacity="0.45"/>
<line x1="131.9" y1="49.6" x2="139.8" y2="48.9" stroke="#d08068" stroke-width="0.60" opacity="0.34"/>
<line x1="71.5" y1="56.6" x2="76.9" y2="51.8" stroke="#c7745a" stroke-width="0.76" opacity="0.41"/>
<line x1="99.5" y1="70.9" x2="100.4" y2="66.4" stroke="#cc8a70" stroke-width="1.06" opacity="0.28"/>
<line x1="70.9" y1="69.4" x2="77.7" y2="62.8" stroke="#9a8896" stroke-width="1.07" opacity="0.21"/>
<line x1="157.2" y1="115.5" x2="160.3" y2="114.5" stroke="#dba08a" stroke-width="0.63" opacity="0.39"/>
<line x1="132.0" y1="140.9" x2="135.9" y2="137.1" stroke="#bd6a50" stroke-width="0.55" opacity="0.49"/>
<line x1="93.3" y1="36.9" x2="99.3" y2="32.4" stroke="#dba08a" stroke-width="0.68" opacity="0.23"/>
<line x1="144.4" y1="99.1" x2="154.0" y2="98.9" stroke="#cc8a70" stroke-width="0.71" opacity="0.20"/>
<line x1="119.8" y1="118.5" x2="125.7" y2="117.1" stroke="#cc8a70" stroke-width="0.57" opacity="0.40"/>
<line x1="34.8" y1="78.2" x2="37.0" y2="75.7" stroke="#c7745a" stroke-width="0.64" opacity="0.26"/>
<line x1="63.5" y1="149.3" x2="66.2" y2="142.9" stroke="#cc8a70" stroke-width="0.71" opacity="0.39"/>
<line x1="105.8" y1="74.2" x2="110.6" y2="68.6" stroke="#d08068" stroke-width="1.03" opacity="0.45"/>
<line x1="84.9" y1="63.6" x2="89.6" y2="59.0" stroke="#d08068" stroke-width="0.90" opacity="0.25"/>
<line x1="150.6" y1="146.3" x2="150.5" y2="140.8" stroke="#cc8a70" stroke-width="0.78" opacity="0.48"/>
<line x1="173.5" y1="98.1" x2="179.0" y2="96.6" stroke="#c7745a" stroke-width="0.70" opacity="0.37"/>
<line x1="95.6" y1="25.2" x2="99.2" y2="25.1" stroke="#dba08a" stroke-width="0.58" opacity="0.49"/>
<line x1="118.5" y1="126.9" x2="123.7" y2="125.3" stroke="#dba08a" stroke-width="0.78" opacity="0.37"/>
<line x1="49.5" y1="153.5" x2="56.5" y2="149.7" stroke="#9a8896" stroke-width="0.62" opacity="0.40"/>
<line x1="64.8" y1="50.7" x2="71.9" y2="44.2" stroke="#9a8896" stroke-width="0.93" opacity="0.48"/>
<line x1="140.5" y1="64.9" x2="140.4" y2="61.2" stroke="#dba08a" stroke-width="0.77" opacity="0.37"/>
<line x1="83.9" y1="129.3" x2="87.0" y2="126.7" stroke="#e0a892" stroke-width="0.99" opacity="0.23"/>
<line x1="36.1" y1="155.0" x2="38.7" y2="151.8" stroke="#cc8a70" stroke-width="0.99" opacity="0.26"/>
<line x1="115.8" y1="62.0" x2="121.4" y2="56.6" stroke="#dba08a" stroke-width="0.78" opacity="0.24"/>
<line x1="122.5" y1="112.5" x2="128.0" y2="111.3" stroke="#e0a892" stroke-width="0.84" opacity="0.25"/>
<line x1="99.1" y1="166.3" x2="107.0" y2="160.4" stroke="#d08068" stroke-width="0.57" opacity="0.19"/>
<line x1="163.1" y1="108.2" x2="166.6" y2="105.7" stroke="#d08068" stroke-width="1.04" opacity="0.29"/>
<line x1="133.3" y1="38.7" x2="138.9" y2="31.2" stroke="#cc8a70" stroke-width="1.04" opacity="0.44"/>
<line x1="182.5" y1="154.7" x2="183.1" y2="149.7" stroke="#b8a0a8" stroke-width="0.86" opacity="0.43"/>
<line x1="182.9" y1="104.5" x2="182.7" y2="95.2" stroke="#c7745a" stroke-width="0.81" opacity="0.22"/>
<line x1="94.9" y1="113.6" x2="103.5" y2="113.0" stroke="#e0a892" stroke-width="0.56" opacity="0.33"/>
<line x1="146.8" y1="84.9" x2="149.4" y2="81.1" stroke="#dba08a" stroke-width="0.56" opacity="0.23"/>
<line x1="61.7" y1="83.7" x2="68.4" y2="88.0" stroke="#cc8a70" stroke-width="0.55" opacity="0.52"/>
<line x1="79.0" y1="47.0" x2="81.9" y2="44.0" stroke="#cc8a70" stroke-width="0.81" opacity="0.41"/>
<line x1="76.9" y1="58.5" x2="80.1" y2="51.8" stroke="#c7745a" stroke-width="0.83" opacity="0.28"/>
<line x1="40.1" y1="76.4" x2="45.6" y2="72.8" stroke="#d8957e" stroke-width="0.76" opacity="0.15"/>
<line x1="84.8" y1="122.7" x2="87.8" y2="120.8" stroke="#d08068" stroke-width="0.78" opacity="0.26"/>
<line x1="78.1" y1="116.2" x2="86.7" y2="111.8" stroke="#e0a892" stroke-width="0.92" opacity="0.20"/>
<line x1="151.9" y1="91.0" x2="157.9" y2="84.7" stroke="#d8957e" stroke-width="0.91" opacity="0.18"/>
<line x1="165.0" y1="72.3" x2="171.5" y2="67.3" stroke="#b8a0a8" stroke-width="0.95" opacity="0.39"/>
<line x1="77.5" y1="35.6" x2="77.9" y2="28.8" stroke="#9a8896" stroke-width="0.63" opacity="0.29"/>
<line x1="103.2" y1="128.9" x2="106.8" y2="126.4" stroke="#9a8896" stroke-width="1.09" opacity="0.34"/>
<line x1="135.5" y1="156.5" x2="142.0" y2="154.4" stroke="#b8a0a8" stroke-width="0.77" opacity="0.25"/>
<line x1="126.9" y1="114.8" x2="134.0" y2="112.9" stroke="#d08068" stroke-width="0.57" opacity="0.38"/>
<line x1="26.9" y1="68.2" x2="30.1" y2="68.8" stroke="#d8957e" stroke-width="0.56" opacity="0.16"/>
<line x1="140.0" y1="146.7" x2="141.1" y2="141.1" stroke="#e0a892" stroke-width="0.68" opacity="0.51"/>
<line x1="82.3" y1="62.6" x2="88.3" y2="61.3" stroke="#a8909a" stroke-width="1.04" opacity="0.24"/>
<line x1="88.9" y1="52.9" x2="94.3" y2="50.5" stroke="#c7745a" stroke-width="0.88" opacity="0.30"/>
<line x1="114.4" y1="44.3" x2="115.1" y2="37.3" stroke="#cc8a70" stroke-width="1.03" opacity="0.31"/>
<line x1="168.4" y1="147.4" x2="174.1" y2="143.4" stroke="#b8a0a8" stroke-width="0.56" opacity="0.46"/>
<line x1="162.7" y1="110.6" x2="171.3" y2="108.0" stroke="#e0a892" stroke-width="0.71" opacity="0.46"/>
<line x1="83.9" y1="108.1" x2="92.7" y2="103.6" stroke="#e0a892" stroke-width="0.76" opacity="0.21"/>
<line x1="110.6" y1="45.9" x2="115.3" y2="43.5" stroke="#d8957e" stroke-width="1.01" opacity="0.41"/>
<line x1="125.1" y1="102.1" x2="129.4" y2="102.7" stroke="#b8a0a8" stroke-width="0.69" opacity="0.27"/>
<line x1="77.6" y1="76.8" x2="86.7" y2="75.6" stroke="#a8909a" stroke-width="0.66" opacity="0.43"/>
<line x1="78.5" y1="162.8" x2="81.6" y2="160.4" stroke="#9a8896" stroke-width="0.68" opacity="0.48"/>
<line x1="89.7" y1="56.9" x2="99.2" y2="57.4" stroke="#b8a0a8" stroke-width="0.57" opacity="0.40"/>
<line x1="172.6" y1="116.7" x2="180.0" y2="110.9" stroke="#d08068" stroke-width="0.79" opacity="0.34"/>
<line x1="135.4" y1="29.7" x2="138.8" y2="27.1" stroke="#dba08a" stroke-width="0.68" opacity="0.17"/>
<line x1="30.2" y1="51.5" x2="36.4" y2="46.1" stroke="#cc8a70" stroke-width="0.69" opacity="0.21"/>
<line x1="79.3" y1="117.9" x2="84.8" y2="117.5" stroke="#b8a0a8" stroke-width="0.84" opacity="0.49"/>
<line x1="53.3" y1="37.4" x2="57.8" y2="35.9" stroke="#d08068" stroke-width="0.70" opacity="0.27"/>
<line x1="107.6" y1="30.7" x2="112.0" y2="28.1" stroke="#d08068" stroke-width="0.77" opacity="0.30"/>
<line x1="135.2" y1="88.3" x2="137.1" y2="82.2" stroke="#d8957e" stroke-width="0.57" opacity="0.39"/>
<line x1="166.3" y1="109.4" x2="170.6" y2="108.0" stroke="#a8909a" stroke-width="0.66" opacity="0.16"/>
<line x1="34.8" y1="107.3" x2="38.6" y2="106.0" stroke="#a8909a" stroke-width="1.09" opacity="0.17"/>
<line x1="112.5" y1="47.5" x2="116.5" y2="46.5" stroke="#d8957e" stroke-width="0.89" opacity="0.27"/>
<line x1="65.3" y1="128.6" x2="67.9" y2="124.3" stroke="#dba08a" stroke-width="0.61" opacity="0.37"/>
<line x1="161.6" y1="126.1" x2="167.3" y2="121.8" stroke="#d8957e" stroke-width="0.82" opacity="0.24"/>
<line x1="24.2" y1="77.1" x2="28.4" y2="71.3" stroke="#cc8a70" stroke-width="0.73" opacity="0.40"/>
<line x1="92.6" y1="67.6" x2="99.5" y2="66.4" stroke="#d08068" stroke-width="0.63" opacity="0.44"/>
<line x1="41.1" y1="43.9" x2="47.6" y2="38.7" stroke="#d8957e" stroke-width="0.98" opacity="0.40"/>
<line x1="157.9" y1="109.5" x2="162.1" y2="107.4" stroke="#d8957e" stroke-width="0.86" opacity="0.36"/>
<line x1="115.2" y1="166.7" x2="118.3" y2="161.6" stroke="#cc8a70" stroke-width="1.04" opacity="0.25"/>
<line x1="56.0" y1="34.6" x2="58.4" y2="32.7" stroke="#d08068" stroke-width="0.75" opacity="0.37"/>
<line x1="145.0" y1="113.5" x2="148.5" y2="113.3" stroke="#d08068" stroke-width="0.76" opacity="0.47"/>
<line x1="79.2" y1="124.3" x2="82.6" y2="122.3" stroke="#d8957e" stroke-width="0.69" opacity="0.52"/>
<line x1="76.3" y1="33.2" x2="80.1" y2="29.5" stroke="#a8909a" stroke-width="0.61" opacity="0.25"/>
<line x1="89.0" y1="141.1" x2="96.5" y2="136.6" stroke="#9a8896" stroke-width="0.57" opacity="0.42"/>
<line x1="167.0" y1="97.1" x2="173.7" y2="97.3" stroke="#bd6a50" stroke-width="0.85" opacity="0.38"/>
<line x1="107.2" y1="152.0" x2="109.0" y2="148.2" stroke="#e0a892" stroke-width="0.93" opacity="0.42"/>
<line x1="85.8" y1="68.7" x2="90.7" y2="65.8" stroke="#b8a0a8" stroke-width="0.92" opacity="0.21"/>
<line x1="41.4" y1="96.7" x2="49.4" y2="99.6" stroke="#d08068" stroke-width="0.78" opacity="0.33"/>
<line x1="156.3" y1="83.1" x2="159.9" y2="85.7" stroke="#a8909a" stroke-width="1.07" opacity="0.17"/>
<line x1="55.6" y1="108.8" x2="59.4" y2="108.0" stroke="#c7745a" stroke-width="0.94" opacity="0.44"/>
<line x1="120.1" y1="49.3" x2="126.6" y2="48.8" stroke="#bd6a50" stroke-width="0.87" opacity="0.44"/>
<line x1="125.2" y1="48.5" x2="128.4" y2="48.5" stroke="#cc8a70" stroke-width="1.02" opacity="0.21"/>
<line x1="140.6" y1="61.1" x2="144.9" y2="59.0" stroke="#d08068" stroke-width="0.69" opacity="0.25"/>
<line x1="41.6" y1="70.7" x2="48.6" y2="71.3" stroke="#a8909a" stroke-width="0.75" opacity="0.22"/>
<line x1="68.0" y1="54.2" x2="77.5" y2="53.2" stroke="#cc8a70" stroke-width="0.73" opacity="0.25"/>
<line x1="63.2" y1="110.8" x2="69.2" y2="109.0" stroke="#c7745a" stroke-width="0.77" opacity="0.34"/>
<line x1="95.1" y1="76.3" x2="99.3" y2="76.6" stroke="#d8957e" stroke-width="0.57" opacity="0.50"/>
<line x1="40.0" y1="41.6" x2="46.0" y2="42.5" stroke="#c7745a" stroke-width="1.09" opacity="0.29"/>
<line x1="89.6" y1="139.5" x2="91.7" y2="136.2" stroke="#9a8896" stroke-width="0.55" opacity="0.15"/>
<line x1="98.7" y1="30.0" x2="101.6" y2="27.8" stroke="#c7745a" stroke-width="0.90" opacity="0.15"/>
<line x1="168.0" y1="102.5" x2="172.8" y2="96.2" stroke="#c7745a" stroke-width="0.90" opacity="0.48"/>
<line x1="177.4" y1="133.2" x2="180.6" y2="124.6" stroke="#d8957e" stroke-width="0.78" opacity="0.31"/>
<line x1="50.4" y1="68.4" x2="55.8" y2="65.9" stroke="#dba08a" stroke-width="1.07" opacity="0.45"/>
<line x1="153.6" y1="69.6" x2="161.3" y2="69.2" stroke="#a8909a" stroke-width="1.07" opacity="0.39"/>
<line x1="30.6" y1="105.9" x2="39.5" y2="105.6" stroke="#bd6a50" stroke-width="0.80" opacity="0.25"/>
<line x1="133.2" y1="61.1" x2="136.7" y2="58.8" stroke="#d08068" stroke-width="0.59" opacity="0.48"/>
<line x1="157.5" y1="72.4" x2="160.2" y2="67.2" stroke="#bd6a50" stroke-width="0.70" opacity="0.48"/>
<line x1="95.8" y1="135.6" x2="100.9" y2="131.2" stroke="#9a8896" stroke-width="0.80" opacity="0.29"/>
<line x1="21.7" y1="46.4" x2="29.5" y2="41.2" stroke="#b8a0a8" stroke-width="0.91" opacity="0.27"/>
<line x1="28.8" y1="74.1" x2="30.9" y2="71.0" stroke="#b8a0a8" stroke-width="0.71" opacity="0.40"/>
<line x1="48.3" y1="118.1" x2="55.1" y2="111.4" stroke="#e0a892" stroke-width="1.04" opacity="0.24"/>
<line x1="57.7" y1="165.1" x2="61.4" y2="155.8" stroke="#e0a892" stroke-width="0.90" opacity="0.35"/>
<line x1="63.9" y1="153.4" x2="64.0" y2="150.1" stroke="#a8909a" stroke-width="0.68" opacity="0.40"/>
<line x1="66.8" y1="84.6" x2="69.7" y2="82.5" stroke="#d08068" stroke-width="0.69" opacity="0.23"/>
<line x1="71.6" y1="54.9" x2="78.5" y2="50.3" stroke="#cc8a70" stroke-width="0.85" opacity="0.44"/>
<line x1="51.4" y1="101.9" x2="57.9" y2="94.4" stroke="#c7745a" stroke-width="0.83" opacity="0.22"/>
<line x1="148.5" y1="88.0" x2="152.9" y2="87.2" stroke="#d08068" stroke-width="0.75" opacity="0.21"/>
<line x1="137.4" y1="62.3" x2="141.5" y2="59.9" stroke="#e0a892" stroke-width="1.01" opacity="0.46"/>
<line x1="60.8" y1="57.3" x2="69.8" y2="55.4" stroke="#e0a892" stroke-width="0.99" opacity="0.16"/>
<line x1="170.5" y1="62.9" x2="180.0" y2="62.9" stroke="#cc8a70" stroke-width="0.58" opacity="0.23"/>
<line x1="26.3" y1="156.8" x2="31.6" y2="152.5" stroke="#c7745a" stroke-width="0.68" opacity="0.50"/>
<line x1="176.4" y1="64.4" x2="186.0" y2="61.8" stroke="#bd6a50" stroke-width="0.79" opacity="0.46"/>
<line x1="51.9" y1="93.0" x2="58.7" y2="92.4" stroke="#e0a892" stroke-width="0.85" opacity="0.43"/>
<line x1="52.0" y1="90.4" x2="55.9" y2="88.1" stroke="#e0a892" stroke-width="0.99" opacity="0.36"/>
<line x1="153.8" y1="90.6" x2="156.5" y2="83.2" stroke="#a8909a" stroke-width="0.84" opacity="0.31"/>
<line x1="155.2" y1="152.2" x2="155.8" y2="145.4" stroke="#e0a892" stroke-width="0.76" opacity="0.29"/>
<line x1="55.1" y1="64.1" x2="61.7" y2="62.3" stroke="#cc8a70" stroke-width="0.63" opacity="0.19"/>
<line x1="118.7" y1="136.9" x2="122.1" y2="130.7" stroke="#9a8896" stroke-width="0.79" opacity="0.18"/>
<line x1="164.3" y1="68.3" x2="172.1" y2="66.1" stroke="#dba08a" stroke-width="0.86" opacity="0.30"/>
<line x1="173.1" y1="67.3" x2="178.9" y2="65.0" stroke="#9a8896" stroke-width="0.69" opacity="0.21"/>
<line x1="39.2" y1="53.0" x2="43.6" y2="49.3" stroke="#a8909a" stroke-width="0.63" opacity="0.37"/>
<line x1="83.6" y1="47.1" x2="88.2" y2="42.4" stroke="#c7745a" stroke-width="0.92" opacity="0.40"/>
<line x1="158.5" y1="166.3" x2="163.9" y2="164.7" stroke="#cc8a70" stroke-width="0.73" opacity="0.19"/>
<line x1="63.3" y1="67.9" x2="70.2" y2="64.0" stroke="#d08068" stroke-width="0.78" opacity="0.22"/>
<line x1="127.8" y1="120.7" x2="132.4" y2="118.7" stroke="#dba08a" stroke-width="0.81" opacity="0.49"/>
<line x1="84.4" y1="120.8" x2="93.8" y2="121.5" stroke="#9a8896" stroke-width="0.69" opacity="0.50"/>
<line x1="132.7" y1="55.8" x2="134.4" y2="52.3" stroke="#bd6a50" stroke-width="0.72" opacity="0.23"/>
<line x1="26.9" y1="132.1" x2="31.7" y2="126.6" stroke="#e0a892" stroke-width="0.59" opacity="0.45"/>
<line x1="24.8" y1="34.8" x2="29.4" y2="32.0" stroke="#e0a892" stroke-width="1.05" opacity="0.50"/>
<line x1="167.1" y1="107.7" x2="171.6" y2="105.7" stroke="#d8957e" stroke-width="1.07" opacity="0.32"/>
<line x1="180.7" y1="157.5" x2="182.2" y2="154.2" stroke="#a8909a" stroke-width="1.07" opacity="0.22"/>
<line x1="51.3" y1="140.2" x2="55.8" y2="138.5" stroke="#b8a0a8" stroke-width="0.58" opacity="0.52"/>
<line x1="137.6" y1="138.4" x2="139.0" y2="134.4" stroke="#d8957e" stroke-width="0.63" opacity="0.46"/>
<line x1="98.9" y1="104.3" x2="105.7" y2="100.2" stroke="#b8a0a8" stroke-width="0.60" opacity="0.21"/>
<line x1="99.3" y1="103.1" x2="107.2" y2="98.9" stroke="#d08068" stroke-width="1.03" opacity="0.26"/>
<line x1="96.1" y1="46.8" x2="102.3" y2="39.5" stroke="#9a8896" stroke-width="0.97" opacity="0.36"/>
<line x1="78.3" y1="168.4" x2="79.0" y2="160.3" stroke="#d8957e" stroke-width="0.66" opacity="0.28"/>
<line x1="128.4" y1="146.8" x2="133.0" y2="142.2" stroke="#e0a892" stroke-width="0.56" opacity="0.27"/>
<line x1="126.8" y1="106.0" x2="131.2" y2="105.7" stroke="#cc8a70" stroke-width="0.87" opacity="0.21"/>
<line x1="175.7" y1="94.8" x2="179.4" y2="86.6" stroke="#bd6a50" stroke-width="0.83" opacity="0.22"/>
<line x1="162.1" y1="130.5" x2="164.2" y2="124.3" stroke="#d8957e" stroke-width="0.62" opacity="0.19"/>
<line x1="43.1" y1="80.0" x2="46.7" y2="71.1" stroke="#dba08a" stroke-width="0.69" opacity="0.20"/>
<line x1="85.5" y1="130.0" x2="89.7" y2="127.2" stroke="#d8957e" stroke-width="0.78" opacity="0.31"/>
<line x1="53.0" y1="59.3" x2="58.7" y2="58.2" stroke="#b8a0a8" stroke-width="0.77" opacity="0.22"/>
<line x1="180.7" y1="83.4" x2="188.7" y2="79.6" stroke="#bd6a50" stroke-width="1.07" opacity="0.23"/>
<line x1="44.3" y1="92.1" x2="50.4" y2="92.7" stroke="#d08068" stroke-width="0.64" opacity="0.23"/>
<line x1="145.4" y1="117.2" x2="148.6" y2="116.5" stroke="#bd6a50" stroke-width="1.03" opacity="0.18"/>
<line x1="44.6" y1="43.4" x2="47.6" y2="41.4" stroke="#a8909a" stroke-width="1.04" opacity="0.29"/>
<line x1="87.9" y1="141.4" x2="91.8" y2="138.9" stroke="#e0a892" stroke-width="0.81" opacity="0.38"/>
<line x1="64.5" y1="140.3" x2="68.1" y2="137.7" stroke="#b8a0a8" stroke-width="0.86" opacity="0.47"/>
<line x1="38.1" y1="109.2" x2="42.4" y2="104.8" stroke="#9a8896" stroke-width="1.06" opacity="0.19"/>
<line x1="105.7" y1="147.1" x2="108.0" y2="143.0" stroke="#9a8896" stroke-width="0.76" opacity="0.41"/>
<line x1="143.5" y1="110.8" x2="148.0" y2="111.2" stroke="#a8909a" stroke-width="1.02" opacity="0.51"/>
<line x1="65.2" y1="161.3" x2="64.9" y2="153.7" stroke="#9a8896" stroke-width="0.82" opacity="0.37"/>
<line x1="78.0" y1="94.5" x2="85.3" y2="92.5" stroke="#dba08a" stroke-width="0.88" opacity="0.34"/>
<line x1="63.9" y1="159.5" x2="66.7" y2="154.8" stroke="#d08068" stroke-width="0.60" opacity="0.52"/>
<line x1="125.9" y1="102.1" x2="129.1" y2="100.1" stroke="#cc8a70" stroke-width="0.89" opacity="0.36"/>
<line x1="66.1" y1="47.7" x2="69.4" y2="44.7" stroke="#a8909a" stroke-width="1.08" opacity="0.41"/>
<line x1="75.2" y1="38.2" x2="82.9" y2="32.9" stroke="#bd6a50" stroke-width="0.73" opacity="0.24"/>
<line x1="78.5" y1="169.9" x2="79.9" y2="160.4" stroke="#cc8a70" stroke-width="0.57" opacity="0.23"/>
<line x1="179.4" y1="154.9" x2="183.7" y2="152.0" stroke="#cc8a70" stroke-width="0.88" opacity="0.16"/>
<line x1="116.8" y1="91.5" x2="120.3" y2="88.7" stroke="#c7745a" stroke-width="1.00" opacity="0.37"/>
<line x1="74.1" y1="103.8" x2="82.5" y2="99.9" stroke="#cc8a70" stroke-width="0.69" opacity="0.44"/>
<line x1="165.9" y1="25.1" x2="170.0" y2="25.2" stroke="#b8a0a8" stroke-width="0.83" opacity="0.36"/>
<line x1="95.2" y1="77.7" x2="99.5" y2="77.5" stroke="#dba08a" stroke-width="1.03" opacity="0.19"/>
<line x1="45.1" y1="129.8" x2="49.6" y2="124.6" stroke="#d08068" stroke-width="0.93" opacity="0.52"/>
<line x1="39.3" y1="59.9" x2="48.1" y2="55.6" stroke="#bd6a50" stroke-width="0.88" opacity="0.36"/>
<line x1="149.8" y1="117.5" x2="155.0" y2="114.5" stroke="#b8a0a8" stroke-width="0.94" opacity="0.28"/>
<line x1="87.0" y1="99.7" x2="91.4" y2="98.4" stroke="#a8909a" stroke-width="0.55" opacity="0.33"/>
<line x1="142.8" y1="136.6" x2="150.4" y2="138.9" stroke="#a8909a" stroke-width="0.61" opacity="0.34"/>
<line x1="34.7" y1="89.0" x2="39.6" y2="86.1" stroke="#9a8896" stroke-width="0.94" opacity="0.37"/>
<line x1="147.1" y1="46.5" x2="150.9" y2="45.5" stroke="#dba08a" stroke-width="0.90" opacity="0.49"/>
<line x1="63.3" y1="103.1" x2="71.6" y2="104.5" stroke="#bd6a50" stroke-width="0.63" opacity="0.32"/>
<line x1="60.2" y1="134.7" x2="61.5" y2="125.2" stroke="#e0a892" stroke-width="0.93" opacity="0.37"/>
<line x1="73.8" y1="42.8" x2="76.8" y2="36.5" stroke="#e0a892" stroke-width="1.01" opacity="0.35"/>
<line x1="94.7" y1="162.0" x2="96.8" y2="156.7" stroke="#cc8a70" stroke-width="0.89" opacity="0.52"/>
<line x1="39.8" y1="68.5" x2="43.6" y2="67.9" stroke="#a8909a" stroke-width="0.71" opacity="0.20"/>
<line x1="41.3" y1="147.2" x2="49.4" y2="147.7" stroke="#cc8a70" stroke-width="0.57" opacity="0.46"/>
<line x1="58.7" y1="30.1" x2="67.8" y2="26.9" stroke="#b8a0a8" stroke-width="1.03" opacity="0.24"/>
<line x1="120.0" y1="60.5" x2="123.7" y2="54.1" stroke="#b8a0a8" stroke-width="1.04" opacity="0.29"/>
<line x1="48.2" y1="37.0" x2="54.0" y2="33.5" stroke="#b8a0a8" stroke-width="0.79" opacity="0.24"/>
<line x1="49.6" y1="136.2" x2="53.6" y2="129.9" stroke="#b8a0a8" stroke-width="1.04" opacity="0.20"/>
<line x1="56.4" y1="159.4" x2="62.5" y2="152.3" stroke="#e0a892" stroke-width="0.92" opacity="0.25"/>
<line x1="35.7" y1="163.2" x2="37.8" y2="159.9" stroke="#d8957e" stroke-width="1.09" opacity="0.38"/>
<line x1="99.8" y1="88.6" x2="102.4" y2="87.0" stroke="#c7745a" stroke-width="0.85" opacity="0.15"/>
<line x1="83.1" y1="36.2" x2="92.9" y2="34.1" stroke="#9a8896" stroke-width="0.70" opacity="0.30"/>
<line x1="142.6" y1="60.3" x2="147.4" y2="53.2" stroke="#9a8896" stroke-width="0.75" opacity="0.32"/>
<line x1="26.0" y1="56.3" x2="28.7" y2="54.3" stroke="#d8957e" stroke-width="1.01" opacity="0.41"/>
<line x1="57.1" y1="146.2" x2="61.2" y2="142.4" stroke="#b8a0a8" stroke-width="0.71" opacity="0.24"/>
<line x1="106.9" y1="58.9" x2="113.2" y2="53.2" stroke="#dba08a" stroke-width="0.74" opacity="0.39"/>
<line x1="97.3" y1="106.2" x2="104.3" y2="108.0" stroke="#b8a0a8" stroke-width="1.08" opacity="0.36"/>
<line x1="99.0" y1="87.4" x2="105.4" y2="87.4" stroke="#d08068" stroke-width="0.70" opacity="0.39"/>
<line x1="71.1" y1="109.3" x2="75.8" y2="108.3" stroke="#b8a0a8" stroke-width="0.87" opacity="0.19"/>
<line x1="101.6" y1="34.3" x2="105.6" y2="29.8" stroke="#9a8896" stroke-width="1.01" opacity="0.26"/>
<line x1="91.0" y1="142.3" x2="96.8" y2="140.3" stroke="#dba08a" stroke-width="0.89" opacity="0.48"/>
<line x1="109.6" y1="133.0" x2="108.6" y2="127.4" stroke="#b8a0a8" stroke-width="0.94" opacity="0.43"/>
<line x1="171.5" y1="162.4" x2="178.3" y2="156.4" stroke="#c7745a" stroke-width="0.80" opacity="0.39"/>
</g>
<g filter="url(#b3)">
<path d="M80,112 C105,110 130,106 150,100 C165,95 176,91 186,88" stroke="#d08a70" stroke-width="8" fill="none" opacity="0.45"/>
<path d="M60,103 C80,105 100,107 118,105" stroke="#d49886" stroke-width="3" fill="none" opacity="0.45"/>
<path d="M144,28 C142,38 143,48 149,56 C156,63 166,69 186,73" stroke="#b98878" stroke-width="2.0" fill="none" opacity="0.6"/>
</g>
<g filter="url(#b1)">
<line x1="122.2" y1="101.7" x2="131.3" y2="99.3" stroke="#bd6a50" stroke-width="0.9" opacity="0.4"/>
<line x1="170.0" y1="93.3" x2="176.1" y2="91.7" stroke="#bd6a50" stroke-width="0.9" opacity="0.4"/>
<line x1="144.2" y1="94.5" x2="153.5" y2="92.0" stroke="#bd6a50" stroke-width="0.9" opacity="0.4"/>
<line x1="120.0" y1="103.0" x2="124.9" y2="101.6" stroke="#bd6a50" stroke-width="0.9" opacity="0.4"/>
<line x1="113.0" y1="101.9" x2="124.1" y2="98.9" stroke="#bd6a50" stroke-width="0.9" opacity="0.4"/>
<line x1="145.1" y1="97.3" x2="154.3" y2="94.9" stroke="#bd6a50" stroke-width="0.9" opacity="0.4"/>
<line x1="111.7" y1="106.0" x2="122.6" y2="103.2" stroke="#bd6a50" stroke-width="0.9" opacity="0.4"/>
<line x1="127.9" y1="100.5" x2="135.8" y2="98.4" stroke="#bd6a50" stroke-width="0.9" opacity="0.4"/>
<line x1="150.5" y1="88.5" x2="156.2" y2="87.0" stroke="#bd6a50" stroke-width="0.9" opacity="0.4"/>
<line x1="82.3" y1="110.4" x2="91.2" y2="108.0" stroke="#bd6a50" stroke-width="0.9" opacity="0.4"/>
<line x1="99.8" y1="109.7" x2="108.2" y2="107.5" stroke="#bd6a50" stroke-width="0.9" opacity="0.4"/>
<line x1="107.4" y1="115.5" x2="114.7" y2="113.5" stroke="#bd6a50" stroke-width="0.9" opacity="0.4"/>
<line x1="98.2" y1="108.9" x2="109.6" y2="105.8" stroke="#bd6a50" stroke-width="0.9" opacity="0.4"/>
<line x1="154.3" y1="96.9" x2="161.5" y2="95.0" stroke="#bd6a50" stroke-width="0.9" opacity="0.4"/>
<line x1="88.8" y1="116.2" x2="94.3" y2="114.7" stroke="#bd6a50" stroke-width="0.9" opacity="0.4"/>
<line x1="167.8" y1="91.6" x2="176.4" y2="89.3" stroke="#bd6a50" stroke-width="0.9" opacity="0.4"/>
<line x1="182.0" y1="86.5" x2="186.8" y2="85.2" stroke="#bd6a50" stroke-width="0.9" opacity="0.4"/>
<line x1="137.9" y1="100.4" x2="144.3" y2="98.7" stroke="#bd6a50" stroke-width="0.9" opacity="0.4"/>
<line x1="169.9" y1="92.8" x2="176.9" y2="90.9" stroke="#bd6a50" stroke-width="0.9" opacity="0.4"/>
<line x1="160.7" y1="99.2" x2="170.3" y2="96.7" stroke="#bd6a50" stroke-width="0.9" opacity="0.4"/>
<line x1="175.6" y1="88.4" x2="182.2" y2="86.7" stroke="#bd6a50" stroke-width="0.9" opacity="0.4"/>
<line x1="102.1" y1="106.8" x2="107.7" y2="105.3" stroke="#bd6a50" stroke-width="0.9" opacity="0.4"/>
<line x1="109.3" y1="104.3" x2="114.1" y2="103.0" stroke="#bd6a50" stroke-width="0.9" opacity="0.4"/>
<line x1="129.1" y1="105.8" x2="137.4" y2="103.6" stroke="#bd6a50" stroke-width="0.9" opacity="0.4"/>
<line x1="91.8" y1="109.8" x2="101.7" y2="107.1" stroke="#bd6a50" stroke-width="0.9" opacity="0.4"/>
<line x1="92.6" y1="108.6" x2="103.4" y2="105.7" stroke="#bd6a50" stroke-width="0.9" opacity="0.4"/>
<line x1="110.0" y1="107.2" x2="116.2" y2="105.6" stroke="#bd6a50" stroke-width="0.9" opacity="0.4"/>
<line x1="90.5" y1="111.4" x2="97.5" y2="109.6" stroke="#bd6a50" stroke-width="0.9" opacity="0.4"/>
<line x1="177.9" y1="88.3" x2="187.9" y2="85.6" stroke="#bd6a50" stroke-width="0.9" opacity="0.4"/>
<line x1="85.1" y1="113.6" x2="90.5" y2="112.2" stroke="#bd6a50" stroke-width="0.9" opacity="0.4"/>
<line x1="169.2" y1="91.3" x2="175.3" y2="89.7" stroke="#bd6a50" stroke-width="0.9" opacity="0.4"/>
<line x1="153.1" y1="97.3" x2="164.5" y2="94.3" stroke="#bd6a50" stroke-width="0.9" opacity="0.4"/>
<line x1="119.2" y1="103.2" x2="125.4" y2="101.5" stroke="#bd6a50" stroke-width="0.9" opacity="0.4"/>
<line x1="109.8" y1="103.4" x2="116.9" y2="101.5" stroke="#bd6a50" stroke-width="0.9" opacity="0.4"/>
<line x1="102.8" y1="108.0" x2="110.3" y2="106.0" stroke="#bd6a50" stroke-width="0.9" opacity="0.4"/>
<line x1="155.4" y1="94.3" x2="160.4" y2="92.9" stroke="#bd6a50" stroke-width="0.9" opacity="0.4"/>
<line x1="179.1" y1="87.0" x2="185.2" y2="85.4" stroke="#bd6a50" stroke-width="0.9" opacity="0.4"/>
<line x1="96.3" y1="106.9" x2="106.8" y2="104.1" stroke="#bd6a50" stroke-width="0.9" opacity="0.4"/>
<line x1="180.3" y1="94.0" x2="186.5" y2="92.4" stroke="#bd6a50" stroke-width="0.9" opacity="0.4"/>
<line x1="83.7" y1="112.7" x2="92.6" y2="110.3" stroke="#bd6a50" stroke-width="0.9" opacity="0.4"/>
<line x1="86.7" y1="114.1" x2="93.5" y2="112.3" stroke="#bd6a50" stroke-width="0.9" opacity="0.4"/>
<line x1="91.2" y1="106.4" x2="99.5" y2="104.2" stroke="#bd6a50" stroke-width="0.9" opacity="0.4"/>
<line x1="156.6" y1="98.8" x2="162.3" y2="97.3" stroke="#bd6a50" stroke-width="0.9" opacity="0.4"/>
<line x1="117.1" y1="105.3" x2="123.0" y2="103.7" stroke="#bd6a50" stroke-width="0.9" opacity="0.4"/>
<line x1="83.1" y1="110.4" x2="94.1" y2="107.5" stroke="#bd6a50" stroke-width="0.9" opacity="0.4"/>
<line x1="170.9" y1="91.2" x2="180.7" y2="88.6" stroke="#bd6a50" stroke-width="0.9" opacity="0.4"/>
<line x1="130.2" y1="99.9" x2="138.2" y2="97.8" stroke="#bd6a50" stroke-width="0.9" opacity="0.4"/>
<line x1="134.2" y1="98.5" x2="141.9" y2="96.5" stroke="#bd6a50" stroke-width="0.9" opacity="0.4"/>
<line x1="122.2" y1="107.7" x2="132.0" y2="105.1" stroke="#bd6a50" stroke-width="0.9" opacity="0.4"/>
<line x1="167.6" y1="86.4" x2="174.4" y2="84.6" stroke="#bd6a50" stroke-width="0.9" opacity="0.4"/>
<circle cx="40.0" cy="57.6" r="0.75" fill="#8e8ca4" opacity="0.28"/>
<circle cx="114.9" cy="133.8" r="0.62" fill="#8e8ca4" opacity="0.27"/>
<circle cx="103.0" cy="72.0" r="0.86" fill="#8e8ca4" opacity="0.41"/>
<circle cx="148.1" cy="125.6" r="0.68" fill="#a08478" opacity="0.54"/>
<circle cx="151.7" cy="104.6" r="0.56" fill="#8c7078" opacity="0.48"/>
<circle cx="113.5" cy="70.9" r="0.80" fill="#9a7f86" opacity="0.47"/>
<circle cx="155.7" cy="27.9" r="0.89" fill="#9a7f86" opacity="0.31"/>
<circle cx="113.9" cy="93.0" r="0.56" fill="#a08478" opacity="0.55"/>
<circle cx="37.5" cy="152.9" r="0.70" fill="#a08478" opacity="0.40"/>
<circle cx="38.0" cy="85.1" r="0.90" fill="#a08478" opacity="0.27"/>
<circle cx="130.0" cy="33.8" r="0.87" fill="#9a7f86" opacity="0.47"/>
<circle cx="52.4" cy="60.7" r="0.67" fill="#8c7078" opacity="0.30"/>
<circle cx="89.7" cy="36.1" r="0.89" fill="#a08478" opacity="0.41"/>
<circle cx="90.2" cy="96.9" r="0.82" fill="#9a7f86" opacity="0.54"/>
<circle cx="132.3" cy="147.9" r="0.55" fill="#9a7f86" opacity="0.46"/>
<circle cx="30.8" cy="145.0" r="0.82" fill="#8c7078" opacity="0.38"/>
<circle cx="132.9" cy="95.6" r="0.56" fill="#8e8ca4" opacity="0.46"/>
<circle cx="94.9" cy="50.1" r="0.70" fill="#8e8ca4" opacity="0.53"/>
<circle cx="55.7" cy="32.8" r="0.85" fill="#8c7078" opacity="0.39"/>
<circle cx="67.0" cy="142.4" r="0.80" fill="#8c7078" opacity="0.42"/>
<circle cx="51.5" cy="92.1" r="0.84" fill="#9a7f86" opacity="0.30"/>
<circle cx="170.4" cy="47.4" r="0.52" fill="#8e8ca4" opacity="0.45"/>
<circle cx="111.0" cy="108.0" r="0.70" fill="#9a7f86" opacity="0.49"/>
<circle cx="70.0" cy="89.9" r="0.90" fill="#8c7078" opacity="0.47"/>
<circle cx="101.3" cy="56.8" r="0.72" fill="#8e8ca4" opacity="0.55"/>
<circle cx="165.1" cy="128.6" r="0.54" fill="#9a7f86" opacity="0.31"/>
<circle cx="167.6" cy="100.5" r="0.54" fill="#8c7078" opacity="0.32"/>
<circle cx="146.6" cy="131.1" r="0.65" fill="#8e8ca4" opacity="0.53"/>
<circle cx="51.9" cy="58.2" r="0.81" fill="#8e8ca4" opacity="0.43"/>
<circle cx="51.1" cy="96.6" r="0.79" fill="#a08478" opacity="0.36"/>
<circle cx="92.5" cy="137.3" r="0.56" fill="#9a7f86" opacity="0.50"/>
<circle cx="154.0" cy="132.5" r="0.83" fill="#8c7078" opacity="0.51"/>
<circle cx="89.2" cy="158.5" r="0.67" fill="#8c7078" opacity="0.32"/>
<circle cx="101.8" cy="68.2" r="0.83" fill="#8e8ca4" opacity="0.31"/>
<circle cx="51.1" cy="77.9" r="0.51" fill="#a08478" opacity="0.40"/>
<circle cx="162.5" cy="114.9" r="0.76" fill="#8e8ca4" opacity="0.55"/>
<circle cx="34.5" cy="84.9" r="0.69" fill="#9a7f86" opacity="0.50"/>
<circle cx="104.0" cy="64.0" r="0.51" fill="#8e8ca4" opacity="0.43"/>
<circle cx="79.3" cy="61.6" r="0.75" fill="#8c7078" opacity="0.31"/>
<circle cx="138.4" cy="37.6" r="0.58" fill="#8c7078" opacity="0.42"/>
<circle cx="147.0" cy="114.7" r="0.71" fill="#9a7f86" opacity="0.41"/>
<circle cx="174.3" cy="158.0" r="0.61" fill="#8e8ca4" opacity="0.27"/>
<circle cx="118.5" cy="115.1" r="0.87" fill="#9a7f86" opacity="0.44"/>
<circle cx="41.2" cy="99.6" r="0.90" fill="#9a7f86" opacity="0.33"/>
<circle cx="139.0" cy="64.0" r="0.56" fill="#9a7f86" opacity="0.53"/>
<circle cx="163.1" cy="93.4" r="0.64" fill="#8c7078" opacity="0.40"/>
<circle cx="33.6" cy="105.8" r="0.78" fill="#a08478" opacity="0.26"/>
<circle cx="76.0" cy="62.6" r="0.80" fill="#8c7078" opacity="0.40"/>
<circle cx="53.5" cy="63.7" r="0.80" fill="#8e8ca4" opacity="0.36"/>
<circle cx="147.0" cy="106.2" r="0.74" fill="#a08478" opacity="0.41"/>
<circle cx="60.9" cy="92.9" r="0.83" fill="#8c7078" opacity="0.43"/>
<circle cx="66.4" cy="67.5" r="0.67" fill="#a08478" opacity="0.43"/>
<circle cx="34.1" cy="128.6" r="0.58" fill="#8c7078" opacity="0.49"/>
<circle cx="149.8" cy="39.3" r="0.68" fill="#9a7f86" opacity="0.45"/>
<circle cx="66.7" cy="112.0" r="0.85" fill="#8e8ca4" opacity="0.47"/>
<circle cx="43.5" cy="131.4" r="0.78" fill="#8c7078" opacity="0.43"/>
<circle cx="182.4" cy="130.7" r="0.72" fill="#a08478" opacity="0.42"/>
<circle cx="38.6" cy="142.7" r="0.81" fill="#8c7078" opacity="0.37"/>
<circle cx="144.7" cy="74.4" r="0.56" fill="#a08478" opacity="0.34"/>
<circle cx="178.1" cy="112.3" r="0.78" fill="#9a7f86" opacity="0.31"/>
<circle cx="169.5" cy="60.6" r="0.52" fill="#8c7078" opacity="0.41"/>
<circle cx="133.6" cy="160.5" r="0.56" fill="#8c7078" opacity="0.27"/>
<circle cx="31.1" cy="30.2" r="0.51" fill="#8c7078" opacity="0.30"/>
<circle cx="35.8" cy="82.5" r="0.88" fill="#a08478" opacity="0.30"/>
<circle cx="122.4" cy="33.0" r="0.56" fill="#a08478" opacity="0.45"/>
<circle cx="48.5" cy="54.1" r="0.90" fill="#a08478" opacity="0.29"/>
<circle cx="31.6" cy="130.4" r="0.81" fill="#8c7078" opacity="0.47"/>
<circle cx="95.2" cy="159.1" r="0.83" fill="#8e8ca4" opacity="0.27"/>
<circle cx="112.9" cy="100.9" r="0.51" fill="#9a7f86" opacity="0.42"/>
<circle cx="104.8" cy="50.1" r="0.68" fill="#8e8ca4" opacity="0.29"/>
<circle cx="52.1" cy="29.5" r="0.56" fill="#8c7078" opacity="0.42"/>
<circle cx="174.5" cy="131.2" r="0.54" fill="#a08478" opacity="0.27"/>
<circle cx="147.4" cy="96.7" r="0.66" fill="#9a7f86" opacity="0.43"/>
<circle cx="166.0" cy="107.3" r="0.87" fill="#a08478" opacity="0.32"/>
<circle cx="118.7" cy="85.0" r="0.73" fill="#8c7078" opacity="0.42"/>
<circle cx="100.3" cy="102.3" r="0.86" fill="#9a7f86" opacity="0.26"/>
<circle cx="136.9" cy="145.2" r="0.65" fill="#8e8ca4" opacity="0.50"/>
<circle cx="61.8" cy="152.4" r="0.58" fill="#9a7f86" opacity="0.31"/>
<circle cx="87.8" cy="49.0" r="0.62" fill="#9a7f86" opacity="0.34"/>
<circle cx="39.5" cy="77.3" r="0.72" fill="#a08478" opacity="0.52"/>
<circle cx="123.9" cy="114.4" r="0.81" fill="#8e8ca4" opacity="0.26"/>
<circle cx="131.0" cy="106.4" r="0.82" fill="#8e8ca4" opacity="0.27"/>
<circle cx="56.4" cy="112.1" r="0.63" fill="#8e8ca4" opacity="0.52"/>
<circle cx="38.1" cy="49.5" r="0.63" fill="#8e8ca4" opacity="0.36"/>
<circle cx="95.3" cy="90.6" r="0.69" fill="#9a7f86" opacity="0.37"/>
<circle cx="155.4" cy="142.4" r="0.82" fill="#9a7f86" opacity="0.30"/>
<circle cx="140.1" cy="145.6" r="0.71" fill="#a08478" opacity="0.37"/>
<circle cx="84.1" cy="132.0" r="0.66" fill="#9a7f86" opacity="0.26"/>
<circle cx="161.1" cy="147.6" r="0.60" fill="#8e8ca4" opacity="0.45"/>
<circle cx="170.5" cy="54.8" r="0.55" fill="#8c7078" opacity="0.53"/>
<circle cx="152.5" cy="98.7" r="0.83" fill="#8c7078" opacity="0.45"/>
<circle cx="45.2" cy="115.1" r="0.69" fill="#8c7078" opacity="0.38"/>
<circle cx="128.1" cy="53.2" r="0.89" fill="#9a7f86" opacity="0.40"/>
<circle cx="94.8" cy="134.0" r="0.70" fill="#9a7f86" opacity="0.26"/>
<circle cx="53.4" cy="68.7" r="0.55" fill="#8e8ca4" opacity="0.36"/>
<circle cx="124.4" cy="129.4" r="0.84" fill="#a08478" opacity="0.31"/>
<circle cx="114.9" cy="109.3" r="0.74" fill="#9a7f86" opacity="0.36"/>
<circle cx="65.3" cy="117.6" r="0.77" fill="#8c7078" opacity="0.45"/>
<circle cx="176.5" cy="61.8" r="0.75" fill="#8c7078" opacity="0.41"/>
<circle cx="168.5" cy="133.2" r="0.89" fill="#8c7078" opacity="0.39"/>
<circle cx="112.5" cy="108.2" r="0.68" fill="#8c7078" opacity="0.52"/>
<circle cx="137.4" cy="81.7" r="0.62" fill="#8e8ca4" opacity="0.27"/>
<circle cx="103.5" cy="33.7" r="0.57" fill="#a08478" opacity="0.40"/>
<circle cx="50.3" cy="152.9" r="0.83" fill="#a08478" opacity="0.43"/>
<circle cx="46.8" cy="84.0" r="0.72" fill="#8c7078" opacity="0.33"/>
<circle cx="128.4" cy="43.2" r="0.70" fill="#8e8ca4" opacity="0.30"/>
<circle cx="148.6" cy="40.5" r="0.83" fill="#a08478" opacity="0.45"/>
<circle cx="65.9" cy="149.0" r="0.84" fill="#9a7f86" opacity="0.52"/>
<circle cx="57.8" cy="76.7" r="0.77" fill="#8c7078" opacity="0.34"/>
<circle cx="90.3" cy="57.6" r="0.60" fill="#8c7078" opacity="0.47"/>
<circle cx="166.7" cy="39.0" r="0.83" fill="#8e8ca4" opacity="0.36"/>
<circle cx="140.0" cy="29.2" r="0.68" fill="#9a7f86" opacity="0.55"/>
<circle cx="149.9" cy="88.6" r="0.73" fill="#8c7078" opacity="0.44"/>
<circle cx="29.7" cy="57.9" r="0.69" fill="#a08478" opacity="0.37"/>
<circle cx="176.1" cy="146.4" r="0.75" fill="#8c7078" opacity="0.29"/>
<circle cx="67.9" cy="106.0" r="0.62" fill="#8e8ca4" opacity="0.36"/>
<circle cx="128.3" cy="112.4" r="0.67" fill="#8e8ca4" opacity="0.42"/>
<circle cx="45.5" cy="153.1" r="0.68" fill="#8c7078" opacity="0.53"/>
<circle cx="116.5" cy="51.9" r="0.51" fill="#8c7078" opacity="0.46"/>
<circle cx="86.9" cy="137.9" r="0.85" fill="#8e8ca4" opacity="0.38"/>
<circle cx="103.2" cy="147.1" r="0.52" fill="#8e8ca4" opacity="0.30"/>
<circle cx="95.0" cy="39.6" r="0.65" fill="#8e8ca4" opacity="0.27"/>
<circle cx="147.0" cy="102.3" r="0.90" fill="#9a7f86" opacity="0.43"/>
<circle cx="180.7" cy="58.9" r="0.83" fill="#9a7f86" opacity="0.42"/>
<circle cx="64.5" cy="80.1" r="0.70" fill="#9a7f86" opacity="0.49"/>
<circle cx="147.9" cy="32.9" r="0.76" fill="#a08478" opacity="0.33"/>
<circle cx="29.6" cy="143.6" r="0.86" fill="#9a7f86" opacity="0.39"/>
<circle cx="86.2" cy="53.2" r="0.87" fill="#8e8ca4" opacity="0.50"/>
<circle cx="159.1" cy="91.2" r="0.66" fill="#8c7078" opacity="0.53"/>
<circle cx="36.4" cy="88.7" r="0.63" fill="#9a7f86" opacity="0.27"/>
<circle cx="74.1" cy="143.0" r="0.75" fill="#9a7f86" opacity="0.26"/>
<circle cx="130.1" cy="107.7" r="0.51" fill="#a08478" opacity="0.52"/>
<circle cx="151.4" cy="41.2" r="0.75" fill="#8e8ca4" opacity="0.31"/>
<circle cx="33.2" cy="122.7" r="0.82" fill="#9a7f86" opacity="0.39"/>
<circle cx="138.5" cy="35.4" r="0.85" fill="#9a7f86" opacity="0.42"/>
<circle cx="46.7" cy="121.9" r="0.88" fill="#8c7078" opacity="0.39"/>
<circle cx="128.9" cy="35.0" r="0.52" fill="#a08478" opacity="0.53"/>
<circle cx="142.8" cy="107.9" r="0.52" fill="#8c7078" opacity="0.33"/>
<circle cx="118.9" cy="30.8" r="0.76" fill="#a08478" opacity="0.40"/>
<circle cx="164.6" cy="122.0" r="0.85" fill="#8c7078" opacity="0.27"/>
<circle cx="93.1" cy="101.4" r="0.58" fill="#9a7f86" opacity="0.50"/>
<circle cx="122.6" cy="135.3" r="0.77" fill="#8e8ca4" opacity="0.45"/>
<circle cx="74.5" cy="64.4" r="0.80" fill="#a08478" opacity="0.28"/>
<circle cx="123.5" cy="146.8" r="0.58" fill="#a08478" opacity="0.28"/>
<circle cx="150.3" cy="108.9" r="0.76" fill="#9a7f86" opacity="0.50"/>
<circle cx="110.0" cy="95.0" r="0.77" fill="#9a7f86" opacity="0.55"/>
<circle cx="35.7" cy="44.6" r="0.68" fill="#8e8ca4" opacity="0.50"/>
<circle cx="145.2" cy="75.1" r="0.66" fill="#8c7078" opacity="0.25"/>
<circle cx="41.0" cy="58.3" r="0.71" fill="#9a7f86" opacity="0.53"/>
<circle cx="104.4" cy="41.3" r="0.62" fill="#8c7078" opacity="0.35"/>
<circle cx="30.5" cy="134.7" r="0.62" fill="#8e8ca4" opacity="0.45"/>
<circle cx="121.2" cy="108.2" r="0.63" fill="#a08478" opacity="0.28"/>
<circle cx="57.9" cy="98.7" r="0.51" fill="#a08478" opacity="0.41"/>
<circle cx="142.2" cy="53.3" r="0.59" fill="#a08478" opacity="0.46"/>
<circle cx="157.4" cy="93.0" r="0.60" fill="#9a7f86" opacity="0.36"/>
<circle cx="167.6" cy="113.2" r="0.63" fill="#8e8ca4" opacity="0.36"/>
<circle cx="161.3" cy="108.5" r="0.84" fill="#8e8ca4" opacity="0.36"/>
<circle cx="102.5" cy="31.0" r="0.71" fill="#9a7f86" opacity="0.45"/>
<circle cx="170.6" cy="110.4" r="0.55" fill="#a08478" opacity="0.52"/>
<circle cx="63.2" cy="122.3" r="0.71" fill="#8e8ca4" opacity="0.43"/>
<circle cx="151.2" cy="98.2" r="0.66" fill="#8e8ca4" opacity="0.27"/>
<circle cx="50.0" cy="69.1" r="0.56" fill="#9a7f86" opacity="0.55"/>
<circle cx="53.1" cy="118.1" r="0.53" fill="#9a7f86" opacity="0.45"/>
<circle cx="108.5" cy="73.9" r="0.53" fill="#8e8ca4" opacity="0.49"/>
<circle cx="180.4" cy="128.2" r="0.65" fill="#a08478" opacity="0.44"/>
<circle cx="134.3" cy="135.0" r="0.83" fill="#a08478" opacity="0.35"/>
<circle cx="151.4" cy="108.1" r="0.82" fill="#a08478" opacity="0.46"/>
<circle cx="94.0" cy="133.4" r="0.56" fill="#8e8ca4" opacity="0.30"/>
<circle cx="77.6" cy="115.5" r="0.75" fill="#8c7078" opacity="0.36"/>
<circle cx="56.8" cy="107.9" r="0.79" fill="#8c7078" opacity="0.53"/>
<circle cx="63.8" cy="39.1" r="0.74" fill="#9a7f86" opacity="0.53"/>
<circle cx="139.0" cy="45.1" r="0.90" fill="#a08478" opacity="0.51"/>
<circle cx="32.7" cy="47.2" r="0.86" fill="#8e8ca4" opacity="0.31"/>
<circle cx="183.0" cy="157.4" r="0.65" fill="#8e8ca4" opacity="0.29"/>
<circle cx="34.9" cy="69.0" r="0.81" fill="#8c7078" opacity="0.35"/>
<circle cx="101.9" cy="39.5" r="0.69" fill="#9a7f86" opacity="0.28"/>
<circle cx="123.8" cy="102.6" r="0.61" fill="#a08478" opacity="0.28"/>
<circle cx="131.6" cy="62.2" r="0.75" fill="#9a7f86" opacity="0.45"/>
<circle cx="88.2" cy="126.1" r="0.51" fill="#8e8ca4" opacity="0.37"/>
<circle cx="173.2" cy="152.1" r="0.74" fill="#a08478" opacity="0.53"/>
<circle cx="121.4" cy="55.8" r="0.59" fill="#8e8ca4" opacity="0.36"/>
<circle cx="33.7" cy="130.4" r="0.62" fill="#9a7f86" opacity="0.33"/>
<circle cx="145.0" cy="134.5" r="0.60" fill="#8c7078" opacity="0.26"/>
<circle cx="120.3" cy="29.3" r="0.81" fill="#a08478" opacity="0.29"/>
<circle cx="96.0" cy="100.5" r="0.77" fill="#9a7f86" opacity="0.38"/>
<circle cx="89.7" cy="152.6" r="0.74" fill="#9a7f86" opacity="0.48"/>
<circle cx="30.2" cy="36.2" r="0.66" fill="#9a7f86" opacity="0.26"/>
<circle cx="67.3" cy="115.3" r="0.53" fill="#8c7078" opacity="0.39"/>
<circle cx="76.0" cy="116.3" r="0.75" fill="#9a7f86" opacity="0.49"/>
<circle cx="85.6" cy="136.6" r="0.73" fill="#9a7f86" opacity="0.54"/>
<circle cx="92.6" cy="33.4" r="0.63" fill="#a08478" opacity="0.41"/>
<circle cx="45.4" cy="106.1" r="0.59" fill="#8c7078" opacity="0.36"/>
<circle cx="77.7" cy="118.1" r="0.52" fill="#8c7078" opacity="0.29"/>
<circle cx="155.5" cy="145.7" r="0.57" fill="#9a7f86" opacity="0.46"/>
<circle cx="40.1" cy="118.7" r="0.82" fill="#9a7f86" opacity="0.49"/>
<circle cx="78.0" cy="33.9" r="0.88" fill="#9a7f86" opacity="0.52"/>
<circle cx="128.5" cy="110.6" r="0.64" fill="#a08478" opacity="0.35"/>
<circle cx="120.6" cy="100.2" r="0.54" fill="#8c7078" opacity="0.45"/>
<circle cx="94.3" cy="55.5" r="0.70" fill="#a08478" opacity="0.48"/>
<circle cx="110.3" cy="140.7" r="0.62" fill="#a08478" opacity="0.52"/>
<circle cx="169.1" cy="154.6" r="0.62" fill="#9a7f86" opacity="0.29"/>
<circle cx="77.8" cy="153.8" r="0.60" fill="#8c7078" opacity="0.54"/>
<circle cx="85.6" cy="36.5" r="0.79" fill="#9a7f86" opacity="0.54"/>
<circle cx="74.3" cy="82.0" r="0.59" fill="#a08478" opacity="0.53"/>
<circle cx="127.5" cy="132.5" r="0.56" fill="#8e8ca4" opacity="0.42"/>
<circle cx="89.3" cy="158.8" r="0.83" fill="#8e8ca4" opacity="0.36"/>
<circle cx="131.2" cy="42.8" r="0.89" fill="#a08478" opacity="0.27"/>
<circle cx="30.1" cy="148.9" r="0.66" fill="#8e8ca4" opacity="0.44"/>
<circle cx="120.2" cy="62.7" r="0.68" fill="#8e8ca4" opacity="0.48"/>
<circle cx="140.1" cy="159.8" r="0.74" fill="#8c7078" opacity="0.48"/>
<circle cx="64.0" cy="33.6" r="0.78" fill="#8c7078" opacity="0.47"/>
<circle cx="152.1" cy="54.6" r="0.76" fill="#a08478" opacity="0.53"/>
<circle cx="114.4" cy="144.3" r="0.63" fill="#8c7078" opacity="0.38"/>
<circle cx="114.5" cy="58.5" r="0.53" fill="#a08478" opacity="0.52"/>
<circle cx="39.6" cy="147.5" r="0.83" fill="#9a7f86" opacity="0.38"/>
<circle cx="88.3" cy="127.8" r="0.60" fill="#8e8ca4" opacity="0.41"/>
<circle cx="71.4" cy="100.9" r="0.63" fill="#a08478" opacity="0.47"/>
<circle cx="67.5" cy="84.4" r="0.66" fill="#8c7078" opacity="0.33"/>
<circle cx="139.5" cy="149.2" r="0.72" fill="#a08478" opacity="0.38"/>
<circle cx="42.7" cy="156.9" r="0.51" fill="#8c7078" opacity="0.25"/>
<circle cx="112.3" cy="111.8" r="0.87" fill="#a08478" opacity="0.27"/>
<circle cx="173.2" cy="31.9" r="0.51" fill="#8e8ca4" opacity="0.51"/>
<circle cx="68.6" cy="91.7" r="0.66" fill="#9a7f86" opacity="0.34"/>
<circle cx="93.2" cy="105.4" r="0.70" fill="#9a7f86" opacity="0.28"/>
<circle cx="180.2" cy="85.0" r="0.57" fill="#a08478" opacity="0.27"/>
<circle cx="164.0" cy="71.8" r="0.55" fill="#8e8ca4" opacity="0.42"/>
<circle cx="71.8" cy="54.7" r="0.87" fill="#8c7078" opacity="0.39"/>
<circle cx="153.3" cy="117.9" r="0.89" fill="#a08478" opacity="0.39"/>
<circle cx="156.4" cy="37.8" r="0.74" fill="#9a7f86" opacity="0.41"/>
<circle cx="182.6" cy="73.3" r="0.68" fill="#8c7078" opacity="0.26"/>
<circle cx="99.9" cy="75.1" r="0.57" fill="#8e8ca4" opacity="0.36"/>
<circle cx="30.7" cy="34.4" r="0.51" fill="#a08478" opacity="0.32"/>
<circle cx="95.6" cy="151.8" r="0.78" fill="#9a7f86" opacity="0.29"/>
<circle cx="85.3" cy="42.0" r="0.87" fill="#a08478" opacity="0.51"/>
<circle cx="173.2" cy="138.7" r="0.78" fill="#a08478" opacity="0.29"/>
<circle cx="128.0" cy="75.4" r="0.79" fill="#a08478" opacity="0.34"/>
<circle cx="109.7" cy="97.0" r="0.50" fill="#9a7f86" opacity="0.40"/>
<circle cx="32.0" cy="101.1" r="0.51" fill="#9a7f86" opacity="0.32"/>
<circle cx="60.6" cy="94.2" r="0.86" fill="#8c7078" opacity="0.44"/>
<circle cx="165.6" cy="62.0" r="0.63" fill="#8c7078" opacity="0.29"/>
<circle cx="98.8" cy="39.1" r="0.56" fill="#9a7f86" opacity="0.52"/>
<circle cx="47.2" cy="43.1" r="0.71" fill="#a08478" opacity="0.38"/>
<circle cx="102.9" cy="118.1" r="0.66" fill="#9a7f86" opacity="0.42"/>
<circle cx="158.7" cy="149.5" r="0.56" fill="#9a7f86" opacity="0.35"/>
<circle cx="76.1" cy="152.1" r="0.68" fill="#8e8ca4" opacity="0.47"/>
<circle cx="170.2" cy="154.7" r="0.78" fill="#8e8ca4" opacity="0.45"/>
<circle cx="47.3" cy="146.2" r="0.88" fill="#9a7f86" opacity="0.51"/>
<circle cx="42.3" cy="81.5" r="0.85" fill="#9a7f86" opacity="0.51"/>
<circle cx="72.0" cy="87.2" r="0.69" fill="#9a7f86" opacity="0.44"/>
<circle cx="91.2" cy="91.2" r="0.67" fill="#9a7f86" opacity="0.30"/>
<circle cx="162.9" cy="33.0" r="0.67" fill="#9a7f86" opacity="0.27"/>
<circle cx="140.4" cy="92.8" r="0.77" fill="#9a7f86" opacity="0.27"/>
<circle cx="140.8" cy="64.0" r="0.73" fill="#8e8ca4" opacity="0.31"/>
<circle cx="34.4" cy="143.2" r="0.58" fill="#8c7078" opacity="0.51"/>
<circle cx="175.9" cy="106.3" r="0.52" fill="#8c7078" opacity="0.37"/>
<circle cx="172.9" cy="143.0" r="0.51" fill="#8e8ca4" opacity="0.36"/>
<circle cx="179.3" cy="61.4" r="0.76" fill="#a08478" opacity="0.29"/>
<circle cx="162.7" cy="126.7" r="0.88" fill="#a08478" opacity="0.26"/>
<circle cx="71.3" cy="112.3" r="0.86" fill="#8e8ca4" opacity="0.42"/>
<circle cx="34.0" cy="138.0" r="0.87" fill="#8c7078" opacity="0.54"/>
<circle cx="33.3" cy="28.3" r="0.89" fill="#a08478" opacity="0.27"/>
<circle cx="36.2" cy="101.0" r="0.88" fill="#8e8ca4" opacity="0.32"/>
<circle cx="58.8" cy="79.3" r="0.80" fill="#8e8ca4" opacity="0.38"/>
<circle cx="30.3" cy="81.8" r="0.64" fill="#9a7f86" opacity="0.37"/>
<circle cx="46.7" cy="36.4" r="0.88" fill="#9a7f86" opacity="0.27"/>
<circle cx="58.7" cy="78.8" r="0.68" fill="#9a7f86" opacity="0.47"/>
<circle cx="156.6" cy="89.7" r="0.53" fill="#8e8ca4" opacity="0.37"/>
<circle cx="117.1" cy="147.2" r="0.69" fill="#9a7f86" opacity="0.51"/>
<circle cx="127.6" cy="103.6" r="0.53" fill="#9a7f86" opacity="0.33"/>
<circle cx="103.8" cy="138.2" r="0.74" fill="#9a7f86" opacity="0.38"/>
<circle cx="157.5" cy="89.7" r="0.78" fill="#a08478" opacity="0.37"/>
<circle cx="109.0" cy="80.0" r="0.90" fill="#a08478" opacity="0.40"/>
<circle cx="60.8" cy="66.1" r="0.53" fill="#9a7f86" opacity="0.41"/>
<circle cx="172.2" cy="143.1" r="0.88" fill="#9a7f86" opacity="0.27"/>
<circle cx="182.8" cy="70.8" r="0.51" fill="#9a7f86" opacity="0.46"/>
<circle cx="171.3" cy="138.2" r="0.56" fill="#8e8ca4" opacity="0.32"/>
<circle cx="174.2" cy="144.5" r="0.59" fill="#9a7f86" opacity="0.55"/>
<circle cx="123.3" cy="79.5" r="0.54" fill="#9a7f86" opacity="0.44"/>
<circle cx="91.2" cy="91.0" r="0.80" fill="#9a7f86" opacity="0.48"/>
<circle cx="31.0" cy="136.9" r="0.62" fill="#8c7078" opacity="0.25"/>
<circle cx="47.1" cy="120.8" r="0.75" fill="#8c7078" opacity="0.30"/>
<circle cx="135.2" cy="29.2" r="0.70" fill="#8e8ca4" opacity="0.54"/>
<circle cx="115.3" cy="99.9" r="0.78" fill="#8c7078" opacity="0.36"/>
<circle cx="138.8" cy="62.9" r="0.54" fill="#9a7f86" opacity="0.38"/>
<circle cx="59.3" cy="160.0" r="0.64" fill="#8e8ca4" opacity="0.35"/>
<circle cx="106.8" cy="148.9" r="0.62" fill="#9a7f86" opacity="0.29"/>
<circle cx="42.1" cy="147.0" r="0.54" fill="#8e8ca4" opacity="0.42"/>
<circle cx="162.6" cy="55.8" r="0.53" fill="#8c7078" opacity="0.38"/>
<circle cx="41.1" cy="56.4" r="0.63" fill="#9a7f86" opacity="0.32"/>
<circle cx="38.0" cy="52.8" r="0.65" fill="#8c7078" opacity="0.26"/>
<circle cx="31.3" cy="71.2" r="0.69" fill="#8e8ca4" opacity="0.28"/>
<circle cx="51.0" cy="122.1" r="0.80" fill="#a08478" opacity="0.32"/>
<circle cx="81.9" cy="86.5" r="0.63" fill="#8e8ca4" opacity="0.39"/>
<circle cx="181.9" cy="84.7" r="0.65" fill="#9a7f86" opacity="0.46"/>
<circle cx="60.4" cy="42.7" r="0.54" fill="#8c7078" opacity="0.30"/>
<circle cx="174.7" cy="52.0" r="0.86" fill="#8e8ca4" opacity="0.55"/>
<circle cx="47.2" cy="106.4" r="0.76" fill="#8e8ca4" opacity="0.34"/>
<circle cx="49.5" cy="133.0" r="0.72" fill="#8e8ca4" opacity="0.54"/>
<circle cx="159.6" cy="64.9" r="0.67" fill="#9a7f86" opacity="0.36"/>
<circle cx="125.0" cy="61.2" r="0.75" fill="#8c7078" opacity="0.45"/>
<circle cx="121.6" cy="66.0" r="0.85" fill="#9a7f86" opacity="0.32"/>
<circle cx="80.8" cy="55.5" r="0.62" fill="#8c7078" opacity="0.43"/>
<circle cx="35.7" cy="94.6" r="0.54" fill="#a08478" opacity="0.31"/>
<circle cx="102.6" cy="109.7" r="0.59" fill="#8c7078" opacity="0.50"/>
<circle cx="173.1" cy="158.2" r="0.65" fill="#8c7078" opacity="0.46"/>
<circle cx="93.5" cy="51.7" r="0.77" fill="#8c7078" opacity="0.40"/>
<circle cx="179.7" cy="54.1" r="0.66" fill="#8e8ca4" opacity="0.36"/>
<circle cx="170.5" cy="37.7" r="0.68" fill="#a08478" opacity="0.41"/>
<circle cx="67.2" cy="154.8" r="0.59" fill="#a08478" opacity="0.29"/>
<circle cx="141.7" cy="34.2" r="0.52" fill="#8e8ca4" opacity="0.29"/>
<circle cx="73.0" cy="31.4" r="0.80" fill="#8e8ca4" opacity="0.54"/>
<circle cx="174.2" cy="108.1" r="0.65" fill="#a08478" opacity="0.51"/>
<circle cx="137.9" cy="97.3" r="0.63" fill="#8c7078" opacity="0.47"/>
<circle cx="140.8" cy="118.3" r="0.65" fill="#8e8ca4" opacity="0.50"/>
<circle cx="42.8" cy="37.0" r="0.62" fill="#8e8ca4" opacity="0.40"/>
<circle cx="56.0" cy="114.3" r="0.89" fill="#8c7078" opacity="0.41"/>
<circle cx="74.7" cy="77.1" r="0.83" fill="#8e8ca4" opacity="0.26"/>
<circle cx="153.1" cy="67.9" r="0.63" fill="#9a7f86" opacity="0.29"/>
<circle cx="131.9" cy="60.4" r="0.69" fill="#a08478" opacity="0.33"/>
<circle cx="119.8" cy="57.6" r="0.87" fill="#a08478" opacity="0.54"/>
<circle cx="147.6" cy="32.3" r="0.65" fill="#8e8ca4" opacity="0.41"/>
<circle cx="39.5" cy="60.4" r="0.75" fill="#9a7f86" opacity="0.39"/>
<circle cx="160.5" cy="46.6" r="0.83" fill="#a08478" opacity="0.36"/>
<circle cx="95.5" cy="84.4" r="0.84" fill="#a08478" opacity="0.42"/>
<circle cx="172.3" cy="149.2" r="0.77" fill="#a08478" opacity="0.48"/>
<circle cx="155.1" cy="162.2" r="0.64" fill="#8c7078" opacity="0.26"/>
<circle cx="87.9" cy="152.4" r="0.76" fill="#8e8ca4" opacity="0.35"/>
<circle cx="161.9" cy="140.7" r="0.81" fill="#8e8ca4" opacity="0.47"/>
<circle cx="42.9" cy="127.6" r="0.87" fill="#8c7078" opacity="0.27"/>
<circle cx="72.2" cy="117.8" r="0.68" fill="#a08478" opacity="0.33"/>
<circle cx="45.1" cy="48.0" r="0.54" fill="#8e8ca4" opacity="0.49"/>
<circle cx="97.4" cy="87.9" r="0.60" fill="#a08478" opacity="0.34"/>
<circle cx="121.0" cy="124.0" r="0.55" fill="#8e8ca4" opacity="0.37"/>
<circle cx="87.5" cy="162.0" r="0.81" fill="#8e8ca4" opacity="0.26"/>
<circle cx="82.8" cy="43.1" r="0.57" fill="#8c7078" opacity="0.53"/>
<circle cx="81.5" cy="48.1" r="0.69" fill="#9a7f86" opacity="0.48"/>
<circle cx="160.9" cy="115.2" r="0.75" fill="#8c7078" opacity="0.38"/>
<circle cx="105.2" cy="74.4" r="0.72" fill="#8c7078" opacity="0.46"/>
<circle cx="155.0" cy="121.5" r="0.68" fill="#8e8ca4" opacity="0.46"/>
<circle cx="165.2" cy="93.3" r="0.52" fill="#a08478" opacity="0.53"/>
<circle cx="152.8" cy="160.2" r="0.67" fill="#a08478" opacity="0.34"/>
<circle cx="110.7" cy="134.6" r="0.79" fill="#8c7078" opacity="0.42"/>
<circle cx="35.9" cy="133.0" r="0.66" fill="#a08478" opacity="0.30"/>
<circle cx="134.3" cy="119.9" r="0.62" fill="#a08478" opacity="0.48"/>
<circle cx="134.2" cy="122.2" r="0.51" fill="#8c7078" opacity="0.51"/>
<circle cx="34.9" cy="60.2" r="0.57" fill="#a08478" opacity="0.28"/>
<circle cx="112.9" cy="102.0" r="0.82" fill="#a08478" opacity="0.52"/>
<circle cx="31.8" cy="142.3" r="0.72" fill="#9a7f86" opacity="0.39"/>
<circle cx="72.3" cy="72.4" r="0.71" fill="#a08478" opacity="0.37"/>
<circle cx="181.4" cy="81.8" r="0.70" fill="#8e8ca4" opacity="0.35"/>
<circle cx="159.2" cy="152.2" r="0.58" fill="#8c7078" opacity="0.47"/>
<circle cx="90.2" cy="135.5" r="0.79" fill="#8c7078" opacity="0.30"/>
<circle cx="101.9" cy="54.5" r="0.81" fill="#9a7f86" opacity="0.37"/>
<circle cx="149.9" cy="100.7" r="0.60" fill="#a08478" opacity="0.48"/>
<circle cx="128.8" cy="162.1" r="0.77" fill="#a08478" opacity="0.32"/>
<circle cx="148.0" cy="98.4" r="0.57" fill="#9a7f86" opacity="0.47"/>
<circle cx="73.4" cy="64.4" r="0.53" fill="#a08478" opacity="0.32"/>
<circle cx="79.1" cy="55.4" r="0.58" fill="#8e8ca4" opacity="0.51"/>
<circle cx="109.0" cy="113.3" r="0.78" fill="#9a7f86" opacity="0.26"/>
<circle cx="148.3" cy="60.4" r="0.72" fill="#a08478" opacity="0.38"/>
<circle cx="106.5" cy="140.5" r="0.86" fill="#8c7078" opacity="0.52"/>
<circle cx="121.4" cy="121.8" r="0.55" fill="#8c7078" opacity="0.39"/>
<circle cx="54.5" cy="87.5" r="0.61" fill="#9a7f86" opacity="0.28"/>
<circle cx="126.5" cy="36.6" r="0.65" fill="#9a7f86" opacity="0.44"/>
<circle cx="65.3" cy="113.2" r="0.64" fill="#8c7078" opacity="0.47"/>
<circle cx="76.6" cy="137.6" r="0.88" fill="#8c7078" opacity="0.37"/>
<circle cx="177.7" cy="160.2" r="0.74" fill="#8c7078" opacity="0.29"/>
<circle cx="54.4" cy="83.9" r="0.65" fill="#8c7078" opacity="0.54"/>
<circle cx="132.5" cy="114.8" r="0.73" fill="#9a7f86" opacity="0.47"/>
<circle cx="101.4" cy="134.9" r="0.52" fill="#8c7078" opacity="0.29"/>
<circle cx="67.0" cy="79.4" r="0.80" fill="#a08478" opacity="0.38"/>
<circle cx="49.6" cy="141.3" r="0.59" fill="#9a7f86" opacity="0.49"/>
<circle cx="131.9" cy="95.4" r="0.64" fill="#8c7078" opacity="0.40"/>
<circle cx="64.0" cy="73.0" r="0.89" fill="#8c7078" opacity="0.48"/>
<circle cx="116.3" cy="108.4" r="0.57" fill="#9a7f86" opacity="0.32"/>
<circle cx="85.2" cy="110.3" r="0.74" fill="#9a7f86" opacity="0.54"/>
<circle cx="111.0" cy="46.3" r="0.90" fill="#8c7078" opacity="0.47"/>
<circle cx="64.9" cy="57.6" r="0.53" fill="#9a7f86" opacity="0.27"/>
<circle cx="43.3" cy="76.6" r="0.88" fill="#8c7078" opacity="0.33"/>
<circle cx="182.3" cy="49.2" r="0.82" fill="#9a7f86" opacity="0.34"/>
<circle cx="147.4" cy="87.3" r="0.61" fill="#a08478" opacity="0.26"/>
<circle cx="116.9" cy="69.7" r="0.64" fill="#9a7f86" opacity="0.53"/>
<circle cx="140.6" cy="109.8" r="0.71" fill="#8c7078" opacity="0.35"/>
<circle cx="76.2" cy="86.1" r="0.79" fill="#8c7078" opacity="0.49"/>
<circle cx="41.5" cy="42.8" r="0.87" fill="#8e8ca4" opacity="0.53"/>
<circle cx="143.9" cy="38.7" r="0.50" fill="#8c7078" opacity="0.30"/>
<circle cx="105.1" cy="118.0" r="0.54" fill="#8e8ca4" opacity="0.32"/>
<circle cx="148.6" cy="67.1" r="0.75" fill="#a08478" opacity="0.50"/>
<circle cx="172.6" cy="60.6" r="0.69" fill="#9a7f86" opacity="0.53"/>
<circle cx="68.9" cy="56.3" r="0.53" fill="#a08478" opacity="0.32"/>
<circle cx="161.9" cy="41.6" r="0.65" fill="#9a7f86" opacity="0.33"/>
<circle cx="141.8" cy="70.1" r="0.72" fill="#9a7f86" opacity="0.51"/>
<circle cx="33.9" cy="123.1" r="0.70" fill="#9a7f86" opacity="0.41"/>
<circle cx="74.5" cy="53.1" r="0.83" fill="#9a7f86" opacity="0.40"/>
<circle cx="30.8" cy="30.7" r="0.51" fill="#8e8ca4" opacity="0.44"/>
<circle cx="49.1" cy="132.3" r="0.59" fill="#8c7078" opacity="0.39"/>
<circle cx="61.4" cy="46.7" r="0.84" fill="#a08478" opacity="0.34"/>
<circle cx="178.6" cy="67.3" r="0.76" fill="#8c7078" opacity="0.38"/>
<circle cx="141.1" cy="55.2" r="0.86" fill="#9a7f86" opacity="0.48"/>
<circle cx="143.7" cy="160.9" r="0.68" fill="#8c7078" opacity="0.35"/>
<circle cx="70.9" cy="71.2" r="0.56" fill="#9a7f86" opacity="0.36"/>
<circle cx="170.1" cy="124.3" r="0.74" fill="#8c7078" opacity="0.47"/>
<circle cx="81.3" cy="63.7" r="0.73" fill="#8c7078" opacity="0.44"/>
<circle cx="79.1" cy="130.8" r="0.77" fill="#a08478" opacity="0.29"/>
<circle cx="156.5" cy="92.8" r="0.59" fill="#a08478" opacity="0.49"/>
<circle cx="130.4" cy="81.0" r="0.63" fill="#a08478" opacity="0.49"/>
<circle cx="125.8" cy="102.3" r="0.76" fill="#8e8ca4" opacity="0.53"/>
<circle cx="98.9" cy="41.6" r="0.54" fill="#8c7078" opacity="0.51"/>
<circle cx="133.4" cy="32.2" r="0.74" fill="#a08478" opacity="0.29"/>
<circle cx="165.2" cy="133.5" r="0.53" fill="#9a7f86" opacity="0.34"/>
<circle cx="96.7" cy="53.9" r="0.72" fill="#a08478" opacity="0.48"/>
<circle cx="151.5" cy="125.8" r="0.58" fill="#a08478" opacity="0.53"/>
<circle cx="49.7" cy="36.2" r="0.59" fill="#8c7078" opacity="0.51"/>
<circle cx="171.8" cy="135.8" r="0.55" fill="#9a7f86" opacity="0.52"/>
<circle cx="79.4" cy="156.8" r="0.74" fill="#8e8ca4" opacity="0.40"/>
<circle cx="128.8" cy="137.0" r="0.67" fill="#9a7f86" opacity="0.34"/>
<circle cx="72.6" cy="148.4" r="0.82" fill="#8c7078" opacity="0.53"/>
<circle cx="95.3" cy="51.1" r="0.66" fill="#9a7f86" opacity="0.43"/>
<circle cx="108.5" cy="124.0" r="0.70" fill="#a08478" opacity="0.44"/>
<circle cx="55.9" cy="77.5" r="0.76" fill="#8e8ca4" opacity="0.26"/>
<circle cx="138.8" cy="135.4" r="0.61" fill="#8e8ca4" opacity="0.27"/>
<circle cx="116.7" cy="48.4" r="0.63" fill="#8c7078" opacity="0.36"/>
<circle cx="180.8" cy="37.5" r="0.81" fill="#8c7078" opacity="0.51"/>
<circle cx="125.6" cy="32.1" r="0.77" fill="#a08478" opacity="0.27"/>
<circle cx="32.2" cy="100.8" r="0.70" fill="#9a7f86" opacity="0.45"/>
<circle cx="150.5" cy="92.7" r="0.51" fill="#9a7f86" opacity="0.50"/>
<circle cx="63.7" cy="96.0" r="0.52" fill="#8c7078" opacity="0.41"/>
<circle cx="152.4" cy="59.7" r="0.79" fill="#9a7f86" opacity="0.42"/>
<circle cx="83.7" cy="96.6" r="0.63" fill="#8e8ca4" opacity="0.40"/>
<circle cx="96.6" cy="159.4" r="0.56" fill="#9a7f86" opacity="0.30"/>
<circle cx="74.3" cy="103.4" r="0.80" fill="#8c7078" opacity="0.32"/>
<circle cx="182.0" cy="139.8" r="0.53" fill="#8e8ca4" opacity="0.36"/>
<circle cx="143.9" cy="140.1" r="0.67" fill="#8e8ca4" opacity="0.44"/>
<circle cx="119.4" cy="107.6" r="0.58" fill="#a08478" opacity="0.46"/>
<circle cx="37.8" cy="115.1" r="0.67" fill="#9a7f86" opacity="0.26"/>
<circle cx="64.7" cy="123.2" r="0.56" fill="#a08478" opacity="0.49"/>
<circle cx="88.5" cy="132.8" r="0.60" fill="#8c7078" opacity="0.41"/>
<circle cx="128.2" cy="125.4" r="0.55" fill="#a08478" opacity="0.29"/>
<circle cx="62.8" cy="79.5" r="0.51" fill="#a08478" opacity="0.44"/>
<circle cx="135.7" cy="140.3" r="0.72" fill="#8c7078" opacity="0.37"/>
<circle cx="105.3" cy="56.7" r="0.88" fill="#9a7f86" opacity="0.26"/>
<circle cx="166.5" cy="162.4" r="0.54" fill="#9a7f86" opacity="0.46"/>
<circle cx="128.3" cy="74.0" r="0.65" fill="#8c7078" opacity="0.27"/>
<circle cx="159.6" cy="115.6" r="0.65" fill="#8e8ca4" opacity="0.39"/>
<circle cx="83.3" cy="114.7" r="0.75" fill="#8e8ca4" opacity="0.27"/>
<circle cx="70.3" cy="62.2" r="0.71" fill="#a08478" opacity="0.32"/>
<circle cx="118.9" cy="132.5" r="0.60" fill="#8e8ca4" opacity="0.53"/>
<circle cx="56.0" cy="121.8" r="0.66" fill="#8e8ca4" opacity="0.35"/>
<circle cx="101.1" cy="45.0" r="0.57" fill="#8c7078" opacity="0.40"/>
<circle cx="30.9" cy="86.2" r="0.70" fill="#9a7f86" opacity="0.37"/>
<circle cx="83.8" cy="62.7" r="0.81" fill="#a08478" opacity="0.51"/>
<circle cx="69.0" cy="75.8" r="0.78" fill="#a08478" opacity="0.49"/>
<circle cx="177.7" cy="29.8" r="0.52" fill="#8e8ca4" opacity="0.28"/>
<circle cx="175.4" cy="124.2" r="0.85" fill="#9a7f86" opacity="0.43"/>
<circle cx="110.0" cy="41.2" r="0.68" fill="#8e8ca4" opacity="0.26"/>
<circle cx="32.1" cy="107.7" r="0.65" fill="#8e8ca4" opacity="0.36"/>
<circle cx="110.5" cy="83.9" r="0.86" fill="#8c7078" opacity="0.55"/>
<circle cx="44.8" cy="155.2" r="0.75" fill="#a08478" opacity="0.53"/>
<circle cx="69.3" cy="36.8" r="0.89" fill="#a08478" opacity="0.30"/>
<circle cx="41.5" cy="80.5" r="0.68" fill="#8e8ca4" opacity="0.53"/>
<circle cx="73.1" cy="153.4" r="0.59" fill="#8c7078" opacity="0.45"/>
<circle cx="166.4" cy="76.0" r="0.84" fill="#9a7f86" opacity="0.52"/>
<circle cx="87.7" cy="94.9" r="0.79" fill="#a08478" opacity="0.53"/>
<circle cx="58.3" cy="112.4" r="0.64" fill="#9a7f86" opacity="0.29"/>
<circle cx="132.9" cy="120.0" r="0.65" fill="#8c7078" opacity="0.40"/>
<circle cx="98.4" cy="143.0" r="0.90" fill="#a08478" opacity="0.41"/>
<circle cx="174.7" cy="152.4" r="0.67" fill="#9a7f86" opacity="0.38"/>
<circle cx="56.8" cy="76.3" r="0.78" fill="#a08478" opacity="0.43"/>
<circle cx="64.3" cy="27.6" r="0.74" fill="#a08478" opacity="0.48"/>
<circle cx="172.8" cy="127.8" r="0.83" fill="#a08478" opacity="0.53"/>
<circle cx="170.6" cy="146.3" r="0.80" fill="#a08478" opacity="0.51"/>
<circle cx="134.2" cy="52.5" r="0.63" fill="#8e8ca4" opacity="0.27"/>
<circle cx="51.6" cy="146.7" r="0.62" fill="#8e8ca4" opacity="0.54"/>
<circle cx="62.9" cy="69.3" r="0.58" fill="#a08478" opacity="0.40"/>
<circle cx="102.4" cy="93.3" r="0.57" fill="#a08478" opacity="0.49"/>
<circle cx="78.8" cy="81.4" r="0.80" fill="#8e8ca4" opacity="0.47"/>
<circle cx="151.1" cy="84.6" r="0.63" fill="#a08478" opacity="0.44"/>
<circle cx="142.1" cy="116.5" r="0.69" fill="#9a7f86" opacity="0.53"/>
<circle cx="138.1" cy="152.0" r="0.71" fill="#8e8ca4" opacity="0.47"/>
<circle cx="85.0" cy="147.6" r="0.78" fill="#9a7f86" opacity="0.32"/>
<circle cx="159.6" cy="38.4" r="0.89" fill="#8e8ca4" opacity="0.41"/>
<circle cx="123.6" cy="98.9" r="0.72" fill="#8e8ca4" opacity="0.49"/>
<circle cx="130.3" cy="158.7" r="0.79" fill="#8e8ca4" opacity="0.40"/>
<circle cx="129.1" cy="136.7" r="0.70" fill="#a08478" opacity="0.54"/>
<circle cx="39.1" cy="142.5" r="0.73" fill="#9a7f86" opacity="0.40"/>
<circle cx="158.9" cy="145.1" r="0.64" fill="#8e8ca4" opacity="0.34"/>
<circle cx="174.7" cy="72.8" r="0.63" fill="#8e8ca4" opacity="0.44"/>
<circle cx="118.8" cy="61.7" r="0.89" fill="#8c7078" opacity="0.49"/>
<circle cx="45.5" cy="109.7" r="0.80" fill="#9a7f86" opacity="0.35"/>
<circle cx="36.0" cy="49.0" r="0.64" fill="#a08478" opacity="0.36"/>
<circle cx="175.3" cy="89.6" r="0.72" fill="#8c7078" opacity="0.26"/>
<circle cx="131.3" cy="75.3" r="0.72" fill="#9a7f86" opacity="0.33"/>
<circle cx="94.3" cy="43.9" r="0.56" fill="#a08478" opacity="0.34"/>
<circle cx="127.0" cy="68.3" r="0.61" fill="#a08478" opacity="0.45"/>
<circle cx="76.5" cy="94.6" r="0.64" fill="#a08478" opacity="0.31"/>
<circle cx="91.3" cy="148.7" r="0.89" fill="#8c7078" opacity="0.31"/>
<circle cx="132.5" cy="77.2" r="0.57" fill="#9a7f86" opacity="0.49"/>
<circle cx="162.2" cy="137.5" r="0.72" fill="#a08478" opacity="0.42"/>
<circle cx="157.6" cy="94.5" r="0.68" fill="#8e8ca4" opacity="0.46"/>
<circle cx="95.2" cy="158.8" r="0.71" fill="#8e8ca4" opacity="0.34"/>
<circle cx="119.2" cy="33.9" r="0.68" fill="#9a7f86" opacity="0.39"/>
<circle cx="118.9" cy="78.7" r="0.59" fill="#a08478" opacity="0.40"/>
<circle cx="135.3" cy="128.3" r="0.74" fill="#a08478" opacity="0.33"/>
<circle cx="123.4" cy="43.2" r="0.55" fill="#8c7078" opacity="0.31"/>
<circle cx="74.6" cy="63.6" r="0.81" fill="#9a7f86" opacity="0.45"/>
<circle cx="68.6" cy="39.6" r="0.64" fill="#8c7078" opacity="0.49"/>
<circle cx="97.7" cy="121.8" r="0.67" fill="#8e8ca4" opacity="0.36"/>
<circle cx="136.9" cy="37.6" r="0.50" fill="#8e8ca4" opacity="0.54"/>
<circle cx="92.3" cy="135.2" r="0.71" fill="#9a7f86" opacity="0.35"/>
<circle cx="150.8" cy="100.2" r="0.54" fill="#9a7f86" opacity="0.52"/>
<circle cx="37.0" cy="138.2" r="0.59" fill="#8c7078" opacity="0.49"/>
<circle cx="145.9" cy="61.1" r="0.67" fill="#8e8ca4" opacity="0.51"/>
<circle cx="64.4" cy="77.9" r="0.66" fill="#9a7f86" opacity="0.34"/>
<circle cx="117.2" cy="126.2" r="0.69" fill="#8e8ca4" opacity="0.28"/>
<circle cx="170.2" cy="113.2" r="0.85" fill="#a08478" opacity="0.43"/>
<circle cx="83.6" cy="87.7" r="0.74" fill="#8e8ca4" opacity="0.50"/>
<circle cx="177.3" cy="27.6" r="0.53" fill="#a08478" opacity="0.40"/>
<circle cx="103.1" cy="76.3" r="0.70" fill="#8c7078" opacity="0.28"/>
<circle cx="108.9" cy="148.8" r="0.52" fill="#8c7078" opacity="0.50"/>
<circle cx="165.8" cy="115.2" r="0.70" fill="#8c7078" opacity="0.54"/>
<circle cx="68.8" cy="73.9" r="0.52" fill="#a08478" opacity="0.49"/>
<circle cx="145.9" cy="132.5" r="0.61" fill="#8e8ca4" opacity="0.52"/>
<circle cx="30.9" cy="58.5" r="0.68" fill="#9a7f86" opacity="0.27"/>
<circle cx="88.3" cy="65.4" r="0.60" fill="#8c7078" opacity="0.44"/>
<circle cx="132.8" cy="83.8" r="0.60" fill="#8c7078" opacity="0.30"/>
<circle cx="135.0" cy="48.2" r="0.57" fill="#8e8ca4" opacity="0.54"/>
<circle cx="53.1" cy="31.8" r="0.88" fill="#8c7078" opacity="0.39"/>
<circle cx="54.6" cy="70.1" r="0.82" fill="#a08478" opacity="0.29"/>
<circle cx="110.4" cy="151.6" r="0.87" fill="#a08478" opacity="0.36"/>
<circle cx="87.0" cy="148.8" r="0.67" fill="#a08478" opacity="0.50"/>
<circle cx="120.2" cy="118.7" r="0.58" fill="#a08478" opacity="0.37"/>
<circle cx="51.4" cy="148.8" r="0.76" fill="#9a7f86" opacity="0.35"/>
<circle cx="138.2" cy="64.0" r="0.75" fill="#8c7078" opacity="0.48"/>
<circle cx="66.4" cy="129.3" r="0.72" fill="#8c7078" opacity="0.25"/>
<circle cx="172.6" cy="59.5" r="0.69" fill="#8e8ca4" opacity="0.32"/>
<circle cx="138.3" cy="45.8" r="0.84" fill="#8e8ca4" opacity="0.46"/>
<circle cx="82.4" cy="34.9" r="0.59" fill="#8e8ca4" opacity="0.46"/>
<circle cx="129.3" cy="143.7" r="0.83" fill="#8c7078" opacity="0.34"/>
<circle cx="177.9" cy="52.0" r="0.83" fill="#9a7f86" opacity="0.39"/>
<circle cx="113.5" cy="43.4" r="0.55" fill="#9a7f86" opacity="0.35"/>
<circle cx="69.7" cy="102.1" r="0.51" fill="#8c7078" opacity="0.41"/>
<circle cx="169.5" cy="136.5" r="0.80" fill="#9a7f86" opacity="0.52"/>
<circle cx="96.5" cy="78.1" r="0.62" fill="#a08478" opacity="0.32"/>
<circle cx="169.7" cy="114.4" r="0.78" fill="#8e8ca4" opacity="0.37"/>
<circle cx="95.1" cy="41.0" r="0.85" fill="#a08478" opacity="0.26"/>
<circle cx="41.4" cy="42.4" r="0.63" fill="#9a7f86" opacity="0.35"/>
<circle cx="62.2" cy="61.3" r="0.67" fill="#9a7f86" opacity="0.48"/>
<circle cx="87.2" cy="84.9" r="0.74" fill="#8e8ca4" opacity="0.30"/>
<circle cx="133.6" cy="27.6" r="0.80" fill="#8c7078" opacity="0.31"/>
<circle cx="94.8" cy="150.3" r="0.81" fill="#a08478" opacity="0.42"/>
<circle cx="58.9" cy="115.5" r="0.53" fill="#9a7f86" opacity="0.49"/>
<circle cx="28.7" cy="95.4" r="0.77" fill="#8c7078" opacity="0.30"/>
<circle cx="102.5" cy="104.4" r="0.67" fill="#9a7f86" opacity="0.51"/>
<circle cx="35.7" cy="66.4" r="0.67" fill="#8c7078" opacity="0.26"/>
<circle cx="76.6" cy="152.6" r="0.70" fill="#a08478" opacity="0.42"/>
<circle cx="92.8" cy="103.9" r="0.64" fill="#a08478" opacity="0.37"/>
<circle cx="163.0" cy="124.0" r="0.75" fill="#9a7f86" opacity="0.39"/>
<circle cx="109.0" cy="31.1" r="0.60" fill="#8c7078" opacity="0.54"/>
<circle cx="156.1" cy="33.8" r="0.58" fill="#8c7078" opacity="0.42"/>
<circle cx="101.7" cy="57.6" r="0.88" fill="#8e8ca4" opacity="0.35"/>
<circle cx="148.4" cy="111.7" r="0.51" fill="#8e8ca4" opacity="0.34"/>
<circle cx="94.8" cy="33.7" r="0.77" fill="#8c7078" opacity="0.38"/>
<circle cx="154.2" cy="106.1" r="0.66" fill="#a08478" opacity="0.33"/>
<circle cx="99.1" cy="65.0" r="0.68" fill="#8e8ca4" opacity="0.29"/>
<circle cx="143.2" cy="49.7" r="0.87" fill="#9a7f86" opacity="0.41"/>
<circle cx="143.9" cy="134.4" r="0.71" fill="#8e8ca4" opacity="0.34"/>
<circle cx="30.4" cy="49.2" r="0.82" fill="#8c7078" opacity="0.46"/>
<circle cx="80.8" cy="64.7" r="0.86" fill="#a08478" opacity="0.31"/>
<circle cx="71.0" cy="80.3" r="0.58" fill="#8e8ca4" opacity="0.30"/>
<circle cx="110.6" cy="34.9" r="0.53" fill="#8e8ca4" opacity="0.52"/>
<circle cx="83.6" cy="138.4" r="0.84" fill="#8e8ca4" opacity="0.26"/>
<circle cx="46.2" cy="52.2" r="0.81" fill="#8e8ca4" opacity="0.50"/>
<circle cx="176.5" cy="149.6" r="0.75" fill="#9a7f86" opacity="0.50"/>
<circle cx="95.3" cy="109.6" r="0.51" fill="#a08478" opacity="0.38"/>
<circle cx="176.1" cy="141.6" r="0.78" fill="#9a7f86" opacity="0.39"/>
<circle cx="77.2" cy="56.1" r="0.52" fill="#8e8ca4" opacity="0.55"/>
<circle cx="128.2" cy="98.2" r="0.74" fill="#a08478" opacity="0.37"/>
<circle cx="105.4" cy="93.1" r="0.86" fill="#9a7f86" opacity="0.43"/>
<circle cx="145.7" cy="68.3" r="0.55" fill="#9a7f86" opacity="0.51"/>
<circle cx="111.1" cy="150.2" r="0.59" fill="#8e8ca4" opacity="0.29"/>
<circle cx="147.7" cy="105.0" r="0.57" fill="#9a7f86" opacity="0.25"/>
<circle cx="177.0" cy="133.4" r="0.87" fill="#9a7f86" opacity="0.53"/>
<circle cx="53.2" cy="74.3" r="0.76" fill="#8c7078" opacity="0.30"/>
<circle cx="70.5" cy="131.8" r="0.51" fill="#8e8ca4" opacity="0.46"/>
<circle cx="89.9" cy="124.5" r="0.65" fill="#8c7078" opacity="0.45"/>
<circle cx="154.0" cy="139.8" r="0.79" fill="#8c7078" opacity="0.32"/>
<circle cx="76.1" cy="61.5" r="0.55" fill="#a08478" opacity="0.45"/>
<circle cx="91.5" cy="136.8" r="0.86" fill="#a08478" opacity="0.53"/>
<circle cx="48.1" cy="42.4" r="0.51" fill="#8e8ca4" opacity="0.30"/>
<circle cx="66.4" cy="86.1" r="0.59" fill="#8c7078" opacity="0.37"/>
<circle cx="147.0" cy="102.6" r="0.72" fill="#8c7078" opacity="0.36"/>
<circle cx="141.4" cy="127.8" r="0.62" fill="#8c7078" opacity="0.35"/>
<circle cx="162.1" cy="38.7" r="0.70" fill="#8c7078" opacity="0.53"/>
<circle cx="75.0" cy="120.5" r="0.83" fill="#a08478" opacity="0.25"/>
<circle cx="56.5" cy="51.6" r="0.81" fill="#a08478" opacity="0.36"/>
<circle cx="176.4" cy="156.5" r="0.63" fill="#9a7f86" opacity="0.34"/>
<circle cx="136.5" cy="106.7" r="0.86" fill="#9a7f86" opacity="0.39"/>
<circle cx="115.7" cy="94.3" r="0.87" fill="#8c7078" opacity="0.33"/>
<circle cx="152.1" cy="156.4" r="0.60" fill="#8e8ca4" opacity="0.46"/>
<circle cx="125.1" cy="128.3" r="0.90" fill="#9a7f86" opacity="0.28"/>
<circle cx="64.0" cy="92.9" r="0.70" fill="#8e8ca4" opacity="0.36"/>
<circle cx="103.3" cy="95.2" r="0.68" fill="#8c7078" opacity="0.50"/>
<circle cx="44.6" cy="73.1" r="0.67" fill="#8c7078" opacity="0.41"/>
<circle cx="152.0" cy="49.4" r="0.61" fill="#8e8ca4" opacity="0.37"/>
<circle cx="54.1" cy="45.7" r="0.89" fill="#a08478" opacity="0.55"/>
<circle cx="67.3" cy="54.3" r="0.52" fill="#8c7078" opacity="0.52"/>
<circle cx="179.9" cy="110.4" r="0.80" fill="#9a7f86" opacity="0.30"/>
<circle cx="64.8" cy="110.3" r="0.61" fill="#9a7f86" opacity="0.35"/>
<circle cx="157.9" cy="102.9" r="0.62" fill="#8c7078" opacity="0.27"/>
<circle cx="146.3" cy="125.8" r="0.88" fill="#a08478" opacity="0.37"/>
<circle cx="148.3" cy="108.3" r="0.73" fill="#8e8ca4" opacity="0.43"/>
<circle cx="100.2" cy="85.5" r="0.66" fill="#8e8ca4" opacity="0.43"/>
<circle cx="85.9" cy="118.7" r="0.66" fill="#8c7078" opacity="0.30"/>
<circle cx="137.4" cy="28.4" r="0.78" fill="#8c7078" opacity="0.43"/>
<circle cx="134.2" cy="119.2" r="0.85" fill="#8e8ca4" opacity="0.35"/>
<circle cx="108.3" cy="28.2" r="0.60" fill="#a08478" opacity="0.28"/>
<circle cx="141.9" cy="135.9" r="0.80" fill="#8e8ca4" opacity="0.26"/>
<circle cx="110.5" cy="112.2" r="0.84" fill="#8c7078" opacity="0.53"/>
<circle cx="113.8" cy="123.4" r="0.54" fill="#a08478" opacity="0.54"/>
<circle cx="97.7" cy="69.2" r="0.70" fill="#9a7f86" opacity="0.36"/>
<circle cx="106.6" cy="128.8" r="0.80" fill="#a08478" opacity="0.46"/>
<circle cx="67.3" cy="138.3" r="0.67" fill="#8e8ca4" opacity="0.49"/>
<circle cx="76.5" cy="107.4" r="0.72" fill="#a08478" opacity="0.40"/>
<circle cx="110.1" cy="42.5" r="0.82" fill="#a08478" opacity="0.45"/>
<circle cx="128.7" cy="67.1" r="0.70" fill="#a08478" opacity="0.41"/>
<circle cx="29.3" cy="107.3" r="0.82" fill="#9a7f86" opacity="0.33"/>
<circle cx="65.5" cy="56.2" r="0.63" fill="#8c7078" opacity="0.36"/>
<circle cx="68.9" cy="153.1" r="0.77" fill="#8c7078" opacity="0.47"/>
<circle cx="162.7" cy="140.5" r="0.51" fill="#8e8ca4" opacity="0.40"/>
<circle cx="157.0" cy="130.6" r="0.75" fill="#8c7078" opacity="0.41"/>
<circle cx="93.8" cy="94.8" r="0.56" fill="#9a7f86" opacity="0.43"/>
<circle cx="58.7" cy="79.8" r="0.54" fill="#8c7078" opacity="0.31"/>
<circle cx="103.1" cy="131.8" r="0.51" fill="#a08478" opacity="0.46"/>
<circle cx="154.7" cy="50.1" r="0.58" fill="#9a7f86" opacity="0.50"/>
<circle cx="113.6" cy="31.0" r="0.81" fill="#8e8ca4" opacity="0.42"/>
<circle cx="116.6" cy="74.7" r="0.59" fill="#8e8ca4" opacity="0.37"/>
<circle cx="83.8" cy="140.6" r="0.80" fill="#8e8ca4" opacity="0.30"/>
<circle cx="118.7" cy="128.3" r="0.52" fill="#8e8ca4" opacity="0.47"/>
<circle cx="52.3" cy="157.9" r="0.72" fill="#a08478" opacity="0.52"/>
<circle cx="97.9" cy="159.6" r="0.59" fill="#8c7078" opacity="0.52"/>
<circle cx="150.6" cy="125.2" r="0.69" fill="#8e8ca4" opacity="0.36"/>
<circle cx="160.3" cy="61.4" r="0.78" fill="#8c7078" opacity="0.27"/>
<circle cx="100.0" cy="66.8" r="0.77" fill="#8c7078" opacity="0.43"/>
<circle cx="28.9" cy="68.9" r="0.54" fill="#a08478" opacity="0.55"/>
<circle cx="88.4" cy="57.4" r="0.70" fill="#8c7078" opacity="0.51"/>
<circle cx="62.0" cy="157.2" r="0.85" fill="#8c7078" opacity="0.48"/>
<circle cx="169.9" cy="53.7" r="0.57" fill="#a08478" opacity="0.29"/>
<circle cx="71.1" cy="88.0" r="0.54" fill="#a08478" opacity="0.50"/>
<circle cx="154.4" cy="31.7" r="0.81" fill="#9a7f86" opacity="0.43"/>
<circle cx="132.2" cy="73.3" r="0.72" fill="#8e8ca4" opacity="0.50"/>
<circle cx="62.5" cy="123.8" r="0.89" fill="#8e8ca4" opacity="0.49"/>
<circle cx="45.3" cy="28.9" r="0.81" fill="#a08478" opacity="0.36"/>
<circle cx="172.0" cy="112.9" r="0.63" fill="#8c7078" opacity="0.34"/>
<circle cx="155.5" cy="69.6" r="0.89" fill="#a08478" opacity="0.30"/>
<circle cx="30.7" cy="153.2" r="0.82" fill="#a08478" opacity="0.25"/>
<circle cx="61.8" cy="143.9" r="0.62" fill="#a08478" opacity="0.27"/>
<circle cx="166.8" cy="86.5" r="0.90" fill="#9a7f86" opacity="0.30"/>
<circle cx="99.5" cy="114.9" r="0.55" fill="#8e8ca4" opacity="0.49"/>
<circle cx="39.9" cy="59.8" r="0.66" fill="#8e8ca4" opacity="0.34"/>
<circle cx="92.8" cy="132.9" r="0.86" fill="#9a7f86" opacity="0.37"/>
<circle cx="164.6" cy="71.2" r="0.61" fill="#a08478" opacity="0.40"/>
<circle cx="87.5" cy="156.8" r="0.70" fill="#8e8ca4" opacity="0.28"/>
<circle cx="44.6" cy="33.5" r="0.59" fill="#a08478" opacity="0.45"/>
<circle cx="154.1" cy="40.1" r="0.75" fill="#8e8ca4" opacity="0.49"/>
<circle cx="85.7" cy="115.1" r="0.57" fill="#9a7f86" opacity="0.43"/>
<circle cx="167.9" cy="159.3" r="0.79" fill="#8c7078" opacity="0.43"/>
<circle cx="122.0" cy="104.1" r="0.83" fill="#8e8ca4" opacity="0.42"/>
<circle cx="39.2" cy="127.0" r="0.54" fill="#9a7f86" opacity="0.37"/>
<circle cx="74.6" cy="141.2" r="0.56" fill="#a08478" opacity="0.54"/>
<circle cx="60.2" cy="45.6" r="0.68" fill="#8c7078" opacity="0.54"/>
<circle cx="35.7" cy="150.0" r="0.71" fill="#a08478" opacity="0.42"/>
<circle cx="131.5" cy="53.9" r="0.53" fill="#a08478" opacity="0.35"/>
<circle cx="182.0" cy="141.7" r="0.76" fill="#8e8ca4" opacity="0.44"/>
<circle cx="149.9" cy="139.6" r="0.88" fill="#9a7f86" opacity="0.35"/>
<circle cx="175.2" cy="61.4" r="0.77" fill="#8c7078" opacity="0.52"/>
<circle cx="182.9" cy="145.0" r="0.60" fill="#8c7078" opacity="0.41"/>
<circle cx="36.8" cy="87.8" r="0.73" fill="#9a7f86" opacity="0.48"/>
<circle cx="47.4" cy="41.7" r="0.63" fill="#8e8ca4" opacity="0.27"/>
<circle cx="127.7" cy="93.9" r="0.63" fill="#8c7078" opacity="0.52"/>
<circle cx="148.1" cy="102.4" r="0.52" fill="#8e8ca4" opacity="0.32"/>
<circle cx="152.4" cy="65.4" r="0.77" fill="#8c7078" opacity="0.46"/>
<circle cx="126.3" cy="97.0" r="0.51" fill="#8c7078" opacity="0.48"/>
<circle cx="50.7" cy="49.0" r="0.66" fill="#9a7f86" opacity="0.32"/>
<circle cx="91.8" cy="34.4" r="0.82" fill="#8c7078" opacity="0.47"/>
<circle cx="139.1" cy="128.6" r="0.64" fill="#8e8ca4" opacity="0.43"/>
<circle cx="181.7" cy="122.6" r="0.80" fill="#8c7078" opacity="0.44"/>
<circle cx="29.8" cy="77.0" r="0.56" fill="#9a7f86" opacity="0.32"/>
<circle cx="81.2" cy="113.6" r="0.61" fill="#9a7f86" opacity="0.29"/>
<circle cx="85.9" cy="70.3" r="0.81" fill="#9a7f86" opacity="0.51"/>
<circle cx="86.1" cy="144.5" r="0.64" fill="#8c7078" opacity="0.41"/>
<circle cx="83.0" cy="62.4" r="0.50" fill="#9a7f86" opacity="0.31"/>
<circle cx="151.0" cy="121.3" r="0.57" fill="#8c7078" opacity="0.32"/>
<circle cx="155.8" cy="118.0" r="0.85" fill="#a08478" opacity="0.39"/>
<circle cx="120.5" cy="155.0" r="0.50" fill="#9a7f86" opacity="0.47"/>
<circle cx="176.4" cy="49.7" r="0.77" fill="#8e8ca4" opacity="0.52"/>
<circle cx="74.6" cy="129.4" r="0.87" fill="#a08478" opacity="0.27"/>
<circle cx="128.5" cy="34.8" r="0.57" fill="#8e8ca4" opacity="0.40"/>
<circle cx="82.0" cy="35.8" r="0.57" fill="#9a7f86" opacity="0.30"/>
<circle cx="180.5" cy="82.8" r="0.63" fill="#a08478" opacity="0.40"/>
<circle cx="83.6" cy="94.1" r="0.71" fill="#8c7078" opacity="0.43"/>
<circle cx="161.8" cy="109.8" r="0.51" fill="#8e8ca4" opacity="0.30"/>
<circle cx="86.0" cy="67.4" r="0.62" fill="#9a7f86" opacity="0.32"/>
<circle cx="99.6" cy="133.9" r="0.89" fill="#8e8ca4" opacity="0.39"/>
<circle cx="100.5" cy="156.8" r="0.73" fill="#a08478" opacity="0.34"/>
<circle cx="112.2" cy="130.5" r="0.67" fill="#a08478" opacity="0.31"/>
<circle cx="144.0" cy="36.2" r="0.62" fill="#a08478" opacity="0.32"/>
<circle cx="101.5" cy="133.6" r="0.74" fill="#9a7f86" opacity="0.32"/>
<circle cx="110.8" cy="128.6" r="0.87" fill="#a08478" opacity="0.44"/>
<circle cx="67.7" cy="103.6" r="0.74" fill="#8e8ca4" opacity="0.35"/>
<circle cx="56.0" cy="153.5" r="0.74" fill="#8c7078" opacity="0.31"/>
<circle cx="170.8" cy="113.2" r="0.69" fill="#8c7078" opacity="0.31"/>
<circle cx="109.7" cy="156.0" r="0.83" fill="#8e8ca4" opacity="0.34"/>
<circle cx="64.5" cy="92.0" r="0.52" fill="#9a7f86" opacity="0.44"/>
<circle cx="29.3" cy="36.4" r="0.89" fill="#a08478" opacity="0.42"/>
<circle cx="29.9" cy="68.5" r="0.77" fill="#9a7f86" opacity="0.28"/>
<circle cx="99.9" cy="92.4" r="0.78" fill="#9a7f86" opacity="0.51"/>
<circle cx="79.0" cy="58.2" r="0.63" fill="#9a7f86" opacity="0.52"/>
<circle cx="31.7" cy="90.6" r="0.51" fill="#9a7f86" opacity="0.50"/>
<circle cx="166.8" cy="63.4" r="0.62" fill="#8e8ca4" opacity="0.47"/>
<circle cx="137.3" cy="144.3" r="0.78" fill="#8c7078" opacity="0.49"/>
<circle cx="46.2" cy="147.0" r="0.55" fill="#9a7f86" opacity="0.51"/>
<circle cx="104.8" cy="125.9" r="0.54" fill="#9a7f86" opacity="0.53"/>
<circle cx="160.5" cy="50.9" r="0.82" fill="#8e8ca4" opacity="0.41"/>
<circle cx="125.2" cy="116.9" r="0.84" fill="#8c7078" opacity="0.39"/>
<circle cx="39.4" cy="94.2" r="0.62" fill="#a08478" opacity="0.52"/>
<circle cx="173.9" cy="131.0" r="0.90" fill="#9a7f86" opacity="0.43"/>
<circle cx="71.1" cy="83.9" r="0.53" fill="#a08478" opacity="0.47"/>
<circle cx="74.8" cy="45.8" r="0.71" fill="#a08478" opacity="0.47"/>
<circle cx="111.1" cy="152.1" r="0.67" fill="#a08478" opacity="0.26"/>
<circle cx="141.4" cy="79.7" r="0.61" fill="#8e8ca4" opacity="0.51"/>
<circle cx="146.6" cy="107.5" r="0.65" fill="#a08478" opacity="0.51"/>
<circle cx="49.9" cy="32.0" r="0.80" fill="#8c7078" opacity="0.43"/>
<circle cx="83.8" cy="70.3" r="0.71" fill="#9a7f86" opacity="0.41"/>
<circle cx="176.5" cy="153.6" r="0.85" fill="#a08478" opacity="0.26"/>
<circle cx="82.4" cy="83.6" r="0.62" fill="#8c7078" opacity="0.54"/>
<circle cx="173.3" cy="150.7" r="0.78" fill="#8c7078" opacity="0.54"/>
<circle cx="127.4" cy="82.8" r="0.63" fill="#9a7f86" opacity="0.55"/>
<circle cx="149.4" cy="80.9" r="0.68" fill="#8e8ca4" opacity="0.46"/>
<circle cx="183.0" cy="125.0" r="0.85" fill="#a08478" opacity="0.42"/>
<circle cx="163.5" cy="75.2" r="0.73" fill="#8e8ca4" opacity="0.44"/>
<circle cx="85.3" cy="109.5" r="0.78" fill="#8e8ca4" opacity="0.28"/>
<circle cx="57.8" cy="111.2" r="0.62" fill="#8c7078" opacity="0.29"/>
<circle cx="173.6" cy="131.7" r="0.85" fill="#a08478" opacity="0.33"/>
<circle cx="111.0" cy="153.0" r="0.65" fill="#9a7f86" opacity="0.32"/>
<circle cx="41.5" cy="127.1" r="0.65" fill="#8e8ca4" opacity="0.45"/>
<circle cx="181.0" cy="108.4" r="0.51" fill="#8c7078" opacity="0.34"/>
<circle cx="130.8" cy="139.9" r="0.75" fill="#8e8ca4" opacity="0.51"/>
<circle cx="69.4" cy="38.9" r="0.59" fill="#9a7f86" opacity="0.44"/>
<circle cx="38.2" cy="99.6" r="0.86" fill="#a08478" opacity="0.40"/>
<circle cx="66.6" cy="113.5" r="0.59" fill="#8e8ca4" opacity="0.28"/>
<circle cx="148.0" cy="78.2" r="0.80" fill="#a08478" opacity="0.53"/>
<circle cx="87.3" cy="74.6" r="0.54" fill="#a08478" opacity="0.34"/>
<circle cx="98.7" cy="115.7" r="0.85" fill="#8e8ca4" opacity="0.41"/>
<circle cx="114.3" cy="151.0" r="0.54" fill="#a08478" opacity="0.35"/>
<circle cx="117.8" cy="139.3" r="0.89" fill="#9a7f86" opacity="0.52"/>
<circle cx="154.9" cy="146.0" r="0.56" fill="#8e8ca4" opacity="0.48"/>
<circle cx="133.2" cy="58.6" r="0.86" fill="#9a7f86" opacity="0.37"/>
<circle cx="61.9" cy="132.0" r="0.56" fill="#a08478" opacity="0.45"/>
<circle cx="165.3" cy="151.6" r="0.74" fill="#a08478" opacity="0.34"/>
<circle cx="124.3" cy="35.5" r="0.79" fill="#a08478" opacity="0.37"/>
<circle cx="95.2" cy="127.5" r="0.56" fill="#9a7f86" opacity="0.47"/>
<circle cx="89.9" cy="56.2" r="0.76" fill="#a08478" opacity="0.45"/>
<circle cx="99.6" cy="151.8" r="0.66" fill="#9a7f86" opacity="0.48"/>
<circle cx="120.7" cy="32.2" r="0.70" fill="#a08478" opacity="0.52"/>
<circle cx="179.9" cy="106.1" r="0.81" fill="#8c7078" opacity="0.26"/>
<circle cx="171.8" cy="147.6" r="0.55" fill="#9a7f86" opacity="0.34"/>
<circle cx="144.6" cy="43.5" r="0.83" fill="#9a7f86" opacity="0.55"/>
<circle cx="178.8" cy="72.8" r="0.73" fill="#8e8ca4" opacity="0.34"/>
<circle cx="65.0" cy="143.4" r="0.89" fill="#a08478" opacity="0.37"/>
<circle cx="106.1" cy="97.8" r="0.84" fill="#8c7078" opacity="0.30"/>
<circle cx="70.9" cy="156.1" r="0.78" fill="#a08478" opacity="0.40"/>
<circle cx="139.8" cy="106.6" r="0.62" fill="#8e8ca4" opacity="0.27"/>
<circle cx="72.0" cy="36.1" r="0.76" fill="#a08478" opacity="0.40"/>
<circle cx="78.3" cy="119.1" r="0.54" fill="#a08478" opacity="0.45"/>
<circle cx="48.7" cy="71.2" r="0.76" fill="#a08478" opacity="0.33"/>
<circle cx="37.7" cy="125.8" r="0.79" fill="#8c7078" opacity="0.40"/>
<circle cx="137.4" cy="85.4" r="0.76" fill="#9a7f86" opacity="0.50"/>
<circle cx="53.5" cy="55.0" r="0.53" fill="#a08478" opacity="0.39"/>
<circle cx="66.1" cy="101.1" r="0.75" fill="#a08478" opacity="0.49"/>
<circle cx="127.6" cy="73.9" r="0.60" fill="#8e8ca4" opacity="0.54"/>
<circle cx="72.1" cy="152.3" r="0.55" fill="#8e8ca4" opacity="0.34"/>
<circle cx="39.9" cy="51.9" r="0.70" fill="#8c7078" opacity="0.51"/>
<circle cx="99.5" cy="69.1" r="0.72" fill="#8e8ca4" opacity="0.36"/>
<circle cx="53.0" cy="159.7" r="0.90" fill="#9a7f86" opacity="0.30"/>
<circle cx="155.1" cy="146.3" r="0.68" fill="#a08478" opacity="0.37"/>
<circle cx="94.0" cy="102.3" r="0.58" fill="#8e8ca4" opacity="0.46"/>
<circle cx="172.3" cy="146.2" r="0.63" fill="#9a7f86" opacity="0.30"/>
<circle cx="150.3" cy="49.9" r="0.79" fill="#8c7078" opacity="0.41"/>
<circle cx="73.0" cy="155.5" r="0.68" fill="#8e8ca4" opacity="0.35"/>
<circle cx="182.4" cy="38.2" r="0.61" fill="#8c7078" opacity="0.41"/>
<circle cx="84.8" cy="69.6" r="0.60" fill="#a08478" opacity="0.47"/>
<circle cx="151.3" cy="99.6" r="0.76" fill="#8e8ca4" opacity="0.33"/>
<circle cx="40.4" cy="76.7" r="0.67" fill="#a08478" opacity="0.38"/>
<circle cx="122.3" cy="34.9" r="0.84" fill="#8e8ca4" opacity="0.29"/>
<circle cx="40.5" cy="94.5" r="0.79" fill="#8e8ca4" opacity="0.49"/>
<circle cx="182.6" cy="33.2" r="0.80" fill="#9a7f86" opacity="0.55"/>
<circle cx="165.7" cy="120.0" r="0.78" fill="#8c7078" opacity="0.49"/>
<circle cx="86.6" cy="57.2" r="0.60" fill="#8c7078" opacity="0.53"/>
<circle cx="29.2" cy="36.7" r="0.77" fill="#a08478" opacity="0.38"/>
<circle cx="65.9" cy="156.6" r="0.87" fill="#a08478" opacity="0.31"/>
<circle cx="82.7" cy="149.4" r="0.54" fill="#8e8ca4" opacity="0.39"/>
<circle cx="55.4" cy="84.3" r="0.87" fill="#8e8ca4" opacity="0.47"/>
<circle cx="82.1" cy="68.3" r="0.83" fill="#8c7078" opacity="0.34"/>
<circle cx="67.2" cy="62.9" r="0.69" fill="#8e8ca4" opacity="0.45"/>
<circle cx="133.1" cy="135.4" r="0.51" fill="#a08478" opacity="0.45"/>
<circle cx="65.8" cy="142.9" r="0.78" fill="#8c7078" opacity="0.46"/>
<circle cx="160.1" cy="137.8" r="0.52" fill="#a08478" opacity="0.33"/>
<circle cx="31.6" cy="60.1" r="0.73" fill="#a08478" opacity="0.28"/>
<circle cx="56.7" cy="44.8" r="0.72" fill="#8c7078" opacity="0.31"/>
<circle cx="54.1" cy="31.3" r="0.73" fill="#8c7078" opacity="0.46"/>
<circle cx="41.7" cy="158.8" r="0.54" fill="#8c7078" opacity="0.26"/>
<circle cx="92.2" cy="129.4" r="0.86" fill="#8e8ca4" opacity="0.45"/>
<circle cx="102.4" cy="150.0" r="0.74" fill="#8e8ca4" opacity="0.52"/>
<circle cx="44.9" cy="67.5" r="0.72" fill="#8c7078" opacity="0.29"/>
<circle cx="126.1" cy="70.8" r="0.56" fill="#8c7078" opacity="0.31"/>
<circle cx="166.1" cy="103.2" r="0.58" fill="#8e8ca4" opacity="0.47"/>
<circle cx="99.6" cy="43.9" r="0.89" fill="#a08478" opacity="0.43"/>
<circle cx="140.4" cy="149.0" r="0.55" fill="#8c7078" opacity="0.31"/>
<circle cx="155.5" cy="54.9" r="0.66" fill="#9a7f86" opacity="0.50"/>
<circle cx="120.0" cy="124.8" r="0.65" fill="#8e8ca4" opacity="0.47"/>
<circle cx="131.7" cy="53.4" r="0.88" fill="#9a7f86" opacity="0.50"/>
<circle cx="113.7" cy="81.0" r="0.55" fill="#8c7078" opacity="0.32"/>
<circle cx="52.7" cy="145.0" r="0.75" fill="#a08478" opacity="0.30"/>
<circle cx="88.3" cy="126.5" r="0.87" fill="#9a7f86" opacity="0.47"/>
<circle cx="177.8" cy="66.9" r="0.64" fill="#8c7078" opacity="0.45"/>
<circle cx="106.5" cy="131.3" r="0.60" fill="#9a7f86" opacity="0.40"/>
<circle cx="99.5" cy="83.6" r="0.86" fill="#9a7f86" opacity="0.45"/>
<circle cx="61.2" cy="82.3" r="0.62" fill="#8e8ca4" opacity="0.29"/>
<circle cx="102.8" cy="62.3" r="0.65" fill="#a08478" opacity="0.36"/>
<circle cx="69.4" cy="61.2" r="0.85" fill="#8c7078" opacity="0.42"/>
<circle cx="81.8" cy="67.5" r="0.59" fill="#a08478" opacity="0.53"/>
<circle cx="65.6" cy="115.3" r="0.67" fill="#9a7f86" opacity="0.42"/>
<circle cx="116.8" cy="43.8" r="0.79" fill="#8c7078" opacity="0.52"/>
<circle cx="109.3" cy="38.2" r="0.89" fill="#8c7078" opacity="0.30"/>
<circle cx="154.0" cy="111.6" r="0.88" fill="#a08478" opacity="0.50"/>
<circle cx="93.0" cy="33.6" r="0.72" fill="#8c7078" opacity="0.41"/>
<circle cx="178.1" cy="120.9" r="0.66" fill="#9a7f86" opacity="0.34"/>
<circle cx="49.7" cy="65.2" r="0.61" fill="#a08478" opacity="0.52"/>
<circle cx="163.1" cy="89.5" r="0.90" fill="#a08478" opacity="0.34"/>
<circle cx="156.6" cy="162.3" r="0.81" fill="#9a7f86" opacity="0.32"/>
<circle cx="122.8" cy="28.1" r="0.81" fill="#8e8ca4" opacity="0.34"/>
<circle cx="140.0" cy="29.8" r="0.66" fill="#8e8ca4" opacity="0.36"/>
<circle cx="145.2" cy="60.0" r="0.77" fill="#8c7078" opacity="0.47"/>
<circle cx="121.5" cy="57.9" r="0.59" fill="#9a7f86" opacity="0.53"/>
<circle cx="50.6" cy="51.3" r="0.72" fill="#8c7078" opacity="0.41"/>
<circle cx="123.2" cy="34.5" r="0.66" fill="#8c7078" opacity="0.37"/>
<circle cx="111.3" cy="71.2" r="0.89" fill="#a08478" opacity="0.29"/>
<circle cx="107.6" cy="30.2" r="0.78" fill="#8e8ca4" opacity="0.42"/>
<circle cx="57.9" cy="142.8" r="0.79" fill="#8e8ca4" opacity="0.39"/>
<circle cx="165.5" cy="53.9" r="0.87" fill="#8e8ca4" opacity="0.43"/>
<circle cx="54.7" cy="74.3" r="0.87" fill="#a08478" opacity="0.45"/>
<circle cx="52.3" cy="136.5" r="0.51" fill="#8c7078" opacity="0.37"/>
<circle cx="131.2" cy="114.7" r="0.79" fill="#8c7078" opacity="0.30"/>
<circle cx="181.8" cy="29.7" r="0.58" fill="#9a7f86" opacity="0.51"/>
<circle cx="109.6" cy="143.0" r="0.68" fill="#a08478" opacity="0.34"/>
<circle cx="77.0" cy="85.4" r="0.61" fill="#8c7078" opacity="0.51"/>
<circle cx="51.1" cy="82.6" r="0.83" fill="#a08478" opacity="0.31"/>
<circle cx="152.9" cy="29.2" r="0.83" fill="#9a7f86" opacity="0.29"/>
<circle cx="59.4" cy="157.1" r="0.70" fill="#8e8ca4" opacity="0.34"/>
<circle cx="140.4" cy="28.9" r="0.76" fill="#a08478" opacity="0.38"/>
<circle cx="46.6" cy="65.1" r="0.77" fill="#8e8ca4" opacity="0.36"/>
<circle cx="49.4" cy="158.6" r="0.68" fill="#8e8ca4" opacity="0.48"/>
<circle cx="163.2" cy="134.5" r="0.75" fill="#8c7078" opacity="0.37"/>
<circle cx="93.4" cy="93.6" r="0.78" fill="#8c7078" opacity="0.48"/>
<circle cx="94.1" cy="101.2" r="0.61" fill="#8c7078" opacity="0.46"/>
<circle cx="131.0" cy="113.0" r="0.77" fill="#8c7078" opacity="0.55"/>
<circle cx="121.9" cy="118.3" r="0.70" fill="#8c7078" opacity="0.26"/>
<circle cx="138.3" cy="131.9" r="0.66" fill="#a08478" opacity="0.29"/>
<circle cx="174.9" cy="152.7" r="0.72" fill="#a08478" opacity="0.42"/>
<circle cx="117.4" cy="52.7" r="0.86" fill="#8e8ca4" opacity="0.45"/>
<circle cx="99.3" cy="73.7" r="0.53" fill="#8e8ca4" opacity="0.30"/>
<circle cx="82.4" cy="159.7" r="0.55" fill="#8e8ca4" opacity="0.50"/>
<circle cx="166.1" cy="83.4" r="0.61" fill="#8c7078" opacity="0.38"/>
<circle cx="136.1" cy="149.9" r="0.59" fill="#9a7f86" opacity="0.49"/>
<circle cx="69.6" cy="153.1" r="0.60" fill="#8e8ca4" opacity="0.42"/>
<circle cx="130.8" cy="100.9" r="0.50" fill="#a08478" opacity="0.36"/>
<circle cx="104.3" cy="151.0" r="0.51" fill="#8c7078" opacity="0.48"/>
<circle cx="69.1" cy="89.5" r="0.57" fill="#a08478" opacity="0.52"/>
<circle cx="51.7" cy="127.3" r="0.62" fill="#a08478" opacity="0.55"/>
<circle cx="61.8" cy="53.7" r="0.77" fill="#a08478" opacity="0.32"/>
<circle cx="175.7" cy="38.0" r="0.63" fill="#a08478" opacity="0.37"/>
<circle cx="150.8" cy="95.3" r="0.65" fill="#8c7078" opacity="0.49"/>
<circle cx="168.8" cy="48.0" r="0.59" fill="#9a7f86" opacity="0.42"/>
<circle cx="166.8" cy="113.2" r="0.64" fill="#8c7078" opacity="0.34"/>
<circle cx="112.2" cy="76.1" r="0.60" fill="#8c7078" opacity="0.31"/>
<circle cx="122.5" cy="42.7" r="0.54" fill="#9a7f86" opacity="0.45"/>
<circle cx="114.4" cy="74.2" r="0.84" fill="#8c7078" opacity="0.41"/>
<circle cx="100.6" cy="71.8" r="0.64" fill="#a08478" opacity="0.29"/>
<circle cx="56.9" cy="122.1" r="0.63" fill="#8e8ca4" opacity="0.46"/>
<circle cx="150.0" cy="57.4" r="0.89" fill="#a08478" opacity="0.33"/>
<circle cx="134.7" cy="98.7" r="0.75" fill="#8e8ca4" opacity="0.52"/>
<circle cx="115.2" cy="87.2" r="0.55" fill="#8c7078" opacity="0.29"/>
<circle cx="56.9" cy="37.1" r="0.76" fill="#8c7078" opacity="0.51"/>
<circle cx="68.9" cy="136.1" r="0.56" fill="#8c7078" opacity="0.52"/>
<circle cx="52.6" cy="151.8" r="0.88" fill="#8c7078" opacity="0.29"/>
<circle cx="158.3" cy="50.5" r="0.61" fill="#a08478" opacity="0.33"/>
<circle cx="106.0" cy="82.3" r="0.58" fill="#a08478" opacity="0.51"/>
<circle cx="119.5" cy="80.6" r="0.64" fill="#8e8ca4" opacity="0.48"/>
<circle cx="177.4" cy="148.0" r="0.56" fill="#8e8ca4" opacity="0.33"/>
<circle cx="172.8" cy="130.3" r="0.87" fill="#8e8ca4" opacity="0.48"/>
<ellipse cx="96.2" cy="91.1" rx="1.15" ry="0.96" fill="#7080a8" opacity="0.42"/>
<ellipse cx="129.7" cy="87.2" rx="1.09" ry="0.91" fill="#7080a8" opacity="0.47"/>
<ellipse cx="134.8" cy="87.4" rx="1.18" ry="0.98" fill="#7080a8" opacity="0.32"/>
<ellipse cx="63.6" cy="88.7" rx="1.10" ry="0.92" fill="#7080a8" opacity="0.36"/>
<ellipse cx="120.4" cy="88.5" rx="1.49" ry="1.24" fill="#7080a8" opacity="0.34"/>
<ellipse cx="122.5" cy="88.3" rx="1.20" ry="1.00" fill="#7080a8" opacity="0.57"/>
<ellipse cx="174.5" cy="83.5" rx="1.23" ry="1.03" fill="#7080a8" opacity="0.31"/>
<ellipse cx="145.1" cy="86.6" rx="1.29" ry="1.07" fill="#7080a8" opacity="0.39"/>
<ellipse cx="158.8" cy="84.0" rx="1.44" ry="1.20" fill="#7080a8" opacity="0.51"/>
<ellipse cx="123.1" cy="89.2" rx="1.41" ry="1.18" fill="#7080a8" opacity="0.52"/>
<ellipse cx="59.4" cy="87.9" rx="1.62" ry="1.35" fill="#7080a8" opacity="0.45"/>
<ellipse cx="144.5" cy="85.7" rx="1.64" ry="1.37" fill="#7080a8" opacity="0.32"/>
<ellipse cx="93.3" cy="89.6" rx="1.60" ry="1.34" fill="#7080a8" opacity="0.59"/>
<ellipse cx="81.9" cy="89.7" rx="1.23" ry="1.02" fill="#7080a8" opacity="0.48"/>
<ellipse cx="146.7" cy="84.8" rx="1.58" ry="1.31" fill="#7080a8" opacity="0.44"/>
<ellipse cx="120.1" cy="88.5" rx="1.35" ry="1.13" fill="#7080a8" opacity="0.31"/>
<ellipse cx="62.9" cy="89.6" rx="1.25" ry="1.04" fill="#7080a8" opacity="0.41"/>
<ellipse cx="180.4" cy="81.4" rx="1.14" ry="0.95" fill="#7080a8" opacity="0.56"/>
<ellipse cx="107.9" cy="90.3" rx="1.26" ry="1.05" fill="#7080a8" opacity="0.34"/>
<ellipse cx="85.4" cy="91.0" rx="1.40" ry="1.17" fill="#7080a8" opacity="0.50"/>
<ellipse cx="149.2" cy="85.2" rx="1.49" ry="1.24" fill="#7080a8" opacity="0.36"/>
<ellipse cx="81.0" cy="90.0" rx="1.58" ry="1.32" fill="#7080a8" opacity="0.37"/>
<ellipse cx="155.3" cy="85.1" rx="1.52" ry="1.27" fill="#7080a8" opacity="0.33"/>
<ellipse cx="74.1" cy="90.5" rx="1.21" ry="1.01" fill="#7080a8" opacity="0.31"/>
<ellipse cx="131.0" cy="88.0" rx="1.57" ry="1.31" fill="#7080a8" opacity="0.51"/>
<ellipse cx="132.6" cy="86.9" rx="1.64" ry="1.36" fill="#7080a8" opacity="0.38"/>
<ellipse cx="114.6" cy="88.4" rx="1.43" ry="1.19" fill="#7080a8" opacity="0.51"/>
<ellipse cx="122.5" cy="88.2" rx="1.11" ry="0.92" fill="#7080a8" opacity="0.49"/>
<ellipse cx="63.3" cy="89.1" rx="1.45" ry="1.21" fill="#7080a8" opacity="0.56"/>
<ellipse cx="140.6" cy="86.8" rx="1.25" ry="1.04" fill="#7080a8" opacity="0.58"/>
<ellipse cx="131.3" cy="87.6" rx="1.31" ry="1.09" fill="#7080a8" opacity="0.55"/>
<ellipse cx="137.0" cy="86.8" rx="1.45" ry="1.21" fill="#7080a8" opacity="0.54"/>
<ellipse cx="181.6" cy="81.1" rx="1.66" ry="1.38" fill="#7080a8" opacity="0.39"/>
<ellipse cx="112.3" cy="90.1" rx="1.57" ry="1.31" fill="#7080a8" opacity="0.40"/>
<ellipse cx="94.6" cy="99.1" rx="1.37" ry="1.14" fill="#7080a8" opacity="0.42"/>
<ellipse cx="94.0" cy="97.8" rx="1.64" ry="1.37" fill="#7080a8" opacity="0.40"/>
<ellipse cx="143.1" cy="96.9" rx="1.15" ry="0.95" fill="#7080a8" opacity="0.35"/>
<ellipse cx="99.9" cy="98.0" rx="1.14" ry="0.95" fill="#7080a8" opacity="0.53"/>
<ellipse cx="109.4" cy="97.4" rx="1.39" ry="1.16" fill="#7080a8" opacity="0.50"/>
<ellipse cx="136.9" cy="96.7" rx="1.21" ry="1.01" fill="#7080a8" opacity="0.31"/>
<ellipse cx="117.2" cy="98.0" rx="1.68" ry="1.40" fill="#7080a8" opacity="0.37"/>
<ellipse cx="74.3" cy="100.1" rx="1.50" ry="1.25" fill="#7080a8" opacity="0.37"/>
<ellipse cx="92.0" cy="98.4" rx="1.59" ry="1.32" fill="#7080a8" opacity="0.47"/>
<ellipse cx="92.0" cy="98.8" rx="1.23" ry="1.03" fill="#7080a8" opacity="0.31"/>
<ellipse cx="136.5" cy="97.6" rx="1.27" ry="1.06" fill="#7080a8" opacity="0.40"/>
<ellipse cx="144.4" cy="95.9" rx="1.50" ry="1.25" fill="#7080a8" opacity="0.57"/>
<ellipse cx="94.3" cy="99.7" rx="1.27" ry="1.06" fill="#7080a8" opacity="0.59"/>
<ellipse cx="81.6" cy="98.9" rx="1.50" ry="1.25" fill="#7080a8" opacity="0.40"/>
<ellipse cx="153.8" cy="47.8" rx="1.22" ry="1.01" fill="#7080a8" opacity="0.48"/>
<ellipse cx="146.0" cy="38.7" rx="1.46" ry="1.22" fill="#7080a8" opacity="0.50"/>
<ellipse cx="145.2" cy="33.8" rx="1.26" ry="1.05" fill="#7080a8" opacity="0.54"/>
<ellipse cx="149.4" cy="44.8" rx="1.50" ry="1.25" fill="#7080a8" opacity="0.42"/>
<ellipse cx="147.5" cy="46.0" rx="1.64" ry="1.37" fill="#7080a8" opacity="0.51"/>
<ellipse cx="177.0" cy="66.9" rx="1.37" ry="1.14" fill="#7080a8" opacity="0.60"/>
<ellipse cx="159.5" cy="55.6" rx="1.33" ry="1.11" fill="#7080a8" opacity="0.45"/>
<ellipse cx="145.9" cy="42.0" rx="1.63" ry="1.36" fill="#7080a8" opacity="0.48"/>
<ellipse cx="163.3" cy="60.3" rx="1.62" ry="1.35" fill="#7080a8" opacity="0.32"/>
<ellipse cx="180.7" cy="69.1" rx="1.09" ry="0.91" fill="#7080a8" opacity="0.42"/>
<ellipse cx="164.8" cy="62.8" rx="1.54" ry="1.28" fill="#7080a8" opacity="0.34"/>
<ellipse cx="167.2" cy="63.6" rx="1.11" ry="0.92" fill="#7080a8" opacity="0.54"/>
<ellipse cx="149.6" cy="42.9" rx="1.38" ry="1.15" fill="#7080a8" opacity="0.42"/>
<ellipse cx="144.5" cy="38.0" rx="1.10" ry="0.92" fill="#7080a8" opacity="0.59"/>
<ellipse cx="149.9" cy="45.6" rx="1.43" ry="1.19" fill="#7080a8" opacity="0.49"/>
<ellipse cx="181.4" cy="72.0" rx="1.37" ry="1.14" fill="#7080a8" opacity="0.40"/>
<ellipse cx="182.3" cy="73.7" rx="1.53" ry="1.27" fill="#7080a8" opacity="0.35"/>
<ellipse cx="173.7" cy="68.2" rx="1.66" ry="1.38" fill="#7080a8" opacity="0.53"/>
<ellipse cx="182.0" cy="87.1" rx="1.52" ry="1.26" fill="#7080a8" opacity="0.57"/>
<ellipse cx="182.3" cy="75.2" rx="1.18" ry="0.99" fill="#7080a8" opacity="0.41"/>
<ellipse cx="162.5" cy="94.6" rx="1.34" ry="1.11" fill="#7080a8" opacity="0.59"/>
<ellipse cx="162.6" cy="78.5" rx="1.44" ry="1.20" fill="#7080a8" opacity="0.41"/>
<ellipse cx="177.0" cy="71.5" rx="1.10" ry="0.91" fill="#7080a8" opacity="0.57"/>
<ellipse cx="172.9" cy="73.7" rx="1.55" ry="1.29" fill="#7080a8" opacity="0.33"/>
<ellipse cx="167.3" cy="79.8" rx="1.59" ry="1.33" fill="#7080a8" opacity="0.48"/>
<ellipse cx="171.1" cy="84.5" rx="1.64" ry="1.37" fill="#7080a8" opacity="0.41"/>
<ellipse cx="164.5" cy="81.4" rx="1.16" ry="0.97" fill="#7080a8" opacity="0.37"/>
<ellipse cx="175.8" cy="78.2" rx="1.19" ry="0.99" fill="#7080a8" opacity="0.30"/>
<ellipse cx="183.3" cy="92.3" rx="1.46" ry="1.22" fill="#7080a8" opacity="0.47"/>
<ellipse cx="171.5" cy="96.9" rx="1.67" ry="1.40" fill="#7080a8" opacity="0.58"/>
<ellipse cx="175.5" cy="85.7" rx="1.64" ry="1.36" fill="#7080a8" opacity="0.37"/>
<ellipse cx="171.9" cy="82.5" rx="1.27" ry="1.06" fill="#7080a8" opacity="0.48"/>
<ellipse cx="174.0" cy="95.3" rx="1.36" ry="1.13" fill="#7080a8" opacity="0.42"/>
<ellipse cx="173.2" cy="62.1" rx="1.10" ry="0.91" fill="#7080a8" opacity="0.31"/>
<ellipse cx="181.1" cy="93.2" rx="1.53" ry="1.28" fill="#7080a8" opacity="0.38"/>
<ellipse cx="174.8" cy="67.4" rx="1.40" ry="1.17" fill="#7080a8" opacity="0.46"/>
<ellipse cx="176.3" cy="66.4" rx="1.64" ry="1.36" fill="#7080a8" opacity="0.48"/>
<ellipse cx="184.0" cy="65.3" rx="1.52" ry="1.26" fill="#7080a8" opacity="0.55"/>
<ellipse cx="183.7" cy="122.5" rx="1.28" ry="1.06" fill="#7080a8" opacity="0.57"/>
<ellipse cx="171.4" cy="115.9" rx="1.44" ry="1.20" fill="#7080a8" opacity="0.39"/>
<ellipse cx="175.6" cy="115.6" rx="1.51" ry="1.26" fill="#7080a8" opacity="0.42"/>
<ellipse cx="148.7" cy="123.4" rx="1.56" ry="1.30" fill="#7080a8" opacity="0.58"/>
<ellipse cx="182.6" cy="112.1" rx="1.61" ry="1.34" fill="#7080a8" opacity="0.49"/>
<ellipse cx="158.4" cy="112.1" rx="1.51" ry="1.26" fill="#7080a8" opacity="0.46"/>
<ellipse cx="151.1" cy="138.3" rx="1.13" ry="0.94" fill="#7080a8" opacity="0.58"/>
<ellipse cx="177.6" cy="148.9" rx="1.68" ry="1.40" fill="#7080a8" opacity="0.35"/>
<ellipse cx="162.3" cy="160.6" rx="1.62" ry="1.35" fill="#7080a8" opacity="0.49"/>
<ellipse cx="146.7" cy="136.2" rx="1.41" ry="1.18" fill="#7080a8" opacity="0.46"/>
<ellipse cx="154.1" cy="121.8" rx="1.26" ry="1.05" fill="#7080a8" opacity="0.37"/>
<ellipse cx="182.4" cy="118.9" rx="1.20" ry="1.00" fill="#7080a8" opacity="0.59"/>
<ellipse cx="147.4" cy="111.8" rx="1.32" ry="1.10" fill="#7080a8" opacity="0.47"/>
<ellipse cx="169.6" cy="156.0" rx="1.63" ry="1.36" fill="#7080a8" opacity="0.30"/>
<ellipse cx="175.7" cy="121.6" rx="1.45" ry="1.20" fill="#7080a8" opacity="0.55"/>
<ellipse cx="147.1" cy="138.7" rx="1.64" ry="1.37" fill="#7080a8" opacity="0.42"/>
<ellipse cx="168.9" cy="150.6" rx="1.30" ry="1.08" fill="#7080a8" opacity="0.33"/>
<ellipse cx="171.1" cy="111.2" rx="1.64" ry="1.36" fill="#7080a8" opacity="0.44"/>
<ellipse cx="165.3" cy="117.5" rx="1.40" ry="1.17" fill="#7080a8" opacity="0.43"/>
<ellipse cx="169.4" cy="114.9" rx="1.25" ry="1.04" fill="#7080a8" opacity="0.46"/>
<ellipse cx="174.5" cy="145.1" rx="1.10" ry="0.91" fill="#7080a8" opacity="0.58"/>
<ellipse cx="158.6" cy="143.8" rx="1.67" ry="1.39" fill="#7080a8" opacity="0.55"/>
<ellipse cx="157.1" cy="123.6" rx="1.38" ry="1.15" fill="#7080a8" opacity="0.45"/>
<ellipse cx="147.6" cy="142.3" rx="1.59" ry="1.32" fill="#7080a8" opacity="0.35"/>
<ellipse cx="167.9" cy="138.5" rx="1.21" ry="1.01" fill="#7080a8" opacity="0.56"/>
<ellipse cx="147.8" cy="151.4" rx="1.12" ry="0.94" fill="#7080a8" opacity="0.57"/>
<ellipse cx="153.4" cy="146.9" rx="1.48" ry="1.23" fill="#7080a8" opacity="0.50"/>
<ellipse cx="174.4" cy="124.4" rx="1.34" ry="1.12" fill="#7080a8" opacity="0.48"/>
<ellipse cx="171.9" cy="131.7" rx="1.29" ry="1.08" fill="#7080a8" opacity="0.49"/>
<ellipse cx="145.9" cy="138.6" rx="1.32" ry="1.10" fill="#7080a8" opacity="0.51"/>
<ellipse cx="155.8" cy="113.0" rx="1.50" ry="1.25" fill="#7080a8" opacity="0.40"/>
<ellipse cx="145.0" cy="112.3" rx="1.65" ry="1.37" fill="#7080a8" opacity="0.45"/>
<ellipse cx="147.9" cy="113.4" rx="1.41" ry="1.18" fill="#7080a8" opacity="0.43"/>
<ellipse cx="143.9" cy="138.8" rx="1.38" ry="1.15" fill="#7080a8" opacity="0.47"/>
<ellipse cx="146.6" cy="110.3" rx="1.45" ry="1.21" fill="#7080a8" opacity="0.30"/>
<ellipse cx="163.4" cy="130.6" rx="1.60" ry="1.33" fill="#7080a8" opacity="0.46"/>
<ellipse cx="148.2" cy="117.7" rx="1.57" ry="1.31" fill="#7080a8" opacity="0.37"/>
<ellipse cx="167.0" cy="128.6" rx="1.26" ry="1.05" fill="#7080a8" opacity="0.41"/>
<ellipse cx="168.0" cy="129.1" rx="1.28" ry="1.07" fill="#7080a8" opacity="0.41"/>
<ellipse cx="177.7" cy="161.7" rx="1.54" ry="1.28" fill="#7080a8" opacity="0.53"/>
<ellipse cx="87.3" cy="125.9" rx="1.48" ry="1.24" fill="#7080a8" opacity="0.60"/>
<ellipse cx="65.7" cy="27.8" rx="1.39" ry="1.16" fill="#7080a8" opacity="0.51"/>
<ellipse cx="77.5" cy="158.8" rx="1.20" ry="1.00" fill="#7080a8" opacity="0.49"/>
<ellipse cx="160.1" cy="160.5" rx="1.31" ry="1.09" fill="#7080a8" opacity="0.52"/>
<ellipse cx="50.6" cy="95.0" rx="1.16" ry="0.97" fill="#7080a8" opacity="0.53"/>
<ellipse cx="111.1" cy="35.2" rx="1.66" ry="1.39" fill="#7080a8" opacity="0.45"/>
<ellipse cx="160.4" cy="151.4" rx="1.43" ry="1.19" fill="#7080a8" opacity="0.43"/>
<ellipse cx="133.5" cy="94.8" rx="1.19" ry="0.99" fill="#7080a8" opacity="0.30"/>
<ellipse cx="146.5" cy="151.2" rx="1.51" ry="1.26" fill="#7080a8" opacity="0.46"/>
<ellipse cx="158.1" cy="72.2" rx="1.25" ry="1.04" fill="#7080a8" opacity="0.54"/>
<ellipse cx="165.2" cy="102.9" rx="1.40" ry="1.16" fill="#7080a8" opacity="0.48"/>
<ellipse cx="88.6" cy="84.9" rx="1.12" ry="0.93" fill="#7080a8" opacity="0.48"/>
<ellipse cx="152.8" cy="75.1" rx="1.50" ry="1.25" fill="#7080a8" opacity="0.52"/>
<ellipse cx="134.7" cy="51.0" rx="1.35" ry="1.12" fill="#7080a8" opacity="0.48"/>
<ellipse cx="164.8" cy="30.3" rx="1.14" ry="0.95" fill="#7080a8" opacity="0.36"/>
<ellipse cx="150.9" cy="48.7" rx="1.40" ry="1.17" fill="#7080a8" opacity="0.39"/>
<ellipse cx="135.6" cy="85.1" rx="1.24" ry="1.04" fill="#7080a8" opacity="0.46"/>
<ellipse cx="166.3" cy="144.0" rx="1.40" ry="1.17" fill="#7080a8" opacity="0.51"/>
<ellipse cx="171.2" cy="123.2" rx="1.45" ry="1.21" fill="#7080a8" opacity="0.53"/>
<ellipse cx="46.0" cy="104.6" rx="1.24" ry="1.03" fill="#7080a8" opacity="0.45"/>
<ellipse cx="41.7" cy="66.1" rx="1.39" ry="1.16" fill="#7080a8" opacity="0.54"/>
<ellipse cx="179.8" cy="159.1" rx="1.45" ry="1.21" fill="#7080a8" opacity="0.54"/>
<ellipse cx="88.8" cy="43.8" rx="1.26" ry="1.05" fill="#7080a8" opacity="0.50"/>
<ellipse cx="115.4" cy="42.7" rx="1.21" ry="1.01" fill="#7080a8" opacity="0.51"/>
<ellipse cx="173.8" cy="87.6" rx="1.39" ry="1.16" fill="#7080a8" opacity="0.57"/>
</g>
</g>
<text x="35.30" y="51.70" font-size="22.5" font-weight="bold" fill="#5e1c20" textLength="65.10" lengthAdjust="spacingAndGlyphs" stroke="#1a0a0a" stroke-width="2.8" paint-order="stroke" stroke-linejoin="round">αSMA</text>
<text x="42.90" y="147.30" font-size="12.2" font-weight="normal" fill="#0e0e0e" textLength="47.03" lengthAdjust="spacingAndGlyphs" stroke="#0e0e0e" stroke-width="0.5">200 µm</text>
<line x1="36.50" y1="153.20" x2="93.80" y2="153.20" stroke="#0e0e0e" stroke-width="2.8" stroke-linecap="butt"/>
<text x="1.92" y="20.90" font-size="28.5" font-weight="bold" fill="#141414" textLength="19.81" lengthAdjust="spacingAndGlyphs" stroke="#141414" stroke-width="0.35">A</text>
<line x1="157.20" y1="50.60" x2="252.00" y2="50.60" stroke="#141414" stroke-width="2.6" stroke-linecap="butt"/>
<polygon points="261.2,50.6 249.2,47.2 250.0,50.6 249.2,54.0" fill="#141414"/>
<line x1="294.00" y1="50.60" x2="384.00" y2="50.60" stroke="#141414" stroke-width="2.6" stroke-linecap="butt"/>
<polygon points="393.2,51.0 381.2,47.5 382.0,51.0 381.2,54.5" fill="#141414"/>
<line x1="121.00" y1="143.00" x2="240.00" y2="143.00" stroke="#141414" stroke-width="2.6" stroke-linecap="butt"/>
<polygon points="249.8,143.0 236.8,139.5 237.60000000000002,143.0 236.8,146.5" fill="#141414"/>
<line x1="450.80" y1="72.50" x2="450.80" y2="144.00" stroke="#141414" stroke-width="2.6" stroke-linecap="butt"/>
<line x1="452.10" y1="142.70" x2="375.00" y2="142.70" stroke="#141414" stroke-width="2.6" stroke-linecap="butt"/>
<polygon points="365.8,142.8 377.6,139.4 376.8,142.8 377.6,146.20000000000002" fill="#141414"/>
<path d="M401.3,43.1 L401.3,63.3 L501.7,63.3 L501.7,43.1" fill="none" stroke="#141414" stroke-width="2.6"/>
<path d="M262.4,133.1 L262.4,153.2 L353.8,153.2 L353.8,133.1" fill="none" stroke="#141414" stroke-width="2.6"/>
<text x="198.65" y="31.50" font-size="13.9" font-weight="normal" fill="#141414" textLength="98.06" lengthAdjust="spacingAndGlyphs" stroke="#141414" stroke-width="0.6">PDX Expansion</text>
<text x="412.74" y="40.20" font-size="13.6" font-weight="normal" fill="#141414" textLength="72.30" lengthAdjust="spacingAndGlyphs" stroke="#141414" stroke-width="0.6">Primary PC</text>
<text x="414.85" y="56.20" font-size="13.6" font-weight="normal" fill="#141414" textLength="73.23" lengthAdjust="spacingAndGlyphs" stroke="#141414" stroke-width="0.6">cell culture</text>
<text x="293.20" y="130.80" font-size="13.6" font-weight="normal" fill="#141414" textLength="26.33" lengthAdjust="spacingAndGlyphs" stroke="#141414" stroke-width="0.6">TAS</text>
<text x="275.13" y="146.90" font-size="13.6" font-weight="normal" fill="#141414" textLength="65.49" lengthAdjust="spacingAndGlyphs" stroke="#141414" stroke-width="0.6">Outgrowth</text>
<text x="423.04" y="163.90" font-size="13.8" font-weight="normal" fill="#141414" textLength="95.56" lengthAdjust="spacingAndGlyphs" stroke="#141414" stroke-width="0.6">PC conditioned</text>
<text x="423.97" y="178.00" font-size="13.8" font-weight="normal" fill="#141414" textLength="93.01" lengthAdjust="spacingAndGlyphs" stroke="#141414" stroke-width="0.6">media (PCCM)</text>
<text x="450.09" y="194.60" font-size="13.8" font-weight="normal" fill="#141414" textLength="47.04" lengthAdjust="spacingAndGlyphs" stroke="#141414" stroke-width="0.6">transfer</text>
<g fill="none" stroke="#141414" stroke-linejoin="round" stroke-linecap="round">
<path d="M295,48.5 L312,51 C316,53 318,56 321,57.5 C324,58.5 327,58.5 329,57.5 L334.5,52.8 C336.5,54.5 338,57.5 338.5,61 C342,64 346,67 348.5,72 C350.5,76 351.5,80 350.5,83.5 C349,85.5 346,86 343,86.2 L336,86.2 C333.5,86.5 331.5,87.5 330.5,88.5 C332.5,91 335,93.5 337.5,95.5 C339,97 337.5,98 335.5,97.2 C333.5,96.3 331.5,94.8 330,93.5 C331,96.5 331.2,99.5 329.5,101.6 C327.5,103.6 322.5,103.6 319.8,102.2 C316.8,100.4 315.2,97 313,94.8 C309.5,92.2 305.5,90 301.5,88.6 C299.5,88 298,88 296.8,88.6 C295.3,91.2 293.2,93.6 289.6,94 C286.2,94.3 283.6,93 282.5,91 C281,88.2 279,86.2 276,84.2 C272,81.2 268,77.2 262,73.5" fill="#ffffff" stroke-width="3.3"/>
<path d="M267,71.5 C257,68.8 247,66.4 238.5,66.5 C232,66.6 229.3,71 229.5,76.5 C229.8,82 235.5,85.5 239,88 C240.8,89.3 241.8,90 242,90.5" stroke-width="8.6"/>
<path d="M267,71.5 C257,68.8 247,66.4 238.5,66.5 C232,66.6 229.3,71 229.5,76.5 C229.8,82 235.5,85.5 239,88 C240.8,89.3 241.8,90 242,90.5" stroke="#ffffff" stroke-width="1.9"/>
</g>
<polygon points="281.5,88 283.5,92 287,93.6 291.5,93.4 295.5,90.6 296.5,88.6 292,87.6 286,87.4" fill="#141414"/>
<polygon points="314.5,95.5 317,99.8 320.5,102.4 326,102.8 329.6,100.8 330.4,97.5 328.5,94.8 322,93.8" fill="#141414"/>
<polygon points="331.5,89.2 334.5,92.5 337.5,95.6 336,96.2 332.5,94.2 330.5,91.5" fill="#141414"/>
<g stroke="#ffffff" stroke-width="0.85" fill="none" stroke-linecap="round">
<line x1="284.5" y1="90.5" x2="290" y2="88.2"/>
<line x1="285.8" y1="91.8" x2="292.5" y2="89.6"/>
<line x1="287.5" y1="92.6" x2="294.5" y2="91.2"/>
<line x1="318.5" y1="99.5" x2="322.5" y2="96.2"/>
<line x1="320" y1="100.8" x2="325" y2="98.2"/>
<line x1="322" y1="101.6" x2="327.5" y2="100.2"/>
<line x1="324" y1="102" x2="329" y2="101.8"/>
<line x1="332.5" y1="91" x2="335" y2="93.6"/>
<line x1="331.8" y1="92.5" x2="334.2" y2="95"/>
</g>
<path d="M316.5,89.5 C318,87.5 322,87 326,88.8 C327,90.8 325,92.8 321,92.9 C318.5,92.8 316.5,91.6 316.5,89.5 Z" fill="#141414"/>
<path d="M314.5,63 C313,66 313.5,70 316,71.5 M319,63 C318.3,66 319,69.5 321,70.5" fill="none" stroke="#e0e0e0" stroke-width="0.9"/>
<circle cx="338.5" cy="75" r="1.2" fill="#ececec"/>
<path d="M294.7,55.6 L293.9,58.2 L293.8,60.9 L292.1,63.0 L291.1,65.5 L288.8,66.9 L287.0,68.9 L284.4,69.5 L282.1,70.7 L279.4,70.4 L276.7,70.7 L274.4,69.5 L271.8,68.9 L270.0,66.9 L267.7,65.5 L266.7,63.0 L265.0,60.9 L264.9,58.2 L264.1,55.6 L264.9,53.0 L265.0,50.3 L266.7,48.2 L267.7,45.7 L270.0,44.3 L271.8,42.3 L274.4,41.7 L276.7,40.5 L279.4,40.8 L282.1,40.5 L284.4,41.7 L287.0,42.3 L288.8,44.3 L291.1,45.7 L292.1,48.2 L293.8,50.3 L293.9,53.0 Z" fill="#cdcdcd" stroke="#141414" stroke-width="2.1" stroke-linejoin="round"/>
<ellipse cx="279.4" cy="55.6" rx="12.8" ry="12.9" fill="none" stroke="#dedede" stroke-width="1.2"/>
<circle cx="277.4" cy="48.1" r="0.95" fill="#4a4a4a"/>
<circle cx="284.3" cy="45.7" r="0.95" fill="#4a4a4a"/>
<circle cx="270.1" cy="47.7" r="0.95" fill="#4a4a4a"/>
<circle cx="289.5" cy="50.1" r="0.95" fill="#4a4a4a"/>
<circle cx="272.1" cy="53.4" r="0.95" fill="#4a4a4a"/>
<circle cx="281.4" cy="53.4" r="0.95" fill="#4a4a4a"/>
<circle cx="266.5" cy="54.6" r="0.95" fill="#4a4a4a"/>
<circle cx="286.3" cy="57.8" r="0.95" fill="#4a4a4a"/>
<circle cx="292.3" cy="57.4" r="0.95" fill="#4a4a4a"/>
<circle cx="277" cy="61.4" r="0.95" fill="#4a4a4a"/>
<circle cx="270.9" cy="61.8" r="0.95" fill="#4a4a4a"/>
<circle cx="287.1" cy="65.9" r="0.95" fill="#4a4a4a"/>
<circle cx="277.8" cy="68.3" r="0.95" fill="#4a4a4a"/>
<text x="0.56" y="256.60" font-size="29.5" font-weight="bold" fill="#141414" textLength="20.96" lengthAdjust="spacingAndGlyphs" stroke="#141414" stroke-width="0.35">B</text>
<text x="1.90" y="630.20" font-size="28.5" font-weight="bold" fill="#141414" textLength="19.33" lengthAdjust="spacingAndGlyphs" stroke="#141414" stroke-width="0.35">C</text>
<text x="0.95" y="993.60" font-size="26" font-weight="bold" fill="#141414" textLength="20.02" lengthAdjust="spacingAndGlyphs" stroke="#141414" stroke-width="0.35">D</text>
<line x1="107.30" y1="251.40" x2="107.30" y2="455.40" stroke="#141414" stroke-width="2" stroke-linecap="butt"/>
<line x1="102.10" y1="454.40" x2="107.30" y2="454.40" stroke="#141414" stroke-width="1.8" stroke-linecap="butt"/>
<text x="89.35" y="459.46" font-size="14.5" font-weight="bold" fill="#141414" textLength="8.59" lengthAdjust="spacingAndGlyphs" stroke="#141414" stroke-width="0.35">0</text>
<line x1="102.10" y1="386.90" x2="107.30" y2="386.90" stroke="#141414" stroke-width="1.8" stroke-linecap="butt"/>
<text x="72.17" y="391.96" font-size="14.5" font-weight="bold" fill="#141414" textLength="25.77" lengthAdjust="spacingAndGlyphs" stroke="#141414" stroke-width="0.35">400</text>
<line x1="102.10" y1="319.40" x2="107.30" y2="319.40" stroke="#141414" stroke-width="1.8" stroke-linecap="butt"/>
<text x="72.17" y="324.46" font-size="14.5" font-weight="bold" fill="#141414" textLength="25.77" lengthAdjust="spacingAndGlyphs" stroke="#141414" stroke-width="0.35">800</text>
<line x1="102.10" y1="251.90" x2="107.30" y2="251.90" stroke="#141414" stroke-width="1.8" stroke-linecap="butt"/>
<text x="59.29" y="256.96" font-size="14.5" font-weight="bold" fill="#141414" textLength="38.64" lengthAdjust="spacingAndGlyphs" stroke="#141414" stroke-width="0.35">1,200</text>
<line x1="106.30" y1="454.40" x2="515.40" y2="454.40" stroke="#141414" stroke-width="2" stroke-linecap="butt"/>
<line x1="118.75" y1="454.40" x2="118.75" y2="459.90" stroke="#141414" stroke-width="1.6" stroke-linecap="butt"/>
<line x1="141.25" y1="454.40" x2="141.25" y2="459.90" stroke="#141414" stroke-width="1.6" stroke-linecap="butt"/>
<line x1="163.75" y1="454.40" x2="163.75" y2="459.90" stroke="#141414" stroke-width="1.6" stroke-linecap="butt"/>
<line x1="186.25" y1="454.40" x2="186.25" y2="459.90" stroke="#141414" stroke-width="1.6" stroke-linecap="butt"/>
<line x1="208.75" y1="454.40" x2="208.75" y2="459.90" stroke="#141414" stroke-width="1.6" stroke-linecap="butt"/>
<line x1="231.25" y1="454.40" x2="231.25" y2="459.90" stroke="#141414" stroke-width="1.6" stroke-linecap="butt"/>
<line x1="253.75" y1="454.40" x2="253.75" y2="459.90" stroke="#141414" stroke-width="1.6" stroke-linecap="butt"/>
<line x1="276.25" y1="454.40" x2="276.25" y2="459.90" stroke="#141414" stroke-width="1.6" stroke-linecap="butt"/>
<line x1="298.75" y1="454.40" x2="298.75" y2="459.90" stroke="#141414" stroke-width="1.6" stroke-linecap="butt"/>
<line x1="321.25" y1="454.40" x2="321.25" y2="459.90" stroke="#141414" stroke-width="1.6" stroke-linecap="butt"/>
<line x1="343.75" y1="454.40" x2="343.75" y2="459.90" stroke="#141414" stroke-width="1.6" stroke-linecap="butt"/>
<line x1="366.25" y1="454.40" x2="366.25" y2="459.90" stroke="#141414" stroke-width="1.6" stroke-linecap="butt"/>
<line x1="388.75" y1="454.40" x2="388.75" y2="459.90" stroke="#141414" stroke-width="1.6" stroke-linecap="butt"/>
<line x1="411.25" y1="454.40" x2="411.25" y2="459.90" stroke="#141414" stroke-width="1.6" stroke-linecap="butt"/>
<line x1="433.75" y1="454.40" x2="433.75" y2="459.90" stroke="#141414" stroke-width="1.6" stroke-linecap="butt"/>
<line x1="456.25" y1="454.40" x2="456.25" y2="459.90" stroke="#141414" stroke-width="1.6" stroke-linecap="butt"/>
<line x1="478.75" y1="454.40" x2="478.75" y2="459.90" stroke="#141414" stroke-width="1.6" stroke-linecap="butt"/>
<line x1="501.25" y1="454.40" x2="501.25" y2="459.90" stroke="#141414" stroke-width="1.6" stroke-linecap="butt"/>
<rect x="132.35" y="451.80" width="17.80" height="2.60" fill="#221623"/>
<rect x="154.85" y="440.00" width="17.80" height="14.40" fill="#221623"/>
<rect x="199.85" y="451.80" width="17.80" height="2.60" fill="#221623"/>
<rect x="222.35" y="386.60" width="17.80" height="67.80" fill="#221623"/>
<line x1="231.25" y1="387.10" x2="231.25" y2="381.10" stroke="#221623" stroke-width="2.2" stroke-linecap="butt"/>
<line x1="227.45" y1="382.10" x2="235.05" y2="382.10" stroke="#221623" stroke-width="2.2" stroke-linecap="butt"/>
<text x="227.24" y="379.59" font-size="20.5" font-weight="bold" fill="#141414">*</text>
<rect x="244.85" y="315.70" width="17.80" height="138.70" fill="#221623"/>
<line x1="253.75" y1="316.20" x2="253.75" y2="314.50" stroke="#221623" stroke-width="2.2" stroke-linecap="butt"/>
<line x1="249.95" y1="315.50" x2="257.55" y2="315.50" stroke="#221623" stroke-width="2.2" stroke-linecap="butt"/>
<text x="249.74" y="315.09" font-size="20.5" font-weight="bold" fill="#141414">*</text>
<rect x="267.35" y="380.60" width="17.80" height="73.80" fill="#221623"/>
<line x1="276.25" y1="381.10" x2="276.25" y2="378.30" stroke="#221623" stroke-width="2.2" stroke-linecap="butt"/>
<line x1="272.45" y1="379.30" x2="280.05" y2="379.30" stroke="#221623" stroke-width="2.2" stroke-linecap="butt"/>
<text x="272.24" y="377.49" font-size="20.5" font-weight="bold" fill="#141414">*</text>
<rect x="312.35" y="451.60" width="17.80" height="2.80" fill="#221623"/>
<rect x="334.85" y="408.40" width="17.80" height="46.00" fill="#221623"/>
<line x1="343.75" y1="408.90" x2="343.75" y2="403.40" stroke="#221623" stroke-width="2.2" stroke-linecap="butt"/>
<line x1="339.95" y1="404.40" x2="347.55" y2="404.40" stroke="#221623" stroke-width="2.2" stroke-linecap="butt"/>
<text x="339.74" y="403.69" font-size="20.5" font-weight="bold" fill="#141414">*</text>
<rect x="357.35" y="251.60" width="17.80" height="202.80" fill="#221623"/>
<text x="362.24" y="254.09" font-size="20.5" font-weight="bold" fill="#141414">*</text>
<rect x="379.85" y="400.30" width="17.80" height="54.10" fill="#221623"/>
<line x1="388.75" y1="400.80" x2="388.75" y2="394.70" stroke="#221623" stroke-width="2.2" stroke-linecap="butt"/>
<line x1="384.95" y1="395.70" x2="392.55" y2="395.70" stroke="#221623" stroke-width="2.2" stroke-linecap="butt"/>
<text x="384.74" y="393.29" font-size="20.5" font-weight="bold" fill="#141414">*</text>
<rect x="424.85" y="439.70" width="17.80" height="14.70" fill="#221623"/>
<rect x="447.35" y="374.80" width="17.80" height="79.60" fill="#221623"/>
<line x1="456.25" y1="375.30" x2="456.25" y2="371.90" stroke="#221623" stroke-width="2.2" stroke-linecap="butt"/>
<line x1="452.45" y1="372.90" x2="460.05" y2="372.90" stroke="#221623" stroke-width="2.2" stroke-linecap="butt"/>
<text x="452.24" y="372.19" font-size="20.5" font-weight="bold" fill="#141414">*</text>
<rect x="469.85" y="299.80" width="17.80" height="154.60" fill="#221623"/>
<line x1="478.75" y1="300.30" x2="478.75" y2="292.70" stroke="#221623" stroke-width="2.2" stroke-linecap="butt"/>
<line x1="474.95" y1="293.70" x2="482.55" y2="293.70" stroke="#221623" stroke-width="2.2" stroke-linecap="butt"/>
<text x="474.74" y="292.99" font-size="20.5" font-weight="bold" fill="#141414">*</text>
<rect x="492.35" y="368.70" width="17.80" height="85.70" fill="#221623"/>
<line x1="501.25" y1="369.20" x2="501.25" y2="367.70" stroke="#221623" stroke-width="2.2" stroke-linecap="butt"/>
<line x1="497.45" y1="368.70" x2="505.05" y2="368.70" stroke="#221623" stroke-width="2.2" stroke-linecap="butt"/>
<text x="497.24" y="367.39" font-size="20.5" font-weight="bold" fill="#141414">*</text>
<line x1="103.60" y1="618.70" x2="103.60" y2="824.00" stroke="#141414" stroke-width="2" stroke-linecap="butt"/>
<line x1="98.40" y1="823.00" x2="103.60" y2="823.00" stroke="#141414" stroke-width="1.8" stroke-linecap="butt"/>
<text x="85.05" y="828.06" font-size="14.5" font-weight="bold" fill="#141414" textLength="8.59" lengthAdjust="spacingAndGlyphs" stroke="#141414" stroke-width="0.35">0</text>
<line x1="98.40" y1="782.24" x2="103.60" y2="782.24" stroke="#141414" stroke-width="1.8" stroke-linecap="butt"/>
<text x="67.87" y="787.30" font-size="14.5" font-weight="bold" fill="#141414" textLength="25.77" lengthAdjust="spacingAndGlyphs" stroke="#141414" stroke-width="0.35">200</text>
<line x1="98.40" y1="741.48" x2="103.60" y2="741.48" stroke="#141414" stroke-width="1.8" stroke-linecap="butt"/>
<text x="67.87" y="746.54" font-size="14.5" font-weight="bold" fill="#141414" textLength="25.77" lengthAdjust="spacingAndGlyphs" stroke="#141414" stroke-width="0.35">400</text>
<line x1="98.40" y1="700.72" x2="103.60" y2="700.72" stroke="#141414" stroke-width="1.8" stroke-linecap="butt"/>
<text x="67.87" y="705.78" font-size="14.5" font-weight="bold" fill="#141414" textLength="25.77" lengthAdjust="spacingAndGlyphs" stroke="#141414" stroke-width="0.35">600</text>
<line x1="98.40" y1="659.96" x2="103.60" y2="659.96" stroke="#141414" stroke-width="1.8" stroke-linecap="butt"/>
<text x="67.87" y="665.02" font-size="14.5" font-weight="bold" fill="#141414" textLength="25.77" lengthAdjust="spacingAndGlyphs" stroke="#141414" stroke-width="0.35">800</text>
<line x1="98.40" y1="619.20" x2="103.60" y2="619.20" stroke="#141414" stroke-width="1.8" stroke-linecap="butt"/>
<text x="54.99" y="624.26" font-size="14.5" font-weight="bold" fill="#141414" textLength="38.64" lengthAdjust="spacingAndGlyphs" stroke="#141414" stroke-width="0.35">1,000</text>
<line x1="102.60" y1="823.00" x2="513.00" y2="823.00" stroke="#141414" stroke-width="2" stroke-linecap="butt"/>
<line x1="114.80" y1="823.00" x2="114.80" y2="828.50" stroke="#141414" stroke-width="1.6" stroke-linecap="butt"/>
<line x1="137.41" y1="823.00" x2="137.41" y2="828.50" stroke="#141414" stroke-width="1.6" stroke-linecap="butt"/>
<line x1="160.02" y1="823.00" x2="160.02" y2="828.50" stroke="#141414" stroke-width="1.6" stroke-linecap="butt"/>
<line x1="182.63" y1="823.00" x2="182.63" y2="828.50" stroke="#141414" stroke-width="1.6" stroke-linecap="butt"/>
<line x1="205.24" y1="823.00" x2="205.24" y2="828.50" stroke="#141414" stroke-width="1.6" stroke-linecap="butt"/>
<line x1="227.85" y1="823.00" x2="227.85" y2="828.50" stroke="#141414" stroke-width="1.6" stroke-linecap="butt"/>
<line x1="250.46" y1="823.00" x2="250.46" y2="828.50" stroke="#141414" stroke-width="1.6" stroke-linecap="butt"/>
<line x1="273.07" y1="823.00" x2="273.07" y2="828.50" stroke="#141414" stroke-width="1.6" stroke-linecap="butt"/>
<line x1="295.68" y1="823.00" x2="295.68" y2="828.50" stroke="#141414" stroke-width="1.6" stroke-linecap="butt"/>
<line x1="318.29" y1="823.00" x2="318.29" y2="828.50" stroke="#141414" stroke-width="1.6" stroke-linecap="butt"/>
<line x1="340.90" y1="823.00" x2="340.90" y2="828.50" stroke="#141414" stroke-width="1.6" stroke-linecap="butt"/>
<line x1="363.51" y1="823.00" x2="363.51" y2="828.50" stroke="#141414" stroke-width="1.6" stroke-linecap="butt"/>
<line x1="386.12" y1="823.00" x2="386.12" y2="828.50" stroke="#141414" stroke-width="1.6" stroke-linecap="butt"/>
<line x1="408.73" y1="823.00" x2="408.73" y2="828.50" stroke="#141414" stroke-width="1.6" stroke-linecap="butt"/>
<line x1="431.34" y1="823.00" x2="431.34" y2="828.50" stroke="#141414" stroke-width="1.6" stroke-linecap="butt"/>
<line x1="453.95" y1="823.00" x2="453.95" y2="828.50" stroke="#141414" stroke-width="1.6" stroke-linecap="butt"/>
<line x1="476.56" y1="823.00" x2="476.56" y2="828.50" stroke="#141414" stroke-width="1.6" stroke-linecap="butt"/>
<line x1="499.17" y1="823.00" x2="499.17" y2="828.50" stroke="#141414" stroke-width="1.6" stroke-linecap="butt"/>
<rect x="128.51" y="822.00" width="17.80" height="1.00" fill="#221623"/>
<rect x="196.34" y="818.80" width="17.80" height="4.20" fill="#221623"/>
<rect x="218.95" y="752.10" width="17.80" height="70.90" fill="#221623"/>
<line x1="227.85" y1="752.60" x2="227.85" y2="749.10" stroke="#221623" stroke-width="2.2" stroke-linecap="butt"/>
<line x1="224.05" y1="750.10" x2="231.65" y2="750.10" stroke="#221623" stroke-width="2.2" stroke-linecap="butt"/>
<text x="223.84" y="748.49" font-size="20.5" font-weight="bold" fill="#141414">*</text>
<rect x="241.56" y="693.70" width="17.80" height="129.30" fill="#221623"/>
<line x1="250.46" y1="694.20" x2="250.46" y2="686.00" stroke="#221623" stroke-width="2.2" stroke-linecap="butt"/>
<line x1="246.66" y1="687.00" x2="254.26" y2="687.00" stroke="#221623" stroke-width="2.2" stroke-linecap="butt"/>
<text x="246.45" y="685.49" font-size="20.5" font-weight="bold" fill="#141414">*</text>
<rect x="264.17" y="765.20" width="17.80" height="57.80" fill="#221623"/>
<line x1="273.07" y1="765.70" x2="273.07" y2="762.60" stroke="#221623" stroke-width="2.2" stroke-linecap="butt"/>
<line x1="269.27" y1="763.60" x2="276.87" y2="763.60" stroke="#221623" stroke-width="2.2" stroke-linecap="butt"/>
<text x="269.06" y="761.99" font-size="20.5" font-weight="bold" fill="#141414">*</text>
<rect x="309.39" y="820.00" width="17.80" height="3.00" fill="#221623"/>
<rect x="332.00" y="775.60" width="17.80" height="47.40" fill="#221623"/>
<line x1="340.90" y1="776.10" x2="340.90" y2="771.00" stroke="#221623" stroke-width="2.2" stroke-linecap="butt"/>
<line x1="337.10" y1="772.00" x2="344.70" y2="772.00" stroke="#221623" stroke-width="2.2" stroke-linecap="butt"/>
<text x="336.89" y="769.99" font-size="20.5" font-weight="bold" fill="#141414">*</text>
<rect x="354.61" y="633.40" width="17.80" height="189.60" fill="#221623"/>
<line x1="363.51" y1="633.90" x2="363.51" y2="630.40" stroke="#221623" stroke-width="2.2" stroke-linecap="butt"/>
<line x1="359.71" y1="631.40" x2="367.31" y2="631.40" stroke="#221623" stroke-width="2.2" stroke-linecap="butt"/>
<text x="359.50" y="630.99" font-size="20.5" font-weight="bold" fill="#141414">*</text>
<rect x="377.22" y="780.00" width="17.80" height="43.00" fill="#221623"/>
<line x1="386.12" y1="780.50" x2="386.12" y2="774.00" stroke="#221623" stroke-width="2.2" stroke-linecap="butt"/>
<line x1="382.32" y1="775.00" x2="389.92" y2="775.00" stroke="#221623" stroke-width="2.2" stroke-linecap="butt"/>
<text x="382.11" y="772.59" font-size="20.5" font-weight="bold" fill="#141414">*</text>
<rect x="422.44" y="808.80" width="17.80" height="14.20" fill="#221623"/>
<rect x="445.05" y="735.60" width="17.80" height="87.40" fill="#221623"/>
<line x1="453.95" y1="736.10" x2="453.95" y2="734.90" stroke="#221623" stroke-width="2.2" stroke-linecap="butt"/>
<line x1="450.15" y1="735.90" x2="457.75" y2="735.90" stroke="#221623" stroke-width="2.2" stroke-linecap="butt"/>
<text x="449.94" y="734.69" font-size="20.5" font-weight="bold" fill="#141414">*</text>
<rect x="467.66" y="656.70" width="17.80" height="166.30" fill="#221623"/>
<line x1="476.56" y1="657.20" x2="476.56" y2="656.00" stroke="#221623" stroke-width="2.2" stroke-linecap="butt"/>
<line x1="472.76" y1="657.00" x2="480.36" y2="657.00" stroke="#221623" stroke-width="2.2" stroke-linecap="butt"/>
<text x="472.55" y="655.89" font-size="20.5" font-weight="bold" fill="#141414">*</text>
<rect x="490.27" y="738.60" width="17.80" height="84.40" fill="#221623"/>
<line x1="499.17" y1="739.10" x2="499.17" y2="735.60" stroke="#221623" stroke-width="2.2" stroke-linecap="butt"/>
<line x1="495.37" y1="736.60" x2="502.97" y2="736.60" stroke="#221623" stroke-width="2.2" stroke-linecap="butt"/>
<text x="495.16" y="734.99" font-size="20.5" font-weight="bold" fill="#141414">*</text>
<text transform="translate(123.48,523.30) rotate(-90)" x="-1.03" y="0" font-size="15.5" font-weight="bold" fill="#141414" textLength="62.67" lengthAdjust="spacingAndGlyphs" stroke="#141414" stroke-width="0.35">PC 1 CM</text>
<text transform="translate(145.98,523.30) rotate(-90)" x="-1.03" y="0" font-size="15.5" font-weight="bold" fill="#141414" textLength="62.67" lengthAdjust="spacingAndGlyphs" stroke="#141414" stroke-width="0.35">PC 2 CM</text>
<text transform="translate(168.48,523.30) rotate(-90)" x="-1.03" y="0" font-size="15.5" font-weight="bold" fill="#141414" textLength="62.67" lengthAdjust="spacingAndGlyphs" stroke="#141414" stroke-width="0.35">PC 3 CM</text>
<text transform="translate(213.48,513.18) rotate(-90)" x="-0.93" y="0" font-size="15.5" font-weight="bold" fill="#141414" textLength="52.36" lengthAdjust="spacingAndGlyphs" stroke="#141414" stroke-width="0.35">Unstim</text>
<text transform="translate(235.98,537.00) rotate(-90)" x="-0.65" y="0" font-size="15.5" font-weight="bold" fill="#141414" textLength="75.98" lengthAdjust="spacingAndGlyphs" stroke="#141414" stroke-width="0.35">+ PC 1 CM</text>
<text transform="translate(258.48,537.00) rotate(-90)" x="-0.65" y="0" font-size="15.5" font-weight="bold" fill="#141414" textLength="75.98" lengthAdjust="spacingAndGlyphs" stroke="#141414" stroke-width="0.35">+ PC 2 CM</text>
<text transform="translate(280.98,537.00) rotate(-90)" x="-0.65" y="0" font-size="15.5" font-weight="bold" fill="#141414" textLength="75.98" lengthAdjust="spacingAndGlyphs" stroke="#141414" stroke-width="0.35">+ PC 3 CM</text>
<text transform="translate(325.98,513.18) rotate(-90)" x="-0.93" y="0" font-size="15.5" font-weight="bold" fill="#141414" textLength="52.36" lengthAdjust="spacingAndGlyphs" stroke="#141414" stroke-width="0.35">Unstim</text>
<text transform="translate(348.48,537.00) rotate(-90)" x="-0.65" y="0" font-size="15.5" font-weight="bold" fill="#141414" textLength="75.98" lengthAdjust="spacingAndGlyphs" stroke="#141414" stroke-width="0.35">+ PC 1 CM</text>
<text transform="translate(370.98,537.00) rotate(-90)" x="-0.65" y="0" font-size="15.5" font-weight="bold" fill="#141414" textLength="75.98" lengthAdjust="spacingAndGlyphs" stroke="#141414" stroke-width="0.35">+ PC 2 CM</text>
<text transform="translate(393.48,537.00) rotate(-90)" x="-0.65" y="0" font-size="15.5" font-weight="bold" fill="#141414" textLength="75.98" lengthAdjust="spacingAndGlyphs" stroke="#141414" stroke-width="0.35">+ PC 3 CM</text>
<text transform="translate(438.48,513.18) rotate(-90)" x="-0.93" y="0" font-size="15.5" font-weight="bold" fill="#141414" textLength="52.36" lengthAdjust="spacingAndGlyphs" stroke="#141414" stroke-width="0.35">Unstim</text>
<text transform="translate(460.98,537.00) rotate(-90)" x="-0.65" y="0" font-size="15.5" font-weight="bold" fill="#141414" textLength="75.98" lengthAdjust="spacingAndGlyphs" stroke="#141414" stroke-width="0.35">+ PC 1 CM</text>
<text transform="translate(483.48,537.00) rotate(-90)" x="-0.65" y="0" font-size="15.5" font-weight="bold" fill="#141414" textLength="75.98" lengthAdjust="spacingAndGlyphs" stroke="#141414" stroke-width="0.35">+ PC 2 CM</text>
<text transform="translate(505.98,537.00) rotate(-90)" x="-0.65" y="0" font-size="15.5" font-weight="bold" fill="#141414" textLength="75.98" lengthAdjust="spacingAndGlyphs" stroke="#141414" stroke-width="0.35">+ PC 3 CM</text>
<text transform="translate(119.53,891.20) rotate(-90)" x="-1.02" y="0" font-size="15.5" font-weight="bold" fill="#141414" textLength="61.74" lengthAdjust="spacingAndGlyphs" stroke="#141414" stroke-width="0.35">PC 1 CM</text>
<text transform="translate(142.14,891.20) rotate(-90)" x="-1.02" y="0" font-size="15.5" font-weight="bold" fill="#141414" textLength="61.74" lengthAdjust="spacingAndGlyphs" stroke="#141414" stroke-width="0.35">PC 2 CM</text>
<text transform="translate(164.75,891.20) rotate(-90)" x="-1.02" y="0" font-size="15.5" font-weight="bold" fill="#141414" textLength="61.74" lengthAdjust="spacingAndGlyphs" stroke="#141414" stroke-width="0.35">PC 3 CM</text>
<text transform="translate(209.97,881.23) rotate(-90)" x="-0.91" y="0" font-size="15.5" font-weight="bold" fill="#141414" textLength="51.58" lengthAdjust="spacingAndGlyphs" stroke="#141414" stroke-width="0.35">Unstim</text>
<text transform="translate(232.58,904.70) rotate(-90)" x="-0.64" y="0" font-size="15.5" font-weight="bold" fill="#141414" textLength="74.85" lengthAdjust="spacingAndGlyphs" stroke="#141414" stroke-width="0.35">+ PC 1 CM</text>
<text transform="translate(255.19,904.70) rotate(-90)" x="-0.64" y="0" font-size="15.5" font-weight="bold" fill="#141414" textLength="74.85" lengthAdjust="spacingAndGlyphs" stroke="#141414" stroke-width="0.35">+ PC 2 CM</text>
<text transform="translate(277.80,904.70) rotate(-90)" x="-0.64" y="0" font-size="15.5" font-weight="bold" fill="#141414" textLength="74.85" lengthAdjust="spacingAndGlyphs" stroke="#141414" stroke-width="0.35">+ PC 3 CM</text>
<text transform="translate(323.02,881.23) rotate(-90)" x="-0.91" y="0" font-size="15.5" font-weight="bold" fill="#141414" textLength="51.58" lengthAdjust="spacingAndGlyphs" stroke="#141414" stroke-width="0.35">Unstim</text>
<text transform="translate(345.63,904.70) rotate(-90)" x="-0.64" y="0" font-size="15.5" font-weight="bold" fill="#141414" textLength="74.85" lengthAdjust="spacingAndGlyphs" stroke="#141414" stroke-width="0.35">+ PC 1 CM</text>
<text transform="translate(368.24,904.70) rotate(-90)" x="-0.64" y="0" font-size="15.5" font-weight="bold" fill="#141414" textLength="74.85" lengthAdjust="spacingAndGlyphs" stroke="#141414" stroke-width="0.35">+ PC 2 CM</text>
<text transform="translate(390.85,904.70) rotate(-90)" x="-0.64" y="0" font-size="15.5" font-weight="bold" fill="#141414" textLength="74.85" lengthAdjust="spacingAndGlyphs" stroke="#141414" stroke-width="0.35">+ PC 3 CM</text>
<text transform="translate(436.07,881.23) rotate(-90)" x="-0.91" y="0" font-size="15.5" font-weight="bold" fill="#141414" textLength="51.58" lengthAdjust="spacingAndGlyphs" stroke="#141414" stroke-width="0.35">Unstim</text>
<text transform="translate(458.68,904.70) rotate(-90)" x="-0.64" y="0" font-size="15.5" font-weight="bold" fill="#141414" textLength="74.85" lengthAdjust="spacingAndGlyphs" stroke="#141414" stroke-width="0.35">+ PC 1 CM</text>
<text transform="translate(481.29,904.70) rotate(-90)" x="-0.64" y="0" font-size="15.5" font-weight="bold" fill="#141414" textLength="74.85" lengthAdjust="spacingAndGlyphs" stroke="#141414" stroke-width="0.35">+ PC 2 CM</text>
<text transform="translate(503.90,904.70) rotate(-90)" x="-0.64" y="0" font-size="15.5" font-weight="bold" fill="#141414" textLength="74.85" lengthAdjust="spacingAndGlyphs" stroke="#141414" stroke-width="0.35">+ PC 3 CM</text>
<line x1="200.60" y1="550.00" x2="291.50" y2="550.00" stroke="#141414" stroke-width="3.4" stroke-linecap="butt"/>
<text x="218.69" y="571.50" font-size="19.2" font-weight="bold" fill="#141414" textLength="53.03" lengthAdjust="spacingAndGlyphs" stroke="#141414" stroke-width="0.35">TAS 1</text>
<line x1="311.60" y1="550.00" x2="403.70" y2="550.00" stroke="#141414" stroke-width="3.4" stroke-linecap="butt"/>
<text x="329.58" y="571.50" font-size="19.2" font-weight="bold" fill="#141414" textLength="54.59" lengthAdjust="spacingAndGlyphs" stroke="#141414" stroke-width="0.35">TAS 2</text>
<line x1="426.90" y1="550.00" x2="517.90" y2="550.00" stroke="#141414" stroke-width="3.4" stroke-linecap="butt"/>
<text x="445.98" y="571.50" font-size="19.2" font-weight="bold" fill="#141414" textLength="54.41" lengthAdjust="spacingAndGlyphs" stroke="#141414" stroke-width="0.35">TAS 3</text>
<line x1="197.40" y1="918.60" x2="289.00" y2="918.60" stroke="#141414" stroke-width="3.4" stroke-linecap="butt"/>
<text x="216.39" y="940.70" font-size="19.2" font-weight="bold" fill="#141414" textLength="53.23" lengthAdjust="spacingAndGlyphs" stroke="#141414" stroke-width="0.35">TAS 1</text>
<line x1="310.20" y1="918.60" x2="401.10" y2="918.60" stroke="#141414" stroke-width="3.4" stroke-linecap="butt"/>
<text x="328.59" y="940.70" font-size="19.2" font-weight="bold" fill="#141414" textLength="53.37" lengthAdjust="spacingAndGlyphs" stroke="#141414" stroke-width="0.35">TAS 2</text>
<line x1="425.20" y1="918.60" x2="516.80" y2="918.60" stroke="#141414" stroke-width="3.4" stroke-linecap="butt"/>
<text x="444.89" y="940.70" font-size="19.2" font-weight="bold" fill="#141414" textLength="53.39" lengthAdjust="spacingAndGlyphs" stroke="#141414" stroke-width="0.35">TAS 3</text>
<text x="140.99" y="998.00" font-size="18.5" font-weight="bold" fill="#141414" textLength="52.63" lengthAdjust="spacingAndGlyphs" stroke="#141414" stroke-width="0.35">TAS 1</text>
<text x="390.99" y="998.00" font-size="18.5" font-weight="bold" fill="#141414" textLength="52.63" lengthAdjust="spacingAndGlyphs" stroke="#141414" stroke-width="0.35">TAS 1</text>
<line x1="99.80" y1="1022.30" x2="99.80" y2="1228.00" stroke="#141414" stroke-width="2" stroke-linecap="butt"/>
<line x1="94.80" y1="1227.00" x2="99.80" y2="1227.00" stroke="#141414" stroke-width="1.8" stroke-linecap="butt"/>
<text x="83.19" y="1231.82" font-size="13.8" font-weight="bold" fill="#141414" textLength="8.21" lengthAdjust="spacingAndGlyphs" stroke="#141414" stroke-width="0.35">0</text>
<line x1="94.80" y1="1186.16" x2="99.80" y2="1186.16" stroke="#141414" stroke-width="1.8" stroke-linecap="butt"/>
<text x="66.77" y="1190.98" font-size="13.8" font-weight="bold" fill="#141414" textLength="24.64" lengthAdjust="spacingAndGlyphs" stroke="#141414" stroke-width="0.35">100</text>
<line x1="94.80" y1="1145.32" x2="99.80" y2="1145.32" stroke="#141414" stroke-width="1.8" stroke-linecap="butt"/>
<text x="66.77" y="1150.14" font-size="13.8" font-weight="bold" fill="#141414" textLength="24.64" lengthAdjust="spacingAndGlyphs" stroke="#141414" stroke-width="0.35">200</text>
<line x1="94.80" y1="1104.48" x2="99.80" y2="1104.48" stroke="#141414" stroke-width="1.8" stroke-linecap="butt"/>
<text x="66.77" y="1109.30" font-size="13.8" font-weight="bold" fill="#141414" textLength="24.64" lengthAdjust="spacingAndGlyphs" stroke="#141414" stroke-width="0.35">300</text>
<line x1="94.80" y1="1063.64" x2="99.80" y2="1063.64" stroke="#141414" stroke-width="1.8" stroke-linecap="butt"/>
<text x="66.77" y="1068.46" font-size="13.8" font-weight="bold" fill="#141414" textLength="24.64" lengthAdjust="spacingAndGlyphs" stroke="#141414" stroke-width="0.35">400</text>
<line x1="94.80" y1="1022.80" x2="99.80" y2="1022.80" stroke="#141414" stroke-width="1.8" stroke-linecap="butt"/>
<text x="66.77" y="1027.62" font-size="13.8" font-weight="bold" fill="#141414" textLength="24.64" lengthAdjust="spacingAndGlyphs" stroke="#141414" stroke-width="0.35">500</text>
<line x1="98.80" y1="1227.00" x2="233.60" y2="1227.00" stroke="#141414" stroke-width="2" stroke-linecap="butt"/>
<line x1="116.70" y1="1227.00" x2="116.70" y2="1232.50" stroke="#141414" stroke-width="1.6" stroke-linecap="butt"/>
<line x1="150.70" y1="1227.00" x2="150.70" y2="1232.50" stroke="#141414" stroke-width="1.6" stroke-linecap="butt"/>
<line x1="184.70" y1="1227.00" x2="184.70" y2="1232.50" stroke="#141414" stroke-width="1.6" stroke-linecap="butt"/>
<line x1="218.70" y1="1227.00" x2="218.70" y2="1232.50" stroke="#141414" stroke-width="1.6" stroke-linecap="butt"/>
<rect x="103.80" y="1221.10" width="25.80" height="5.90" fill="#221623"/>
<rect x="137.80" y="1146.20" width="25.80" height="80.80" fill="#221623"/>
<line x1="150.70" y1="1146.70" x2="150.70" y2="1145.50" stroke="#221623" stroke-width="2.6" stroke-linecap="butt"/>
<line x1="145.20" y1="1146.70" x2="156.20" y2="1146.70" stroke="#221623" stroke-width="2.6" stroke-linecap="butt"/>
<text x="146.69" y="1144.89" font-size="20.5" font-weight="bold" fill="#141414">*</text>
<rect x="171.80" y="1117.70" width="25.80" height="109.30" fill="#221623"/>
<line x1="184.70" y1="1118.20" x2="184.70" y2="1116.30" stroke="#221623" stroke-width="2.6" stroke-linecap="butt"/>
<line x1="179.20" y1="1117.50" x2="190.20" y2="1117.50" stroke="#221623" stroke-width="2.6" stroke-linecap="butt"/>
<text x="180.69" y="1113.39" font-size="20.5" font-weight="bold" fill="#141414">*</text>
<rect x="205.80" y="1064.00" width="25.80" height="163.00" fill="#221623"/>
<line x1="218.70" y1="1064.50" x2="218.70" y2="1050.30" stroke="#221623" stroke-width="2.6" stroke-linecap="butt"/>
<line x1="213.20" y1="1051.50" x2="224.20" y2="1051.50" stroke="#221623" stroke-width="2.6" stroke-linecap="butt"/>
<text x="214.69" y="1048.29" font-size="20.5" font-weight="bold" fill="#141414">*</text>
<text x="112.68" y="1250.70" font-size="14.5" font-weight="bold" fill="#141414" textLength="8.06" lengthAdjust="spacingAndGlyphs" stroke="#141414" stroke-width="0.35">0</text>
<text x="142.48" y="1250.70" font-size="14.5" font-weight="bold" fill="#141414" textLength="16.13" lengthAdjust="spacingAndGlyphs" stroke="#141414" stroke-width="0.35">10</text>
<text x="176.68" y="1250.70" font-size="14.5" font-weight="bold" fill="#141414" textLength="16.13" lengthAdjust="spacingAndGlyphs" stroke="#141414" stroke-width="0.35">20</text>
<text x="210.71" y="1250.70" font-size="14.5" font-weight="bold" fill="#141414" textLength="16.13" lengthAdjust="spacingAndGlyphs" stroke="#141414" stroke-width="0.35">50</text>
<line x1="349.50" y1="1021.70" x2="349.50" y2="1228.00" stroke="#141414" stroke-width="2" stroke-linecap="butt"/>
<line x1="344.50" y1="1227.00" x2="349.50" y2="1227.00" stroke="#141414" stroke-width="1.8" stroke-linecap="butt"/>
<text x="333.19" y="1231.82" font-size="13.8" font-weight="bold" fill="#141414" textLength="8.21" lengthAdjust="spacingAndGlyphs" stroke="#141414" stroke-width="0.35">0</text>
<line x1="344.50" y1="1175.80" x2="349.50" y2="1175.80" stroke="#141414" stroke-width="1.8" stroke-linecap="butt"/>
<text x="316.77" y="1180.62" font-size="13.8" font-weight="bold" fill="#141414" textLength="24.64" lengthAdjust="spacingAndGlyphs" stroke="#141414" stroke-width="0.35">100</text>
<line x1="344.50" y1="1124.60" x2="349.50" y2="1124.60" stroke="#141414" stroke-width="1.8" stroke-linecap="butt"/>
<text x="316.77" y="1129.42" font-size="13.8" font-weight="bold" fill="#141414" textLength="24.64" lengthAdjust="spacingAndGlyphs" stroke="#141414" stroke-width="0.35">200</text>
<line x1="344.50" y1="1073.40" x2="349.50" y2="1073.40" stroke="#141414" stroke-width="1.8" stroke-linecap="butt"/>
<text x="316.77" y="1078.22" font-size="13.8" font-weight="bold" fill="#141414" textLength="24.64" lengthAdjust="spacingAndGlyphs" stroke="#141414" stroke-width="0.35">300</text>
<line x1="344.50" y1="1022.20" x2="349.50" y2="1022.20" stroke="#141414" stroke-width="1.8" stroke-linecap="butt"/>
<text x="316.77" y="1027.02" font-size="13.8" font-weight="bold" fill="#141414" textLength="24.64" lengthAdjust="spacingAndGlyphs" stroke="#141414" stroke-width="0.35">400</text>
<line x1="348.50" y1="1227.00" x2="486.50" y2="1227.00" stroke="#141414" stroke-width="2" stroke-linecap="butt"/>
<line x1="366.30" y1="1227.00" x2="366.30" y2="1232.50" stroke="#141414" stroke-width="1.6" stroke-linecap="butt"/>
<line x1="400.30" y1="1227.00" x2="400.30" y2="1232.50" stroke="#141414" stroke-width="1.6" stroke-linecap="butt"/>
<line x1="434.30" y1="1227.00" x2="434.30" y2="1232.50" stroke="#141414" stroke-width="1.6" stroke-linecap="butt"/>
<line x1="468.30" y1="1227.00" x2="468.30" y2="1232.50" stroke="#141414" stroke-width="1.6" stroke-linecap="butt"/>
<rect x="353.40" y="1217.90" width="25.80" height="9.10" fill="#221623"/>
<rect x="387.40" y="1165.30" width="25.80" height="61.70" fill="#221623"/>
<line x1="400.30" y1="1165.80" x2="400.30" y2="1164.50" stroke="#221623" stroke-width="2.6" stroke-linecap="butt"/>
<line x1="394.80" y1="1165.70" x2="405.80" y2="1165.70" stroke="#221623" stroke-width="2.6" stroke-linecap="butt"/>
<text x="396.29" y="1162.59" font-size="20.5" font-weight="bold" fill="#141414">*</text>
<rect x="421.40" y="1100.30" width="25.80" height="126.70" fill="#221623"/>
<line x1="434.30" y1="1100.80" x2="434.30" y2="1091.50" stroke="#221623" stroke-width="2.6" stroke-linecap="butt"/>
<line x1="428.80" y1="1092.70" x2="439.80" y2="1092.70" stroke="#221623" stroke-width="2.6" stroke-linecap="butt"/>
<text x="430.29" y="1087.99" font-size="20.5" font-weight="bold" fill="#141414">*</text>
<rect x="455.40" y="1050.70" width="25.80" height="176.30" fill="#221623"/>
<line x1="468.30" y1="1051.20" x2="468.30" y2="1041.90" stroke="#221623" stroke-width="2.6" stroke-linecap="butt"/>
<line x1="462.80" y1="1043.10" x2="473.80" y2="1043.10" stroke="#221623" stroke-width="2.6" stroke-linecap="butt"/>
<text x="464.29" y="1039.09" font-size="20.5" font-weight="bold" fill="#141414">*</text>
<text x="362.28" y="1250.70" font-size="14.5" font-weight="bold" fill="#141414" textLength="8.06" lengthAdjust="spacingAndGlyphs" stroke="#141414" stroke-width="0.35">0</text>
<text x="392.08" y="1250.70" font-size="14.5" font-weight="bold" fill="#141414" textLength="16.13" lengthAdjust="spacingAndGlyphs" stroke="#141414" stroke-width="0.35">10</text>
<text x="426.28" y="1250.70" font-size="14.5" font-weight="bold" fill="#141414" textLength="16.13" lengthAdjust="spacingAndGlyphs" stroke="#141414" stroke-width="0.35">20</text>
<text x="460.31" y="1250.70" font-size="14.5" font-weight="bold" fill="#141414" textLength="16.13" lengthAdjust="spacingAndGlyphs" stroke="#141414" stroke-width="0.35">50</text>
<text x="115.34" y="1270.90" font-size="16.5" font-weight="bold" fill="#141414" textLength="102.43" lengthAdjust="spacingAndGlyphs" stroke="#141414" stroke-width="0.35">PC 1 CM (%)</text>
<text x="364.82" y="1271.40" font-size="16.5" font-weight="bold" fill="#141414" textLength="104.16" lengthAdjust="spacingAndGlyphs" stroke="#141414" stroke-width="0.35">PC 1 CM (%)</text>
<text transform="translate(39.40,397.30) rotate(-90)" x="-1.14" y="0" font-size="16.2" font-weight="bold" fill="#141414" textLength="91.69" lengthAdjust="spacingAndGlyphs" stroke="#141414" stroke-width="0.35">IL8 (ng/mL)</text>
<text transform="translate(42.40,765.80) rotate(-90)" x="-1.15" y="0" font-size="16.2" font-weight="bold" fill="#141414" textLength="92.40" lengthAdjust="spacingAndGlyphs" stroke="#141414" stroke-width="0.35">IL6 (ng/mL)</text>
<text transform="translate(51.00,1168.80) rotate(-90)" x="-1.15" y="0" font-size="16.2" font-weight="bold" fill="#141414" textLength="92.61" lengthAdjust="spacingAndGlyphs" stroke="#141414" stroke-width="0.35">IL8 (ng/mL)</text>
<text transform="translate(297.50,1168.80) rotate(-90)" x="-1.15" y="0" font-size="16.2" font-weight="bold" fill="#141414" textLength="92.61" lengthAdjust="spacingAndGlyphs" stroke="#141414" stroke-width="0.35">IL6 (ng/mL)</text>
</svg></body></html>
